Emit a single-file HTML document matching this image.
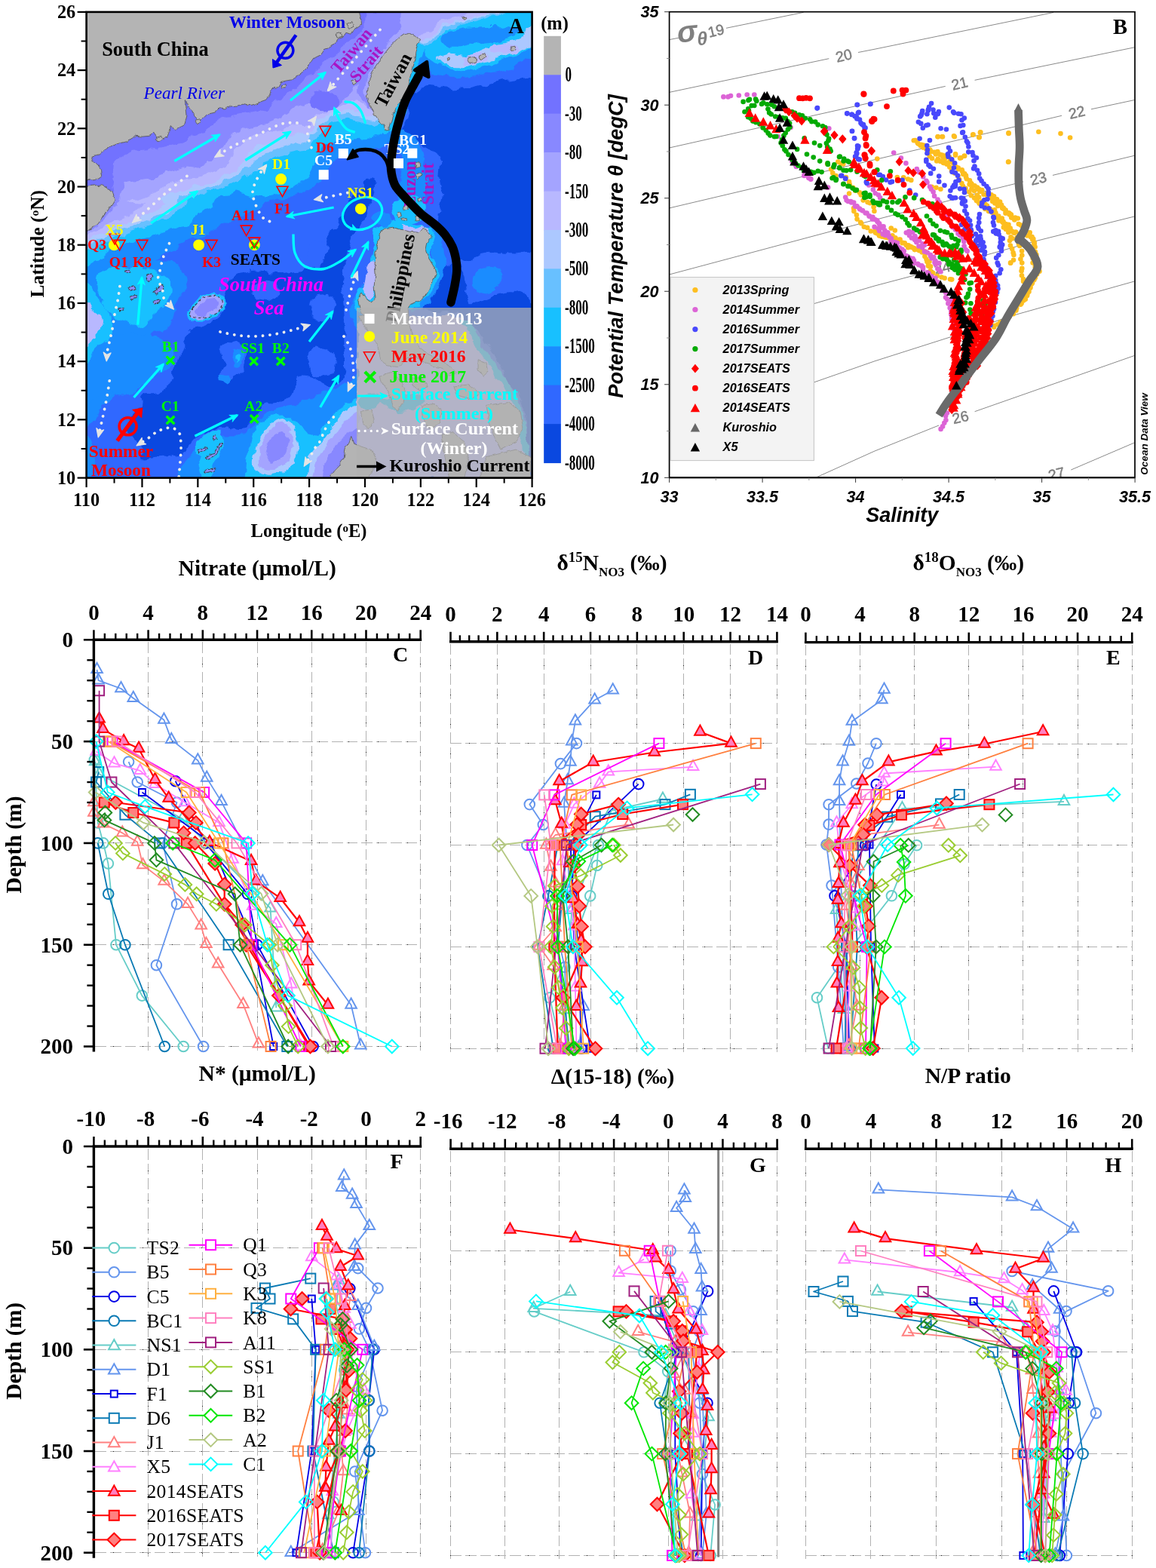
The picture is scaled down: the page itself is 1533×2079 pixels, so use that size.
<!DOCTYPE html>
<html lang="en"><head><meta charset="utf-8"><title>Figure</title>
<style>html,body{margin:0;padding:0;background:#fff}svg{display:block}text{white-space:pre}</style></head>
<body>
<svg width="1533" height="2079" viewBox="0 0 1533 2079">
<rect width="1533" height="2079" fill="#fff"/>
<g id="panelA">
<clipPath id="mapclip"><rect x="114.6" y="15.9" width="591.0" height="617.7"/></clipPath>
<filter id="rough" x="-5%" y="-5%" width="110%" height="110%" color-interpolation-filters="sRGB"><feTurbulence type="fractalNoise" baseFrequency="0.055" numOctaves="3" seed="4" result="n"/><feDisplacementMap in="SourceGraphic" in2="n" scale="13" xChannelSelector="R" yChannelSelector="G"/></filter>
<filter id="rough2" x="-5%" y="-5%" width="110%" height="110%" color-interpolation-filters="sRGB"><feTurbulence type="fractalNoise" baseFrequency="0.11" numOctaves="3" seed="9" result="n"/><feDisplacementMap in="SourceGraphic" in2="n" scale="5" xChannelSelector="R" yChannelSelector="G"/></filter>
<g clip-path="url(#mapclip)">
<g filter="url(#rough)">
<rect x="84.60" y="-14.10" width="651.00" height="677.70" fill="#3068ff" stroke="none" stroke-width="1" />
<path d="M707.5 102.0 L664.4 107.8 L625.3 116.7 L601.8 119.6 L572.4 113.7 L550.9 119.6 L543.1 135.2 L538.2 154.8 L535.2 172.4 L547.0 186.1 L572.4 195.9 L584.2 215.5 L582.2 235.0 L586.1 254.6 L582.2 280.1 L580.3 299.4 L586.1 315.0 L597.9 328.7 L609.6 342.4 L621.4 348.3 L635.0 338.5 L654.6 334.6 L684.0 336.5 L707.5 332.6 L720.0 335.0 L720.0 100.0Z" fill="#0a48e0" stroke="none" stroke-width="1" />
<path d="M576.3 363.9 C578.3 359.6 580.3 357.3 586.1 354.1 C592.0 351.0 600.2 345.5 605.7 348.3 C611.2 351.0 610.8 360.0 613.5 367.8 C616.3 375.7 618.6 378.8 619.4 387.4 C620.2 396.0 628.8 406.2 617.4 410.9 C606.1 415.6 572.0 414.8 562.6 410.9 C553.2 407.0 567.7 398.4 570.5 391.3 C573.2 384.3 575.2 381.2 576.3 375.7 C577.5 370.2 574.4 368.2 576.3 363.9Z" fill="#0a48e0" stroke="none" stroke-width="1" />
<path d="M615.5 408.3 C631.9 404.0 689.1 362.9 707.5 408.3 C725.9 453.7 708.6 589.9 707.5 635.3 C706.3 680.7 703.5 643.1 701.6 635.3 C699.6 627.4 699.2 615.7 697.7 596.1 C696.1 576.6 698.5 555.0 693.8 537.4 C689.1 519.8 680.8 519.8 674.2 508.1 C667.5 496.3 667.1 490.5 660.5 478.7 C653.8 467.0 648.0 459.1 640.9 449.4 C633.9 439.6 630.4 438.0 625.3 429.8 C620.2 421.6 599.0 412.6 615.5 408.3Z" fill="#0a48e0" stroke="none" stroke-width="1" />
<path d="M297.9 387.4 C299.8 380.4 298.3 377.2 305.7 371.8 C313.1 366.3 321.4 362.0 335.0 360.0 C348.7 358.1 359.2 362.8 374.2 362.0 C389.2 361.2 399.7 359.6 410.0 356.1 C420.3 352.6 420.6 349.8 425.7 344.4 C430.7 338.9 433.9 335.0 435.4 328.7 C437.0 322.4 431.5 318.9 433.5 313.1 C435.4 307.2 440.9 305.6 445.2 299.4 C449.5 293.1 451.1 287.6 455.0 281.7 C458.9 275.9 460.9 275.4 464.8 270.0 C468.7 264.6 469.9 260.8 474.6 254.6 C479.3 248.4 484.0 242.5 488.3 239.0 C492.6 235.4 494.3 233.5 496.1 237.0 C497.9 240.5 498.6 248.8 497.1 256.6 C495.5 264.3 491.2 268.9 488.3 275.9 C485.3 282.9 485.5 286.0 482.4 291.5 C479.3 297.0 476.1 297.8 472.6 303.3 C469.1 308.7 467.5 311.9 464.8 318.9 C462.1 326.0 460.9 330.7 458.9 338.5 C457.0 346.3 456.2 350.2 455.0 358.1 C453.8 365.9 452.9 369.8 453.1 377.6 C453.2 385.5 455.0 387.4 456.0 397.2 C457.0 407.0 457.8 416.8 457.9 426.6 C458.1 436.3 456.8 439.6 456.6 446.1 C456.3 452.6 456.5 452.6 456.6 459.1 C456.7 465.7 457.3 470.9 457.0 478.7 C456.7 486.5 458.5 491.6 455.0 498.3 C451.5 504.9 445.2 510.0 439.4 512.0 C433.5 513.9 431.5 510.8 425.7 508.1 C419.8 505.3 416.8 500.2 410.0 498.3 C403.2 496.3 395.8 495.5 391.8 498.3 C387.8 501.0 391.4 506.5 389.8 512.0 C388.3 517.5 388.3 521.4 384.0 525.7 C379.7 530.0 374.2 531.5 368.3 533.5 C362.4 535.5 359.3 533.1 354.6 535.5 C349.9 537.8 349.5 540.2 344.8 545.2 C340.1 550.3 335.8 555.8 331.1 560.9 C326.4 566.0 328.4 569.1 321.4 570.7 C314.3 572.3 305.7 567.9 295.9 568.7 C286.1 569.5 279.9 571.9 272.4 574.6 C265.0 577.3 263.8 578.1 258.7 582.4 C253.6 586.7 251.7 592.2 247.0 596.1 C242.3 600.0 243.1 600.0 235.2 602.0 C227.4 604.0 217.2 604.7 207.8 605.9 C198.5 607.1 192.2 609.8 188.3 607.9 C184.4 605.9 190.2 601.2 188.3 596.1 C186.3 591.0 182.4 587.1 178.5 582.4 C174.6 577.7 169.5 577.7 168.7 572.6 C167.9 567.6 171.8 563.2 174.6 557.0 C177.3 550.7 179.7 545.2 182.4 541.3 C185.1 537.4 186.7 540.9 188.3 537.4 C189.8 533.9 185.5 527.6 190.2 523.7 C194.9 519.8 203.9 521.4 211.8 517.8 C219.6 514.3 225.5 512.8 229.4 506.1 C233.3 499.5 229.8 490.5 231.3 484.6 C232.9 478.7 234.5 482.6 237.2 476.8 C239.9 470.9 241.9 463.1 245.0 455.2 C248.2 447.4 251.7 441.0 252.9 437.6 C254.0 434.2 244.2 440.9 250.9 438.3 C257.6 435.7 277.1 430.9 286.1 424.6 C295.1 418.3 293.6 414.4 295.9 407.0 C298.3 399.5 295.9 394.5 297.9 387.4Z" fill="#0a48e0" stroke="none" stroke-width="1" />
<path d="M292.0 459.1 C294.0 454.1 299.8 453.3 305.7 453.3 C311.6 453.3 317.4 454.1 321.4 459.1 C325.3 464.2 326.0 470.9 325.3 478.7 C324.5 486.5 322.1 493.2 317.4 498.3 C312.7 503.4 306.9 504.9 301.8 504.1 C296.7 503.4 293.2 499.5 292.0 494.4 C290.8 489.3 295.9 485.8 295.9 478.7 C295.9 471.7 290.0 464.2 292.0 459.1Z" fill="#3068ff" stroke="none" stroke-width="1" />
<path d="M335.0 379.6 C337.0 374.5 347.6 371.8 354.6 371.8 C361.7 371.8 368.3 374.9 370.3 379.6 C372.2 384.3 369.5 391.7 364.4 395.2 C359.3 398.8 350.7 400.3 344.8 397.2 C339.0 394.1 333.1 384.7 335.0 379.6Z" fill="#3068ff" stroke="none" stroke-width="1" />
<path d="M410.0 324.8 C411.6 318.1 417.4 318.1 421.7 318.9 C426.0 319.7 430.4 322.8 431.5 328.7 C432.7 334.6 431.1 343.6 427.6 348.3 C424.1 353.0 417.4 356.9 413.9 352.2 C410.4 347.5 408.4 331.4 410.0 324.8Z" fill="#3068ff" stroke="none" stroke-width="1" />
<path d="M413.9 397.2 C418.6 393.3 426.8 390.2 433.5 391.3 C440.1 392.5 446.0 397.6 447.2 403.1 C448.4 408.6 444.4 414.8 439.4 418.7 C434.3 422.6 427.6 424.2 421.7 422.6 C415.9 421.1 411.6 416.0 410.0 410.9 C408.4 405.8 409.2 401.1 413.9 397.2Z" fill="#3068ff" stroke="none" stroke-width="1" />
<path d="M410.0 465.7 C413.9 460.2 422.5 459.4 429.6 461.8 C436.6 464.1 443.3 470.8 445.2 477.4 C447.2 484.1 444.1 490.4 439.4 495.0 C434.7 499.7 427.6 502.1 421.7 500.9 C415.9 499.7 412.3 496.2 410.0 489.2 C407.7 482.1 406.1 471.2 410.0 465.7Z" fill="#3068ff" stroke="none" stroke-width="1" />
<path d="M110.0 391.3 L133.5 371.8 L158.9 360.0 L192.2 352.2 L219.6 334.6 L247.0 322.8 L276.3 309.1 L305.7 295.4 L335.0 281.7 L354.6 270.0 L374.2 262.4 L393.8 258.5 L410.0 250.7 L425.7 240.9 L439.4 221.4 L458.9 205.7 L484.4 197.9 L503.9 195.9 L519.6 186.1 L527.4 178.3 L519.6 162.6 L520.0 100.0 L300.0 60.0 L100.0 200.0 L100.0 390.0Z" fill="#1a8cff" stroke="none" stroke-width="1" />
<path d="M110.0 352.2 C115.9 322.4 127.6 356.1 139.4 356.1 C151.1 356.1 157.0 354.5 168.7 352.2 C180.5 349.8 186.3 345.1 198.1 344.4 C209.8 343.6 218.4 344.8 227.4 348.3 C236.4 351.8 239.2 355.7 243.1 362.0 C247.0 368.2 248.6 372.5 247.0 379.6 C245.4 386.6 238.4 389.4 235.2 397.2 C232.1 405.0 234.5 410.9 231.3 418.7 C228.2 426.6 225.9 430.9 219.6 436.3 C213.3 441.8 205.5 440.3 200.0 446.1 C194.5 452.0 197.3 458.6 192.2 465.7 C187.1 472.7 183.2 477.4 174.6 481.4 C166.0 485.3 158.1 482.5 149.1 485.3 C140.1 488.0 137.4 491.1 129.6 495.0 C121.7 499.0 113.9 533.4 110.0 504.8 C106.1 476.3 104.1 381.9 110.0 352.2Z" fill="#1a8cff" stroke="none" stroke-width="1" />
<path d="M110.0 468.9 C113.9 451.3 121.7 475.6 129.6 478.7 C137.4 481.8 140.5 483.8 149.1 484.6 C157.7 485.4 164.8 479.9 172.6 482.6 C180.5 485.4 187.1 491.2 188.3 498.3 C189.5 505.3 184.4 513.2 178.5 517.8 C172.6 522.5 166.8 517.8 158.9 521.8 C151.1 525.7 146.8 530.4 139.4 537.4 C131.9 544.5 127.6 551.1 121.7 557.0 C115.9 562.9 112.3 584.4 110.0 566.8 C107.7 549.2 106.1 486.5 110.0 468.9Z" fill="#1a8cff" stroke="none" stroke-width="1" />
<path d="M110.0 576.6 C112.3 566.0 118.6 576.6 121.7 582.4 C124.9 588.3 126.0 595.3 125.7 605.9 C125.3 616.5 122.9 629.4 119.8 635.3 C116.7 641.1 112.0 647.0 110.0 635.3 C108.0 623.5 107.7 587.1 110.0 576.6Z" fill="#1a8cff" stroke="none" stroke-width="1" />
<path d="M110.0 436.3 C115.9 419.5 127.6 445.3 139.4 446.1 C151.1 446.9 157.0 440.3 168.7 440.3 C180.5 440.3 187.1 442.6 198.1 446.1 C209.0 449.6 216.8 452.0 223.5 457.9 C230.2 463.7 232.1 468.8 231.3 475.5 C230.5 482.1 225.5 486.0 219.6 491.1 C213.7 496.2 209.0 495.8 202.0 500.9 C194.9 506.0 191.8 511.9 184.4 516.6 C176.9 521.3 173.8 523.2 164.8 524.4 C155.8 525.6 150.3 521.3 139.4 522.4 C128.4 523.6 115.9 547.5 110.0 530.3 C104.1 513.1 104.1 453.2 110.0 436.3Z" fill="#1a8cff" stroke="none" stroke-width="1" />
<path d="M309.6 468.9 C311.2 465.0 315.1 463.8 317.4 465.0 C319.8 466.2 321.4 470.5 321.4 474.8 C321.4 479.1 319.8 484.6 317.4 486.5 C315.1 488.5 311.2 488.1 309.6 484.6 C308.0 481.1 308.0 472.8 309.6 468.9Z" fill="#1a8cff" stroke="none" stroke-width="1" />
<path d="M312.5 472.8 C313.1 471.1 315.5 470.7 316.5 471.9 C317.4 473.0 318.0 476.9 317.4 478.7 C316.8 480.5 314.5 481.8 313.5 480.7 C312.5 479.5 312.0 474.6 312.5 472.8Z" fill="#18c0ff" stroke="none" stroke-width="1" />
<path d="M292.0 498.3 C293.2 496.7 299.4 498.7 301.8 500.2 C304.1 501.8 304.9 504.5 303.7 506.1 C302.6 507.7 298.3 509.6 295.9 508.1 C293.6 506.5 290.8 499.8 292.0 498.3Z" fill="#1a8cff" stroke="none" stroke-width="1" />
<path d="M235.2 635.3 L243.1 615.7 L258.7 596.1 L278.3 582.4 L301.8 576.6 L325.3 576.6 L335.0 564.8 L350.7 549.2 L368.3 541.3 L387.9 537.4 L410.0 529.6 L429.6 521.8 L449.1 513.9 L464.8 502.2 L474.6 494.4 L474.6 635.3Z" fill="#1a8cff" stroke="none" stroke-width="1" />
<path d="M494.1 289.6 C494.1 284.1 506.7 280.6 511.8 281.7 C516.8 282.9 521.2 290.0 519.6 295.4 C518.0 300.9 508.6 302.5 503.9 309.1 C499.2 315.8 498.5 320.9 496.1 328.7 C493.8 336.5 493.8 340.5 492.2 348.3 C490.6 356.1 491.0 361.6 488.3 367.8 C485.5 374.1 482.4 373.7 478.5 379.6 C474.6 385.5 471.1 389.4 468.7 397.2 C466.4 405.0 465.6 408.9 466.8 418.7 C467.9 428.5 473.0 432.8 474.6 446.1 C476.1 459.4 471.1 477.4 474.6 485.3 C478.1 493.1 486.3 500.9 492.2 485.3 C498.1 469.6 500.8 434.4 503.9 407.0 C507.1 379.6 506.3 367.8 507.8 348.3 C509.4 328.7 514.5 320.9 511.8 309.1 C509.0 297.4 494.1 295.0 494.1 289.6Z" fill="#1a8cff" stroke="none" stroke-width="1" />
<path d="M519.6 176.3 C520.4 170.5 529.0 171.3 535.2 172.4 C541.5 173.6 546.2 176.3 550.9 182.2 C555.6 188.1 556.4 193.2 558.7 201.8 C561.1 210.4 561.5 214.7 562.6 225.3 C563.8 235.8 565.4 243.7 564.6 254.6 C563.8 265.6 564.6 275.0 558.7 280.1 C552.9 285.1 541.5 285.1 535.2 280.1 C529.0 275.0 527.4 264.8 527.4 254.6 C527.4 244.4 534.5 239.7 535.2 229.2 C536.0 218.6 534.5 212.3 531.3 201.8 C528.2 191.2 518.8 182.2 519.6 176.3Z" fill="#1a8cff" stroke="none" stroke-width="1" />
<path d="M566.6 299.4 C568.9 295.4 578.3 303.3 582.2 309.1 C586.1 315.0 584.2 320.1 586.1 328.7 C588.1 337.3 592.0 343.6 592.0 352.2 C592.0 360.8 588.9 364.7 586.1 371.8 C583.4 378.8 582.2 381.2 578.3 387.4 C574.4 393.7 572.8 398.4 566.6 403.1 C560.3 407.8 548.6 414.0 547.0 410.9 C545.4 407.8 552.9 398.0 558.7 387.4 C564.6 376.8 574.0 369.8 576.3 358.1 C578.7 346.3 572.4 340.5 570.5 328.7 C568.5 317.0 564.2 303.3 566.6 299.4Z" fill="#1a8cff" stroke="none" stroke-width="1" />
<path d="M629.2 362.0 C633.5 356.9 641.7 354.1 648.7 354.1 C655.8 354.1 662.1 356.9 664.4 362.0 C666.8 367.1 665.2 374.5 660.5 379.6 C655.8 384.7 647.6 387.4 640.9 387.4 C634.3 387.4 629.6 384.7 627.2 379.6 C624.9 374.5 624.9 367.1 629.2 362.0Z" fill="#1a8cff" stroke="none" stroke-width="1" />
<path d="M554.8 74.6 C554.8 82.4 560.3 87.1 566.6 92.2 C572.8 97.3 576.3 98.1 586.1 100.0 C595.9 102.0 603.7 102.4 615.5 102.0 C627.2 101.6 633.1 100.0 644.8 98.1 C656.6 96.1 664.4 95.3 674.2 92.2 C684.0 89.1 687.1 85.9 693.8 82.4 C700.4 78.9 704.7 87.9 707.5 74.6 C710.2 61.3 718.0 27.6 707.5 15.9 C696.9 4.1 675.0 13.1 654.6 15.9 C634.3 18.6 623.3 22.1 605.7 29.6 C588.1 37.0 576.7 44.1 566.6 53.1 C556.4 62.1 554.8 66.8 554.8 74.6Z" fill="#1a8cff" stroke="none" stroke-width="1" />
<path d="M110.0 356.1 L129.6 344.4 L149.1 328.7 L178.5 318.9 L207.8 311.1 L227.4 305.2 L247.0 299.4 L266.6 281.7 L282.2 270.0 L295.9 258.5 L315.5 254.6 L335.0 260.5 L354.6 262.4 L374.2 254.6 L393.8 244.8 L410.0 235.0 L421.7 205.7 L429.6 190.0 L449.1 186.1 L472.6 184.2 L492.2 182.2 L507.8 176.3 L515.7 166.6 L511.8 154.8 L500.0 100.0 L300.0 60.0 L100.0 200.0 L100.0 350.0Z" fill="#18c0ff" stroke="none" stroke-width="1" />
<path d="M133.5 362.0 C139.4 357.3 148.0 357.3 158.9 356.1 C169.9 354.9 177.7 354.5 188.3 356.1 C198.8 357.7 203.9 359.2 211.8 363.9 C219.6 368.6 225.9 371.8 227.4 379.6 C229.0 387.4 224.7 395.2 219.6 403.1 C214.5 410.9 208.2 412.9 202.0 418.7 C195.7 424.6 194.9 430.1 188.3 432.4 C181.6 434.8 176.5 433.2 168.7 430.5 C160.9 427.7 155.4 425.4 149.1 418.7 C142.9 412.1 141.3 405.0 137.4 397.2 C133.5 389.4 130.4 386.6 129.6 379.6 C128.8 372.5 127.6 366.7 133.5 362.0Z" fill="#18c0ff" stroke="none" stroke-width="1" />
<path d="M110.0 379.6 C113.1 362.0 119.4 381.9 125.7 387.4 C131.9 392.9 137.4 399.2 141.3 407.0 C145.2 414.8 146.8 418.7 145.2 426.6 C143.7 434.4 138.2 438.3 133.5 446.1 C128.8 454.0 126.4 459.8 121.7 465.7 C117.0 471.6 112.3 492.7 110.0 475.5 C107.7 458.3 106.9 397.2 110.0 379.6Z" fill="#18c0ff" stroke="none" stroke-width="1" />
<path d="M110.0 420.0 C114.7 409.0 125.7 417.7 133.5 420.0 C141.3 422.3 146.8 425.9 149.1 431.7 C151.5 437.6 149.1 443.9 145.2 449.4 C141.3 454.8 135.0 454.8 129.6 459.1 C124.1 463.4 121.7 467.7 117.8 470.9 C113.9 474.0 111.6 485.0 110.0 474.8 C108.4 464.6 105.3 431.0 110.0 420.0Z" fill="#18c0ff" stroke="none" stroke-width="1" />
<path d="M558.7 58.9 C557.9 64.0 561.1 68.7 566.6 74.6 C572.0 80.5 577.5 84.4 586.1 88.3 C594.7 92.2 599.8 93.8 609.6 94.1 C619.4 94.5 624.9 92.6 635.0 90.2 C645.2 87.9 650.7 85.9 660.5 82.4 C670.3 78.9 674.6 76.9 684.0 72.6 C693.4 68.3 702.8 72.2 707.5 60.9 C712.2 49.5 717.2 24.9 707.5 15.9 C697.7 6.9 675.0 13.9 658.5 15.9 C642.1 17.8 639.0 21.0 625.3 25.7 C611.6 30.4 601.0 34.7 590.0 39.4 C579.1 44.1 576.7 45.2 570.5 49.1 C564.2 53.1 559.5 53.8 558.7 58.9Z" fill="#18c0ff" stroke="none" stroke-width="1" />
<path d="M325.3 635.3 L327.2 611.8 L333.1 588.3 L339.0 564.8 L356.6 553.1 L380.1 551.1 L395.7 560.9 L410.0 576.6 L421.7 576.6 L433.5 560.9 L445.2 545.2 L458.9 535.5 L474.6 527.6 L474.6 635.3Z" fill="#18c0ff" stroke="none" stroke-width="1" />
<path d="M258.7 592.2 C259.9 585.9 266.2 580.5 272.4 576.6 C278.7 572.6 285.0 571.1 290.0 572.6 C295.1 574.2 297.5 578.9 297.9 584.4 C298.3 589.9 295.1 593.8 292.0 600.0 C288.9 606.3 283.4 610.2 282.2 615.7 C281.0 621.2 287.7 623.9 286.1 627.4 C284.6 631.0 279.1 633.7 274.4 633.3 C269.7 632.9 264.2 630.6 262.6 625.5 C261.1 620.4 267.3 614.5 266.6 607.9 C265.8 601.2 257.6 598.5 258.7 592.2Z" fill="#18c0ff" stroke="none" stroke-width="1" />
<path d="M498.1 303.3 C501.2 299.0 505.9 299.4 511.8 297.4 C517.6 295.4 520.4 293.1 527.4 293.5 C534.5 293.9 539.5 298.2 547.0 299.4 C554.4 300.5 559.1 297.4 564.6 299.4 C570.1 301.3 572.0 304.8 574.4 309.1 C576.7 313.4 577.1 315.8 576.3 320.9 C575.6 326.0 570.5 329.1 570.5 334.6 C570.5 340.1 574.0 342.8 576.3 348.3 C578.7 353.8 581.8 356.5 582.2 362.0 C582.6 367.5 580.6 370.2 578.3 375.7 C575.9 381.2 574.4 384.3 570.5 389.4 C566.6 394.5 563.4 397.6 558.7 401.1 C554.0 404.6 560.3 405.8 547.0 407.0 C533.7 408.2 506.7 406.2 492.2 407.0 C477.7 407.8 478.9 412.9 474.6 410.9 C470.3 408.9 470.3 402.7 470.7 397.2 C471.1 391.7 473.0 387.0 476.5 383.5 C480.1 380.0 485.5 384.7 488.3 379.6 C491.0 374.5 489.5 367.1 490.2 358.1 C491.0 349.1 491.0 342.4 492.2 334.6 C493.4 326.8 494.9 325.2 496.1 318.9 C497.3 312.7 494.9 307.6 498.1 303.3Z" fill="#18c0ff" stroke="none" stroke-width="1" />
<path d="M531.3 270.3 C533.7 266.8 537.6 264.0 543.1 262.4 C548.6 260.9 554.8 258.9 558.7 262.4 C562.6 266.0 568.1 276.5 562.6 280.1 C557.2 283.6 537.6 282.0 531.3 280.1 C525.1 278.1 529.0 273.8 531.3 270.3Z" fill="#18c0ff" stroke="none" stroke-width="1" />
<path d="M519.6 270.0 C521.2 263.7 527.4 264.1 535.2 264.1 C543.1 264.1 553.2 265.7 558.7 270.0 C564.2 274.3 565.0 280.2 562.6 285.7 C560.3 291.1 554.0 295.4 547.0 297.4 C539.9 299.4 532.9 300.9 527.4 295.4 C521.9 290.0 518.0 276.3 519.6 270.0Z" fill="#18c0ff" stroke="none" stroke-width="1" />
<path d="M556.8 55.0 C559.5 55.0 561.1 62.1 560.7 68.7 C560.3 75.4 556.8 80.5 554.8 88.3 C552.9 96.1 552.9 100.0 550.9 107.8 C548.9 115.7 547.8 119.6 545.0 127.4 C542.3 135.2 540.3 139.9 537.2 147.0 C534.1 154.0 532.5 156.8 529.4 162.6 C526.2 168.5 525.1 173.6 521.5 176.3 C518.0 179.1 514.5 179.9 511.8 176.3 C509.0 172.8 500.8 180.3 507.8 158.7 C514.9 137.2 537.2 89.5 547.0 68.7 C556.8 48.0 554.0 55.0 556.8 55.0Z" fill="#18c0ff" stroke="none" stroke-width="1" />
<path d="M586.1 49.1 C589.6 45.2 595.9 42.1 605.7 39.4 C615.5 36.6 623.3 36.2 635.0 35.4 C646.8 34.7 653.8 34.7 664.4 35.4 C675.0 36.2 684.8 36.6 687.9 39.4 C691.0 42.1 686.7 46.0 680.1 49.1 C673.4 52.3 665.6 53.1 654.6 55.0 C643.7 57.0 635.8 57.4 625.3 58.9 C614.7 60.5 609.2 62.8 601.8 62.8 C594.3 62.8 591.2 61.7 588.1 58.9 C585.0 56.2 582.6 53.1 586.1 49.1Z" fill="#1a8cff" stroke="none" stroke-width="1" />
<path d="M110.0 334.6 L129.6 326.8 L149.1 315.0 L178.5 305.2 L207.8 295.4 L231.3 283.7 L247.0 270.0 L250.9 264.4 L270.5 256.6 L286.1 250.7 L305.7 244.8 L325.3 235.0 L340.9 225.3 L360.5 211.6 L384.0 203.7 L410.0 197.9 L425.7 174.4 L439.4 162.6 L458.9 158.7 L478.5 162.6 L494.1 166.6 L503.9 162.6 L502.0 154.8 L511.8 107.8 L547.0 58.9 L562.6 60.9 L576.3 53.1 L595.9 39.4 L625.3 29.6 L660.5 19.8 L670.3 15.9 L640.0 0.0 L100.0 0.0 L100.0 330.0Z" fill="#68c0ff" stroke="none" stroke-width="1" />
<path d="M110.0 326.8 L129.6 318.9 L149.1 309.1 L178.5 299.4 L203.9 289.6 L221.5 279.8 L235.2 270.0 L237.2 262.4 L262.6 252.7 L282.2 246.8 L301.8 239.0 L321.4 227.2 L335.0 215.5 L354.6 201.8 L374.2 194.0 L393.8 188.1 L410.0 186.1 L421.7 166.6 L439.4 154.8 L458.9 150.9 L476.5 154.8 L492.2 160.7 L501.0 156.8 L502.0 154.8 L511.8 107.8 L547.0 58.9 L560.7 57.9 L572.4 50.1 L592.0 36.4 L621.4 26.6 L656.6 17.8 L662.4 15.9 L640.0 0.0 L100.0 0.0 L100.0 330.0Z" fill="#acc8ff" stroke="none" stroke-width="1" />
<path d="M110.0 318.9 L129.6 311.1 L149.1 303.3 L174.6 293.5 L198.1 283.7 L211.8 275.9 L219.6 270.0 L211.8 264.4 L231.3 256.6 L256.8 246.8 L276.3 242.9 L295.9 235.0 L315.5 223.3 L325.3 207.7 L344.8 194.0 L364.4 186.1 L384.0 180.3 L410.0 176.3 L419.8 160.7 L439.4 148.9 L458.9 145.0 L474.6 147.0 L488.3 154.8 L498.1 152.9 L502.0 154.8 L511.8 107.8 L547.0 58.9 L558.7 56.0 L568.5 48.2 L588.1 34.5 L617.4 24.7 L652.7 16.8 L654.6 15.9 L640.0 0.0 L100.0 0.0 L100.0 330.0Z" fill="#b8b8ff" stroke="none" stroke-width="1" />
<path d="M110.0 312.1 L125.7 306.2 L145.2 297.4 L168.7 287.6 L184.4 277.8 L192.2 270.0 L168.7 268.3 L188.3 260.5 L203.9 256.6 L219.6 246.8 L243.1 239.0 L266.6 235.0 L286.1 227.2 L305.7 217.4 L307.7 207.7 L311.6 197.9 L325.3 184.2 L344.8 176.3 L364.4 172.4 L384.0 168.5 L410.0 164.6 L419.8 154.8 L439.4 145.0 L458.9 137.2 L472.6 135.2 L484.4 143.1 L494.1 147.0 L502.0 154.8 L511.8 107.8 L547.0 58.9 L554.8 52.1 L562.6 43.3 L580.3 31.5 L605.7 21.7 L625.3 15.9 L640.0 0.0 L100.0 0.0 L100.0 330.0Z" fill="#a4a4ff" stroke="none" stroke-width="1" />
<path d="M110.0 307.2 L121.7 302.3 L135.4 291.5 L149.1 277.8 L155.0 270.0 L155.0 266.4 L160.9 254.6 L164.8 242.9 L184.4 240.9 L202.0 239.0 L219.6 227.2 L247.0 219.4 L264.6 221.4 L282.2 211.6 L297.9 192.0 L307.7 180.3 L325.3 170.5 L354.6 164.6 L374.2 156.8 L393.8 141.1 L410.0 135.2 L421.7 131.3 L433.5 145.0 L453.1 135.2 L468.7 119.6 L480.5 103.9 L492.2 84.4 L503.9 68.7 L519.6 53.1 L531.3 39.4 L535.2 15.9 L640.0 0.0 L100.0 0.0 L100.0 330.0Z" fill="#8888ff" stroke="none" stroke-width="1" />
<path d="M110.0 303.3 L117.8 301.3 L152.1 264.4 L150.1 252.7 L148.2 237.0 L150.1 217.4 L159.9 207.7 L175.6 199.8 L199.0 197.9 L220.6 194.0 L238.2 188.1 L251.9 180.3 L267.5 174.4 L279.3 168.5 L294.9 156.8 L316.5 151.9 L336.0 148.9 L355.6 145.0 L367.3 133.3 L385.0 121.5 L400.6 109.8 L410.0 100.0 L421.7 90.2 L435.4 78.5 L449.1 68.7 L462.8 57.0 L476.5 47.2 L484.4 35.4 L484.4 15.9 L640.0 0.0 L100.0 0.0 L100.0 330.0Z" fill="#7272ff" stroke="none" stroke-width="1" />
<path d="M413.9 127.4 C416.3 123.1 422.9 121.5 429.6 121.5 C436.2 121.5 443.3 123.9 447.2 127.4 C451.1 130.9 451.9 135.2 449.1 139.2 C446.4 143.1 439.7 146.2 433.5 147.0 C427.2 147.8 421.7 147.0 417.8 143.1 C413.9 139.2 411.6 131.7 413.9 127.4Z" fill="#7272ff" stroke="none" stroke-width="1" />
<path d="M484.4 119.6 C484.8 110.6 487.5 105.1 490.2 98.1 C493.0 91.0 497.7 87.9 498.1 84.4 C498.5 80.8 495.3 78.9 492.2 80.5 C489.1 82.0 485.5 85.9 482.4 92.2 C479.3 98.5 477.3 103.9 476.5 111.8 C475.8 119.6 476.1 125.1 478.5 131.3 C480.8 137.6 487.1 145.4 488.3 143.1 C489.5 140.7 484.0 128.6 484.4 119.6Z" fill="#8888ff" stroke="none" stroke-width="1" />
<path d="M114.9 233.1 L135.4 231.1 L145.2 244.8 L151.1 258.5 L149.1 264.4 L114.9 264.4Z" fill="#7272ff" stroke="none" stroke-width="1" />
<path d="M245.0 416.8 C245.0 412.9 250.5 409.7 254.8 405.0 C259.1 400.3 261.1 396.4 266.6 393.3 C272.0 390.2 276.3 389.4 282.2 389.4 C288.1 389.4 292.8 390.2 295.9 393.3 C299.0 396.4 299.0 400.3 297.9 405.0 C296.7 409.7 294.7 412.9 290.0 416.8 C285.3 420.7 281.4 423.0 274.4 424.6 C267.3 426.2 260.7 426.2 254.8 424.6 C248.9 423.0 245.0 420.7 245.0 416.8Z" fill="#18c0ff" stroke="none" stroke-width="1" />
<path d="M249.9 415.8 C250.3 412.5 255.0 409.1 258.7 405.0 C262.4 400.9 263.8 397.8 268.5 395.2 C273.2 392.7 277.3 392.3 282.2 392.3 C287.1 392.3 290.4 392.7 293.0 395.2 C295.5 397.8 296.1 401.1 294.9 405.0 C293.8 408.9 291.6 411.5 287.1 414.8 C282.6 418.1 278.5 420.3 272.4 421.7 C266.4 423.0 261.3 422.8 256.8 421.7 C252.3 420.5 249.5 419.1 249.9 415.8Z" fill="#a4a4ff" stroke="none" stroke-width="1" />
<path d="M258.7 412.9 C257.9 409.7 263.0 406.2 266.6 403.1 C270.1 399.9 272.4 398.4 276.3 397.2 C280.3 396.0 283.4 395.6 286.1 397.2 C288.9 398.8 290.8 401.9 290.0 405.0 C289.3 408.2 286.1 410.1 282.2 412.9 C278.3 415.6 275.2 418.7 270.5 418.7 C265.8 418.7 259.5 416.0 258.7 412.9Z" fill="#8888ff" stroke="none" stroke-width="1" />
<path d="M337.0 615.7 C336.2 608.6 338.2 600.8 340.9 592.2 C343.7 583.6 346.0 579.3 350.7 572.6 C355.4 566.0 358.5 562.1 364.4 558.9 C370.3 555.8 375.0 555.0 380.1 557.0 C385.1 558.9 387.1 562.5 389.8 568.7 C392.6 575.0 393.4 580.5 393.8 588.3 C394.1 596.1 394.5 600.8 391.8 607.9 C389.1 614.9 386.3 619.2 380.1 623.5 C373.8 627.8 367.5 628.6 360.5 629.4 C353.4 630.2 349.5 630.2 344.8 627.4 C340.1 624.7 337.8 622.7 337.0 615.7Z" fill="#acc8ff" stroke="none" stroke-width="1" />
<path d="M342.9 611.8 C342.9 605.9 344.4 599.3 346.8 592.2 C349.1 585.2 350.7 582.4 354.6 576.6 C358.5 570.7 361.7 566.0 366.4 562.9 C371.1 559.7 374.2 558.9 378.1 560.9 C382.0 562.9 383.8 566.8 385.9 572.6 C388.1 578.5 389.3 583.6 388.9 590.3 C388.5 596.9 387.3 600.0 384.0 605.9 C380.6 611.8 377.7 616.1 372.2 619.6 C366.8 623.1 361.7 623.1 356.6 623.5 C351.5 623.9 349.5 623.9 346.8 621.6 C344.1 619.2 342.9 617.7 342.9 611.8Z" fill="#a4a4ff" stroke="none" stroke-width="1" />
<path d="M352.7 596.1 C354.2 590.6 357.0 585.6 360.5 580.5 C364.0 575.4 366.4 571.5 370.3 570.7 C374.2 569.9 377.7 572.3 380.1 576.6 C382.4 580.9 383.6 586.3 382.0 592.2 C380.5 598.1 376.5 601.6 372.2 605.9 C367.9 610.2 364.4 613.3 360.5 613.7 C356.6 614.1 354.2 611.4 352.7 607.9 C351.1 604.3 351.1 601.6 352.7 596.1Z" fill="#8888ff" stroke="none" stroke-width="1" />
<path d="M406.1 635.3 L410.0 607.9 L423.7 588.3 L439.4 564.8 L455.0 545.2 L474.6 533.5 L474.6 635.3Z" fill="#acc8ff" stroke="none" stroke-width="1" />
<path d="M413.9 635.3 L417.8 613.7 L429.6 594.2 L443.3 574.6 L458.9 557.0 L474.6 545.2 L474.6 635.3Z" fill="#a4a4ff" stroke="none" stroke-width="1" />
<path d="M425.7 635.3 L431.5 611.8 L443.3 592.2 L455.0 580.5 L474.6 568.7 L474.6 635.3Z" fill="#8888ff" stroke="none" stroke-width="1" />
<path d="M474.6 420.0 L615.5 420.0 L635.0 459.1 L664.4 498.3 L687.9 537.4 L697.7 596.1 L701.6 635.3 L474.6 635.3Z" fill="#b8b8ff" stroke="none" stroke-width="1" />
<path d="M621.4 423.9 L640.9 459.1 L668.3 498.3 L691.8 537.4 L699.6 596.1 L702.6 635.3 L697.7 635.3 L691.8 596.1 L684.0 541.3 L660.5 502.2 L633.1 463.1 L613.5 423.9Z" fill="#18c0ff" stroke="none" stroke-width="1" />
<path d="M507.8 529.6 C513.3 524.9 536.0 521.8 547.0 521.8 C557.9 521.8 561.9 525.7 562.6 529.6 C563.4 533.5 559.5 538.2 550.9 541.3 C542.3 544.5 528.2 547.6 519.6 545.2 C511.0 542.9 502.4 534.3 507.8 529.6Z" fill="#18c0ff" stroke="none" stroke-width="1" />
<path d="M480.5 525.7 C484.8 522.5 494.5 521.0 500.0 521.8 C505.5 522.5 508.6 525.7 507.8 529.6 C507.1 533.5 502.0 539.8 496.1 541.3 C490.2 542.9 481.6 540.5 478.5 537.4 C475.4 534.3 476.1 528.8 480.5 525.7Z" fill="#18c0ff" stroke="none" stroke-width="1" />
<path d="M496.1 344.4 C498.5 345.1 499.6 349.1 500.0 356.1 C500.4 363.2 498.8 371.8 498.1 379.6 C497.3 387.4 498.1 391.7 496.1 395.2 C494.1 398.8 491.0 398.8 488.3 397.2 C485.5 395.6 483.2 393.3 482.4 387.4 C481.6 381.5 483.2 374.9 484.4 367.8 C485.5 360.8 485.9 356.9 488.3 352.2 C490.6 347.5 493.8 343.6 496.1 344.4Z" fill="#b8b8ff" stroke="none" stroke-width="1" />
<path d="M531.3 299.4 C532.9 298.2 540.7 303.3 547.0 303.3 C553.2 303.3 558.7 298.2 562.6 299.4 C566.6 300.5 568.1 306.4 566.6 309.1 C565.0 311.9 560.3 313.1 554.8 313.1 C549.3 313.1 543.9 311.9 539.2 309.1 C534.5 306.4 529.8 300.5 531.3 299.4Z" fill="#b8b8ff" stroke="none" stroke-width="1" />
<path d="M110.0 407.0 C112.3 398.4 117.0 407.8 121.7 410.9 C126.4 414.0 131.9 416.4 133.5 422.6 C135.0 428.9 132.7 436.3 129.6 442.2 C126.4 448.1 121.7 449.6 117.8 452.0 C113.9 454.3 111.6 463.0 110.0 454.0 C108.4 445.0 107.7 415.6 110.0 407.0Z" fill="#b8b8ff" stroke="none" stroke-width="1" />
<path d="M110.0 425.9 C112.0 419.6 117.4 426.7 119.8 431.7 C122.1 436.8 123.7 445.0 121.7 451.3 C119.8 457.6 112.3 468.1 110.0 463.1 C107.7 458.0 108.0 432.1 110.0 425.9Z" fill="#b8b8ff" stroke="none" stroke-width="1" />
<path d="M582.2 74.6 C584.6 71.8 590.8 70.7 597.9 70.7 C604.9 70.7 610.0 75.4 617.4 74.6 C624.9 73.8 627.6 69.9 635.0 66.8 C642.5 63.6 646.8 61.3 654.6 58.9 C662.4 56.6 666.4 57.0 674.2 55.0 C682.0 53.1 687.1 53.4 693.8 49.1 C700.4 44.8 704.7 31.1 707.5 33.5 C710.2 35.8 712.2 53.8 707.5 60.9 C702.8 67.9 693.4 65.6 684.0 68.7 C674.6 71.8 670.3 73.4 660.5 76.5 C650.7 79.7 645.2 82.0 635.0 84.4 C624.9 86.7 619.4 88.3 609.6 88.3 C599.8 88.3 591.6 87.1 586.1 84.4 C580.6 81.6 579.9 77.3 582.2 74.6Z" fill="#acc8ff" stroke="none" stroke-width="1" />
<path d="M615.5 76.5 C617.8 73.8 623.3 72.2 629.2 70.7 C635.0 69.1 641.3 67.1 644.8 68.7 C648.4 70.3 649.5 75.4 646.8 78.5 C644.1 81.6 637.0 83.2 631.1 84.4 C625.3 85.5 620.6 85.9 617.4 84.4 C614.3 82.8 613.1 79.3 615.5 76.5Z" fill="#b8b8ff" stroke="none" stroke-width="1" />
<path d="M650.7 60.9 C653.1 58.5 657.7 57.4 664.4 57.0 C671.1 56.6 679.3 57.0 684.0 58.9 C688.7 60.9 691.0 64.4 687.9 66.8 C684.8 69.1 675.4 70.3 668.3 70.7 C661.3 71.1 656.2 70.7 652.7 68.7 C649.1 66.8 648.4 63.2 650.7 60.9Z" fill="#b8b8ff" stroke="none" stroke-width="1" />
</g>
<g filter="url(#rough2)">
<path d="M474.6 14.9 L478.5 23.7 L479.5 31.5 L474.6 35.4 L468.7 39.4 L464.8 45.2 L458.9 43.3 L455.0 49.1 L449.1 51.1 L445.2 57.0 L439.4 58.9 L435.4 64.8 L429.6 66.8 L425.7 72.6 L417.8 76.5 L413.9 82.4 L410.0 86.3 L403.5 92.2 L399.6 97.1 L393.8 100.0 L387.9 105.9 L380.1 106.9 L372.2 108.8 L368.3 115.7 L360.5 117.6 L357.6 125.5 L352.7 132.3 L344.8 135.2 L337.0 138.2 L329.2 140.1 L321.4 138.2 L313.5 140.1 L305.7 141.1 L297.9 145.0 L290.0 143.1 L284.2 148.0 L276.3 149.9 L270.5 155.8 L264.6 160.7 L258.7 154.8 L254.8 147.0 L249.9 143.1 L247.0 135.2 L245.0 132.3 L247.0 143.1 L248.0 152.9 L245.0 164.6 L237.2 168.5 L231.3 172.4 L227.4 166.6 L224.5 174.4 L221.5 182.2 L213.7 184.2 L207.8 182.2 L203.9 176.3 L198.1 180.3 L188.3 181.2 L180.5 180.3 L176.5 184.2 L166.8 188.1 L155.0 191.0 L145.2 194.9 L137.4 199.8 L131.5 204.7 L123.7 206.7 L121.7 212.5 L129.6 217.4 L134.5 225.3 L135.4 233.1 L129.6 237.0 L121.7 238.0 L110.0 237.0 L110.0 10.0Z" fill="#b4b4b4" stroke="#5a5a5a" stroke-width="0.9" stroke-linejoin="round"/>
<path d="M110.0 247.8 L125.7 245.8 L135.4 244.8 L143.3 249.7 L149.1 256.6 L152.1 264.4 L147.2 272.2 L142.3 280.1 L139.4 281.7 L134.5 289.6 L129.6 296.4 L121.7 301.3 L114.9 306.2 L110.0 307.2Z" fill="#b4b4b4" stroke="#5a5a5a" stroke-width="0.9" stroke-linejoin="round"/>
<path d="M541.1 43.3 L550.9 48.2 L557.2 54.0 L553.8 58.9 L550.9 68.7 L549.9 78.5 L547.0 88.3 L545.0 98.1 L541.1 111.8 L537.2 123.5 L531.3 135.2 L525.5 143.1 L521.5 150.9 L518.6 160.7 L516.7 172.4 L511.8 173.4 L508.8 166.6 L502.0 158.7 L496.1 150.9 L491.2 143.1 L486.3 129.4 L488.3 115.7 L490.2 103.9 L496.1 92.2 L503.9 80.5 L511.8 68.7 L519.6 58.9 L527.4 51.1 L535.2 45.2Z" fill="#b4b4b4" stroke="#5a5a5a" stroke-width="0.9" stroke-linejoin="round"/>
<path d="M503.9 306.2 L511.8 302.3 L521.5 301.3 L531.3 304.2 L543.1 307.2 L554.8 308.2 L562.6 303.3 L568.5 308.2 L572.4 315.0 L566.6 322.8 L564.6 332.6 L568.5 342.4 L574.4 352.2 L578.3 362.0 L574.4 371.8 L570.5 379.6 L566.6 387.4 L562.6 393.3 L554.8 399.2 L545.0 403.1 L541.1 408.3 L543.1 431.7 L547.0 445.4 L554.8 459.1 L566.6 468.9 L582.2 476.8 L595.9 484.6 L605.7 494.4 L595.9 498.3 L586.1 488.5 L572.4 484.6 L558.7 478.7 L547.0 470.9 L537.2 478.7 L527.4 486.5 L511.8 484.6 L503.9 474.8 L502.0 459.1 L492.2 445.4 L482.4 431.7 L476.5 420.0 L482.4 418.7 L476.5 407.0 L474.6 397.2 L478.5 387.4 L484.4 395.2 L492.2 401.1 L498.1 395.2 L496.1 379.6 L498.1 362.0 L497.1 348.3 L498.1 334.6 L502.0 318.9Z" fill="#b4b4b4" stroke="#5a5a5a" stroke-width="0.9" stroke-linejoin="round"/>
<path d="M503.9 498.3 L519.6 494.4 L531.3 504.1 L537.2 517.8 L535.2 533.5 L527.4 545.2 L521.5 537.4 L515.7 521.8 L507.8 510.0Z" fill="#b4b4b4" stroke="#5a5a5a" stroke-width="0.9" stroke-linejoin="round"/>
<path d="M633.1 476.8 L644.8 480.7 L647.8 492.4 L641.9 498.3 L633.1 490.5Z" fill="#b4b4b4" stroke="#5a5a5a" stroke-width="0.9" stroke-linejoin="round"/>
<path d="M558.7 537.4 L576.3 535.5 L586.1 547.2 L582.2 560.9 L570.5 568.7 L560.7 557.0Z" fill="#b4b4b4" stroke="#5a5a5a" stroke-width="0.9" stroke-linejoin="round"/>
<path d="M644.8 537.4 L674.2 533.5 L689.8 545.2 L693.8 566.8 L684.0 586.3 L664.4 596.1 L654.6 576.6 L648.7 557.0Z" fill="#b4b4b4" stroke="#5a5a5a" stroke-width="0.9" stroke-linejoin="round"/>
<path d="M586.1 576.6 L601.8 572.6 L615.5 586.3 L621.4 605.9 L615.5 635.3 L595.9 635.3 L590.0 605.9Z" fill="#b4b4b4" stroke="#5a5a5a" stroke-width="0.9" stroke-linejoin="round"/>
<path d="M644.8 605.9 L684.0 596.1 L703.5 605.9 L703.5 635.3 L635.0 635.3Z" fill="#b4b4b4" stroke="#5a5a5a" stroke-width="0.9" stroke-linejoin="round"/>
<path d="M478.5 545.2 L492.2 543.3 L496.1 557.0 L488.3 568.7 L480.5 560.9Z" fill="#b4b4b4" stroke="#5a5a5a" stroke-width="0.9" stroke-linejoin="round"/>
<path d="M601.8 512.0 L621.4 510.0 L637.0 521.8 L625.3 529.6 L605.7 523.7Z" fill="#b4b4b4" stroke="#5a5a5a" stroke-width="0.9" stroke-linejoin="round"/>
<path d="M547.0 502.2 L558.7 500.2 L566.6 512.0 L556.8 517.8 L547.0 512.0Z" fill="#b4b4b4" stroke="#5a5a5a" stroke-width="0.9" stroke-linejoin="round"/>
<path d="M437.4 635.3 L443.3 623.5 L449.1 617.7 L455.0 607.9 L457.0 596.1 L462.8 586.3 L465.8 579.5 L468.7 588.3 L474.6 590.3 L492.2 596.1 L500.0 611.8 L488.3 635.3Z" fill="#b4b4b4" stroke="#5a5a5a" stroke-width="0.9" stroke-linejoin="round"/>
<path d="M465.8 106.9 L470.7 104.9 L472.6 109.8 L468.7 112.7Z" fill="#b4b4b4" stroke="#5a5a5a" stroke-width="0.9" stroke-linejoin="round"/>
<path d="M620.4 78.5 L627.2 75.6 L633.1 77.5 L631.1 83.4 L623.3 84.4Z" fill="#b4b4b4" stroke="#5a5a5a" stroke-width="0.9" stroke-linejoin="round"/>
<path d="M635.0 74.6 L641.9 70.7 L643.9 75.6 L638.0 79.5Z" fill="#b4b4b4" stroke="#5a5a5a" stroke-width="0.9" stroke-linejoin="round"/>
<path d="M677.1 61.9 L683.0 61.3 L684.0 65.8 L679.1 67.7Z" fill="#b4b4b4" stroke="#5a5a5a" stroke-width="0.9" stroke-linejoin="round"/>
<path d="M592.0 75.6 L595.9 75.0 L596.3 77.5 L593.0 78.1Z" fill="#b4b4b4" stroke="#5a5a5a" stroke-width="0.9" stroke-linejoin="round"/>
<path d="M613.5 23.7 L617.4 23.3 L617.8 25.7 L613.9 26.0Z" fill="#b4b4b4" stroke="#5a5a5a" stroke-width="0.9" stroke-linejoin="round"/>
<path d="M550.9 216.5 L555.8 214.5 L556.8 220.4 L551.9 221.7Z" fill="#b4b4b4" stroke="#5a5a5a" stroke-width="0.9" stroke-linejoin="round"/>
<path d="M551.9 232.1 L558.7 229.2 L559.7 234.1 L552.9 237.0Z" fill="#b4b4b4" stroke="#5a5a5a" stroke-width="0.9" stroke-linejoin="round"/>
<path d="M553.8 263.4 L558.7 262.4 L559.7 267.3 L554.8 268.3Z" fill="#b4b4b4" stroke="#5a5a5a" stroke-width="0.9" stroke-linejoin="round"/>
<path d="M535.2 273.2 L541.1 272.2 L542.1 277.1 L536.2 278.1Z" fill="#b4b4b4" stroke="#5a5a5a" stroke-width="0.9" stroke-linejoin="round"/>
<path d="M527.4 281.7 L532.3 280.8 L533.3 286.6 L528.4 287.6Z" fill="#b4b4b4" stroke="#5a5a5a" stroke-width="0.9" stroke-linejoin="round"/>
<path d="M532.3 289.6 L539.2 288.6 L539.5 291.5 L532.9 292.5Z" fill="#b4b4b4" stroke="#5a5a5a" stroke-width="0.9" stroke-linejoin="round"/>
<path d="M550.9 287.6 L555.8 286.6 L556.4 292.5 L551.9 293.1Z" fill="#b4b4b4" stroke="#5a5a5a" stroke-width="0.9" stroke-linejoin="round"/>
<path d="M207.8 182.2 L213.7 180.3 L216.7 184.2 L212.7 187.1 L207.8 186.1Z" fill="#b4b4b4" stroke="#5a5a5a" stroke-width="0.9" stroke-linejoin="round"/>
<path d="M258.7 160.7 L264.6 157.7 L266.6 161.7 L261.7 164.6Z" fill="#b4b4b4" stroke="#5a5a5a" stroke-width="0.9" stroke-linejoin="round"/>
<path d="M372.2 113.7 L378.1 112.7 L378.5 116.7 L373.2 117.2Z" fill="#b4b4b4" stroke="#5a5a5a" stroke-width="0.9" stroke-linejoin="round"/>
<path d="M458.9 31.5 L466.8 28.6 L468.7 35.4 L462.8 38.4Z" fill="#b4b4b4" stroke="#5a5a5a" stroke-width="0.9" stroke-linejoin="round"/>
<path d="M445.2 45.2 L452.1 43.3 L454.0 48.2 L447.2 50.1Z" fill="#b4b4b4" stroke="#5a5a5a" stroke-width="0.9" stroke-linejoin="round"/>
<path d="M194.1 363.9 L201.0 363.0 L203.0 368.8 L198.1 372.7 L193.2 369.8Z" fill="#8a8af4" stroke="#3c3c44" stroke-width="1.1" stroke-linejoin="round" stroke-dasharray="3.5 1.2"/>
<path d="M169.7 381.5 L177.5 378.6 L180.5 383.5 L172.6 386.4Z" fill="#8a8af4" stroke="#3c3c44" stroke-width="1.1" stroke-linejoin="round" stroke-dasharray="3.5 1.2"/>
<path d="M202.0 387.4 L211.8 379.6 L216.7 376.7 L216.7 383.5 L207.8 390.4Z" fill="#8a8af4" stroke="#3c3c44" stroke-width="1.1" stroke-linejoin="round" stroke-dasharray="3.5 1.2"/>
<path d="M172.6 393.3 L181.4 391.3 L182.4 395.2 L174.6 397.2Z" fill="#8a8af4" stroke="#3c3c44" stroke-width="1.1" stroke-linejoin="round" stroke-dasharray="3.5 1.2"/>
<path d="M203.0 399.2 L211.8 396.8 L212.7 400.1 L203.9 403.1Z" fill="#8a8af4" stroke="#3c3c44" stroke-width="1.1" stroke-linejoin="round" stroke-dasharray="3.5 1.2"/>
<path d="M157.0 408.9 L163.8 408.0 L164.8 411.9 L157.9 412.9Z" fill="#8a8af4" stroke="#3c3c44" stroke-width="1.1" stroke-linejoin="round" stroke-dasharray="3.5 1.2"/>
<path d="M164.8 359.0 L172.6 358.1 L173.0 361.0 L165.2 362.0Z" fill="#8a8af4" stroke="#3c3c44" stroke-width="1.1" stroke-linejoin="round" stroke-dasharray="3.5 1.2"/>
<path d="M261.7 597.1 L274.4 592.2 L276.3 595.1 L263.6 600.0Z" fill="#8a8af4" stroke="#3c3c44" stroke-width="1.1" stroke-linejoin="round" stroke-dasharray="3.5 1.2"/>
<path d="M273.4 605.9 L284.2 600.0 L293.0 586.3 L294.9 589.3 L285.1 604.0 L274.4 608.8Z" fill="#8a8af4" stroke="#3c3c44" stroke-width="1.1" stroke-linejoin="round" stroke-dasharray="3.5 1.2"/>
<path d="M282.2 578.5 L287.1 575.6 L288.1 582.4 L283.2 584.4Z" fill="#8a8af4" stroke="#3c3c44" stroke-width="1.1" stroke-linejoin="round" stroke-dasharray="3.5 1.2"/>
<path d="M270.5 624.5 L284.2 620.6 L286.1 624.5 L272.4 627.8Z" fill="#8a8af4" stroke="#3c3c44" stroke-width="1.1" stroke-linejoin="round" stroke-dasharray="3.5 1.2"/>
<path d="M249.9 415.8 C250.2 413.0 255.6 408.5 258.7 405.0 C261.8 401.6 264.6 397.4 268.5 395.2 C272.4 393.1 278.1 392.3 282.2 392.3 C286.3 392.3 290.9 393.1 293.0 395.2 C295.1 397.4 295.9 401.8 294.9 405.0 C294.0 408.3 290.9 412.0 287.1 414.8 C283.4 417.6 277.5 420.5 272.4 421.7 C267.4 422.8 260.5 422.6 256.8 421.7 C253.0 420.7 249.6 418.6 249.9 415.8Z" fill="none" stroke="#3c3c44" stroke-width="1.1" stroke-dasharray="4 3"/>
</g>
<text x="135.20" y="73.80" font-family='"Liberation Serif","DejaVu Serif",serif' font-size="26.4" font-weight="bold" font-style="normal" fill="#000" text-anchor="start" >South China</text>
<text x="303.80" y="36.60" font-family='"Liberation Serif","DejaVu Serif",serif' font-size="23.2" font-weight="bold" font-style="normal" fill="#0000e8" text-anchor="start" >Winter Mosoon</text>
<text x="190.50" y="131.20" font-family='"Liberation Serif","DejaVu Serif",serif' font-size="23.2" font-weight="normal" font-style="italic" fill="#0000e8" text-anchor="start" >Pearl River</text>
<text x="0" y="0" transform="translate(521.00 106.00) rotate(-62)" font-family='"Liberation Serif","DejaVu Serif",serif' font-size="24.6" font-weight="bold" font-style="normal" fill="#000" text-anchor="middle" dominant-baseline="central">Taiwan</text>
<text x="0" y="0" transform="translate(530.50 369.00) rotate(-79)" font-family='"Liberation Serif","DejaVu Serif",serif' font-size="25" font-weight="bold" font-style="normal" fill="#000" text-anchor="middle" dominant-baseline="central">Philippines</text>
<text x="0" y="0" transform="translate(466.00 67.00) rotate(-50)" font-family='"Liberation Serif","DejaVu Serif",serif' font-size="22.5" font-weight="bold" font-style="normal" fill="#a814c4" text-anchor="middle" dominant-baseline="central">Taiwan</text>
<text x="0" y="0" transform="translate(485.50 84.50) rotate(-50)" font-family='"Liberation Serif","DejaVu Serif",serif' font-size="22.5" font-weight="bold" font-style="normal" fill="#a814c4" text-anchor="middle" dominant-baseline="central">Strait</text>
<text x="0" y="0" transform="translate(543.00 244.00) rotate(-90)" font-family='"Liberation Serif","DejaVu Serif",serif' font-size="22.5" font-weight="bold" font-style="normal" fill="#a814c4" text-anchor="middle" dominant-baseline="central">Luzon</text>
<text x="0" y="0" transform="translate(567.00 244.00) rotate(-90)" font-family='"Liberation Serif","DejaVu Serif",serif' font-size="22.5" font-weight="bold" font-style="normal" fill="#a814c4" text-anchor="middle" dominant-baseline="central">Strait</text>
<text x="359.50" y="386.00" font-family='"Liberation Serif","DejaVu Serif",serif' font-size="26.5" font-weight="bold" font-style="italic" fill="#ff00ff" text-anchor="middle" >South China</text>
<text x="356.50" y="416.50" font-family='"Liberation Serif","DejaVu Serif",serif' font-size="26.5" font-weight="bold" font-style="italic" fill="#ff00ff" text-anchor="middle" >Sea</text>
<text x="160.50" y="605.50" font-family='"Liberation Serif","DejaVu Serif",serif' font-size="23.3" font-weight="bold" font-style="normal" fill="#ff0000" text-anchor="middle" >Summer</text>
<text x="160.50" y="630.50" font-family='"Liberation Serif","DejaVu Serif",serif' font-size="23.3" font-weight="bold" font-style="normal" fill="#ff0000" text-anchor="middle" >Mosoon</text>
<text x="684.50" y="43.50" font-family='"Liberation Serif","DejaVu Serif",serif' font-size="28.5" font-weight="bold" font-style="normal" fill="#000" text-anchor="middle" >A</text>
<circle cx="378.4" cy="66.8" r="10.5" fill="none" stroke="#0000e8" stroke-width="3.4"/>
<line x1="392.50" y1="46.50" x2="366.00" y2="84.00" stroke="#0000e8" stroke-width="4.6" />
<path d="M361.5 78.5 L373.5 86.5 L362.0 90.0Z" fill="#0000e8" stroke="#0000e8" stroke-width="1" />
<circle cx="169.6" cy="565.3" r="11.5" fill="none" stroke="#ff0000" stroke-width="3.6"/>
<line x1="155.50" y1="584.50" x2="182.00" y2="548.00" stroke="#ff0000" stroke-width="5.2" />
<path d="M176.5 543.5 L188.5 541.5 L187.5 553.0Z" fill="#ff0000" stroke="#ff0000" stroke-width="1.5" />
<path d="M504.0 39.4 C498.3 46.0 481.4 65.6 470.0 79.0 C458.6 92.4 441.2 112.8 435.4 119.6" fill="none" stroke="#eeeeee" stroke-width="3.8" stroke-linecap="round" stroke-dasharray="0.1 9.4"/>
<path d="M445.7 115.2 L434.4 120.7 L438.1 108.7 L439.9 114.3Z" fill="#e4e4e4" stroke="#e4e4e4" stroke-width="1.2" stroke-linejoin="round"/>
<path d="M394.0 163.0 C390.5 163.2 382.2 161.6 373.0 164.4 C363.8 167.2 349.4 175.2 339.0 180.0 C328.6 184.8 319.3 188.4 310.5 193.0 C301.7 197.6 290.1 205.2 286.0 207.6" fill="none" stroke="#eeeeee" stroke-width="3.8" stroke-linecap="round" stroke-dasharray="0.1 9.4"/>
<path d="M297.1 206.8 L284.7 208.4 L292.0 198.2 L292.0 204.0Z" fill="#e4e4e4" stroke="#e4e4e4" stroke-width="1.2" stroke-linejoin="round"/>
<path d="M413.0 195.7 C412.1 192.6 408.0 182.7 407.8 177.4 C407.6 172.1 410.2 167.7 412.0 164.0 C413.8 160.3 417.4 156.9 418.5 155.5" fill="none" stroke="#eeeeee" stroke-width="3.8" stroke-linecap="round" stroke-dasharray="0.1 9.4"/>
<path d="M408.5 160.4 L419.4 154.3 L416.4 166.5 L414.2 161.1Z" fill="#e4e4e4" stroke="#e4e4e4" stroke-width="1.2" stroke-linejoin="round"/>
<path d="M247.9 233.5 C243.6 236.9 229.7 247.6 222.0 254.0 C214.3 260.4 207.7 266.9 202.0 272.0 C196.3 277.1 192.2 280.9 188.0 284.7 C183.8 288.4 178.4 292.9 176.5 294.5" fill="none" stroke="#eeeeee" stroke-width="3.8" stroke-linecap="round" stroke-dasharray="0.1 9.4"/>
<path d="M187.4 291.8 L175.4 295.5 L180.9 284.2 L181.8 290.0Z" fill="#e4e4e4" stroke="#e4e4e4" stroke-width="1.2" stroke-linejoin="round"/>
<path d="M357.5 293.5 C356.0 292.7 351.1 290.9 348.7 288.6 C346.3 286.3 344.8 283.6 342.9 279.8 C340.9 276.0 338.3 270.2 337.0 266.0 C335.7 261.8 334.7 258.8 335.0 254.6 C335.3 250.4 337.0 245.6 339.0 241.0 C341.0 236.4 344.5 230.6 346.8 227.0 C349.1 223.4 351.7 220.7 352.7 219.4" fill="none" stroke="#eeeeee" stroke-width="3.8" stroke-linecap="round" stroke-dasharray="0.1 9.4"/>
<path d="M342.6 224.2 L353.6 218.2 L350.5 230.4 L348.4 224.9Z" fill="#e4e4e4" stroke="#e4e4e4" stroke-width="1.2" stroke-linejoin="round"/>
<path d="M460.9 255.6 C458.2 256.2 450.2 257.9 445.0 259.0 C439.8 260.1 434.1 261.5 429.6 262.4 C425.1 263.3 419.8 264.1 417.8 264.4" fill="none" stroke="#eeeeee" stroke-width="3.8" stroke-linecap="round" stroke-dasharray="0.1 9.4"/>
<path d="M428.5 267.7 L416.3 264.7 L426.8 257.8 L424.7 263.2Z" fill="#e4e4e4" stroke="#e4e4e4" stroke-width="1.2" stroke-linejoin="round"/>
<path d="M224.5 322.8 C223.2 325.8 218.8 334.3 216.7 340.5 C214.6 346.7 213.0 355.1 211.8 360.0 C210.7 364.9 209.2 365.6 209.8 369.8 C210.5 374.1 214.4 381.1 215.7 385.5 C217.0 389.9 215.3 392.1 217.6 396.0 C219.9 399.9 227.4 406.8 229.4 409.0" fill="none" stroke="#eeeeee" stroke-width="3.8" stroke-linecap="round" stroke-dasharray="0.1 9.4"/>
<path d="M226.4 398.2 L230.4 410.1 L219.0 405.0 L224.7 403.8Z" fill="#e4e4e4" stroke="#e4e4e4" stroke-width="1.2" stroke-linejoin="round"/>
<path d="M158.9 379.6 C158.4 382.8 157.2 392.8 156.0 399.0 C154.8 405.2 153.2 410.6 152.0 416.8 C150.8 423.0 150.2 429.8 149.0 436.0 C147.8 442.2 146.1 449.1 145.0 454.0 C143.9 458.9 142.9 461.8 142.3 465.7 C141.7 469.6 141.5 475.4 141.3 477.4" fill="none" stroke="#eeeeee" stroke-width="3.8" stroke-linecap="round" stroke-dasharray="0.1 9.4"/>
<path d="M147.1 467.9 L141.2 478.9 L137.2 467.0 L141.9 470.4Z" fill="#e4e4e4" stroke="#e4e4e4" stroke-width="1.2" stroke-linejoin="round"/>
<path d="M145.2 505.0 C144.7 508.1 143.4 517.3 142.3 523.7 C141.2 530.1 139.7 537.1 138.4 543.3 C137.1 549.5 135.8 555.1 134.5 561.0 C133.2 566.9 131.2 575.6 130.5 578.5" fill="none" stroke="#eeeeee" stroke-width="3.8" stroke-linecap="round" stroke-dasharray="0.1 9.4"/>
<path d="M137.6 569.9 L130.2 580.0 L127.9 567.6 L132.1 571.7Z" fill="#e4e4e4" stroke="#e4e4e4" stroke-width="1.2" stroke-linejoin="round"/>
<path d="M237.2 632.0 C237.5 628.6 238.5 618.5 239.0 611.8 C239.5 605.1 240.2 598.2 240.0 592.0 C239.8 585.8 239.8 578.6 238.0 574.6 C236.2 570.6 232.5 568.8 229.4 567.7 C226.3 566.6 223.2 567.2 219.6 568.0 C216.0 568.8 211.7 570.4 207.8 572.6 C203.9 574.8 200.2 578.5 196.0 581.4 C191.8 584.3 184.7 588.6 182.4 590.0" fill="none" stroke="#eeeeee" stroke-width="3.8" stroke-linecap="round" stroke-dasharray="0.1 9.4"/>
<path d="M193.5 588.9 L181.1 590.8 L188.2 580.4 L188.3 586.3Z" fill="#e4e4e4" stroke="#e4e4e4" stroke-width="1.2" stroke-linejoin="round"/>
<path d="M292.0 440.0 C295.3 440.7 305.1 443.0 311.6 444.0 C318.1 445.0 324.5 445.8 331.0 446.0 C337.5 446.2 344.2 445.7 350.7 445.0 C357.2 444.3 363.4 443.3 370.0 442.0 C376.6 440.7 383.3 438.8 390.0 437.0 C396.7 435.2 406.7 432.0 410.0 431.0" fill="none" stroke="#eeeeee" stroke-width="3.8" stroke-linecap="round" stroke-dasharray="0.1 9.4"/>
<path d="M399.0 429.1 L411.4 430.6 L401.9 438.7 L403.3 433.0Z" fill="#e4e4e4" stroke="#e4e4e4" stroke-width="1.2" stroke-linejoin="round"/>
<path d="M459.0 411.0 C459.5 409.0 460.6 404.2 461.9 399.0 C463.2 393.8 464.9 385.9 466.8 379.6 C468.8 373.3 472.5 364.1 473.6 361.0" fill="none" stroke="#eeeeee" stroke-width="3.8" stroke-linecap="round" stroke-dasharray="0.1 9.4"/>
<path d="M465.5 368.7 L474.1 359.6 L474.9 372.1 L471.2 367.6Z" fill="#e4e4e4" stroke="#e4e4e4" stroke-width="1.2" stroke-linejoin="round"/>
<path d="M456.0 446.0 C457.0 447.7 460.3 452.7 461.9 456.0 C463.5 459.3 464.8 462.1 465.8 465.7 C466.8 469.3 467.2 473.2 467.7 477.4 C468.2 481.6 468.6 486.7 468.7 491.0 C468.8 495.3 469.4 498.6 468.3 503.0 C467.2 507.4 463.0 515.2 461.9 517.6" fill="none" stroke="#eeeeee" stroke-width="3.8" stroke-linecap="round" stroke-dasharray="0.1 9.4"/>
<path d="M470.5 510.4 L461.3 519.0 L461.3 506.4 L464.7 511.2Z" fill="#e4e4e4" stroke="#e4e4e4" stroke-width="1.2" stroke-linejoin="round"/>
<path d="M442.3 553.0 C441.1 554.3 437.5 557.7 435.4 561.0 C433.3 564.3 431.6 568.4 429.6 572.6 C427.7 576.8 425.7 582.7 423.7 586.3 C421.7 589.9 419.8 591.0 417.8 594.0 C415.9 597.0 414.3 600.2 412.0 604.0 C409.7 607.8 405.3 614.8 404.0 617.0" fill="none" stroke="#eeeeee" stroke-width="3.8" stroke-linecap="round" stroke-dasharray="0.1 9.4"/>
<path d="M413.5 611.1 L403.2 618.3 L405.0 605.9 L407.7 611.0Z" fill="#e4e4e4" stroke="#e4e4e4" stroke-width="1.2" stroke-linejoin="round"/>
<path d="M385.0 133.3 L431.5 96.1" fill="none" stroke="#00ffff" stroke-width="3.3" stroke-linecap="butt"/>
<path d="M420.8 98.2 L432.7 95.2 L427.1 106.1 L426.4 100.2Z" fill="#00ffff" stroke="#00ffff" stroke-width="0.8" stroke-linejoin="round"/>
<path d="M231.3 213.5 L291.0 178.7" fill="none" stroke="#00ffff" stroke-width="3.3" stroke-linecap="butt"/>
<path d="M280.1 179.2 L292.3 177.9 L285.2 187.9 L285.3 182.0Z" fill="#00ffff" stroke="#00ffff" stroke-width="0.8" stroke-linejoin="round"/>
<path d="M325.3 212.5 L385.0 174.8" fill="none" stroke="#00ffff" stroke-width="3.3" stroke-linecap="butt"/>
<path d="M374.1 175.7 L386.3 174.0 L379.5 184.2 L379.4 178.3Z" fill="#00ffff" stroke="#00ffff" stroke-width="0.8" stroke-linejoin="round"/>
<path d="M200.0 296.0 L261.7 253.6" fill="none" stroke="#00ffff" stroke-width="3.3" stroke-linecap="butt"/>
<path d="M250.9 254.9 L262.9 252.8 L256.6 263.2 L256.3 257.3Z" fill="#00ffff" stroke="#00ffff" stroke-width="0.8" stroke-linejoin="round"/>
<path d="M442.6 275.0 L380.5 287.0" fill="none" stroke="#00ffff" stroke-width="3.3" stroke-linecap="butt"/>
<path d="M391.0 290.1 L379.0 287.3 L389.1 280.2 L386.9 285.8Z" fill="#00ffff" stroke="#00ffff" stroke-width="0.8" stroke-linejoin="round"/>
<path d="M389.0 310.5 C389.3 314.6 388.5 327.9 391.0 335.0 C393.5 342.1 397.6 349.4 404.0 353.0 C410.4 356.6 421.6 357.7 429.6 356.5 C437.6 355.3 445.0 350.2 452.0 346.0 C459.0 341.8 468.2 333.5 471.5 331.0" fill="none" stroke="#00ffff" stroke-width="3.3" stroke-linecap="butt"/>
<path d="M460.7 332.9 L472.7 330.1 L466.9 340.9 L466.3 335.0Z" fill="#00ffff" stroke="#00ffff" stroke-width="0.8" stroke-linejoin="round"/>
<path d="M465.8 367.8 L488.3 320.9" fill="none" stroke="#00ffff" stroke-width="3.3" stroke-linecap="butt"/>
<path d="M479.6 327.5 L488.9 319.5 L488.6 331.8 L485.5 326.8Z" fill="#00ffff" stroke="#00ffff" stroke-width="0.8" stroke-linejoin="round"/>
<path d="M182.7 430.6 L188.2 368.0" fill="none" stroke="#00ffff" stroke-width="3.3" stroke-linecap="butt"/>
<path d="M182.3 377.2 L188.3 366.5 L192.4 378.1 L187.6 374.5Z" fill="#00ffff" stroke="#00ffff" stroke-width="0.8" stroke-linejoin="round"/>
<path d="M177.5 527.0 L216.6 482.8" fill="none" stroke="#00ffff" stroke-width="3.3" stroke-linecap="butt"/>
<path d="M206.4 486.7 L217.6 481.7 L213.9 493.4 L212.3 487.7Z" fill="#00ffff" stroke="#00ffff" stroke-width="0.8" stroke-linejoin="round"/>
<path d="M258.4 578.3 L314.7 550.6" fill="none" stroke="#00ffff" stroke-width="3.3" stroke-linecap="butt"/>
<path d="M303.8 550.4 L316.0 549.9 L308.2 559.4 L308.8 553.5Z" fill="#00ffff" stroke="#00ffff" stroke-width="0.8" stroke-linejoin="round"/>
<path d="M410.0 453.0 L441.3 412.9" fill="none" stroke="#00ffff" stroke-width="3.3" stroke-linecap="butt"/>
<path d="M431.4 417.4 L442.2 411.7 L439.3 423.6 L437.3 418.1Z" fill="#00ffff" stroke="#00ffff" stroke-width="0.8" stroke-linejoin="round"/>
<path d="M424.7 540.0 L449.0 498.4" fill="none" stroke="#00ffff" stroke-width="3.3" stroke-linecap="butt"/>
<path d="M439.8 504.2 L449.8 497.1 L448.5 509.3 L445.7 504.1Z" fill="#00ffff" stroke="#00ffff" stroke-width="0.8" stroke-linejoin="round"/>
<path d="M470.7 175.4 C468.8 174.6 462.6 173.6 459.0 170.5 C455.4 167.4 451.6 161.4 449.0 156.8 C446.4 152.2 444.2 145.3 443.3 143.0" fill="none" stroke="#00ffff" stroke-width="3.3" stroke-linecap="butt"/>
<path d="M442.3 153.9 L442.7 141.6 L451.7 150.0 L445.8 149.1Z" fill="#00ffff" stroke="#00ffff" stroke-width="0.8" stroke-linejoin="round"/>
<path d="M458.0 135.0 C459.8 135.3 465.3 135.0 468.7 137.0 C472.1 139.0 475.9 142.7 478.5 147.0 C481.1 151.3 483.4 160.0 484.4 162.6" fill="none" stroke="#00ffff" stroke-width="3.3" stroke-linecap="round"/>
<ellipse cx="0" cy="0" rx="27" ry="20.5" transform="translate(480.5 283) rotate(-22)" fill="none" stroke="#00ffff" stroke-width="3.2"/>
<path d="M467.4 297.5 L473.9 304.9 L464.0 304.9 L468.0 302.2Z" fill="#00ffff" stroke="#00ffff" stroke-width="0.8" stroke-linejoin="round"/>
<circle cx="151.3" cy="324.8" r="7.4" fill="#ffff00"/>
<circle cx="263.6" cy="324.8" r="7.4" fill="#ffff00"/>
<circle cx="337.4" cy="324.8" r="7.4" fill="#ffff00"/>
<circle cx="372.6" cy="237.4" r="7.4" fill="#ffff00"/>
<circle cx="478.3" cy="276.8" r="7.4" fill="#ffff00"/>
<line x1="333.00" y1="320.65" x2="342.20" y2="329.85" stroke="#00ee00" stroke-width="3.0" />
<line x1="333.00" y1="329.85" x2="342.20" y2="320.65" stroke="#00ee00" stroke-width="3.0" />
<path d="M144.6 310.4 L159.6 310.4 L152.1 323.9Z" fill="none" stroke="#ff0000" stroke-width="1.6" />
<path d="M151.1 318.4 L166.1 318.4 L158.6 331.9Z" fill="none" stroke="#ff0000" stroke-width="1.6" />
<path d="M180.9 318.4 L195.9 318.4 L188.4 331.9Z" fill="none" stroke="#ff0000" stroke-width="1.6" />
<path d="M273.1 318.4 L288.1 318.4 L280.6 331.9Z" fill="none" stroke="#ff0000" stroke-width="1.6" />
<path d="M319.2 299.1 L334.2 299.1 L326.7 312.6Z" fill="none" stroke="#ff0000" stroke-width="1.6" />
<path d="M329.8 315.1 L344.8 315.1 L337.3 328.6Z" fill="none" stroke="#ff0000" stroke-width="1.6" />
<path d="M367.0 247.2 L382.0 247.2 L374.5 260.7Z" fill="none" stroke="#ff0000" stroke-width="1.6" />
<path d="M423.8 167.4 L438.8 167.4 L431.3 180.9Z" fill="none" stroke="#ff0000" stroke-width="1.6" />
<rect x="448.80" y="197.00" width="13.00" height="13.00" fill="#fff" stroke="none" stroke-width="1" />
<rect x="422.70" y="225.20" width="13.00" height="13.00" fill="#fff" stroke="none" stroke-width="1" />
<rect x="521.90" y="210.10" width="13.00" height="13.00" fill="#fff" stroke="none" stroke-width="1" />
<rect x="540.30" y="196.70" width="13.00" height="13.00" fill="#fff" stroke="none" stroke-width="1" />
<line x1="220.70" y1="472.40" x2="231.30" y2="483.00" stroke="#00ff00" stroke-width="3.4" />
<line x1="220.70" y1="483.00" x2="231.30" y2="472.40" stroke="#00ff00" stroke-width="3.4" />
<line x1="331.30" y1="473.70" x2="341.90" y2="484.30" stroke="#00ff00" stroke-width="3.4" />
<line x1="331.30" y1="484.30" x2="341.90" y2="473.70" stroke="#00ff00" stroke-width="3.4" />
<line x1="366.90" y1="473.70" x2="377.50" y2="484.30" stroke="#00ff00" stroke-width="3.4" />
<line x1="366.90" y1="484.30" x2="377.50" y2="473.70" stroke="#00ff00" stroke-width="3.4" />
<line x1="220.70" y1="551.70" x2="231.30" y2="562.30" stroke="#00ff00" stroke-width="3.4" />
<line x1="220.70" y1="562.30" x2="231.30" y2="551.70" stroke="#00ff00" stroke-width="3.4" />
<line x1="331.90" y1="550.20" x2="342.50" y2="560.80" stroke="#00ff00" stroke-width="3.4" />
<line x1="331.90" y1="560.80" x2="342.50" y2="550.20" stroke="#00ff00" stroke-width="3.4" />
<text x="139.50" y="310.50" font-family='"Liberation Serif","DejaVu Serif",serif' font-size="19.6" font-weight="bold" font-style="normal" fill="#ffff00" text-anchor="start" >X5</text>
<text x="116.00" y="331.00" font-family='"Liberation Serif","DejaVu Serif",serif' font-size="19.6" font-weight="bold" font-style="normal" fill="#ff0000" text-anchor="start" >Q3</text>
<text x="144.80" y="353.50" font-family='"Liberation Serif","DejaVu Serif",serif' font-size="19.6" font-weight="bold" font-style="normal" fill="#ff0000" text-anchor="start" >Q1</text>
<text x="176.00" y="353.50" font-family='"Liberation Serif","DejaVu Serif",serif' font-size="19.6" font-weight="bold" font-style="normal" fill="#ff0000" text-anchor="start" >K8</text>
<text x="253.00" y="310.50" font-family='"Liberation Serif","DejaVu Serif",serif' font-size="19.6" font-weight="bold" font-style="normal" fill="#ffff00" text-anchor="start" >J1</text>
<text x="268.00" y="353.50" font-family='"Liberation Serif","DejaVu Serif",serif' font-size="19.6" font-weight="bold" font-style="normal" fill="#ff0000" text-anchor="start" >K3</text>
<text x="307.00" y="292.00" font-family='"Liberation Serif","DejaVu Serif",serif' font-size="19.6" font-weight="bold" font-style="normal" fill="#ff0000" text-anchor="start" >A11</text>
<text x="305.80" y="351.20" font-family='"Liberation Serif","DejaVu Serif",serif' font-size="21.4" font-weight="bold" font-style="normal" fill="#000" text-anchor="start" >SEATS</text>
<text x="361.00" y="224.40" font-family='"Liberation Serif","DejaVu Serif",serif' font-size="19.6" font-weight="bold" font-style="normal" fill="#ffff00" text-anchor="start" >D1</text>
<text x="364.00" y="282.60" font-family='"Liberation Serif","DejaVu Serif",serif' font-size="19.6" font-weight="bold" font-style="normal" fill="#ff0000" text-anchor="start" >F1</text>
<text x="418.80" y="202.20" font-family='"Liberation Serif","DejaVu Serif",serif' font-size="19.6" font-weight="bold" font-style="normal" fill="#ff0000" text-anchor="start" >D6</text>
<text x="443.80" y="191.00" font-family='"Liberation Serif","DejaVu Serif",serif' font-size="19.6" font-weight="bold" font-style="normal" fill="#ffffff" text-anchor="start" >B5</text>
<text x="417.00" y="218.80" font-family='"Liberation Serif","DejaVu Serif",serif' font-size="19.6" font-weight="bold" font-style="normal" fill="#ffffff" text-anchor="start" >C5</text>
<text x="509.60" y="203.50" font-family='"Liberation Serif","DejaVu Serif",serif' font-size="19.6" font-weight="bold" font-style="normal" fill="#ffffff" text-anchor="start" >TS2</text>
<text x="529.00" y="191.80" font-family='"Liberation Serif","DejaVu Serif",serif' font-size="19.6" font-weight="bold" font-style="normal" fill="#ffffff" text-anchor="start" >BC1</text>
<text x="460.50" y="262.40" font-family='"Liberation Serif","DejaVu Serif",serif' font-size="19.6" font-weight="bold" font-style="normal" fill="#ffff00" text-anchor="start" >NS1</text>
<text x="226.30" y="466.30" font-family='"Liberation Serif","DejaVu Serif",serif' font-size="19.6" font-weight="bold" font-style="normal" fill="#00ff00" text-anchor="middle" >B1</text>
<text x="335.00" y="468.00" font-family='"Liberation Serif","DejaVu Serif",serif' font-size="19.6" font-weight="bold" font-style="normal" fill="#00ff00" text-anchor="middle" >SS1</text>
<text x="372.30" y="468.00" font-family='"Liberation Serif","DejaVu Serif",serif' font-size="19.6" font-weight="bold" font-style="normal" fill="#00ff00" text-anchor="middle" >B2</text>
<text x="225.80" y="544.50" font-family='"Liberation Serif","DejaVu Serif",serif' font-size="19.6" font-weight="bold" font-style="normal" fill="#00ff00" text-anchor="middle" >C1</text>
<text x="336.30" y="544.50" font-family='"Liberation Serif","DejaVu Serif",serif' font-size="19.6" font-weight="bold" font-style="normal" fill="#00ff00" text-anchor="middle" >A2</text>
<path d="M597.9 401.0 C598.7 397.4 601.5 386.4 602.8 379.6 C604.1 372.8 605.4 365.9 605.7 360.0 C606.0 354.1 605.7 349.9 604.7 344.4 C603.7 338.9 602.2 332.4 599.8 326.8 C597.3 321.2 593.9 315.9 590.0 311.0 C586.1 306.1 581.5 301.9 576.3 297.4 C571.1 292.8 563.9 288.3 558.7 283.7 C553.5 279.1 549.3 274.4 545.0 270.0 C540.7 265.6 536.6 261.2 533.0 257.0 C529.4 252.8 525.9 250.1 523.5 244.8 C521.1 239.5 519.2 231.5 518.6 225.0 C518.0 218.5 518.8 212.9 519.6 205.7 C520.4 198.5 521.9 189.8 523.5 182.0 C525.1 174.2 527.1 166.5 529.4 158.7 C531.6 150.9 534.1 142.2 537.0 135.0 C539.9 127.8 544.0 121.4 547.0 115.7 C550.0 110.0 553.7 103.5 555.0 101.0" fill="none" stroke="#000" stroke-width="11.4" stroke-linecap="round" stroke-linejoin="round"/>
<path d="M550.0 93.0 L566.0 82.0 L568.3 102.0Z" fill="#000" stroke="#000" stroke-width="4.5" stroke-linejoin="round"/>
<path d="M517.5 231.0 C516.7 228.2 514.8 218.6 512.5 214.0 C510.2 209.4 507.4 206.2 504.0 203.7 C500.6 201.2 496.6 199.6 492.0 198.8 C487.4 198.0 480.4 198.2 476.5 198.8 C472.6 199.4 469.8 201.9 468.5 202.5" fill="none" stroke="#000" stroke-width="4.6" stroke-linecap="round"/>
<path d="M468.0 198.0 L460.6 211.6 L474.8 207.9Z" fill="#000" stroke="#000" stroke-width="2" stroke-linejoin="round"/>
<rect x="521.90" y="210.10" width="13.00" height="13.00" fill="#fff" stroke="none" stroke-width="1" />
<rect x="473.00" y="408.00" width="232.60" height="225.60" fill="#b2b2b2" stroke="none" stroke-width="1" fill-opacity="0.72"/>
<rect x="483.50" y="416.10" width="13.00" height="13.00" fill="#fff" stroke="none" stroke-width="1" />
<text x="518.70" y="429.80" font-family='"Liberation Serif","DejaVu Serif",serif' font-size="23.6" font-weight="bold" font-style="normal" fill="#ffffff" text-anchor="start" >March 2013</text>
<circle cx="490.0" cy="446.2" r="7.2" fill="#ffff00"/>
<text x="518.70" y="454.60" font-family='"Liberation Serif","DejaVu Serif",serif' font-size="23.6" font-weight="bold" font-style="normal" fill="#ffff00" text-anchor="start" >June 2014</text>
<path d="M482.5 466.8 L497.5 466.8 L490.0 480.3Z" fill="none" stroke="#ff0000" stroke-width="1.6" />
<text x="518.70" y="480.20" font-family='"Liberation Serif","DejaVu Serif",serif' font-size="23.6" font-weight="bold" font-style="normal" fill="#ff0000" text-anchor="start" >May 2016</text>
<line x1="483.90" y1="492.90" x2="497.70" y2="506.70" stroke="#00f000" stroke-width="4.3" />
<line x1="483.90" y1="506.70" x2="497.70" y2="492.90" stroke="#00f000" stroke-width="4.3" />
<text x="516.50" y="507.20" font-family='"Liberation Serif","DejaVu Serif",serif' font-size="23.6" font-weight="bold" font-style="normal" fill="#00f000" text-anchor="start" >June 2017</text>
<path d="M474.0 525.0 L512.5 525.0" fill="none" stroke="#00ffff" stroke-width="3.2" stroke-linecap="butt"/>
<path d="M503.9 520.5 L514.0 525.0 L503.9 529.5 L506.7 525.0Z" fill="#00ffff" stroke="#00ffff" stroke-width="0.8" stroke-linejoin="round"/>
<text x="518.70" y="529.80" font-family='"Liberation Serif","DejaVu Serif",serif' font-size="24" font-weight="bold" font-style="normal" fill="#00ffff" text-anchor="start" >Surface Current</text>
<text x="602.00" y="555.80" font-family='"Liberation Serif","DejaVu Serif",serif' font-size="24" font-weight="bold" font-style="normal" fill="#00ffff" text-anchor="middle" >(Summer)</text>
<path d="M476.0 571.4 L503.0 571.4" fill="none" stroke="#ffffff" stroke-width="3.2" stroke-linecap="round" stroke-dasharray="0.1 8"/>
<path d="M506.0 567.4 L515.0 571.4 L506.0 575.4 L508.5 571.4Z" fill="#ffffff" stroke="#ffffff" stroke-width="0.8" stroke-linejoin="round"/>
<text x="518.70" y="576.00" font-family='"Liberation Serif","DejaVu Serif",serif' font-size="24" font-weight="bold" font-style="normal" fill="#ffffff" text-anchor="start" >Surface Current</text>
<text x="602.00" y="601.50" font-family='"Liberation Serif","DejaVu Serif",serif' font-size="24" font-weight="bold" font-style="normal" fill="#ffffff" text-anchor="middle" >(Winter)</text>
<line x1="473.00" y1="618.50" x2="503.00" y2="618.50" stroke="#000" stroke-width="3.4" />
<path d="M499.0 611.5 L512.5 618.5 L499.0 625.5Z" fill="#000" stroke="none" stroke-width="1" />
<text x="516.60" y="624.50" font-family='"Liberation Serif","DejaVu Serif",serif' font-size="24.1" font-weight="bold" font-style="normal" fill="#000" text-anchor="start" >Kuroshio Current</text>
</g>
<rect x="114.60" y="15.90" width="591.00" height="617.70" fill="none" stroke="#000" stroke-width="2.6" />
<line x1="102.60" y1="633.60" x2="114.60" y2="633.60" stroke="#000" stroke-width="2.2" />
<text x="100.20" y="641.80" font-family='"Liberation Serif","DejaVu Serif",serif' font-size="24.3" font-weight="bold" font-style="normal" fill="#000" text-anchor="end" >10</text>
<line x1="107.60" y1="594.99" x2="114.60" y2="594.99" stroke="#000" stroke-width="2.0" />
<line x1="102.60" y1="556.39" x2="114.60" y2="556.39" stroke="#000" stroke-width="2.2" />
<text x="100.20" y="564.59" font-family='"Liberation Serif","DejaVu Serif",serif' font-size="24.3" font-weight="bold" font-style="normal" fill="#000" text-anchor="end" >12</text>
<line x1="107.60" y1="517.78" x2="114.60" y2="517.78" stroke="#000" stroke-width="2.0" />
<line x1="102.60" y1="479.18" x2="114.60" y2="479.18" stroke="#000" stroke-width="2.2" />
<text x="100.20" y="487.38" font-family='"Liberation Serif","DejaVu Serif",serif' font-size="24.3" font-weight="bold" font-style="normal" fill="#000" text-anchor="end" >14</text>
<line x1="107.60" y1="440.57" x2="114.60" y2="440.57" stroke="#000" stroke-width="2.0" />
<line x1="102.60" y1="401.96" x2="114.60" y2="401.96" stroke="#000" stroke-width="2.2" />
<text x="100.20" y="410.16" font-family='"Liberation Serif","DejaVu Serif",serif' font-size="24.3" font-weight="bold" font-style="normal" fill="#000" text-anchor="end" >16</text>
<line x1="107.60" y1="363.36" x2="114.60" y2="363.36" stroke="#000" stroke-width="2.0" />
<line x1="102.60" y1="324.75" x2="114.60" y2="324.75" stroke="#000" stroke-width="2.2" />
<text x="100.20" y="332.95" font-family='"Liberation Serif","DejaVu Serif",serif' font-size="24.3" font-weight="bold" font-style="normal" fill="#000" text-anchor="end" >18</text>
<line x1="107.60" y1="286.14" x2="114.60" y2="286.14" stroke="#000" stroke-width="2.0" />
<line x1="102.60" y1="247.54" x2="114.60" y2="247.54" stroke="#000" stroke-width="2.2" />
<text x="100.20" y="255.74" font-family='"Liberation Serif","DejaVu Serif",serif' font-size="24.3" font-weight="bold" font-style="normal" fill="#000" text-anchor="end" >20</text>
<line x1="107.60" y1="208.93" x2="114.60" y2="208.93" stroke="#000" stroke-width="2.0" />
<line x1="102.60" y1="170.32" x2="114.60" y2="170.32" stroke="#000" stroke-width="2.2" />
<text x="100.20" y="178.52" font-family='"Liberation Serif","DejaVu Serif",serif' font-size="24.3" font-weight="bold" font-style="normal" fill="#000" text-anchor="end" >22</text>
<line x1="107.60" y1="131.72" x2="114.60" y2="131.72" stroke="#000" stroke-width="2.0" />
<line x1="102.60" y1="93.11" x2="114.60" y2="93.11" stroke="#000" stroke-width="2.2" />
<text x="100.20" y="101.31" font-family='"Liberation Serif","DejaVu Serif",serif' font-size="24.3" font-weight="bold" font-style="normal" fill="#000" text-anchor="end" >24</text>
<line x1="107.60" y1="54.51" x2="114.60" y2="54.51" stroke="#000" stroke-width="2.0" />
<line x1="102.60" y1="15.90" x2="114.60" y2="15.90" stroke="#000" stroke-width="2.2" />
<text x="100.20" y="24.10" font-family='"Liberation Serif","DejaVu Serif",serif' font-size="24.3" font-weight="bold" font-style="normal" fill="#000" text-anchor="end" >26</text>
<line x1="114.60" y1="633.60" x2="114.60" y2="646.10" stroke="#000" stroke-width="2.2" />
<text x="114.60" y="670.60" font-family='"Liberation Serif","DejaVu Serif",serif' font-size="24.3" font-weight="bold" font-style="normal" fill="#000" text-anchor="middle" >110</text>
<line x1="151.54" y1="633.60" x2="151.54" y2="640.60" stroke="#000" stroke-width="2.0" />
<line x1="188.47" y1="633.60" x2="188.47" y2="646.10" stroke="#000" stroke-width="2.2" />
<text x="188.47" y="670.60" font-family='"Liberation Serif","DejaVu Serif",serif' font-size="24.3" font-weight="bold" font-style="normal" fill="#000" text-anchor="middle" >112</text>
<line x1="225.41" y1="633.60" x2="225.41" y2="640.60" stroke="#000" stroke-width="2.0" />
<line x1="262.35" y1="633.60" x2="262.35" y2="646.10" stroke="#000" stroke-width="2.2" />
<text x="262.35" y="670.60" font-family='"Liberation Serif","DejaVu Serif",serif' font-size="24.3" font-weight="bold" font-style="normal" fill="#000" text-anchor="middle" >114</text>
<line x1="299.29" y1="633.60" x2="299.29" y2="640.60" stroke="#000" stroke-width="2.0" />
<line x1="336.23" y1="633.60" x2="336.23" y2="646.10" stroke="#000" stroke-width="2.2" />
<text x="336.23" y="670.60" font-family='"Liberation Serif","DejaVu Serif",serif' font-size="24.3" font-weight="bold" font-style="normal" fill="#000" text-anchor="middle" >116</text>
<line x1="373.16" y1="633.60" x2="373.16" y2="640.60" stroke="#000" stroke-width="2.0" />
<line x1="410.10" y1="633.60" x2="410.10" y2="646.10" stroke="#000" stroke-width="2.2" />
<text x="410.10" y="670.60" font-family='"Liberation Serif","DejaVu Serif",serif' font-size="24.3" font-weight="bold" font-style="normal" fill="#000" text-anchor="middle" >118</text>
<line x1="447.04" y1="633.60" x2="447.04" y2="640.60" stroke="#000" stroke-width="2.0" />
<line x1="483.98" y1="633.60" x2="483.98" y2="646.10" stroke="#000" stroke-width="2.2" />
<text x="483.98" y="670.60" font-family='"Liberation Serif","DejaVu Serif",serif' font-size="24.3" font-weight="bold" font-style="normal" fill="#000" text-anchor="middle" >120</text>
<line x1="520.91" y1="633.60" x2="520.91" y2="640.60" stroke="#000" stroke-width="2.0" />
<line x1="557.85" y1="633.60" x2="557.85" y2="646.10" stroke="#000" stroke-width="2.2" />
<text x="557.85" y="670.60" font-family='"Liberation Serif","DejaVu Serif",serif' font-size="24.3" font-weight="bold" font-style="normal" fill="#000" text-anchor="middle" >122</text>
<line x1="594.79" y1="633.60" x2="594.79" y2="640.60" stroke="#000" stroke-width="2.0" />
<line x1="631.73" y1="633.60" x2="631.73" y2="646.10" stroke="#000" stroke-width="2.2" />
<text x="631.73" y="670.60" font-family='"Liberation Serif","DejaVu Serif",serif' font-size="24.3" font-weight="bold" font-style="normal" fill="#000" text-anchor="middle" >124</text>
<line x1="668.66" y1="633.60" x2="668.66" y2="640.60" stroke="#000" stroke-width="2.0" />
<line x1="705.60" y1="633.60" x2="705.60" y2="646.10" stroke="#000" stroke-width="2.2" />
<text x="705.60" y="670.60" font-family='"Liberation Serif","DejaVu Serif",serif' font-size="24.3" font-weight="bold" font-style="normal" fill="#000" text-anchor="middle" >126</text>
<text x="0.00" y="0.00" font-family='"Liberation Serif","DejaVu Serif",serif' font-size="25.4" font-weight="bold" font-style="normal" fill="#000" text-anchor="middle" transform="translate(58.3 323.2) rotate(-90)">Latitude (<tspan font-size="15.5" dy="-7">o</tspan><tspan dy="7">N)</tspan></text>
<text x="409.50" y="711.50" font-family='"Liberation Serif","DejaVu Serif",serif' font-size="24.5" font-weight="bold" font-style="normal" fill="#000" text-anchor="middle" >Longitude (<tspan font-size="15" dy="-7">o</tspan><tspan dy="7">E)</tspan></text>
<rect x="721.20" y="47.80" width="22.70" height="52.03" fill="#b4b4b4" stroke="none" stroke-width="1" />
<rect x="721.20" y="99.23" width="22.70" height="52.03" fill="#7272ff" stroke="none" stroke-width="1" />
<rect x="721.20" y="150.65" width="22.70" height="52.03" fill="#8888ff" stroke="none" stroke-width="1" />
<rect x="721.20" y="202.08" width="22.70" height="52.03" fill="#a4a4ff" stroke="none" stroke-width="1" />
<rect x="721.20" y="253.51" width="22.70" height="52.03" fill="#b8b8ff" stroke="none" stroke-width="1" />
<rect x="721.20" y="304.94" width="22.70" height="52.03" fill="#acc8ff" stroke="none" stroke-width="1" />
<rect x="721.20" y="356.36" width="22.70" height="52.03" fill="#68c0ff" stroke="none" stroke-width="1" />
<rect x="721.20" y="407.79" width="22.70" height="52.03" fill="#18c0ff" stroke="none" stroke-width="1" />
<rect x="721.20" y="459.22" width="22.70" height="52.03" fill="#1a8cff" stroke="none" stroke-width="1" />
<rect x="721.20" y="510.65" width="22.70" height="52.03" fill="#3068ff" stroke="none" stroke-width="1" />
<rect x="721.20" y="562.07" width="22.70" height="52.03" fill="#0a48e0" stroke="none" stroke-width="1" />
<text x="0" y="0" transform="translate(749.60 108.33) scale(0.6 1)" font-family='"Liberation Serif","DejaVu Serif",serif' font-size="28.5" font-weight="bold" font-style="normal" fill="#000" text-anchor="start" >0</text>
<text x="0" y="0" transform="translate(749.00 159.75) scale(0.6 1)" font-family='"Liberation Serif","DejaVu Serif",serif' font-size="28.5" font-weight="bold" font-style="normal" fill="#000" text-anchor="start" >-30</text>
<text x="0" y="0" transform="translate(749.00 211.18) scale(0.6 1)" font-family='"Liberation Serif","DejaVu Serif",serif' font-size="28.5" font-weight="bold" font-style="normal" fill="#000" text-anchor="start" >-80</text>
<text x="0" y="0" transform="translate(749.00 262.61) scale(0.6 1)" font-family='"Liberation Serif","DejaVu Serif",serif' font-size="28.5" font-weight="bold" font-style="normal" fill="#000" text-anchor="start" >-150</text>
<text x="0" y="0" transform="translate(749.00 314.04) scale(0.6 1)" font-family='"Liberation Serif","DejaVu Serif",serif' font-size="28.5" font-weight="bold" font-style="normal" fill="#000" text-anchor="start" >-300</text>
<text x="0" y="0" transform="translate(749.00 365.46) scale(0.6 1)" font-family='"Liberation Serif","DejaVu Serif",serif' font-size="28.5" font-weight="bold" font-style="normal" fill="#000" text-anchor="start" >-500</text>
<text x="0" y="0" transform="translate(749.00 416.89) scale(0.6 1)" font-family='"Liberation Serif","DejaVu Serif",serif' font-size="28.5" font-weight="bold" font-style="normal" fill="#000" text-anchor="start" >-800</text>
<text x="0" y="0" transform="translate(749.00 468.32) scale(0.6 1)" font-family='"Liberation Serif","DejaVu Serif",serif' font-size="28.5" font-weight="bold" font-style="normal" fill="#000" text-anchor="start" >-1500</text>
<text x="0" y="0" transform="translate(749.00 519.75) scale(0.6 1)" font-family='"Liberation Serif","DejaVu Serif",serif' font-size="28.5" font-weight="bold" font-style="normal" fill="#000" text-anchor="start" >-2500</text>
<text x="0" y="0" transform="translate(749.00 571.17) scale(0.6 1)" font-family='"Liberation Serif","DejaVu Serif",serif' font-size="28.5" font-weight="bold" font-style="normal" fill="#000" text-anchor="start" >-4000</text>
<text x="0" y="0" transform="translate(749.00 622.60) scale(0.6 1)" font-family='"Liberation Serif","DejaVu Serif",serif' font-size="28.5" font-weight="bold" font-style="normal" fill="#000" text-anchor="start" >-8000</text>
<text x="735.50" y="38.80" font-family='"Liberation Serif","DejaVu Serif",serif' font-size="24.5" font-weight="bold" font-style="normal" fill="#000" text-anchor="middle" >(m)</text>
</g>
<g id="panelB">
<clipPath id="bclip"><rect x="887.6" y="15.7" width="617.4" height="617.5999999999999"/></clipPath>
<g clip-path="url(#bclip)">
<path d="M887.6 52.6 L900.0 50.2" fill="none" stroke="#8a8a8a" stroke-width="1.0" />
<path d="M963.0 37.3 L1065.5 16.4" fill="none" stroke="#8a8a8a" stroke-width="1.0" />
<text x="0" y="0" transform="translate(949.50 40.50) rotate(-13)" font-family='"Liberation Sans","DejaVu Sans",sans-serif' font-size="19.5" font-weight="normal" font-style="normal" fill="#808080" text-anchor="middle" dominant-baseline="central" stroke="#808080" stroke-width="0.5">19</text>
<path d="M887.6 122.4 L1099.3 77.7" fill="none" stroke="#8a8a8a" stroke-width="1.0" />
<path d="M1138.0 69.5 L1160.0 65.2 L1397.0 16.5" fill="none" stroke="#8a8a8a" stroke-width="1.0" />
<text x="0" y="0" transform="translate(1119.00 73.50) rotate(-13)" font-family='"Liberation Sans","DejaVu Sans",sans-serif' font-size="19.5" font-weight="normal" font-style="normal" fill="#808080" text-anchor="middle" dominant-baseline="central" stroke="#808080" stroke-width="0.5">20</text>
<path d="M887.6 196.0 L1160.0 135.0 L1253.7 114.4" fill="none" stroke="#8a8a8a" stroke-width="1.0" />
<path d="M1292.6 106.3 L1504.3 62.8" fill="none" stroke="#8a8a8a" stroke-width="1.0" />
<text x="0" y="0" transform="translate(1272.40 110.50) rotate(-13)" font-family='"Liberation Sans","DejaVu Sans",sans-serif' font-size="19.5" font-weight="normal" font-style="normal" fill="#808080" text-anchor="middle" dominant-baseline="central" stroke="#808080" stroke-width="0.5">21</text>
<path d="M887.6 275.9 L1160.0 211.7 L1408.0 153.3" fill="none" stroke="#8a8a8a" stroke-width="1.0" />
<path d="M1447.0 144.8 L1504.3 132.6" fill="none" stroke="#8a8a8a" stroke-width="1.0" />
<text x="0" y="0" transform="translate(1428.00 148.80) rotate(-13)" font-family='"Liberation Sans","DejaVu Sans",sans-serif' font-size="19.5" font-weight="normal" font-style="normal" fill="#808080" text-anchor="middle" dominant-baseline="central" stroke="#808080" stroke-width="0.5">22</text>
<path d="M887.6 364.0 L1113.8 303.6 L1313.0 251.8 L1357.0 240.9" fill="none" stroke="#8a8a8a" stroke-width="1.0" />
<path d="M1396.0 232.4 L1504.3 206.3" fill="none" stroke="#8a8a8a" stroke-width="1.0" />
<text x="0" y="0" transform="translate(1377.00 236.50) rotate(-13)" font-family='"Liberation Sans","DejaVu Sans",sans-serif' font-size="19.5" font-weight="normal" font-style="normal" fill="#808080" text-anchor="middle" dominant-baseline="central" stroke="#808080" stroke-width="0.5">23</text>
<path d="M1079.5 402.6 L1160.0 379.0 L1238.0 358.4" fill="none" stroke="#8a8a8a" stroke-width="1.0" />
<path d="M1262.0 351.0 L1374.0 319.5 L1452.0 300.0 L1504.3 287.0" fill="none" stroke="#8a8a8a" stroke-width="1.0" />
<text x="0" y="0" transform="translate(1249.50 355.00) rotate(-13)" font-family='"Liberation Sans","DejaVu Sans",sans-serif' font-size="19.5" font-weight="normal" font-style="normal" fill="#808080" text-anchor="middle" dominant-baseline="central" stroke="#808080" stroke-width="0.5">24</text>
<path d="M1079.5 506.9 L1160.0 478.8 L1264.6 445.5 L1340.0 419.2 L1504.3 373.0" fill="none" stroke="#8a8a8a" stroke-width="1.0" />
<path d="M1082.4 633.0 L1160.0 598.0 L1245.0 564.0" fill="none" stroke="#8a8a8a" stroke-width="1.0" />
<path d="M1292.6 545.7 L1504.3 471.5" fill="none" stroke="#8a8a8a" stroke-width="1.0" />
<text x="0" y="0" transform="translate(1273.60 553.00) rotate(-13)" font-family='"Liberation Sans","DejaVu Sans",sans-serif' font-size="19.5" font-weight="normal" font-style="normal" fill="#808080" text-anchor="middle" dominant-baseline="central" stroke="#808080" stroke-width="0.5">26</text>
<path d="M1420.3 623.0 L1504.3 587.0" fill="none" stroke="#8a8a8a" stroke-width="1.0" />
<text x="0" y="0" transform="translate(1401.00 628.00) rotate(-13)" font-family='"Liberation Sans","DejaVu Sans",sans-serif' font-size="19.5" font-weight="normal" font-style="normal" fill="#808080" text-anchor="middle" dominant-baseline="central" stroke="#808080" stroke-width="0.5">27</text>
<text transform="translate(899 56.5) rotate(-5)" font-family='"Liberation Sans","DejaVu Sans",sans-serif' font-weight="bold" font-style="italic" fill="#808080" font-size="40">σ<tspan font-size="25" dy="6" dx="-1">θ</tspan></text>
<rect x="889.20" y="367.60" width="190.20" height="243.00" fill="#f3f3f3" stroke="#c4c4c4" stroke-width="1" />
<g fill="#fdbe20"><circle cx="1243.9" cy="181.3" r="3.3"/><circle cx="1250.0" cy="181.3" r="3.3"/><circle cx="1265.8" cy="181.3" r="3.3"/><circle cx="1290.2" cy="178.8" r="3.3"/><circle cx="1299.9" cy="175.7" r="3.3"/><circle cx="1298.7" cy="182.0" r="3.3"/><circle cx="1337.6" cy="176.9" r="3.3"/><circle cx="1377.3" cy="174.7" r="3.3"/><circle cx="1406.5" cy="177.1" r="3.3"/><circle cx="1419.1" cy="182.5" r="3.3"/><circle cx="1337.1" cy="214.8" r="3.3"/><circle cx="1274.4" cy="209.2" r="3.3"/><circle cx="1279.2" cy="206.8" r="3.3"/><circle cx="1267.1" cy="204.4" r="3.3"/><circle cx="1211.8" cy="186.3" r="3.3"/><circle cx="1216.7" cy="189.3" r="3.3"/><circle cx="1220.7" cy="192.9" r="3.3"/><circle cx="1223.9" cy="195.6" r="3.3"/><circle cx="1228.4" cy="197.7" r="3.3"/><circle cx="1233.2" cy="198.6" r="3.3"/><circle cx="1239.3" cy="201.8" r="3.3"/><circle cx="1243.4" cy="201.0" r="3.3"/><circle cx="1249.3" cy="205.5" r="3.3"/><circle cx="1253.6" cy="206.6" r="3.3"/><circle cx="1259.0" cy="208.3" r="3.3"/><circle cx="1262.3" cy="212.6" r="3.3"/><circle cx="1263.9" cy="215.7" r="3.3"/><circle cx="1268.0" cy="221.4" r="3.3"/><circle cx="1271.2" cy="224.3" r="3.3"/><circle cx="1276.2" cy="227.3" r="3.3"/><circle cx="1279.2" cy="230.3" r="3.3"/><circle cx="1281.0" cy="234.7" r="3.3"/><circle cx="1286.0" cy="239.4" r="3.3"/><circle cx="1288.4" cy="243.6" r="3.3"/><circle cx="1292.5" cy="246.4" r="3.3"/><circle cx="1297.1" cy="251.1" r="3.3"/><circle cx="1299.6" cy="253.9" r="3.3"/><circle cx="1304.5" cy="257.8" r="3.3"/><circle cx="1309.1" cy="259.3" r="3.3"/><circle cx="1313.8" cy="262.0" r="3.3"/><circle cx="1316.2" cy="267.0" r="3.3"/><circle cx="1319.4" cy="269.4" r="3.3"/><circle cx="1323.1" cy="273.1" r="3.3"/><circle cx="1329.2" cy="276.1" r="3.3"/><circle cx="1333.6" cy="278.5" r="3.3"/><circle cx="1337.1" cy="282.3" r="3.3"/><circle cx="1341.0" cy="284.9" r="3.3"/><circle cx="1346.3" cy="288.6" r="3.3"/><circle cx="1349.8" cy="289.5" r="3.3"/><circle cx="1232.9" cy="207.3" r="3.3"/><circle cx="1236.1" cy="210.0" r="3.3"/><circle cx="1242.2" cy="213.5" r="3.3"/><circle cx="1247.2" cy="213.7" r="3.3"/><circle cx="1251.0" cy="215.8" r="3.3"/><circle cx="1255.0" cy="216.2" r="3.3"/><circle cx="1257.3" cy="216.5" r="3.3"/><circle cx="1285.6" cy="244.6" r="3.3"/><circle cx="1288.4" cy="250.5" r="3.3"/><circle cx="1291.9" cy="253.0" r="3.3"/><circle cx="1295.8" cy="258.8" r="3.3"/><circle cx="1298.1" cy="261.6" r="3.3"/><circle cx="1302.7" cy="266.8" r="3.3"/><circle cx="1306.6" cy="270.8" r="3.3"/><circle cx="1309.0" cy="272.8" r="3.3"/><circle cx="1313.2" cy="277.3" r="3.3"/><circle cx="1319.0" cy="278.4" r="3.3"/><circle cx="1320.4" cy="282.2" r="3.3"/><circle cx="1324.2" cy="286.5" r="3.3"/><circle cx="1328.8" cy="289.5" r="3.3"/><circle cx="1330.5" cy="293.8" r="3.3"/><circle cx="1334.8" cy="298.2" r="3.3"/><circle cx="1339.7" cy="302.6" r="3.3"/><circle cx="1341.5" cy="306.4" r="3.3"/><circle cx="1345.1" cy="308.9" r="3.3"/><circle cx="1348.7" cy="315.1" r="3.3"/><circle cx="1350.5" cy="319.9" r="3.3"/><circle cx="1351.0" cy="323.5" r="3.3"/><circle cx="1352.2" cy="326.0" r="3.3"/><circle cx="1314.6" cy="258.3" r="3.3"/><circle cx="1318.1" cy="260.3" r="3.3"/><circle cx="1322.1" cy="264.2" r="3.3"/><circle cx="1326.1" cy="267.5" r="3.3"/><circle cx="1328.1" cy="271.9" r="3.3"/><circle cx="1331.1" cy="276.9" r="3.3"/><circle cx="1333.5" cy="282.7" r="3.3"/><circle cx="1338.7" cy="284.4" r="3.3"/><circle cx="1341.2" cy="288.6" r="3.3"/><circle cx="1345.3" cy="291.4" r="3.3"/><circle cx="1350.8" cy="297.0" r="3.3"/><circle cx="1353.7" cy="298.6" r="3.3"/><circle cx="1356.4" cy="301.0" r="3.3"/><circle cx="1360.7" cy="305.1" r="3.3"/><circle cx="1365.7" cy="308.4" r="3.3"/><circle cx="1367.0" cy="314.3" r="3.3"/><circle cx="1370.3" cy="316.7" r="3.3"/><circle cx="1371.6" cy="321.3" r="3.3"/><circle cx="1371.7" cy="323.6" r="3.3"/><circle cx="1296.3" cy="266.6" r="3.3"/><circle cx="1302.0" cy="268.9" r="3.3"/><circle cx="1304.9" cy="271.0" r="3.3"/><circle cx="1309.3" cy="275.3" r="3.3"/><circle cx="1314.4" cy="279.2" r="3.3"/><circle cx="1317.8" cy="281.5" r="3.3"/><circle cx="1323.1" cy="287.7" r="3.3"/><circle cx="1327.1" cy="291.2" r="3.3"/><circle cx="1330.5" cy="295.4" r="3.3"/><circle cx="1332.3" cy="299.1" r="3.3"/><circle cx="1335.8" cy="302.3" r="3.3"/><circle cx="1337.3" cy="308.1" r="3.3"/><circle cx="1340.5" cy="314.3" r="3.3"/><circle cx="1342.5" cy="316.3" r="3.3"/><circle cx="1213.5" cy="186.0" r="3.3"/><circle cx="1217.6" cy="190.6" r="3.3"/><circle cx="1221.8" cy="191.7" r="3.3"/><circle cx="1224.6" cy="192.5" r="3.3"/><circle cx="1227.9" cy="193.9" r="3.3"/><circle cx="1243.5" cy="181.2" r="3.3"/><circle cx="1249.4" cy="181.2" r="3.3"/><circle cx="1265.0" cy="180.2" r="3.3"/><circle cx="1290.5" cy="178.3" r="3.3"/><circle cx="1300.3" cy="175.3" r="3.3"/><circle cx="1298.3" cy="182.2" r="3.3"/><circle cx="1337.5" cy="176.3" r="3.3"/><circle cx="1337.5" cy="214.5" r="3.3"/><circle cx="1163.3" cy="210.6" r="3.3"/><circle cx="1126.1" cy="256.6" r="3.3"/><circle cx="1272.9" cy="209.6" r="3.3"/><circle cx="1278.7" cy="206.7" r="3.3"/><circle cx="1267.0" cy="205.7" r="3.3"/><circle cx="1234.8" cy="200.9" r="3.3"/><circle cx="1240.9" cy="204.5" r="3.3"/><circle cx="1246.4" cy="204.9" r="3.3"/><circle cx="1250.4" cy="208.2" r="3.3"/><circle cx="1253.0" cy="210.6" r="3.3"/><circle cx="1259.6" cy="213.8" r="3.3"/><circle cx="1263.4" cy="215.8" r="3.3"/><circle cx="1266.0" cy="219.5" r="3.3"/><circle cx="1270.7" cy="222.5" r="3.3"/><circle cx="1275.7" cy="225.3" r="3.3"/><circle cx="1277.3" cy="230.9" r="3.3"/><circle cx="1281.0" cy="232.9" r="3.3"/><circle cx="1281.9" cy="237.2" r="3.3"/><circle cx="1287.4" cy="243.0" r="3.3"/><circle cx="1289.3" cy="246.1" r="3.3"/><circle cx="1296.0" cy="248.5" r="3.3"/><circle cx="1298.5" cy="250.8" r="3.3"/><circle cx="1302.3" cy="252.0" r="3.3"/><circle cx="1308.9" cy="256.6" r="3.3"/><circle cx="1311.9" cy="260.3" r="3.3"/><circle cx="1315.8" cy="263.1" r="3.3"/><circle cx="1320.9" cy="264.4" r="3.3"/><circle cx="1323.2" cy="267.9" r="3.3"/><circle cx="1326.8" cy="272.4" r="3.3"/><circle cx="1330.5" cy="275.5" r="3.3"/><circle cx="1333.8" cy="280.5" r="3.3"/><circle cx="1338.2" cy="282.6" r="3.3"/><circle cx="1340.0" cy="284.0" r="3.3"/><circle cx="1243.8" cy="210.8" r="3.3"/><circle cx="1247.3" cy="214.0" r="3.3"/><circle cx="1251.5" cy="216.1" r="3.3"/><circle cx="1255.6" cy="217.8" r="3.3"/><circle cx="1259.3" cy="221.5" r="3.3"/><circle cx="1262.0" cy="226.5" r="3.3"/><circle cx="1265.7" cy="229.6" r="3.3"/><circle cx="1270.5" cy="233.8" r="3.3"/><circle cx="1272.2" cy="238.0" r="3.3"/><circle cx="1275.4" cy="243.1" r="3.3"/><circle cx="1277.0" cy="246.7" r="3.3"/><circle cx="1280.6" cy="249.9" r="3.3"/><circle cx="1285.3" cy="254.5" r="3.3"/><circle cx="1287.9" cy="259.3" r="3.3"/><circle cx="1292.1" cy="262.4" r="3.3"/><circle cx="1294.9" cy="266.1" r="3.3"/><circle cx="1298.6" cy="269.8" r="3.3"/><circle cx="1302.4" cy="272.6" r="3.3"/><circle cx="1306.4" cy="277.0" r="3.3"/><circle cx="1311.0" cy="280.1" r="3.3"/><circle cx="1315.6" cy="281.7" r="3.3"/><circle cx="1318.1" cy="287.3" r="3.3"/><circle cx="1322.6" cy="288.6" r="3.3"/><circle cx="1324.5" cy="292.4" r="3.3"/><circle cx="1329.1" cy="293.9" r="3.3"/><circle cx="1333.8" cy="297.1" r="3.3"/><circle cx="1337.5" cy="297.7" r="3.3"/><circle cx="1111.3" cy="214.6" r="3.3"/><circle cx="1115.2" cy="217.0" r="3.3"/><circle cx="1118.3" cy="217.4" r="3.3"/><circle cx="1097.2" cy="217.4" r="3.3"/><circle cx="1102.1" cy="224.5" r="3.3"/><circle cx="1104.3" cy="229.4" r="3.3"/><circle cx="1108.5" cy="233.1" r="3.3"/><circle cx="1121.9" cy="235.0" r="3.3"/><circle cx="1126.1" cy="241.0" r="3.3"/><circle cx="1126.7" cy="244.6" r="3.3"/><circle cx="1131.2" cy="248.7" r="3.3"/><circle cx="1134.0" cy="252.8" r="3.3"/><circle cx="1139.9" cy="255.3" r="3.3"/><circle cx="1141.8" cy="258.5" r="3.3"/><circle cx="1132.1" cy="276.0" r="3.3"/><circle cx="1132.4" cy="280.1" r="3.3"/><circle cx="1135.9" cy="285.1" r="3.3"/><circle cx="1136.6" cy="290.6" r="3.3"/><circle cx="1141.2" cy="294.7" r="3.3"/><circle cx="1142.2" cy="296.3" r="3.3"/><circle cx="1145.8" cy="300.8" r="3.3"/><circle cx="1150.2" cy="301.9" r="3.3"/><circle cx="1154.8" cy="306.5" r="3.3"/><circle cx="1160.3" cy="306.7" r="3.3"/><circle cx="1163.3" cy="309.4" r="3.3"/><circle cx="1144.7" cy="265.6" r="3.3"/><circle cx="1150.5" cy="268.1" r="3.3"/><circle cx="1153.8" cy="269.3" r="3.3"/><circle cx="1158.6" cy="274.6" r="3.3"/><circle cx="1159.4" cy="280.0" r="3.3"/><circle cx="1166.0" cy="312.6" r="3.3"/><circle cx="1172.8" cy="314.3" r="3.3"/><circle cx="1177.0" cy="315.3" r="3.3"/><circle cx="1181.7" cy="302.6" r="3.3"/><circle cx="1186.8" cy="305.5" r="3.3"/><circle cx="1187.5" cy="316.3" r="3.3"/><circle cx="1192.4" cy="317.7" r="3.3"/><circle cx="1196.6" cy="322.3" r="3.3"/><circle cx="1199.8" cy="322.4" r="3.3"/><circle cx="1204.7" cy="325.2" r="3.3"/><circle cx="1207.8" cy="327.1" r="3.3"/><circle cx="1212.1" cy="329.0" r="3.3"/><circle cx="1217.4" cy="330.9" r="3.3"/><circle cx="1223.2" cy="332.4" r="3.3"/><circle cx="1227.0" cy="333.6" r="3.3"/><circle cx="1227.9" cy="334.8" r="3.3"/><circle cx="1229.4" cy="347.1" r="3.3"/><circle cx="1230.9" cy="352.4" r="3.3"/><circle cx="1234.0" cy="359.3" r="3.3"/><circle cx="1233.7" cy="360.3" r="3.3"/><circle cx="1189.8" cy="235.0" r="3.3"/><circle cx="1198.2" cy="235.2" r="3.3"/><circle cx="1204.1" cy="237.5" r="3.3"/><circle cx="1208.3" cy="238.9" r="3.3"/><circle cx="1235.7" cy="247.7" r="3.3"/><circle cx="1241.5" cy="248.8" r="3.3"/><circle cx="1247.4" cy="250.7" r="3.3"/><circle cx="1330.9" cy="301.4" r="3.3"/><circle cx="1334.0" cy="304.0" r="3.3"/><circle cx="1339.1" cy="306.5" r="3.3"/><circle cx="1342.9" cy="307.4" r="3.3"/><circle cx="1347.0" cy="307.6" r="3.3"/><circle cx="1352.1" cy="310.2" r="3.3"/><circle cx="1357.6" cy="309.5" r="3.3"/><circle cx="1362.2" cy="312.5" r="3.3"/><circle cx="1368.6" cy="314.1" r="3.3"/><circle cx="1369.2" cy="317.4" r="3.3"/><circle cx="1371.4" cy="322.7" r="3.3"/><circle cx="1372.6" cy="327.5" r="3.3"/><circle cx="1373.0" cy="334.0" r="3.3"/><circle cx="1374.4" cy="337.9" r="3.3"/><circle cx="1371.7" cy="344.2" r="3.3"/><circle cx="1371.2" cy="347.5" r="3.3"/><circle cx="1373.1" cy="351.6" r="3.3"/><circle cx="1377.8" cy="355.8" r="3.3"/><circle cx="1378.5" cy="359.8" r="3.3"/><circle cx="1375.2" cy="363.5" r="3.3"/><circle cx="1372.8" cy="368.3" r="3.3"/><circle cx="1370.0" cy="371.5" r="3.3"/><circle cx="1368.1" cy="376.5" r="3.3"/><circle cx="1366.3" cy="381.8" r="3.3"/><circle cx="1364.5" cy="386.8" r="3.3"/><circle cx="1362.1" cy="392.0" r="3.3"/><circle cx="1358.8" cy="394.9" r="3.3"/><circle cx="1357.3" cy="398.4" r="3.3"/><circle cx="1353.4" cy="403.8" r="3.3"/><circle cx="1348.2" cy="408.4" r="3.3"/><circle cx="1347.4" cy="411.7" r="3.3"/><circle cx="1343.8" cy="416.3" r="3.3"/><circle cx="1338.8" cy="419.4" r="3.3"/><circle cx="1335.3" cy="422.6" r="3.3"/><circle cx="1331.6" cy="424.8" r="3.3"/><circle cx="1326.4" cy="427.3" r="3.3"/><circle cx="1322.9" cy="430.2" r="3.3"/><circle cx="1318.0" cy="431.9" r="3.3"/><circle cx="1318.2" cy="433.8" r="3.3"/><circle cx="1339.0" cy="319.1" r="3.3"/><circle cx="1339.9" cy="325.5" r="3.3"/><circle cx="1342.2" cy="329.9" r="3.3"/><circle cx="1343.6" cy="335.0" r="3.3"/><circle cx="1344.4" cy="338.0" r="3.3"/><circle cx="1344.0" cy="344.7" r="3.3"/><circle cx="1340.3" cy="348.4" r="3.3"/><circle cx="1340.0" cy="348.7" r="3.3"/><circle cx="1355.1" cy="332.8" r="3.3"/><circle cx="1355.3" cy="338.5" r="3.3"/><circle cx="1353.4" cy="343.6" r="3.3"/><circle cx="1355.3" cy="348.6" r="3.3"/><circle cx="1355.3" cy="355.9" r="3.3"/><circle cx="1354.6" cy="359.3" r="3.3"/><circle cx="1355.0" cy="365.3" r="3.3"/><circle cx="1357.0" cy="370.0" r="3.3"/><circle cx="1357.1" cy="373.0" r="3.3"/><circle cx="1369.7" cy="342.6" r="3.3"/><circle cx="1369.6" cy="348.5" r="3.3"/><circle cx="1372.7" cy="354.1" r="3.3"/><circle cx="1373.5" cy="358.7" r="3.3"/><circle cx="1371.9" cy="364.7" r="3.3"/><circle cx="1371.4" cy="371.1" r="3.3"/><circle cx="1369.1" cy="375.0" r="3.3"/><circle cx="1366.4" cy="380.6" r="3.3"/><circle cx="1363.9" cy="384.7" r="3.3"/><circle cx="1362.4" cy="389.8" r="3.3"/><circle cx="1359.8" cy="396.8" r="3.3"/><circle cx="1354.3" cy="400.3" r="3.3"/><circle cx="1354.6" cy="402.2" r="3.3"/><circle cx="1160.9" cy="308.6" r="3.3"/><circle cx="1164.9" cy="309.1" r="3.3"/><circle cx="1169.2" cy="313.6" r="3.3"/><circle cx="1174.6" cy="314.6" r="3.3"/><circle cx="1183.5" cy="312.4" r="3.3"/><circle cx="1187.3" cy="315.4" r="3.3"/><circle cx="1193.6" cy="317.5" r="3.3"/><circle cx="1197.2" cy="321.8" r="3.3"/><circle cx="1201.8" cy="325.0" r="3.3"/><circle cx="1204.3" cy="328.2" r="3.3"/><circle cx="1209.5" cy="328.1" r="3.3"/><circle cx="1213.0" cy="331.1" r="3.3"/><circle cx="1219.1" cy="332.2" r="3.3"/><circle cx="1222.8" cy="334.4" r="3.3"/><circle cx="1226.4" cy="339.9" r="3.3"/><circle cx="1228.5" cy="343.7" r="3.3"/><circle cx="1232.5" cy="346.7" r="3.3"/><circle cx="1234.0" cy="353.4" r="3.3"/><circle cx="1233.0" cy="353.5" r="3.3"/><circle cx="1248.7" cy="367.5" r="3.3"/><circle cx="1252.7" cy="368.7" r="3.3"/><circle cx="1260.1" cy="370.2" r="3.3"/><circle cx="1262.2" cy="370.6" r="3.3"/><circle cx="1232.6" cy="360.6" r="3.3"/><circle cx="1237.4" cy="362.0" r="3.3"/><circle cx="1242.7" cy="365.7" r="3.3"/></g>
<g fill="#dc64d6"><circle cx="959.4" cy="128.4" r="3.3"/><circle cx="965.5" cy="128.4" r="3.3"/><circle cx="969.0" cy="127.0" r="3.3"/><circle cx="979.8" cy="126.5" r="3.3"/><circle cx="990.7" cy="125.5" r="3.3"/><circle cx="1000.3" cy="125.5" r="3.3"/><circle cx="1099.3" cy="170.2" r="3.3"/><circle cx="1050.3" cy="214.1" r="3.3"/><circle cx="1055.1" cy="218.9" r="3.3"/><circle cx="1055.9" cy="220.9" r="3.3"/><circle cx="1066.4" cy="233.0" r="3.3"/><circle cx="1072.4" cy="235.9" r="3.3"/><circle cx="1075.2" cy="237.8" r="3.3"/><circle cx="1031.7" cy="181.0" r="3.3"/><circle cx="1098.1" cy="248.6" r="3.3"/><circle cx="1048.6" cy="169.0" r="3.3"/><circle cx="1122.6" cy="265.5" r="3.3"/><circle cx="1128.2" cy="267.1" r="3.3"/><circle cx="1132.2" cy="268.6" r="3.3"/><circle cx="1136.3" cy="273.3" r="3.3"/><circle cx="1140.5" cy="277.5" r="3.3"/><circle cx="1143.4" cy="279.1" r="3.3"/><circle cx="1149.6" cy="282.6" r="3.3"/><circle cx="1152.7" cy="286.3" r="3.3"/><circle cx="1156.7" cy="290.6" r="3.3"/><circle cx="1163.1" cy="292.3" r="3.3"/><circle cx="1166.0" cy="296.4" r="3.3"/><circle cx="1169.4" cy="300.6" r="3.3"/><circle cx="1170.0" cy="301.7" r="3.3"/><circle cx="1121.2" cy="261.5" r="3.3"/><circle cx="1124.7" cy="267.0" r="3.3"/><circle cx="1129.0" cy="268.4" r="3.3"/><circle cx="1133.9" cy="273.6" r="3.3"/><circle cx="1136.5" cy="273.9" r="3.3"/><circle cx="1139.7" cy="276.5" r="3.3"/><circle cx="1144.1" cy="279.2" r="3.3"/><circle cx="1147.7" cy="282.5" r="3.3"/><circle cx="1152.7" cy="286.8" r="3.3"/><circle cx="1157.4" cy="287.9" r="3.3"/><circle cx="1160.3" cy="291.0" r="3.3"/><circle cx="1163.6" cy="293.9" r="3.3"/><circle cx="1166.0" cy="297.1" r="3.3"/><circle cx="1171.6" cy="300.4" r="3.3"/><circle cx="1173.3" cy="305.6" r="3.3"/><circle cx="1177.3" cy="308.2" r="3.3"/><circle cx="1178.5" cy="312.2" r="3.3"/><circle cx="1181.9" cy="316.4" r="3.3"/><circle cx="1186.9" cy="321.0" r="3.3"/><circle cx="1190.0" cy="322.0" r="3.3"/><circle cx="1190.8" cy="327.6" r="3.3"/><circle cx="1196.4" cy="330.5" r="3.3"/><circle cx="1198.7" cy="332.8" r="3.3"/><circle cx="1201.3" cy="339.1" r="3.3"/><circle cx="1206.3" cy="341.8" r="3.3"/><circle cx="1210.6" cy="342.9" r="3.3"/><circle cx="1212.0" cy="345.4" r="3.3"/><circle cx="1217.1" cy="349.7" r="3.3"/><circle cx="1222.1" cy="352.7" r="3.3"/><circle cx="1224.0" cy="354.4" r="3.3"/><circle cx="1185.2" cy="202.5" r="3.3"/><circle cx="1194.9" cy="209.6" r="3.3"/><circle cx="1201.4" cy="216.4" r="3.3"/><circle cx="1215.8" cy="224.1" r="3.3"/><circle cx="1219.1" cy="228.4" r="3.3"/><circle cx="1223.0" cy="230.6" r="3.3"/><circle cx="1224.2" cy="234.4" r="3.3"/><circle cx="1228.4" cy="239.7" r="3.3"/><circle cx="1229.5" cy="241.9" r="3.3"/><circle cx="1233.1" cy="247.5" r="3.3"/><circle cx="1234.8" cy="250.8" r="3.3"/><circle cx="1237.6" cy="254.4" r="3.3"/><circle cx="1239.1" cy="259.9" r="3.3"/><circle cx="1243.5" cy="264.5" r="3.3"/><circle cx="1245.8" cy="268.2" r="3.3"/><circle cx="1246.4" cy="271.6" r="3.3"/><circle cx="1250.9" cy="277.1" r="3.3"/><circle cx="1251.5" cy="279.2" r="3.3"/><circle cx="1254.5" cy="285.2" r="3.3"/><circle cx="1256.7" cy="288.2" r="3.3"/><circle cx="1259.7" cy="294.3" r="3.3"/><circle cx="1260.8" cy="295.9" r="3.3"/><circle cx="1263.4" cy="301.2" r="3.3"/><circle cx="1267.1" cy="304.5" r="3.3"/><circle cx="1270.5" cy="309.8" r="3.3"/><circle cx="1272.8" cy="311.9" r="3.3"/><circle cx="1276.8" cy="316.1" r="3.3"/><circle cx="1278.3" cy="320.3" r="3.3"/><circle cx="1278.6" cy="326.2" r="3.3"/><circle cx="1280.7" cy="331.1" r="3.3"/><circle cx="1282.7" cy="332.9" r="3.3"/><circle cx="1233.7" cy="337.8" r="3.3"/><circle cx="1235.6" cy="342.5" r="3.3"/><circle cx="1239.5" cy="348.0" r="3.3"/><circle cx="1240.7" cy="350.4" r="3.3"/><circle cx="1243.4" cy="356.2" r="3.3"/><circle cx="1245.6" cy="357.7" r="3.3"/><circle cx="1247.4" cy="360.3" r="3.3"/><circle cx="1152.2" cy="245.5" r="3.3"/><circle cx="1157.9" cy="251.4" r="3.3"/><circle cx="1160.8" cy="256.3" r="3.3"/><circle cx="1165.0" cy="258.5" r="3.3"/><circle cx="1167.2" cy="262.4" r="3.3"/><circle cx="1205.4" cy="306.7" r="3.3"/><circle cx="1210.3" cy="308.1" r="3.3"/><circle cx="1213.4" cy="313.0" r="3.3"/><circle cx="1215.8" cy="316.8" r="3.3"/><circle cx="1219.2" cy="319.0" r="3.3"/><circle cx="1223.5" cy="323.2" r="3.3"/><circle cx="1225.9" cy="325.0" r="3.3"/><circle cx="1066.8" cy="232.0" r="3.3"/><circle cx="1072.0" cy="234.3" r="3.3"/><circle cx="1075.2" cy="237.0" r="3.3"/><circle cx="1096.8" cy="248.7" r="3.3"/><circle cx="1159.6" cy="300.9" r="3.3"/><circle cx="1164.6" cy="302.9" r="3.3"/><circle cx="1166.1" cy="306.1" r="3.3"/><circle cx="1170.7" cy="310.4" r="3.3"/><circle cx="1173.9" cy="311.9" r="3.3"/><circle cx="1179.3" cy="314.3" r="3.3"/><circle cx="1181.3" cy="320.0" r="3.3"/><circle cx="1185.7" cy="321.2" r="3.3"/><circle cx="1187.0" cy="324.6" r="3.3"/><circle cx="1192.9" cy="328.6" r="3.3"/><circle cx="1195.8" cy="333.8" r="3.3"/><circle cx="1198.0" cy="335.4" r="3.3"/><circle cx="1203.2" cy="339.8" r="3.3"/><circle cx="1204.8" cy="343.2" r="3.3"/><circle cx="1208.9" cy="344.7" r="3.3"/><circle cx="1211.9" cy="348.9" r="3.3"/><circle cx="1218.4" cy="351.3" r="3.3"/><circle cx="1222.4" cy="352.4" r="3.3"/><circle cx="1224.0" cy="356.9" r="3.3"/><circle cx="1229.7" cy="361.4" r="3.3"/><circle cx="1231.6" cy="362.5" r="3.3"/><circle cx="1235.4" cy="366.4" r="3.3"/><circle cx="1240.4" cy="368.7" r="3.3"/><circle cx="1243.1" cy="373.9" r="3.3"/><circle cx="1245.9" cy="377.9" r="3.3"/><circle cx="1248.1" cy="380.6" r="3.3"/><circle cx="1250.1" cy="384.6" r="3.3"/><circle cx="1253.9" cy="387.8" r="3.3"/><circle cx="1254.1" cy="394.2" r="3.3"/><circle cx="1256.1" cy="396.6" r="3.3"/><circle cx="1257.4" cy="402.4" r="3.3"/><circle cx="1259.7" cy="408.2" r="3.3"/><circle cx="1262.4" cy="412.9" r="3.3"/><circle cx="1261.7" cy="415.0" r="3.3"/><circle cx="1262.2" cy="420.9" r="3.3"/><circle cx="1265.0" cy="425.4" r="3.3"/><circle cx="1264.5" cy="430.0" r="3.3"/><circle cx="1266.4" cy="435.5" r="3.3"/><circle cx="1267.5" cy="440.8" r="3.3"/><circle cx="1267.1" cy="441.1" r="3.3"/><circle cx="1201.8" cy="308.6" r="3.3"/><circle cx="1206.0" cy="312.2" r="3.3"/><circle cx="1208.9" cy="315.5" r="3.3"/><circle cx="1213.1" cy="318.1" r="3.3"/><circle cx="1215.4" cy="321.3" r="3.3"/><circle cx="1218.5" cy="326.5" r="3.3"/><circle cx="1223.1" cy="328.3" r="3.3"/><circle cx="1226.0" cy="333.6" r="3.3"/><circle cx="1229.7" cy="334.8" r="3.3"/><circle cx="1234.0" cy="339.4" r="3.3"/><circle cx="1238.2" cy="340.9" r="3.3"/><circle cx="1240.5" cy="345.9" r="3.3"/><circle cx="1245.3" cy="349.2" r="3.3"/><circle cx="1245.2" cy="348.7" r="3.3"/><circle cx="1256.0" cy="547.6" r="3.3"/><circle cx="1254.1" cy="551.6" r="3.3"/><circle cx="1254.4" cy="557.0" r="3.3"/><circle cx="1252.3" cy="560.8" r="3.3"/><circle cx="1250.1" cy="565.4" r="3.3"/><circle cx="1247.6" cy="568.9" r="3.3"/><circle cx="1261.5" cy="398.1" r="3.3"/><circle cx="1263.5" cy="401.3" r="3.3"/><circle cx="1262.5" cy="407.9" r="3.3"/><circle cx="1261.4" cy="412.3" r="3.3"/><circle cx="1261.3" cy="416.9" r="3.3"/><circle cx="1262.2" cy="423.2" r="3.3"/><circle cx="1264.0" cy="427.1" r="3.3"/><circle cx="1262.8" cy="432.5" r="3.3"/><circle cx="1264.6" cy="436.3" r="3.3"/></g>
<g fill="#4848fc"><circle cx="1235.1" cy="137.1" r="3.3"/><circle cx="1232.1" cy="141.8" r="3.3"/><circle cx="1230.8" cy="146.6" r="3.3"/><circle cx="1223.2" cy="147.1" r="3.3"/><circle cx="1221.6" cy="152.8" r="3.3"/><circle cx="1220.2" cy="154.4" r="3.3"/><circle cx="1217.9" cy="161.7" r="3.3"/><circle cx="1221.3" cy="163.9" r="3.3"/><circle cx="1223.8" cy="169.7" r="3.3"/><circle cx="1228.3" cy="166.2" r="3.3"/><circle cx="1230.6" cy="165.5" r="3.3"/><circle cx="1222.5" cy="150.4" r="3.3"/><circle cx="1229.4" cy="151.3" r="3.3"/><circle cx="1231.1" cy="145.0" r="3.3"/><circle cx="1237.5" cy="145.6" r="3.3"/><circle cx="1238.3" cy="150.3" r="3.3"/><circle cx="1244.9" cy="148.1" r="3.3"/><circle cx="1243.9" cy="151.1" r="3.3"/><circle cx="1241.7" cy="151.4" r="3.3"/><circle cx="1240.3" cy="155.7" r="3.3"/><circle cx="1247.6" cy="170.3" r="3.3"/><circle cx="1254.9" cy="171.5" r="3.3"/><circle cx="1219.6" cy="183.7" r="3.3"/><circle cx="1233.0" cy="186.1" r="3.3"/><circle cx="1245.2" cy="233.6" r="3.3"/><circle cx="1245.2" cy="240.9" r="3.3"/><circle cx="1252.5" cy="245.7" r="3.3"/><circle cx="1234.2" cy="229.9" r="3.3"/><circle cx="1258.8" cy="142.6" r="3.3"/><circle cx="1264.1" cy="148.3" r="3.3"/><circle cx="1265.2" cy="149.7" r="3.3"/><circle cx="1271.0" cy="150.7" r="3.3"/><circle cx="1274.5" cy="151.3" r="3.3"/><circle cx="1278.8" cy="156.6" r="3.3"/><circle cx="1275.5" cy="159.2" r="3.3"/><circle cx="1277.3" cy="166.0" r="3.3"/><circle cx="1273.5" cy="166.9" r="3.3"/><circle cx="1277.0" cy="175.3" r="3.3"/><circle cx="1276.2" cy="175.9" r="3.3"/><circle cx="1279.8" cy="181.8" r="3.3"/><circle cx="1281.9" cy="187.2" r="3.3"/><circle cx="1283.4" cy="189.5" r="3.3"/><circle cx="1284.4" cy="194.5" r="3.3"/><circle cx="1284.3" cy="201.6" r="3.3"/><circle cx="1289.5" cy="202.1" r="3.3"/><circle cx="1290.5" cy="206.2" r="3.3"/><circle cx="1294.9" cy="209.3" r="3.3"/><circle cx="1291.5" cy="213.2" r="3.3"/><circle cx="1292.5" cy="220.5" r="3.3"/><circle cx="1291.1" cy="223.5" r="3.3"/><circle cx="1296.0" cy="225.7" r="3.3"/><circle cx="1298.2" cy="230.4" r="3.3"/><circle cx="1299.3" cy="236.6" r="3.3"/><circle cx="1301.6" cy="239.8" r="3.3"/><circle cx="1304.6" cy="243.8" r="3.3"/><circle cx="1308.4" cy="247.0" r="3.3"/><circle cx="1310.6" cy="250.3" r="3.3"/><circle cx="1310.9" cy="255.4" r="3.3"/><circle cx="1310.9" cy="257.8" r="3.3"/><circle cx="1309.5" cy="264.1" r="3.3"/><circle cx="1305.3" cy="265.3" r="3.3"/><circle cx="1302.4" cy="268.9" r="3.3"/><circle cx="1301.6" cy="273.3" r="3.3"/><circle cx="1305.8" cy="275.5" r="3.3"/><circle cx="1311.5" cy="276.3" r="3.3"/><circle cx="1314.5" cy="280.6" r="3.3"/><circle cx="1317.4" cy="287.8" r="3.3"/><circle cx="1317.9" cy="288.9" r="3.3"/><circle cx="1317.0" cy="295.0" r="3.3"/><circle cx="1318.0" cy="298.7" r="3.3"/><circle cx="1320.3" cy="305.4" r="3.3"/><circle cx="1324.0" cy="306.7" r="3.3"/><circle cx="1324.6" cy="310.7" r="3.3"/><circle cx="1327.1" cy="315.2" r="3.3"/><circle cx="1329.7" cy="316.4" r="3.3"/><circle cx="1329.2" cy="324.6" r="3.3"/><circle cx="1326.0" cy="326.9" r="3.3"/><circle cx="1327.9" cy="328.5" r="3.3"/><circle cx="1229.3" cy="193.1" r="3.3"/><circle cx="1229.9" cy="198.8" r="3.3"/><circle cx="1229.5" cy="203.3" r="3.3"/><circle cx="1228.3" cy="211.8" r="3.3"/><circle cx="1228.3" cy="213.9" r="3.3"/><circle cx="1231.4" cy="218.7" r="3.3"/><circle cx="1233.6" cy="221.0" r="3.3"/><circle cx="1237.9" cy="223.8" r="3.3"/><circle cx="1258.0" cy="195.7" r="3.3"/><circle cx="1260.0" cy="200.2" r="3.3"/><circle cx="1257.0" cy="204.4" r="3.3"/><circle cx="1257.5" cy="207.8" r="3.3"/><circle cx="1262.2" cy="211.2" r="3.3"/><circle cx="1266.1" cy="216.2" r="3.3"/><circle cx="1265.0" cy="222.5" r="3.3"/><circle cx="1262.6" cy="227.9" r="3.3"/><circle cx="1267.0" cy="229.2" r="3.3"/><circle cx="1270.0" cy="232.8" r="3.3"/><circle cx="1271.4" cy="238.9" r="3.3"/><circle cx="1267.0" cy="244.6" r="3.3"/><circle cx="1265.2" cy="245.6" r="3.3"/><circle cx="1263.4" cy="248.3" r="3.3"/><circle cx="1260.4" cy="252.8" r="3.3"/><circle cx="1259.7" cy="260.2" r="3.3"/><circle cx="1262.3" cy="262.4" r="3.3"/><circle cx="1263.9" cy="262.6" r="3.3"/><circle cx="1267.1" cy="262.2" r="3.3"/><circle cx="1274.8" cy="262.5" r="3.3"/><circle cx="1276.1" cy="269.1" r="3.3"/><circle cx="1276.0" cy="270.1" r="3.3"/><circle cx="1280.5" cy="273.5" r="3.3"/><circle cx="1279.3" cy="279.5" r="3.3"/><circle cx="1282.0" cy="283.8" r="3.3"/><circle cx="1283.4" cy="289.7" r="3.3"/><circle cx="1286.1" cy="292.5" r="3.3"/><circle cx="1287.1" cy="298.6" r="3.3"/><circle cx="1286.0" cy="305.5" r="3.3"/><circle cx="1288.1" cy="306.0" r="3.3"/><circle cx="1288.8" cy="313.1" r="3.3"/><circle cx="1294.5" cy="318.3" r="3.3"/><circle cx="1293.9" cy="320.1" r="3.3"/><circle cx="1293.6" cy="326.5" r="3.3"/><circle cx="1296.3" cy="326.0" r="3.3"/><circle cx="1299.0" cy="284.0" r="3.3"/><circle cx="1298.2" cy="289.1" r="3.3"/><circle cx="1298.3" cy="295.0" r="3.3"/><circle cx="1296.8" cy="300.2" r="3.3"/><circle cx="1297.7" cy="303.1" r="3.3"/><circle cx="1300.8" cy="306.3" r="3.3"/><circle cx="1300.1" cy="313.4" r="3.3"/><circle cx="1300.7" cy="317.1" r="3.3"/><circle cx="1303.6" cy="321.2" r="3.3"/><circle cx="1267.4" cy="241.1" r="3.3"/><circle cx="1266.8" cy="247.1" r="3.3"/><circle cx="1272.9" cy="250.3" r="3.3"/><circle cx="1278.6" cy="250.8" r="3.3"/><circle cx="1279.0" cy="255.2" r="3.3"/><circle cx="1277.4" cy="263.1" r="3.3"/><circle cx="1279.8" cy="266.6" r="3.3"/><circle cx="1276.8" cy="267.6" r="3.3"/><circle cx="1123.2" cy="150.6" r="3.3"/><circle cx="1129.5" cy="151.9" r="3.3"/><circle cx="1133.7" cy="154.3" r="3.3"/><circle cx="1136.2" cy="155.9" r="3.3"/><circle cx="1140.0" cy="158.6" r="3.3"/><circle cx="1142.9" cy="164.7" r="3.3"/><circle cx="1145.2" cy="166.5" r="3.3"/><circle cx="1083.6" cy="143.6" r="3.3"/><circle cx="1136.7" cy="138.8" r="3.3"/><circle cx="1137.9" cy="149.7" r="3.3"/><circle cx="1154.1" cy="138.1" r="3.3"/><circle cx="1130.0" cy="173.8" r="3.3"/><circle cx="1133.1" cy="183.4" r="3.3"/><circle cx="1116.2" cy="232.9" r="3.3"/><circle cx="1121.0" cy="236.5" r="3.3"/><circle cx="1148.8" cy="241.4" r="3.3"/><circle cx="1166.9" cy="231.7" r="3.3"/><circle cx="1138.5" cy="194.1" r="3.3"/><circle cx="1137.4" cy="197.1" r="3.3"/><circle cx="1135.7" cy="202.2" r="3.3"/><circle cx="1135.3" cy="207.1" r="3.3"/><circle cx="1134.3" cy="207.6" r="3.3"/><circle cx="1123.5" cy="150.3" r="3.3"/><circle cx="1129.8" cy="151.8" r="3.3"/><circle cx="1133.9" cy="154.0" r="3.3"/><circle cx="1136.4" cy="157.4" r="3.3"/><circle cx="1141.5" cy="163.0" r="3.3"/><circle cx="1144.9" cy="165.0" r="3.3"/><circle cx="1147.6" cy="169.6" r="3.3"/><circle cx="1146.7" cy="170.5" r="3.3"/><circle cx="1084.0" cy="143.1" r="3.3"/><circle cx="1136.9" cy="139.1" r="3.3"/><circle cx="1138.8" cy="148.9" r="3.3"/><circle cx="1154.5" cy="137.8" r="3.3"/><circle cx="1130.0" cy="174.0" r="3.3"/><circle cx="1133.0" cy="183.2" r="3.3"/><circle cx="1115.3" cy="233.1" r="3.3"/><circle cx="1121.2" cy="237.0" r="3.3"/><circle cx="1149.6" cy="242.9" r="3.3"/><circle cx="1196.6" cy="238.9" r="3.3"/><circle cx="1198.5" cy="244.8" r="3.3"/><circle cx="1206.3" cy="252.6" r="3.3"/><circle cx="1214.2" cy="258.5" r="3.3"/><circle cx="1137.1" cy="193.2" r="3.3"/><circle cx="1137.2" cy="197.6" r="3.3"/><circle cx="1136.3" cy="203.4" r="3.3"/><circle cx="1134.1" cy="207.8" r="3.3"/><circle cx="1138.1" cy="211.1" r="3.3"/><circle cx="1139.8" cy="211.5" r="3.3"/><circle cx="1165.1" cy="231.8" r="3.3"/><circle cx="1170.8" cy="234.1" r="3.3"/><circle cx="1175.1" cy="238.6" r="3.3"/><circle cx="1180.6" cy="241.7" r="3.3"/><circle cx="1182.9" cy="240.9" r="3.3"/><circle cx="1275.2" cy="297.9" r="3.3"/><circle cx="1279.4" cy="304.0" r="3.3"/><circle cx="1284.7" cy="302.7" r="3.3"/><circle cx="1287.6" cy="304.4" r="3.3"/><circle cx="1293.9" cy="310.2" r="3.3"/><circle cx="1296.7" cy="314.6" r="3.3"/><circle cx="1296.7" cy="317.9" r="3.3"/><circle cx="1300.8" cy="322.8" r="3.3"/><circle cx="1305.2" cy="327.2" r="3.3"/><circle cx="1303.1" cy="331.7" r="3.3"/><circle cx="1306.0" cy="334.1" r="3.3"/><circle cx="1317.5" cy="306.8" r="3.3"/><circle cx="1317.4" cy="307.0" r="3.3"/><circle cx="1320.8" cy="309.6" r="3.3"/><circle cx="1327.1" cy="316.6" r="3.3"/><circle cx="1326.8" cy="321.4" r="3.3"/><circle cx="1327.5" cy="323.8" r="3.3"/><circle cx="1325.8" cy="327.7" r="3.3"/><circle cx="1328.0" cy="332.8" r="3.3"/><circle cx="1324.3" cy="338.2" r="3.3"/><circle cx="1321.2" cy="341.9" r="3.3"/><circle cx="1322.7" cy="348.6" r="3.3"/><circle cx="1323.9" cy="351.6" r="3.3"/><circle cx="1327.3" cy="357.2" r="3.3"/><circle cx="1325.7" cy="362.2" r="3.3"/><circle cx="1320.3" cy="365.7" r="3.3"/><circle cx="1320.3" cy="371.8" r="3.3"/><circle cx="1321.1" cy="376.1" r="3.3"/><circle cx="1323.1" cy="378.7" r="3.3"/><circle cx="1323.5" cy="382.8" r="3.3"/><circle cx="1322.2" cy="387.8" r="3.3"/><circle cx="1317.6" cy="392.6" r="3.3"/><circle cx="1320.0" cy="400.7" r="3.3"/><circle cx="1316.0" cy="403.3" r="3.3"/><circle cx="1318.1" cy="409.5" r="3.3"/><circle cx="1316.8" cy="412.9" r="3.3"/><circle cx="1316.4" cy="419.0" r="3.3"/><circle cx="1314.5" cy="424.1" r="3.3"/><circle cx="1313.1" cy="425.4" r="3.3"/><circle cx="1313.4" cy="431.2" r="3.3"/><circle cx="1309.3" cy="436.4" r="3.3"/><circle cx="1307.1" cy="441.4" r="3.3"/><circle cx="1307.6" cy="445.7" r="3.3"/><circle cx="1306.0" cy="446.0" r="3.3"/><circle cx="1296.8" cy="314.0" r="3.3"/><circle cx="1297.3" cy="318.7" r="3.3"/><circle cx="1301.0" cy="321.9" r="3.3"/><circle cx="1302.5" cy="326.2" r="3.3"/><circle cx="1301.0" cy="331.8" r="3.3"/><circle cx="1305.5" cy="337.4" r="3.3"/><circle cx="1304.4" cy="343.7" r="3.3"/><circle cx="1304.9" cy="346.5" r="3.3"/><circle cx="1307.4" cy="352.5" r="3.3"/><circle cx="1309.5" cy="356.7" r="3.3"/><circle cx="1309.1" cy="359.9" r="3.3"/><circle cx="1309.6" cy="366.8" r="3.3"/><circle cx="1313.1" cy="370.9" r="3.3"/><circle cx="1313.3" cy="373.0" r="3.3"/></g>
<g fill="#04aa04"><circle cx="985.6" cy="134.9" r="3.3"/><circle cx="992.4" cy="133.0" r="3.3"/><circle cx="994.0" cy="131.8" r="3.3"/><circle cx="1002.1" cy="131.6" r="3.3"/><circle cx="1003.3" cy="134.0" r="3.3"/><circle cx="1010.1" cy="137.9" r="3.3"/><circle cx="1012.3" cy="136.2" r="3.3"/><circle cx="1017.3" cy="138.3" r="3.3"/><circle cx="1023.2" cy="138.8" r="3.3"/><circle cx="1026.9" cy="141.2" r="3.3"/><circle cx="987.5" cy="148.3" r="3.3"/><circle cx="993.0" cy="146.7" r="3.3"/><circle cx="992.2" cy="144.2" r="3.3"/><circle cx="996.7" cy="140.1" r="3.3"/><circle cx="1000.3" cy="140.0" r="3.3"/><circle cx="992.1" cy="155.3" r="3.3"/><circle cx="995.6" cy="157.1" r="3.3"/><circle cx="998.3" cy="160.6" r="3.3"/><circle cx="1002.3" cy="162.2" r="3.3"/><circle cx="1007.4" cy="164.5" r="3.3"/><circle cx="1011.7" cy="169.5" r="3.3"/><circle cx="1015.7" cy="172.7" r="3.3"/><circle cx="1018.6" cy="176.6" r="3.3"/><circle cx="1021.3" cy="179.6" r="3.3"/><circle cx="1027.0" cy="181.2" r="3.3"/><circle cx="1029.3" cy="181.0" r="3.3"/><circle cx="1018.4" cy="144.6" r="3.3"/><circle cx="1020.1" cy="149.5" r="3.3"/><circle cx="1022.7" cy="151.5" r="3.3"/><circle cx="1028.2" cy="154.5" r="3.3"/><circle cx="1033.0" cy="155.2" r="3.3"/><circle cx="1037.9" cy="156.3" r="3.3"/><circle cx="1041.9" cy="156.9" r="3.3"/><circle cx="1044.4" cy="160.8" r="3.3"/><circle cx="1047.1" cy="163.6" r="3.3"/><circle cx="1047.5" cy="168.6" r="3.3"/><circle cx="1044.9" cy="171.6" r="3.3"/><circle cx="1041.7" cy="176.2" r="3.3"/><circle cx="1039.4" cy="179.9" r="3.3"/><circle cx="1037.0" cy="185.4" r="3.3"/><circle cx="1035.6" cy="189.4" r="3.3"/><circle cx="1037.8" cy="193.2" r="3.3"/><circle cx="1040.4" cy="198.3" r="3.3"/><circle cx="1042.5" cy="200.5" r="3.3"/><circle cx="1045.5" cy="205.1" r="3.3"/><circle cx="1050.4" cy="208.3" r="3.3"/><circle cx="1050.9" cy="212.3" r="3.3"/><circle cx="1055.0" cy="216.6" r="3.3"/><circle cx="1058.5" cy="219.6" r="3.3"/><circle cx="1063.2" cy="222.1" r="3.3"/><circle cx="1066.0" cy="225.9" r="3.3"/><circle cx="1070.1" cy="226.4" r="3.3"/><circle cx="1075.3" cy="227.7" r="3.3"/><circle cx="1079.2" cy="228.9" r="3.3"/><circle cx="1084.7" cy="226.8" r="3.3"/><circle cx="1089.6" cy="228.1" r="3.3"/><circle cx="1050.4" cy="148.2" r="3.3"/><circle cx="1054.1" cy="149.9" r="3.3"/><circle cx="1059.8" cy="152.4" r="3.3"/><circle cx="1063.9" cy="153.2" r="3.3"/><circle cx="1067.8" cy="156.7" r="3.3"/><circle cx="1074.2" cy="158.3" r="3.3"/><circle cx="1076.4" cy="161.2" r="3.3"/><circle cx="1081.2" cy="161.6" r="3.3"/><circle cx="1084.7" cy="165.4" r="3.3"/><circle cx="1091.0" cy="167.2" r="3.3"/><circle cx="1094.3" cy="169.1" r="3.3"/><circle cx="1094.8" cy="174.9" r="3.3"/><circle cx="1096.4" cy="178.6" r="3.3"/><circle cx="1099.2" cy="183.7" r="3.3"/><circle cx="1098.4" cy="186.5" r="3.3"/><circle cx="1095.9" cy="190.0" r="3.3"/><circle cx="1097.1" cy="194.4" r="3.3"/><circle cx="1100.6" cy="197.5" r="3.3"/><circle cx="1101.7" cy="200.3" r="3.3"/><circle cx="1066.7" cy="183.4" r="3.3"/><circle cx="1080.0" cy="189.5" r="3.3"/><circle cx="1087.2" cy="193.1" r="3.3"/><circle cx="1057.1" cy="197.9" r="3.3"/><circle cx="1113.8" cy="207.6" r="3.3"/><circle cx="1118.6" cy="213.6" r="3.3"/><circle cx="1125.9" cy="214.8" r="3.3"/><circle cx="1105.3" cy="235.3" r="3.3"/><circle cx="1109.0" cy="237.8" r="3.3"/><circle cx="1147.6" cy="255.9" r="3.3"/><circle cx="1146.4" cy="261.9" r="3.3"/><circle cx="1153.6" cy="260.7" r="3.3"/><circle cx="1070.0" cy="204.5" r="3.3"/><circle cx="1078.7" cy="208.6" r="3.3"/><circle cx="1087.2" cy="213.6" r="3.3"/><circle cx="1097.9" cy="217.9" r="3.3"/><circle cx="1106.4" cy="218.4" r="3.3"/><circle cx="1113.5" cy="222.8" r="3.3"/><circle cx="1118.6" cy="225.7" r="3.3"/><circle cx="1118.4" cy="244.2" r="3.3"/><circle cx="1126.2" cy="247.0" r="3.3"/><circle cx="1134.2" cy="252.0" r="3.3"/><circle cx="1135.5" cy="252.2" r="3.3"/><circle cx="1136.6" cy="227.8" r="3.3"/><circle cx="1145.5" cy="232.5" r="3.3"/><circle cx="1147.6" cy="234.1" r="3.3"/><circle cx="1158.6" cy="268.9" r="3.3"/><circle cx="1165.8" cy="269.4" r="3.3"/><circle cx="1166.9" cy="271.5" r="3.3"/><circle cx="1113.0" cy="208.0" r="3.3"/><circle cx="1119.3" cy="210.5" r="3.3"/><circle cx="1124.1" cy="213.5" r="3.3"/><circle cx="1097.6" cy="216.4" r="3.3"/><circle cx="1105.4" cy="221.2" r="3.3"/><circle cx="1113.1" cy="222.4" r="3.3"/><circle cx="1122.4" cy="226.1" r="3.3"/><circle cx="1128.1" cy="225.2" r="3.3"/><circle cx="1103.6" cy="236.2" r="3.3"/><circle cx="1108.5" cy="238.9" r="3.3"/><circle cx="1118.6" cy="243.7" r="3.3"/><circle cx="1124.5" cy="246.9" r="3.3"/><circle cx="1130.6" cy="249.6" r="3.3"/><circle cx="1134.6" cy="252.0" r="3.3"/><circle cx="1135.9" cy="251.7" r="3.3"/><circle cx="1145.8" cy="256.3" r="3.3"/><circle cx="1148.5" cy="261.2" r="3.3"/><circle cx="1153.5" cy="258.5" r="3.3"/><circle cx="1157.6" cy="266.6" r="3.3"/><circle cx="1162.4" cy="269.1" r="3.3"/><circle cx="1165.2" cy="271.2" r="3.3"/><circle cx="1177.0" cy="274.9" r="3.3"/><circle cx="1182.0" cy="278.9" r="3.3"/><circle cx="1187.5" cy="283.3" r="3.3"/><circle cx="1190.7" cy="284.9" r="3.3"/><circle cx="1171.2" cy="266.4" r="3.3"/><circle cx="1175.9" cy="267.9" r="3.3"/><circle cx="1183.5" cy="268.1" r="3.3"/><circle cx="1190.3" cy="268.3" r="3.3"/><circle cx="1192.6" cy="266.3" r="3.3"/><circle cx="1163.3" cy="225.2" r="3.3"/><circle cx="1169.2" cy="238.9" r="3.3"/><circle cx="1180.9" cy="227.2" r="3.3"/><circle cx="1200.5" cy="261.4" r="3.3"/><circle cx="1212.2" cy="262.4" r="3.3"/><circle cx="1196.2" cy="287.6" r="3.3"/><circle cx="1200.7" cy="290.9" r="3.3"/><circle cx="1203.4" cy="296.0" r="3.3"/><circle cx="1205.8" cy="299.0" r="3.3"/><circle cx="1212.1" cy="302.5" r="3.3"/><circle cx="1215.6" cy="304.9" r="3.3"/><circle cx="1219.8" cy="307.1" r="3.3"/><circle cx="1220.0" cy="307.4" r="3.3"/><circle cx="1229.0" cy="286.5" r="3.3"/><circle cx="1233.6" cy="292.1" r="3.3"/><circle cx="1237.4" cy="296.9" r="3.3"/><circle cx="1241.6" cy="299.6" r="3.3"/><circle cx="1237.3" cy="311.3" r="3.3"/><circle cx="1241.8" cy="315.2" r="3.3"/><circle cx="1245.0" cy="317.3" r="3.3"/><circle cx="1249.6" cy="320.9" r="3.3"/><circle cx="1254.8" cy="323.3" r="3.3"/><circle cx="1258.8" cy="326.8" r="3.3"/><circle cx="1261.8" cy="329.6" r="3.3"/><circle cx="1265.8" cy="334.9" r="3.3"/><circle cx="1270.3" cy="337.5" r="3.3"/><circle cx="1273.3" cy="339.4" r="3.3"/><circle cx="1274.8" cy="340.7" r="3.3"/><circle cx="1246.9" cy="305.7" r="3.3"/><circle cx="1252.8" cy="307.3" r="3.3"/><circle cx="1256.1" cy="308.3" r="3.3"/><circle cx="1261.6" cy="311.9" r="3.3"/><circle cx="1262.4" cy="315.0" r="3.3"/><circle cx="1266.9" cy="317.0" r="3.3"/><circle cx="1270.9" cy="319.2" r="3.3"/><circle cx="1246.7" cy="341.0" r="3.3"/><circle cx="1250.4" cy="343.3" r="3.3"/><circle cx="1255.6" cy="344.6" r="3.3"/><circle cx="1258.6" cy="347.4" r="3.3"/><circle cx="1262.6" cy="350.3" r="3.3"/><circle cx="1266.0" cy="352.4" r="3.3"/><circle cx="1268.5" cy="357.2" r="3.3"/><circle cx="1271.2" cy="360.3" r="3.3"/><circle cx="1270.9" cy="362.2" r="3.3"/><circle cx="1223.0" cy="265.0" r="3.3"/><circle cx="1230.7" cy="269.9" r="3.3"/><circle cx="1236.4" cy="270.4" r="3.3"/><circle cx="1241.6" cy="272.2" r="3.3"/><circle cx="1237.1" cy="311.2" r="3.3"/><circle cx="1239.1" cy="311.9" r="3.3"/><circle cx="1241.2" cy="316.1" r="3.3"/><circle cx="1244.8" cy="319.4" r="3.3"/><circle cx="1250.6" cy="324.5" r="3.3"/><circle cx="1251.6" cy="325.1" r="3.3"/><circle cx="1255.8" cy="324.6" r="3.3"/><circle cx="1264.4" cy="325.8" r="3.3"/><circle cx="1269.5" cy="324.3" r="3.3"/><circle cx="1268.2" cy="327.4" r="3.3"/><circle cx="1274.6" cy="333.7" r="3.3"/><circle cx="1274.4" cy="331.6" r="3.3"/><circle cx="1248.2" cy="338.8" r="3.3"/><circle cx="1248.7" cy="338.9" r="3.3"/><circle cx="1254.3" cy="342.1" r="3.3"/><circle cx="1255.3" cy="343.3" r="3.3"/><circle cx="1258.2" cy="350.4" r="3.3"/><circle cx="1262.8" cy="355.1" r="3.3"/><circle cx="1266.2" cy="357.6" r="3.3"/><circle cx="1269.8" cy="355.6" r="3.3"/><circle cx="1277.0" cy="360.4" r="3.3"/><circle cx="1280.4" cy="363.5" r="3.3"/><circle cx="1279.3" cy="370.7" r="3.3"/><circle cx="1285.6" cy="375.6" r="3.3"/><circle cx="1287.8" cy="375.0" r="3.3"/><circle cx="1286.2" cy="383.6" r="3.3"/><circle cx="1284.0" cy="389.6" r="3.3"/><circle cx="1281.5" cy="394.5" r="3.3"/><circle cx="1283.3" cy="393.1" r="3.3"/><circle cx="1280.2" cy="401.5" r="3.3"/><circle cx="1287.4" cy="402.2" r="3.3"/><circle cx="1286.4" cy="410.6" r="3.3"/><circle cx="1287.6" cy="415.7" r="3.3"/><circle cx="1291.4" cy="416.8" r="3.3"/><circle cx="1262.1" cy="338.6" r="3.3"/><circle cx="1265.2" cy="344.7" r="3.3"/><circle cx="1269.5" cy="348.2" r="3.3"/><circle cx="1270.7" cy="352.5" r="3.3"/><circle cx="1274.2" cy="355.9" r="3.3"/><circle cx="1276.8" cy="358.4" r="3.3"/><circle cx="1304.1" cy="392.1" r="3.3"/><circle cx="1303.5" cy="398.5" r="3.3"/><circle cx="1306.5" cy="403.3" r="3.3"/><circle cx="1304.4" cy="405.8" r="3.3"/><circle cx="1300.8" cy="413.4" r="3.3"/><circle cx="1302.3" cy="417.3" r="3.3"/><circle cx="1301.1" cy="416.8" r="3.3"/></g>
<g fill="#ff0000"><path d="M1041.4 138.9l5.0 5.9l-5.0 5.9l-5.0 -5.9z"/><path d="M1046.2 142.5l5.0 5.9l-5.0 5.9l-5.0 -5.9z"/><path d="M1053.4 147.4l5.0 5.9l-5.0 5.9l-5.0 -5.9z"/><path d="M1057.1 151.0l5.0 5.9l-5.0 5.9l-5.0 -5.9z"/><path d="M1063.1 154.6l5.0 5.9l-5.0 5.9l-5.0 -5.9z"/><path d="M1093.3 167.9l5.0 5.9l-5.0 5.9l-5.0 -5.9z"/><path d="M1106.5 173.2l5.0 5.9l-5.0 5.9l-5.0 -5.9z"/><path d="M1117.4 178.7l5.0 5.9l-5.0 5.9l-5.0 -5.9z"/><path d="M1156.0 194.4l5.0 5.9l-5.0 5.9l-5.0 -5.9z"/><path d="M1092.8 168.5l5.0 5.9l-5.0 5.9l-5.0 -5.9z"/><path d="M1106.5 173.4l5.0 5.9l-5.0 5.9l-5.0 -5.9z"/><path d="M1117.3 178.2l5.0 5.9l-5.0 5.9l-5.0 -5.9z"/><path d="M1155.5 193.9l5.0 5.9l-5.0 5.9l-5.0 -5.9z"/><path d="M1192.6 208.6l5.0 5.9l-5.0 5.9l-5.0 -5.9z"/><path d="M1204.4 220.3l5.0 5.9l-5.0 5.9l-5.0 -5.9z"/><path d="M1211.2 223.3l5.0 5.9l-5.0 5.9l-5.0 -5.9z"/><path d="M1223.0 224.2l5.0 5.9l-5.0 5.9l-5.0 -5.9z"/><path d="M1224.0 238.9l5.0 5.9l-5.0 5.9l-5.0 -5.9z"/><path d="M1243.0 270.5l5.0 5.9l-5.0 5.9l-5.0 -5.9z"/><path d="M1252.1 274.8l5.0 5.9l-5.0 5.9l-5.0 -5.9z"/><path d="M1258.3 276.2l5.0 5.9l-5.0 5.9l-5.0 -5.9z"/><path d="M1265.6 279.9l5.0 5.9l-5.0 5.9l-5.0 -5.9z"/><path d="M1272.5 282.5l5.0 5.9l-5.0 5.9l-5.0 -5.9z"/><path d="M1276.8 285.9l5.0 5.9l-5.0 5.9l-5.0 -5.9z"/><path d="M1243.0 265.3l5.0 5.9l-5.0 5.9l-5.0 -5.9z"/><path d="M1248.7 268.6l5.0 5.9l-5.0 5.9l-5.0 -5.9z"/><path d="M1252.4 272.3l5.0 5.9l-5.0 5.9l-5.0 -5.9z"/><path d="M1260.3 275.9l5.0 5.9l-5.0 5.9l-5.0 -5.9z"/><path d="M1267.7 280.2l5.0 5.9l-5.0 5.9l-5.0 -5.9z"/><path d="M1271.7 283.8l5.0 5.9l-5.0 5.9l-5.0 -5.9z"/><path d="M1278.6 289.2l5.0 5.9l-5.0 5.9l-5.0 -5.9z"/><path d="M1282.1 293.3l5.0 5.9l-5.0 5.9l-5.0 -5.9z"/><path d="M1285.6 301.5l5.0 5.9l-5.0 5.9l-5.0 -5.9z"/><path d="M1286.5 305.5l5.0 5.9l-5.0 5.9l-5.0 -5.9z"/><path d="M1282.2 307.5l5.0 5.9l-5.0 5.9l-5.0 -5.9z"/><path d="M1284.1 309.9l5.0 5.9l-5.0 5.9l-5.0 -5.9z"/><path d="M1287.6 316.7l5.0 5.9l-5.0 5.9l-5.0 -5.9z"/><path d="M1289.3 321.5l5.0 5.9l-5.0 5.9l-5.0 -5.9z"/><path d="M1293.9 325.0l5.0 5.9l-5.0 5.9l-5.0 -5.9z"/><path d="M1295.4 331.3l5.0 5.9l-5.0 5.9l-5.0 -5.9z"/><path d="M1298.1 334.6l5.0 5.9l-5.0 5.9l-5.0 -5.9z"/><path d="M1301.0 340.5l5.0 5.9l-5.0 5.9l-5.0 -5.9z"/><path d="M1306.0 344.1l5.0 5.9l-5.0 5.9l-5.0 -5.9z"/><path d="M1307.0 349.8l5.0 5.9l-5.0 5.9l-5.0 -5.9z"/><path d="M1311.9 352.9l5.0 5.9l-5.0 5.9l-5.0 -5.9z"/><path d="M1314.0 359.7l5.0 5.9l-5.0 5.9l-5.0 -5.9z"/><path d="M1317.0 363.9l5.0 5.9l-5.0 5.9l-5.0 -5.9z"/><path d="M1317.9 369.2l5.0 5.9l-5.0 5.9l-5.0 -5.9z"/><path d="M1318.1 373.6l5.0 5.9l-5.0 5.9l-5.0 -5.9z"/><path d="M1319.0 380.6l5.0 5.9l-5.0 5.9l-5.0 -5.9z"/><path d="M1319.7 385.6l5.0 5.9l-5.0 5.9l-5.0 -5.9z"/><path d="M1317.7 390.7l5.0 5.9l-5.0 5.9l-5.0 -5.9z"/><path d="M1314.9 394.5l5.0 5.9l-5.0 5.9l-5.0 -5.9z"/><path d="M1314.5 400.3l5.0 5.9l-5.0 5.9l-5.0 -5.9z"/><path d="M1309.1 405.9l5.0 5.9l-5.0 5.9l-5.0 -5.9z"/><path d="M1308.9 409.6l5.0 5.9l-5.0 5.9l-5.0 -5.9z"/><path d="M1307.4 415.6l5.0 5.9l-5.0 5.9l-5.0 -5.9z"/><path d="M1306.3 420.2l5.0 5.9l-5.0 5.9l-5.0 -5.9z"/><path d="M1306.2 428.3l5.0 5.9l-5.0 5.9l-5.0 -5.9z"/><path d="M1310.7 432.1l5.0 5.9l-5.0 5.9l-5.0 -5.9z"/><path d="M1310.3 436.6l5.0 5.9l-5.0 5.9l-5.0 -5.9z"/><path d="M1309.2 442.4l5.0 5.9l-5.0 5.9l-5.0 -5.9z"/><path d="M1307.9 448.7l5.0 5.9l-5.0 5.9l-5.0 -5.9z"/><path d="M1305.8 454.6l5.0 5.9l-5.0 5.9l-5.0 -5.9z"/><path d="M1302.4 457.3l5.0 5.9l-5.0 5.9l-5.0 -5.9z"/><path d="M1300.4 463.0l5.0 5.9l-5.0 5.9l-5.0 -5.9z"/><path d="M1297.1 467.3l5.0 5.9l-5.0 5.9l-5.0 -5.9z"/><path d="M1295.4 474.3l5.0 5.9l-5.0 5.9l-5.0 -5.9z"/><path d="M1292.0 479.2l5.0 5.9l-5.0 5.9l-5.0 -5.9z"/><path d="M1290.2 481.3l5.0 5.9l-5.0 5.9l-5.0 -5.9z"/><path d="M1286.2 487.0l5.0 5.9l-5.0 5.9l-5.0 -5.9z"/><path d="M1281.7 493.2l5.0 5.9l-5.0 5.9l-5.0 -5.9z"/><path d="M1279.4 497.0l5.0 5.9l-5.0 5.9l-5.0 -5.9z"/><path d="M1278.0 503.1l5.0 5.9l-5.0 5.9l-5.0 -5.9z"/><path d="M1275.5 506.5l5.0 5.9l-5.0 5.9l-5.0 -5.9z"/><path d="M1272.4 510.8l5.0 5.9l-5.0 5.9l-5.0 -5.9z"/><path d="M1271.4 518.3l5.0 5.9l-5.0 5.9l-5.0 -5.9z"/><path d="M1266.7 520.5l5.0 5.9l-5.0 5.9l-5.0 -5.9z"/><path d="M1264.3 526.4l5.0 5.9l-5.0 5.9l-5.0 -5.9z"/><path d="M1264.6 533.4l5.0 5.9l-5.0 5.9l-5.0 -5.9z"/><path d="M1262.2 537.4l5.0 5.9l-5.0 5.9l-5.0 -5.9z"/><path d="M1317.2 394.3l5.0 5.9l-5.0 5.9l-5.0 -5.9z"/><path d="M1316.1 402.7l5.0 5.9l-5.0 5.9l-5.0 -5.9z"/><path d="M1314.5 409.5l5.0 5.9l-5.0 5.9l-5.0 -5.9z"/><path d="M1311.0 411.3l5.0 5.9l-5.0 5.9l-5.0 -5.9z"/><path d="M1313.2 420.3l5.0 5.9l-5.0 5.9l-5.0 -5.9z"/><path d="M1311.9 423.0l5.0 5.9l-5.0 5.9l-5.0 -5.9z"/><path d="M1310.3 430.5l5.0 5.9l-5.0 5.9l-5.0 -5.9z"/><path d="M1306.8 434.0l5.0 5.9l-5.0 5.9l-5.0 -5.9z"/><path d="M1306.1 438.6l5.0 5.9l-5.0 5.9l-5.0 -5.9z"/><path d="M1305.7 444.2l5.0 5.9l-5.0 5.9l-5.0 -5.9z"/><path d="M1303.3 449.5l5.0 5.9l-5.0 5.9l-5.0 -5.9z"/><path d="M1303.6 454.3l5.0 5.9l-5.0 5.9l-5.0 -5.9z"/><path d="M1301.7 460.3l5.0 5.9l-5.0 5.9l-5.0 -5.9z"/><path d="M1296.6 468.7l5.0 5.9l-5.0 5.9l-5.0 -5.9z"/><path d="M1295.4 474.0l5.0 5.9l-5.0 5.9l-5.0 -5.9z"/><path d="M1296.1 479.0l5.0 5.9l-5.0 5.9l-5.0 -5.9z"/><path d="M1293.8 479.0l5.0 5.9l-5.0 5.9l-5.0 -5.9z"/><path d="M1275.2 396.1l5.0 5.9l-5.0 5.9l-5.0 -5.9z"/><path d="M1274.6 403.8l5.0 5.9l-5.0 5.9l-5.0 -5.9z"/><path d="M1277.4 408.0l5.0 5.9l-5.0 5.9l-5.0 -5.9z"/><path d="M1275.2 412.3l5.0 5.9l-5.0 5.9l-5.0 -5.9z"/><path d="M1276.3 418.5l5.0 5.9l-5.0 5.9l-5.0 -5.9z"/><path d="M1275.0 422.6l5.0 5.9l-5.0 5.9l-5.0 -5.9z"/><path d="M1272.4 427.8l5.0 5.9l-5.0 5.9l-5.0 -5.9z"/><path d="M1273.7 435.5l5.0 5.9l-5.0 5.9l-5.0 -5.9z"/><path d="M1270.2 442.4l5.0 5.9l-5.0 5.9l-5.0 -5.9z"/><path d="M1269.9 445.9l5.0 5.9l-5.0 5.9l-5.0 -5.9z"/><path d="M1268.5 450.8l5.0 5.9l-5.0 5.9l-5.0 -5.9z"/><path d="M1270.9 456.7l5.0 5.9l-5.0 5.9l-5.0 -5.9z"/><path d="M1267.7 462.9l5.0 5.9l-5.0 5.9l-5.0 -5.9z"/><path d="M1268.1 470.3l5.0 5.9l-5.0 5.9l-5.0 -5.9z"/><path d="M1267.0 476.3l5.0 5.9l-5.0 5.9l-5.0 -5.9z"/><path d="M1266.5 481.5l5.0 5.9l-5.0 5.9l-5.0 -5.9z"/><path d="M1268.3 483.9l5.0 5.9l-5.0 5.9l-5.0 -5.9z"/></g>
<g fill="#ff0000"><circle cx="1060.0" cy="130.2" r="3.9"/><circle cx="1064.5" cy="130.3" r="3.9"/><circle cx="1069.0" cy="129.8" r="3.9"/><circle cx="1074.0" cy="130.3" r="3.9"/><circle cx="1145.6" cy="124.8" r="3.9"/><circle cx="1159.6" cy="158.1" r="3.9"/><circle cx="1156.0" cy="160.5" r="3.9"/><circle cx="1148.8" cy="193.1" r="3.9"/><circle cx="1146.4" cy="205.2" r="3.9"/><circle cx="1147.6" cy="210.0" r="3.9"/><circle cx="1153.6" cy="219.6" r="3.9"/><circle cx="1159.6" cy="228.1" r="3.9"/><circle cx="1146.0" cy="175.2" r="3.9"/><circle cx="1148.4" cy="180.1" r="3.9"/><circle cx="1147.6" cy="183.4" r="3.9"/><circle cx="1145.3" cy="124.5" r="3.9"/><circle cx="1184.8" cy="120.5" r="3.9"/><circle cx="1196.6" cy="119.6" r="3.9"/><circle cx="1201.4" cy="119.6" r="3.9"/><circle cx="1197.5" cy="124.5" r="3.9"/><circle cx="1176.0" cy="141.1" r="3.9"/><circle cx="1158.4" cy="157.7" r="3.9"/><circle cx="1156.4" cy="161.1" r="3.9"/><circle cx="1148.6" cy="192.0" r="3.9"/><circle cx="1146.7" cy="205.7" r="3.9"/><circle cx="1147.6" cy="209.6" r="3.9"/><circle cx="1153.5" cy="217.4" r="3.9"/><circle cx="1159.4" cy="228.2" r="3.9"/><circle cx="1179.9" cy="233.1" r="3.9"/><circle cx="1190.7" cy="238.9" r="3.9"/><circle cx="1198.5" cy="244.8" r="3.9"/><circle cx="1206.3" cy="255.6" r="3.9"/><circle cx="1224.8" cy="267.7" r="3.9"/><circle cx="1230.8" cy="270.0" r="3.9"/><circle cx="1234.1" cy="273.7" r="3.9"/><circle cx="1238.5" cy="275.9" r="3.9"/><circle cx="1241.8" cy="279.8" r="3.9"/><circle cx="1243.6" cy="281.9" r="3.9"/><circle cx="1249.4" cy="286.4" r="3.9"/><circle cx="1251.2" cy="289.1" r="3.9"/><circle cx="1257.1" cy="291.5" r="3.9"/><circle cx="1259.8" cy="294.2" r="3.9"/><circle cx="1262.5" cy="299.1" r="3.9"/><circle cx="1267.7" cy="300.4" r="3.9"/><circle cx="1269.7" cy="303.1" r="3.9"/><circle cx="1274.9" cy="307.3" r="3.9"/><circle cx="1277.4" cy="309.8" r="3.9"/><circle cx="1281.8" cy="314.6" r="3.9"/><circle cx="1285.3" cy="318.1" r="3.9"/><circle cx="1286.2" cy="320.6" r="3.9"/><circle cx="1290.4" cy="325.5" r="3.9"/><circle cx="1292.6" cy="328.7" r="3.9"/><circle cx="1295.0" cy="333.8" r="3.9"/><circle cx="1297.3" cy="339.7" r="3.9"/><circle cx="1298.2" cy="341.6" r="3.9"/><circle cx="1301.3" cy="347.4" r="3.9"/><circle cx="1303.0" cy="351.2" r="3.9"/><circle cx="1303.6" cy="356.8" r="3.9"/><circle cx="1306.8" cy="358.9" r="3.9"/><circle cx="1309.5" cy="364.1" r="3.9"/><circle cx="1310.1" cy="364.2" r="3.9"/><circle cx="1290.0" cy="326.8" r="3.9"/><circle cx="1293.4" cy="331.1" r="3.9"/><circle cx="1294.6" cy="336.0" r="3.9"/><circle cx="1298.7" cy="340.7" r="3.9"/><circle cx="1299.7" cy="344.4" r="3.9"/><circle cx="1302.3" cy="348.7" r="3.9"/><circle cx="1303.8" cy="353.1" r="3.9"/><circle cx="1308.9" cy="356.2" r="3.9"/><circle cx="1310.1" cy="360.4" r="3.9"/><circle cx="1312.6" cy="363.0" r="3.9"/><circle cx="1315.7" cy="368.0" r="3.9"/><circle cx="1314.9" cy="372.2" r="3.9"/><circle cx="1316.6" cy="378.8" r="3.9"/><circle cx="1317.3" cy="381.4" r="3.9"/><circle cx="1320.1" cy="386.4" r="3.9"/><circle cx="1319.1" cy="392.3" r="3.9"/><circle cx="1319.4" cy="396.6" r="3.9"/><circle cx="1318.3" cy="400.0" r="3.9"/><circle cx="1317.2" cy="406.3" r="3.9"/><circle cx="1313.4" cy="409.1" r="3.9"/><circle cx="1313.1" cy="414.8" r="3.9"/><circle cx="1311.0" cy="418.2" r="3.9"/><circle cx="1310.2" cy="422.9" r="3.9"/><circle cx="1309.9" cy="429.7" r="3.9"/><circle cx="1307.9" cy="433.6" r="3.9"/><circle cx="1308.5" cy="437.1" r="3.9"/><circle cx="1307.2" cy="443.9" r="3.9"/><circle cx="1304.5" cy="447.0" r="3.9"/><circle cx="1304.1" cy="451.8" r="3.9"/><circle cx="1300.7" cy="457.3" r="3.9"/><circle cx="1299.6" cy="459.8" r="3.9"/><circle cx="1295.9" cy="464.1" r="3.9"/><circle cx="1294.4" cy="470.3" r="3.9"/><circle cx="1293.3" cy="474.4" r="3.9"/><circle cx="1291.2" cy="478.5" r="3.9"/><circle cx="1286.8" cy="481.8" r="3.9"/><circle cx="1287.3" cy="487.3" r="3.9"/><circle cx="1283.1" cy="490.1" r="3.9"/><circle cx="1282.0" cy="494.2" r="3.9"/><circle cx="1279.6" cy="497.7" r="3.9"/><circle cx="1277.2" cy="503.2" r="3.9"/><circle cx="1274.2" cy="506.6" r="3.9"/><circle cx="1275.2" cy="512.9" r="3.9"/><circle cx="1273.4" cy="517.0" r="3.9"/><circle cx="1271.4" cy="522.2" r="3.9"/><circle cx="1269.7" cy="524.2" r="3.9"/><circle cx="1266.9" cy="529.2" r="3.9"/><circle cx="1264.9" cy="533.5" r="3.9"/><circle cx="1262.3" cy="539.7" r="3.9"/><circle cx="1262.2" cy="538.4" r="3.9"/><circle cx="1296.8" cy="379.2" r="3.9"/><circle cx="1297.0" cy="384.8" r="3.9"/><circle cx="1299.6" cy="388.9" r="3.9"/><circle cx="1297.4" cy="395.2" r="3.9"/><circle cx="1296.7" cy="399.7" r="3.9"/><circle cx="1299.7" cy="404.1" r="3.9"/><circle cx="1296.0" cy="408.7" r="3.9"/><circle cx="1296.5" cy="412.0" r="3.9"/><circle cx="1293.7" cy="416.6" r="3.9"/><circle cx="1293.4" cy="422.5" r="3.9"/><circle cx="1292.4" cy="426.5" r="3.9"/><circle cx="1290.5" cy="432.5" r="3.9"/><circle cx="1292.7" cy="437.5" r="3.9"/><circle cx="1290.3" cy="442.3" r="3.9"/><circle cx="1287.6" cy="447.2" r="3.9"/><circle cx="1287.5" cy="451.2" r="3.9"/><circle cx="1287.0" cy="455.5" r="3.9"/><circle cx="1284.0" cy="459.0" r="3.9"/><circle cx="1282.0" cy="464.7" r="3.9"/><circle cx="1281.0" cy="469.5" r="3.9"/><circle cx="1277.7" cy="472.9" r="3.9"/><circle cx="1279.7" cy="476.9" r="3.9"/><circle cx="1276.7" cy="482.5" r="3.9"/><circle cx="1273.8" cy="489.2" r="3.9"/><circle cx="1272.2" cy="492.8" r="3.9"/><circle cx="1270.0" cy="494.2" r="3.9"/><circle cx="1271.8" cy="500.5" r="3.9"/><circle cx="1266.9" cy="504.8" r="3.9"/><circle cx="1267.3" cy="511.0" r="3.9"/><circle cx="1267.1" cy="511.7" r="3.9"/><circle cx="1272.3" cy="408.1" r="3.9"/><circle cx="1275.9" cy="415.4" r="3.9"/><circle cx="1270.9" cy="418.1" r="3.9"/><circle cx="1271.0" cy="424.6" r="3.9"/><circle cx="1271.5" cy="430.2" r="3.9"/><circle cx="1271.7" cy="433.2" r="3.9"/><circle cx="1270.6" cy="439.1" r="3.9"/><circle cx="1270.3" cy="442.5" r="3.9"/><circle cx="1270.0" cy="448.5" r="3.9"/><circle cx="1270.3" cy="450.3" r="3.9"/><circle cx="1269.7" cy="454.4" r="3.9"/><circle cx="1268.7" cy="462.2" r="3.9"/><circle cx="1267.0" cy="468.9" r="3.9"/><circle cx="1266.9" cy="470.9" r="3.9"/><circle cx="1267.6" cy="478.0" r="3.9"/><circle cx="1266.3" cy="480.3" r="3.9"/><circle cx="1265.1" cy="485.5" r="3.9"/><circle cx="1266.1" cy="489.4" r="3.9"/><circle cx="1264.0" cy="495.5" r="3.9"/><circle cx="1263.8" cy="499.1" r="3.9"/><circle cx="1265.6" cy="506.6" r="3.9"/><circle cx="1263.9" cy="509.3" r="3.9"/><circle cx="1262.0" cy="513.4" r="3.9"/><circle cx="1263.4" cy="519.0" r="3.9"/><circle cx="1284.7" cy="422.0" r="3.9"/><circle cx="1286.2" cy="424.3" r="3.9"/><circle cx="1287.1" cy="430.2" r="3.9"/><circle cx="1285.9" cy="437.6" r="3.9"/><circle cx="1285.7" cy="439.1" r="3.9"/><circle cx="1282.2" cy="447.4" r="3.9"/><circle cx="1279.3" cy="447.7" r="3.9"/><circle cx="1281.3" cy="454.8" r="3.9"/><circle cx="1282.4" cy="460.9" r="3.9"/><circle cx="1279.6" cy="466.8" r="3.9"/><circle cx="1278.7" cy="469.1" r="3.9"/><circle cx="1278.8" cy="473.2" r="3.9"/><circle cx="1276.3" cy="479.0" r="3.9"/><circle cx="1275.5" cy="485.5" r="3.9"/><circle cx="1276.4" cy="488.1" r="3.9"/><circle cx="1272.6" cy="492.0" r="3.9"/><circle cx="1273.4" cy="497.7" r="3.9"/><circle cx="1273.5" cy="504.1" r="3.9"/><circle cx="1274.7" cy="506.8" r="3.9"/><circle cx="1271.9" cy="509.2" r="3.9"/><circle cx="1305.7" cy="427.2" r="3.9"/><circle cx="1307.4" cy="430.4" r="3.9"/><circle cx="1303.8" cy="437.5" r="3.9"/><circle cx="1300.8" cy="439.6" r="3.9"/><circle cx="1303.8" cy="446.8" r="3.9"/><circle cx="1300.2" cy="447.8" r="3.9"/><circle cx="1301.0" cy="455.4" r="3.9"/><circle cx="1299.3" cy="461.6" r="3.9"/><circle cx="1298.3" cy="463.3" r="3.9"/><circle cx="1293.1" cy="467.2" r="3.9"/><circle cx="1293.6" cy="472.9" r="3.9"/><circle cx="1290.6" cy="475.8" r="3.9"/><circle cx="1291.3" cy="482.6" r="3.9"/><circle cx="1288.3" cy="489.1" r="3.9"/><circle cx="1288.1" cy="488.7" r="3.9"/><circle cx="1285.3" cy="497.0" r="3.9"/><circle cx="1283.1" cy="501.1" r="3.9"/><circle cx="1279.9" cy="503.6" r="3.9"/><circle cx="1281.7" cy="506.8" r="3.9"/><circle cx="1312.6" cy="373.4" r="3.9"/><circle cx="1312.9" cy="376.1" r="3.9"/><circle cx="1313.2" cy="382.6" r="3.9"/><circle cx="1313.1" cy="387.7" r="3.9"/><circle cx="1315.7" cy="394.2" r="3.9"/><circle cx="1315.1" cy="395.8" r="3.9"/><circle cx="1311.6" cy="399.2" r="3.9"/><circle cx="1313.8" cy="403.6" r="3.9"/><circle cx="1309.2" cy="408.5" r="3.9"/><circle cx="1310.1" cy="416.5" r="3.9"/><circle cx="1309.2" cy="421.0" r="3.9"/><circle cx="1305.0" cy="421.5" r="3.9"/><circle cx="1307.2" cy="427.7" r="3.9"/><circle cx="1305.6" cy="432.5" r="3.9"/><circle cx="1303.6" cy="436.3" r="3.9"/></g>
<g fill="#ff0000"><path d="M1265.6 394.6l6.2 11.4h-12.4z"/><path d="M1264.6 404.5l6.2 11.4h-12.4z"/><path d="M1266.0 409.3l6.2 11.4h-12.4z"/><path d="M1264.7 416.6l6.2 11.4h-12.4z"/><path d="M1263.0 426.0l6.2 11.4h-12.4z"/><path d="M1265.9 433.5l6.2 11.4h-12.4z"/><path d="M1265.9 439.1l6.2 11.4h-12.4z"/><path d="M1265.7 443.8l6.2 11.4h-12.4z"/><path d="M1268.8 454.5l6.2 11.4h-12.4z"/><path d="M1265.8 461.9l6.2 11.4h-12.4z"/><path d="M1267.7 466.5l6.2 11.4h-12.4z"/><path d="M1266.4 476.6l6.2 11.4h-12.4z"/><path d="M1265.7 483.7l6.2 11.4h-12.4z"/><path d="M1264.3 488.4l6.2 11.4h-12.4z"/><path d="M1266.1 494.9l6.2 11.4h-12.4z"/><path d="M1264.0 505.0l6.2 11.4h-12.4z"/><path d="M1264.6 507.5l6.2 11.4h-12.4z"/><path d="M1296.2 396.9l6.2 11.4h-12.4z"/><path d="M1293.9 401.3l6.2 11.4h-12.4z"/><path d="M1293.3 408.4l6.2 11.4h-12.4z"/><path d="M1294.8 416.0l6.2 11.4h-12.4z"/><path d="M1291.8 422.3l6.2 11.4h-12.4z"/><path d="M1290.5 430.6l6.2 11.4h-12.4z"/><path d="M1288.7 436.3l6.2 11.4h-12.4z"/><path d="M1286.3 446.7l6.2 11.4h-12.4z"/><path d="M1286.1 451.3l6.2 11.4h-12.4z"/><path d="M1283.8 458.5l6.2 11.4h-12.4z"/><path d="M1282.3 464.4l6.2 11.4h-12.4z"/><path d="M1282.4 472.7l6.2 11.4h-12.4z"/><path d="M1278.4 481.3l6.2 11.4h-12.4z"/><path d="M1276.4 486.3l6.2 11.4h-12.4z"/><path d="M1277.9 492.7l6.2 11.4h-12.4z"/><path d="M1274.4 502.8l6.2 11.4h-12.4z"/><path d="M1274.3 506.8l6.2 11.4h-12.4z"/><path d="M1270.3 516.2l6.2 11.4h-12.4z"/><path d="M1268.2 524.1l6.2 11.4h-12.4z"/><path d="M1265.1 530.9l6.2 11.4h-12.4z"/><path d="M1264.6 534.3l6.2 11.4h-12.4z"/><path d="M1306.0 377.4l6.2 11.4h-12.4z"/><path d="M1305.1 384.1l6.2 11.4h-12.4z"/><path d="M1305.6 391.8l6.2 11.4h-12.4z"/><path d="M1305.8 400.5l6.2 11.4h-12.4z"/><path d="M1302.5 406.1l6.2 11.4h-12.4z"/><path d="M1301.8 412.9l6.2 11.4h-12.4z"/><path d="M1301.2 419.5l6.2 11.4h-12.4z"/><path d="M1297.9 428.3l6.2 11.4h-12.4z"/><path d="M1295.1 436.3l6.2 11.4h-12.4z"/><path d="M1293.8 442.8l6.2 11.4h-12.4z"/><path d="M1292.9 448.3l6.2 11.4h-12.4z"/><path d="M1290.4 454.3l6.2 11.4h-12.4z"/><path d="M1287.7 464.6l6.2 11.4h-12.4z"/><path d="M1289.0 463.7l6.2 11.4h-12.4z"/><path d="M993.8 143.5l6.2 11.4h-12.4z"/><path d="M1001.7 150.3l6.2 11.4h-12.4z"/><path d="M1012.3 155.3l6.2 11.4h-12.4z"/><path d="M1021.6 160.0l6.2 11.4h-12.4z"/><path d="M1029.3 164.8l6.2 11.4h-12.4z"/><path d="M1067.4 179.3l6.2 11.4h-12.4z"/><path d="M1096.9 192.5l6.2 11.4h-12.4z"/><path d="M1132.5 208.6l6.2 11.4h-12.4z"/><path d="M1140.4 217.5l6.2 11.4h-12.4z"/><path d="M1149.2 224.0l6.2 11.4h-12.4z"/><path d="M1159.4 232.5l6.2 11.4h-12.4z"/><path d="M1164.5 237.2l6.2 11.4h-12.4z"/><path d="M1133.1 211.9l6.2 11.4h-12.4z"/><path d="M1138.9 215.5l6.2 11.4h-12.4z"/><path d="M1146.0 222.8l6.2 11.4h-12.4z"/><path d="M1154.6 228.6l6.2 11.4h-12.4z"/><path d="M1160.6 236.3l6.2 11.4h-12.4z"/><path d="M1168.7 241.4l6.2 11.4h-12.4z"/><path d="M1176.8 247.5l6.2 11.4h-12.4z"/><path d="M1182.9 252.9l6.2 11.4h-12.4z"/><path d="M1198.9 262.7l6.2 11.4h-12.4z"/><path d="M1203.6 271.1l6.2 11.4h-12.4z"/><path d="M1211.6 276.7l6.2 11.4h-12.4z"/><path d="M1215.3 281.5l6.2 11.4h-12.4z"/><path d="M1221.0 288.9l6.2 11.4h-12.4z"/><path d="M1224.9 296.9l6.2 11.4h-12.4z"/><path d="M1223.3 305.1l6.2 11.4h-12.4z"/><path d="M1230.6 311.6l6.2 11.4h-12.4z"/><path d="M1236.5 319.7l6.2 11.4h-12.4z"/><path d="M1242.9 324.0l6.2 11.4h-12.4z"/><path d="M1245.5 326.3l6.2 11.4h-12.4z"/><path d="M1259.0 328.8l6.2 11.4h-12.4z"/><path d="M1266.6 328.1l6.2 11.4h-12.4z"/><path d="M1270.9 330.2l6.2 11.4h-12.4z"/><path d="M1226.7 301.5l6.2 11.4h-12.4z"/><path d="M1229.2 306.2l6.2 11.4h-12.4z"/><path d="M1235.3 314.5l6.2 11.4h-12.4z"/><path d="M1238.6 319.1l6.2 11.4h-12.4z"/><path d="M1245.2 325.2l6.2 11.4h-12.4z"/><path d="M1252.7 329.2l6.2 11.4h-12.4z"/><path d="M1261.6 329.9l6.2 11.4h-12.4z"/><path d="M1269.0 333.3l6.2 11.4h-12.4z"/><path d="M1276.9 336.4l6.2 11.4h-12.4z"/><path d="M1283.5 335.6l6.2 11.4h-12.4z"/><path d="M1292.8 339.5l6.2 11.4h-12.4z"/><path d="M1296.3 342.1l6.2 11.4h-12.4z"/><path d="M1278.0 352.3l6.2 11.4h-12.4z"/><path d="M1276.3 359.8l6.2 11.4h-12.4z"/><path d="M1274.8 365.9l6.2 11.4h-12.4z"/><path d="M1270.9 373.4l6.2 11.4h-12.4z"/><path d="M1269.7 379.7l6.2 11.4h-12.4z"/><path d="M1269.3 385.6l6.2 11.4h-12.4z"/><path d="M1267.1 392.3l6.2 11.4h-12.4z"/><path d="M1265.2 401.5l6.2 11.4h-12.4z"/><path d="M1265.1 407.8l6.2 11.4h-12.4z"/><path d="M1268.4 415.2l6.2 11.4h-12.4z"/><path d="M1269.4 420.9l6.2 11.4h-12.4z"/><path d="M1270.3 428.1l6.2 11.4h-12.4z"/><path d="M1270.7 434.7l6.2 11.4h-12.4z"/><path d="M1269.2 441.6l6.2 11.4h-12.4z"/><path d="M1269.4 450.3l6.2 11.4h-12.4z"/><path d="M1267.2 456.2l6.2 11.4h-12.4z"/><path d="M1267.1 463.9l6.2 11.4h-12.4z"/><path d="M1267.4 470.8l6.2 11.4h-12.4z"/><path d="M1264.6 479.5l6.2 11.4h-12.4z"/><path d="M1263.6 485.7l6.2 11.4h-12.4z"/><path d="M1264.1 493.6l6.2 11.4h-12.4z"/><path d="M1264.8 500.7l6.2 11.4h-12.4z"/><path d="M1264.6 500.2l6.2 11.4h-12.4z"/><path d="M1285.6 349.8l6.2 11.4h-12.4z"/><path d="M1291.8 355.5l6.2 11.4h-12.4z"/><path d="M1297.3 362.8l6.2 11.4h-12.4z"/><path d="M1301.1 366.9l6.2 11.4h-12.4z"/><path d="M1307.5 372.3l6.2 11.4h-12.4z"/><path d="M1311.7 378.7l6.2 11.4h-12.4z"/><path d="M1317.1 386.2l6.2 11.4h-12.4z"/><path d="M1318.2 385.9l6.2 11.4h-12.4z"/><path d="M1296.1 340.9l6.2 11.4h-12.4z"/><path d="M1301.4 347.6l6.2 11.4h-12.4z"/><path d="M1307.0 352.6l6.2 11.4h-12.4z"/><path d="M1311.1 358.4l6.2 11.4h-12.4z"/><path d="M1315.7 364.0l6.2 11.4h-12.4z"/></g>
<path d="M1350.5 146.0 C1350.6 150.0 1351.0 162.2 1351.2 170.3 C1351.5 178.4 1352.3 186.5 1352.2 194.6 C1352.2 202.8 1351.2 210.9 1351.0 219.0 C1350.8 227.1 1350.6 236.0 1351.0 243.3 C1351.4 250.6 1352.2 256.7 1353.4 262.8 C1354.6 268.9 1356.9 274.9 1358.3 279.8 C1359.7 284.7 1362.1 287.5 1361.9 292.0 C1361.8 296.4 1359.4 302.3 1357.6 306.6 C1355.7 310.8 1351.7 315.6 1351.0 317.5 C1350.3 319.5 1350.8 315.9 1353.4 318.2 C1356.1 320.6 1363.0 325.8 1366.8 331.6 C1370.6 337.5 1376.5 346.6 1376.1 353.5 C1375.7 360.4 1368.8 365.7 1364.4 373.0 C1360.0 380.3 1354.6 389.2 1349.8 397.3 C1344.9 405.4 1340.0 413.1 1335.2 421.7 C1330.3 430.2 1327.1 438.7 1320.6 448.4 C1314.1 458.2 1304.0 469.9 1296.3 480.0 C1288.5 490.2 1281.0 500.3 1274.4 509.2 C1267.7 518.2 1261.0 526.7 1256.1 533.6 C1251.2 540.5 1247.0 547.8 1245.2 550.6" fill="none" stroke="#6a6a6a" stroke-width="10.8" stroke-linejoin="round" stroke-linecap="butt"/>
<path d="M1345.3 147.0 L1350.5 137.0 L1355.7 147.0Z" fill="#686868" stroke="none" stroke-width="1" />
<g fill="#000000"><path d="M1013.6 121.3l6.2 11.4h-12.4z"/><path d="M1017.2 120.8l6.2 11.4h-12.4z"/><path d="M1025.7 124.9l6.2 11.4h-12.4z"/><path d="M1031.7 126.2l6.2 11.4h-12.4z"/><path d="M1039.0 132.2l6.2 11.4h-12.4z"/><path d="M1032.9 135.8l6.2 11.4h-12.4z"/><path d="M1034.1 150.3l6.2 11.4h-12.4z"/><path d="M1043.8 156.3l6.2 11.4h-12.4z"/><path d="M1034.1 163.6l6.2 11.4h-12.4z"/><path d="M1039.0 179.3l6.2 11.4h-12.4z"/><path d="M1051.0 186.5l6.2 11.4h-12.4z"/><path d="M1051.0 201.0l6.2 11.4h-12.4z"/><path d="M1053.4 208.2l6.2 11.4h-12.4z"/><path d="M1065.5 214.3l6.2 11.4h-12.4z"/><path d="M1069.1 217.9l6.2 11.4h-12.4z"/><path d="M1072.7 221.5l6.2 11.4h-12.4z"/><path d="M1086.0 233.6l6.2 11.4h-12.4z"/><path d="M1084.8 240.8l6.2 11.4h-12.4z"/><path d="M1093.3 239.6l6.2 11.4h-12.4z"/><path d="M1093.3 256.5l6.2 11.4h-12.4z"/><path d="M1100.5 255.3l6.2 11.4h-12.4z"/><path d="M1099.3 260.1l6.2 11.4h-12.4z"/><path d="M1110.2 260.1l6.2 11.4h-12.4z"/><path d="M1090.9 280.6l6.2 11.4h-12.4z"/><path d="M1102.9 286.7l6.2 11.4h-12.4z"/><path d="M1112.6 287.9l6.2 11.4h-12.4z"/><path d="M1109.0 293.9l6.2 11.4h-12.4z"/><path d="M1113.8 297.5l6.2 11.4h-12.4z"/><path d="M1123.4 299.9l6.2 11.4h-12.4z"/><path d="M1145.2 310.8l6.2 11.4h-12.4z"/><path d="M1151.2 312.0l6.2 11.4h-12.4z"/><path d="M1154.8 314.4l6.2 11.4h-12.4z"/><path d="M1145.7 310.6l6.2 11.4h-12.4z"/><path d="M1151.5 311.6l6.2 11.4h-12.4z"/><path d="M1155.5 314.5l6.2 11.4h-12.4z"/><path d="M1170.1 318.4l6.2 11.4h-12.4z"/><path d="M1175.0 319.4l6.2 11.4h-12.4z"/><path d="M1180.9 320.4l6.2 11.4h-12.4z"/><path d="M1188.7 322.4l6.2 11.4h-12.4z"/><path d="M1194.6 331.2l6.2 11.4h-12.4z"/><path d="M1205.4 338.0l6.2 11.4h-12.4z"/><path d="M1200.5 343.9l6.2 11.4h-12.4z"/><path d="M1212.2 351.7l6.2 11.4h-12.4z"/><path d="M1222.0 357.6l6.2 11.4h-12.4z"/><path d="M1231.8 361.5l6.2 11.4h-12.4z"/><path d="M1171.1 318.5l6.2 11.4h-12.4z"/><path d="M1176.4 319.7l6.2 11.4h-12.4z"/><path d="M1186.4 321.3l6.2 11.4h-12.4z"/><path d="M1188.7 327.5l6.2 11.4h-12.4z"/><path d="M1191.6 329.9l6.2 11.4h-12.4z"/><path d="M1201.2 338.7l6.2 11.4h-12.4z"/><path d="M1206.5 344.5l6.2 11.4h-12.4z"/><path d="M1212.7 352.4l6.2 11.4h-12.4z"/><path d="M1218.7 357.4l6.2 11.4h-12.4z"/><path d="M1225.7 359.4l6.2 11.4h-12.4z"/><path d="M1231.7 362.6l6.2 11.4h-12.4z"/><path d="M1238.1 368.2l6.2 11.4h-12.4z"/><path d="M1247.1 371.3l6.2 11.4h-12.4z"/><path d="M1251.9 376.7l6.2 11.4h-12.4z"/><path d="M1261.2 380.5l6.2 11.4h-12.4z"/><path d="M1265.1 384.7l6.2 11.4h-12.4z"/><path d="M1270.4 391.8l6.2 11.4h-12.4z"/><path d="M1269.0 398.2l6.2 11.4h-12.4z"/><path d="M1273.4 405.4l6.2 11.4h-12.4z"/><path d="M1277.5 411.9l6.2 11.4h-12.4z"/><path d="M1282.3 419.1l6.2 11.4h-12.4z"/><path d="M1287.4 422.7l6.2 11.4h-12.4z"/><path d="M1291.4 427.2l6.2 11.4h-12.4z"/><path d="M1281.8 432.5l6.2 11.4h-12.4z"/><path d="M1286.1 438.0l6.2 11.4h-12.4z"/><path d="M1285.3 443.9l6.2 11.4h-12.4z"/><path d="M1280.2 447.7l6.2 11.4h-12.4z"/><path d="M1279.4 453.1l6.2 11.4h-12.4z"/><path d="M1281.6 458.6l6.2 11.4h-12.4z"/><path d="M1280.4 465.1l6.2 11.4h-12.4z"/><path d="M1277.4 473.3l6.2 11.4h-12.4z"/><path d="M1273.5 476.4l6.2 11.4h-12.4z"/><path d="M1272.4 482.8l6.2 11.4h-12.4z"/><path d="M1271.9 485.6l6.2 11.4h-12.4z"/><path d="M1268.3 505.1l6.2 11.4h-12.4z"/><path d="M1271.7 391.0l6.2 11.4h-12.4z"/><path d="M1273.6 401.0l6.2 11.4h-12.4z"/><path d="M1274.7 405.3l6.2 11.4h-12.4z"/><path d="M1273.9 412.6l6.2 11.4h-12.4z"/><path d="M1276.6 417.7l6.2 11.4h-12.4z"/><path d="M1277.9 423.9l6.2 11.4h-12.4z"/><path d="M1281.4 431.6l6.2 11.4h-12.4z"/><path d="M1284.4 434.8l6.2 11.4h-12.4z"/><path d="M1281.7 442.4l6.2 11.4h-12.4z"/><path d="M1282.5 448.4l6.2 11.4h-12.4z"/><path d="M1280.6 453.6l6.2 11.4h-12.4z"/><path d="M1280.7 461.6l6.2 11.4h-12.4z"/><path d="M1281.9 469.8l6.2 11.4h-12.4z"/><path d="M1279.7 476.2l6.2 11.4h-12.4z"/><path d="M1278.4 480.8l6.2 11.4h-12.4z"/><path d="M1275.6 483.2l6.2 11.4h-12.4z"/></g>
</g>
<g fill="#fdbe20"><circle cx="921.9" cy="384.5" r="3.6"/></g>
<text x="958.60" y="390.10" font-family='"Liberation Sans","DejaVu Sans",sans-serif' font-size="16.3" font-weight="bold" font-style="italic" fill="#000" text-anchor="start" >2013Spring</text>
<g fill="#dc64d6"><circle cx="921.9" cy="410.5" r="3.6"/></g>
<text x="958.60" y="416.14" font-family='"Liberation Sans","DejaVu Sans",sans-serif' font-size="16.3" font-weight="bold" font-style="italic" fill="#000" text-anchor="start" >2014Summer</text>
<g fill="#4848fc"><circle cx="921.9" cy="436.6" r="3.6"/></g>
<text x="958.60" y="442.18" font-family='"Liberation Sans","DejaVu Sans",sans-serif' font-size="16.3" font-weight="bold" font-style="italic" fill="#000" text-anchor="start" >2016Summer</text>
<g fill="#04aa04"><circle cx="921.9" cy="462.6" r="3.6"/></g>
<text x="958.60" y="468.22" font-family='"Liberation Sans","DejaVu Sans",sans-serif' font-size="16.3" font-weight="bold" font-style="italic" fill="#000" text-anchor="start" >2017Summer</text>
<g fill="#ff0000"><path d="M921.9 482.8l5.0 5.9l-5.0 5.9l-5.0 -5.9z"/></g>
<text x="958.60" y="494.26" font-family='"Liberation Sans","DejaVu Sans",sans-serif' font-size="16.3" font-weight="bold" font-style="italic" fill="#000" text-anchor="start" >2017SEATS</text>
<g fill="#ff0000"><circle cx="921.9" cy="514.7" r="3.9"/></g>
<text x="958.60" y="520.30" font-family='"Liberation Sans","DejaVu Sans",sans-serif' font-size="16.3" font-weight="bold" font-style="italic" fill="#000" text-anchor="start" >2016SEATS</text>
<g fill="#ff0000"><path d="M921.9 534.9l6.2 11.4h-12.4z"/></g>
<text x="958.60" y="546.34" font-family='"Liberation Sans","DejaVu Sans",sans-serif' font-size="16.3" font-weight="bold" font-style="italic" fill="#000" text-anchor="start" >2014SEATS</text>
<g fill="#686868"><path d="M921.9 561.0l6.2 11.4h-12.4z"/></g>
<text x="958.60" y="572.38" font-family='"Liberation Sans","DejaVu Sans",sans-serif' font-size="16.3" font-weight="bold" font-style="italic" fill="#000" text-anchor="start" >Kuroshio</text>
<g fill="#000"><path d="M921.9 587.0l6.2 11.4h-12.4z"/></g>
<text x="958.60" y="598.42" font-family='"Liberation Sans","DejaVu Sans",sans-serif' font-size="16.3" font-weight="bold" font-style="italic" fill="#000" text-anchor="start" >X5</text>
<rect x="887.60" y="15.70" width="617.40" height="617.60" fill="none" stroke="#000" stroke-width="1.7" />
<line x1="887.60" y1="633.30" x2="1505.00" y2="633.30" stroke="#000" stroke-width="2.0" />
<line x1="881.10" y1="633.30" x2="887.60" y2="633.30" stroke="#333" stroke-width="1" />
<text x="873.50" y="640.60" font-family='"Liberation Sans","DejaVu Sans",sans-serif' font-size="21.6" font-weight="bold" font-style="italic" fill="#000" text-anchor="end" >10</text>
<line x1="884.10" y1="571.54" x2="887.60" y2="571.54" stroke="#888" stroke-width="1" />
<line x1="881.10" y1="509.78" x2="887.60" y2="509.78" stroke="#333" stroke-width="1" />
<text x="873.50" y="517.08" font-family='"Liberation Sans","DejaVu Sans",sans-serif' font-size="21.6" font-weight="bold" font-style="italic" fill="#000" text-anchor="end" >15</text>
<line x1="884.10" y1="448.02" x2="887.60" y2="448.02" stroke="#888" stroke-width="1" />
<line x1="881.10" y1="386.26" x2="887.60" y2="386.26" stroke="#333" stroke-width="1" />
<text x="873.50" y="393.56" font-family='"Liberation Sans","DejaVu Sans",sans-serif' font-size="21.6" font-weight="bold" font-style="italic" fill="#000" text-anchor="end" >20</text>
<line x1="884.10" y1="324.50" x2="887.60" y2="324.50" stroke="#888" stroke-width="1" />
<line x1="881.10" y1="262.74" x2="887.60" y2="262.74" stroke="#333" stroke-width="1" />
<text x="873.50" y="270.04" font-family='"Liberation Sans","DejaVu Sans",sans-serif' font-size="21.6" font-weight="bold" font-style="italic" fill="#000" text-anchor="end" >25</text>
<line x1="884.10" y1="200.98" x2="887.60" y2="200.98" stroke="#888" stroke-width="1" />
<line x1="881.10" y1="139.22" x2="887.60" y2="139.22" stroke="#333" stroke-width="1" />
<text x="873.50" y="146.52" font-family='"Liberation Sans","DejaVu Sans",sans-serif' font-size="21.6" font-weight="bold" font-style="italic" fill="#000" text-anchor="end" >30</text>
<line x1="884.10" y1="77.46" x2="887.60" y2="77.46" stroke="#888" stroke-width="1" />
<line x1="881.10" y1="15.70" x2="887.60" y2="15.70" stroke="#333" stroke-width="1" />
<text x="873.50" y="23.00" font-family='"Liberation Sans","DejaVu Sans",sans-serif' font-size="21.6" font-weight="bold" font-style="italic" fill="#000" text-anchor="end" >35</text>
<line x1="887.60" y1="633.30" x2="887.60" y2="639.80" stroke="#333" stroke-width="1" />
<text x="887.60" y="665.50" font-family='"Liberation Sans","DejaVu Sans",sans-serif' font-size="21.6" font-weight="bold" font-style="italic" fill="#000" text-anchor="middle" >33</text>
<line x1="949.35" y1="633.30" x2="949.35" y2="636.80" stroke="#888" stroke-width="1" />
<line x1="1011.10" y1="633.30" x2="1011.10" y2="639.80" stroke="#333" stroke-width="1" />
<text x="1011.10" y="665.50" font-family='"Liberation Sans","DejaVu Sans",sans-serif' font-size="21.6" font-weight="bold" font-style="italic" fill="#000" text-anchor="middle" >33.5</text>
<line x1="1072.85" y1="633.30" x2="1072.85" y2="636.80" stroke="#888" stroke-width="1" />
<line x1="1134.60" y1="633.30" x2="1134.60" y2="639.80" stroke="#333" stroke-width="1" />
<text x="1134.60" y="665.50" font-family='"Liberation Sans","DejaVu Sans",sans-serif' font-size="21.6" font-weight="bold" font-style="italic" fill="#000" text-anchor="middle" >34</text>
<line x1="1196.35" y1="633.30" x2="1196.35" y2="636.80" stroke="#888" stroke-width="1" />
<line x1="1258.10" y1="633.30" x2="1258.10" y2="639.80" stroke="#333" stroke-width="1" />
<text x="1258.10" y="665.50" font-family='"Liberation Sans","DejaVu Sans",sans-serif' font-size="21.6" font-weight="bold" font-style="italic" fill="#000" text-anchor="middle" >34.5</text>
<line x1="1319.85" y1="633.30" x2="1319.85" y2="636.80" stroke="#888" stroke-width="1" />
<line x1="1381.60" y1="633.30" x2="1381.60" y2="639.80" stroke="#333" stroke-width="1" />
<text x="1381.60" y="665.50" font-family='"Liberation Sans","DejaVu Sans",sans-serif' font-size="21.6" font-weight="bold" font-style="italic" fill="#000" text-anchor="middle" >35</text>
<line x1="1443.35" y1="633.30" x2="1443.35" y2="636.80" stroke="#888" stroke-width="1" />
<line x1="1505.10" y1="633.30" x2="1505.10" y2="639.80" stroke="#333" stroke-width="1" />
<text x="1505.10" y="665.50" font-family='"Liberation Sans","DejaVu Sans",sans-serif' font-size="21.6" font-weight="bold" font-style="italic" fill="#000" text-anchor="middle" >35.5</text>
<text x="1196.30" y="691.50" font-family='"Liberation Sans","DejaVu Sans",sans-serif' font-size="27" font-weight="bold" font-style="italic" fill="#000" text-anchor="middle" >Salinity</text>
<text x="0.00" y="0.00" font-family='"Liberation Sans","DejaVu Sans",sans-serif' font-size="27.2" font-weight="bold" font-style="italic" fill="#000" text-anchor="middle" transform="translate(825.5 326.5) rotate(-90)">Potential Temperature θ [degC]</text>
<text x="0.00" y="0.00" font-family='"Liberation Sans","DejaVu Sans",sans-serif' font-size="13.5" font-weight="bold" font-style="italic" fill="#000" text-anchor="middle" transform="translate(1522.3 575.5) rotate(-90)">Ocean Data View</text>
<text x="1485.50" y="45.00" font-family='"Liberation Serif","DejaVu Serif",serif' font-size="28.5" font-weight="bold" font-style="normal" fill="#000" text-anchor="middle" >B</text>
</g>
<g id="panelC">
<line x1="196.62" y1="851.30" x2="196.62" y2="1392.50" stroke="#b2b2b2" stroke-width="1" stroke-dasharray="14.5 5.1" shape-rendering="crispEdges"/>
<line x1="196.62" y1="879.80" x2="196.62" y2="1392.50" stroke="#222" stroke-width="1" stroke-dasharray="1 38" shape-rendering="crispEdges"/>
<line x1="268.83" y1="851.30" x2="268.83" y2="1392.50" stroke="#b2b2b2" stroke-width="1" stroke-dasharray="14.5 5.1" shape-rendering="crispEdges"/>
<line x1="268.83" y1="879.80" x2="268.83" y2="1392.50" stroke="#222" stroke-width="1" stroke-dasharray="1 38" shape-rendering="crispEdges"/>
<line x1="341.05" y1="851.30" x2="341.05" y2="1392.50" stroke="#b2b2b2" stroke-width="1" stroke-dasharray="14.5 5.1" shape-rendering="crispEdges"/>
<line x1="341.05" y1="879.80" x2="341.05" y2="1392.50" stroke="#222" stroke-width="1" stroke-dasharray="1 38" shape-rendering="crispEdges"/>
<line x1="413.27" y1="851.30" x2="413.27" y2="1392.50" stroke="#b2b2b2" stroke-width="1" stroke-dasharray="14.5 5.1" shape-rendering="crispEdges"/>
<line x1="413.27" y1="879.80" x2="413.27" y2="1392.50" stroke="#222" stroke-width="1" stroke-dasharray="1 38" shape-rendering="crispEdges"/>
<line x1="485.48" y1="851.30" x2="485.48" y2="1392.50" stroke="#b2b2b2" stroke-width="1" stroke-dasharray="14.5 5.1" shape-rendering="crispEdges"/>
<line x1="485.48" y1="879.80" x2="485.48" y2="1392.50" stroke="#222" stroke-width="1" stroke-dasharray="1 38" shape-rendering="crispEdges"/>
<line x1="557.70" y1="851.30" x2="557.70" y2="1392.50" stroke="#b2b2b2" stroke-width="1" stroke-dasharray="14.5 5.1" shape-rendering="crispEdges"/>
<line x1="557.70" y1="879.80" x2="557.70" y2="1392.50" stroke="#222" stroke-width="1" stroke-dasharray="1 38" shape-rendering="crispEdges"/>
<line x1="126.40" y1="983.10" x2="557.70" y2="983.10" stroke="#b2b2b2" stroke-width="1" stroke-dasharray="14.5 5.1" shape-rendering="crispEdges"/>
<line x1="150.40" y1="983.10" x2="557.70" y2="983.10" stroke="#222" stroke-width="1" stroke-dasharray="1 38" shape-rendering="crispEdges"/>
<line x1="126.40" y1="1117.90" x2="557.70" y2="1117.90" stroke="#b2b2b2" stroke-width="1" stroke-dasharray="14.5 5.1" shape-rendering="crispEdges"/>
<line x1="150.40" y1="1117.90" x2="557.70" y2="1117.90" stroke="#222" stroke-width="1" stroke-dasharray="1 38" shape-rendering="crispEdges"/>
<line x1="126.40" y1="1252.70" x2="557.70" y2="1252.70" stroke="#b2b2b2" stroke-width="1" stroke-dasharray="14.5 5.1" shape-rendering="crispEdges"/>
<line x1="150.40" y1="1252.70" x2="557.70" y2="1252.70" stroke="#222" stroke-width="1" stroke-dasharray="1 38" shape-rendering="crispEdges"/>
<line x1="126.40" y1="1387.50" x2="557.70" y2="1387.50" stroke="#b2b2b2" stroke-width="1" stroke-dasharray="14.5 5.1" shape-rendering="crispEdges"/>
<line x1="150.40" y1="1387.50" x2="557.70" y2="1387.50" stroke="#222" stroke-width="1" stroke-dasharray="1 38" shape-rendering="crispEdges"/>
<g fill="none" stroke="#66cdc8" stroke-width="2"><path d="M125.3 1007.4 L129.8 1090.9 L137.0 1117.9 L143.4 1144.9 L154.0 1252.7 L188.3 1320.1 L243.2 1387.5" fill="none" stroke-width="1.8" stroke-linejoin="round"/><circle cx="125.3" cy="1007.4" r="6.8"/><circle cx="129.8" cy="1090.9" r="6.8"/><circle cx="137.0" cy="1117.9" r="6.8"/><circle cx="143.4" cy="1144.9" r="6.8"/><circle cx="154.0" cy="1252.7" r="6.8"/><circle cx="188.3" cy="1320.1" r="6.8"/><circle cx="243.2" cy="1387.5" r="6.8"/></g>
<g fill="none" stroke="#6495ed" stroke-width="2"><path d="M170.6 1010.1 L182.2 1037.0 L234.5 1064.0 L215.8 1117.9 L234.5 1198.8 L207.4 1279.7 L269.6 1387.5" fill="none" stroke-width="1.8" stroke-linejoin="round"/><circle cx="170.6" cy="1010.1" r="6.8"/><circle cx="182.2" cy="1037.0" r="6.8"/><circle cx="234.5" cy="1064.0" r="6.8"/><circle cx="215.8" cy="1117.9" r="6.8"/><circle cx="234.5" cy="1198.8" r="6.8"/><circle cx="207.4" cy="1279.7" r="6.8"/><circle cx="269.6" cy="1387.5" r="6.8"/></g>
<g fill="none" stroke="#0000e6" stroke-width="2"><path d="M232.7 1035.7 L272.4 1117.9 L328.4 1185.3 L341.1 1252.7 L415.1 1387.5" fill="none" stroke-width="1.8" stroke-linejoin="round"/><circle cx="232.7" cy="1035.7" r="6.8"/><circle cx="272.4" cy="1117.9" r="6.8"/><circle cx="328.4" cy="1185.3" r="6.8"/><circle cx="341.1" cy="1252.7" r="6.8"/><circle cx="415.1" cy="1387.5" r="6.8"/></g>
<g fill="none" stroke="#0a7ab4" stroke-width="2"><path d="M129.6 1117.9 L143.7 1185.3 L165.9 1252.7 L218.3 1387.5" fill="none" stroke-width="1.8" stroke-linejoin="round"/><circle cx="129.6" cy="1117.9" r="6.8"/><circle cx="143.7" cy="1185.3" r="6.8"/><circle cx="165.9" cy="1252.7" r="6.8"/><circle cx="218.3" cy="1387.5" r="6.8"/></g>
<g fill="none" stroke="#66cdc8" stroke-width="2"><path d="M126.2 1010.1 L131.6 1026.2 L241.8 1085.5 L358.6 1204.2 L366.3 1336.3" fill="none" stroke-width="1.8" stroke-linejoin="round"/><path d="M126.2 1001.1l7.3 13.2h-14.6z"/><path d="M131.6 1017.2l7.3 13.2h-14.6z"/><path d="M241.8 1076.5l7.3 13.2h-14.6z"/><path d="M358.6 1195.2l7.3 13.2h-14.6z"/><path d="M366.3 1327.3l7.3 13.2h-14.6z"/></g>
<g fill="none" stroke="#6495ed" stroke-width="2"><path d="M128.6 887.9 L130.5 902.2 L160.5 913.0 L176.8 925.7 L217.4 954.5 L227.3 980.9 L262.3 1008.2 L274.2 1031.6 L293.6 1062.9 L348.3 1169.1 L465.6 1332.5 L478.3 1386.4" fill="none" stroke-width="1.8" stroke-linejoin="round"/><path d="M128.6 878.9l7.3 13.2h-14.6z"/><path d="M130.5 893.2l7.3 13.2h-14.6z"/><path d="M160.5 904.0l7.3 13.2h-14.6z"/><path d="M176.8 916.7l7.3 13.2h-14.6z"/><path d="M217.4 945.5l7.3 13.2h-14.6z"/><path d="M227.3 971.9l7.3 13.2h-14.6z"/><path d="M262.3 999.2l7.3 13.2h-14.6z"/><path d="M274.2 1022.6l7.3 13.2h-14.6z"/><path d="M293.6 1053.9l7.3 13.2h-14.6z"/><path d="M348.3 1160.1l7.3 13.2h-14.6z"/><path d="M465.6 1323.5l7.3 13.2h-14.6z"/><path d="M478.3 1377.4l7.3 13.2h-14.6z"/></g>
<g fill="none" stroke="#0000e6" stroke-width="2"><path d="M188.5 1050.5 L279.7 1117.9 L337.4 1252.7 L362.7 1387.5" fill="none" stroke-width="1.8" stroke-linejoin="round"/><rect x="184.0" y="1046.0" width="9" height="9"/><rect x="275.2" y="1113.4" width="9" height="9"/><rect x="332.9" y="1248.2" width="9" height="9"/><rect x="358.2" y="1383.0" width="9" height="9"/></g>
<g fill="none" stroke="#0a7ab4" stroke-width="2"><path d="M130.7 1023.5 L127.6 1037.0 L165.9 1080.2 L211.8 1117.9 L303.1 1252.7 L380.8 1387.5" fill="none" stroke-width="1.8" stroke-linejoin="round"/><rect x="124.2" y="1017.0" width="13" height="13"/><rect x="121.1" y="1030.5" width="13" height="13"/><rect x="159.4" y="1073.7" width="13" height="13"/><rect x="205.3" y="1111.4" width="13" height="13"/><rect x="296.6" y="1246.2" width="13" height="13"/><rect x="374.3" y="1381.0" width="13" height="13"/></g>
<g fill="none" stroke="#ff8080" stroke-width="2"><path d="M124.4 1064.0 L124.4 1077.5 L137.0 1092.3 L162.3 1104.4 L182.2 1116.6 L189.4 1147.0 L217.7 1168.6 L249.0 1198.8 L266.7 1227.4 L273.5 1251.9 L289.2 1278.3 L322.5 1331.7 L342.9 1384.3" fill="none" stroke-width="1.8" stroke-linejoin="round"/><path d="M124.4 1055.0l7.3 13.2h-14.6z"/><path d="M124.4 1068.5l7.3 13.2h-14.6z"/><path d="M137.0 1083.3l7.3 13.2h-14.6z"/><path d="M162.3 1095.4l7.3 13.2h-14.6z"/><path d="M182.2 1107.6l7.3 13.2h-14.6z"/><path d="M189.4 1138.0l7.3 13.2h-14.6z"/><path d="M217.7 1159.6l7.3 13.2h-14.6z"/><path d="M249.0 1189.8l7.3 13.2h-14.6z"/><path d="M266.7 1218.4l7.3 13.2h-14.6z"/><path d="M273.5 1242.9l7.3 13.2h-14.6z"/><path d="M289.2 1269.3l7.3 13.2h-14.6z"/><path d="M322.5 1322.7l7.3 13.2h-14.6z"/><path d="M342.9 1375.3l7.3 13.2h-14.6z"/></g>
<g fill="none" stroke="#ff80ff" stroke-width="2"><path d="M127.6 996.6 L151.5 1012.2 L185.8 1021.9 L205.6 1039.7 L245.4 1064.0 L290.5 1090.9 L308.6 1139.5 L335.1 1201.5 L366.3 1224.9 L386.2 1305.3 L398.8 1387.5" fill="none" stroke-width="1.8" stroke-linejoin="round"/><path d="M127.6 987.6l7.3 13.2h-14.6z"/><path d="M151.5 1003.2l7.3 13.2h-14.6z"/><path d="M185.8 1012.9l7.3 13.2h-14.6z"/><path d="M205.6 1030.7l7.3 13.2h-14.6z"/><path d="M245.4 1055.0l7.3 13.2h-14.6z"/><path d="M290.5 1081.9l7.3 13.2h-14.6z"/><path d="M308.6 1130.5l7.3 13.2h-14.6z"/><path d="M335.1 1192.5l7.3 13.2h-14.6z"/><path d="M366.3 1215.9l7.3 13.2h-14.6z"/><path d="M386.2 1296.3l7.3 13.2h-14.6z"/><path d="M398.8 1378.5l7.3 13.2h-14.6z"/></g>
<g fill="#ff80c0" stroke="#ff0000" stroke-width="2"><path d="M131.6 953.4 L136.5 966.9 L164.1 983.1 L184.0 992.5 L205.6 1033.8 L223.7 1058.6 L277.9 1116.8 L333.1 1141.9 L339.2 1168.3 L371.7 1190.7 L397.0 1223.0 L407.9 1244.6 L407.9 1274.8 L409.7 1301.2 L434.9 1332.5" fill="none" stroke-width="2.2" stroke-linejoin="round"/><path d="M131.6 944.4l7.3 13.2h-14.6z"/><path d="M136.5 957.9l7.3 13.2h-14.6z"/><path d="M164.1 974.1l7.3 13.2h-14.6z"/><path d="M184.0 983.5l7.3 13.2h-14.6z"/><path d="M205.6 1024.8l7.3 13.2h-14.6z"/><path d="M223.7 1049.6l7.3 13.2h-14.6z"/><path d="M277.9 1107.8l7.3 13.2h-14.6z"/><path d="M333.1 1132.9l7.3 13.2h-14.6z"/><path d="M339.2 1159.3l7.3 13.2h-14.6z"/><path d="M371.7 1181.7l7.3 13.2h-14.6z"/><path d="M397.0 1214.0l7.3 13.2h-14.6z"/><path d="M407.9 1235.6l7.3 13.2h-14.6z"/><path d="M407.9 1265.8l7.3 13.2h-14.6z"/><path d="M409.7 1292.2l7.3 13.2h-14.6z"/><path d="M434.9 1323.5l7.3 13.2h-14.6z"/></g>
<g fill="#ff8080" stroke="#ff0000" stroke-width="2"><path d="M138.3 1064.0 L176.8 1077.5 L230.9 1090.9 L247.2 1117.9 L330.2 1252.7 L409.7 1387.5" fill="none" stroke-width="2.2" stroke-linejoin="round"/><rect x="131.8" y="1057.5" width="13" height="13"/><rect x="170.3" y="1071.0" width="13" height="13"/><rect x="224.4" y="1084.4" width="13" height="13"/><rect x="240.7" y="1111.4" width="13" height="13"/><rect x="323.7" y="1246.2" width="13" height="13"/><rect x="403.2" y="1381.0" width="13" height="13"/></g>
<g fill="#ff8080" stroke="#ff0000" stroke-width="2"><path d="M153.3 1064.0 L250.8 1077.5 L259.8 1090.9 L243.6 1104.4 L258.7 1117.9 L285.1 1144.9 L297.7 1172.6 L297.7 1198.8 L321.2 1226.3 L326.6 1252.7 L369.9 1320.1 L411.5 1387.5" fill="none" stroke-width="2.2" stroke-linejoin="round"/><path d="M153.3 1055.2l8.8 8.8l-8.8 8.8l-8.8 -8.8z"/><path d="M250.8 1068.7l8.8 8.8l-8.8 8.8l-8.8 -8.8z"/><path d="M259.8 1082.1l8.8 8.8l-8.8 8.8l-8.8 -8.8z"/><path d="M243.6 1095.6l8.8 8.8l-8.8 8.8l-8.8 -8.8z"/><path d="M258.7 1109.1l8.8 8.8l-8.8 8.8l-8.8 -8.8z"/><path d="M285.1 1136.1l8.8 8.8l-8.8 8.8l-8.8 -8.8z"/><path d="M297.7 1163.8l8.8 8.8l-8.8 8.8l-8.8 -8.8z"/><path d="M297.7 1190.0l8.8 8.8l-8.8 8.8l-8.8 -8.8z"/><path d="M321.2 1217.5l8.8 8.8l-8.8 8.8l-8.8 -8.8z"/><path d="M326.6 1243.9l8.8 8.8l-8.8 8.8l-8.8 -8.8z"/><path d="M369.9 1311.3l8.8 8.8l-8.8 8.8l-8.8 -8.8z"/><path d="M411.5 1378.7l8.8 8.8l-8.8 8.8l-8.8 -8.8z"/></g>
<g fill="none" stroke="#ff00ff" stroke-width="2"><path d="M149.1 983.1 L270.6 1050.5 L326.6 1117.9 L333.8 1252.7 L398.8 1387.5" fill="none" stroke-width="1.8" stroke-linejoin="round"/><rect x="142.6" y="976.6" width="13" height="13"/><rect x="264.1" y="1044.0" width="13" height="13"/><rect x="320.1" y="1111.4" width="13" height="13"/><rect x="327.3" y="1246.2" width="13" height="13"/><rect x="392.3" y="1381.0" width="13" height="13"/></g>
<g fill="none" stroke="#ff8040" stroke-width="2"><path d="M146.1 983.1 L264.7 1050.5 L295.9 1117.9 L326.6 1252.7 L359.1 1387.5" fill="none" stroke-width="1.8" stroke-linejoin="round"/><rect x="139.6" y="976.6" width="13" height="13"/><rect x="258.2" y="1044.0" width="13" height="13"/><rect x="289.4" y="1111.4" width="13" height="13"/><rect x="320.1" y="1246.2" width="13" height="13"/><rect x="352.6" y="1381.0" width="13" height="13"/></g>
<g fill="none" stroke="#ffb040" stroke-width="2"><path d="M143.4 983.1 L247.2 1050.5 L290.5 1117.9 L375.4 1252.7 L454.8 1387.5" fill="none" stroke-width="1.8" stroke-linejoin="round"/><rect x="136.9" y="976.6" width="13" height="13"/><rect x="240.7" y="1044.0" width="13" height="13"/><rect x="284.0" y="1111.4" width="13" height="13"/><rect x="368.9" y="1246.2" width="13" height="13"/><rect x="448.3" y="1381.0" width="13" height="13"/></g>
<g fill="none" stroke="#ff80c0" stroke-width="2"><path d="M155.1 983.1 L258.9 1050.5 L314.0 1117.9 L392.7 1252.7 L442.2 1387.5" fill="none" stroke-width="1.8" stroke-linejoin="round"/><rect x="148.6" y="976.6" width="13" height="13"/><rect x="252.4" y="1044.0" width="13" height="13"/><rect x="307.5" y="1111.4" width="13" height="13"/><rect x="386.2" y="1246.2" width="13" height="13"/><rect x="435.7" y="1381.0" width="13" height="13"/></g>
<g fill="none" stroke="#a02080" stroke-width="2"><path d="M131.6 915.7 L131.6 983.1 L147.9 1037.0 L230.9 1117.9 L438.5 1387.5" fill="none" stroke-width="1.8" stroke-linejoin="round"/><rect x="125.1" y="909.2" width="13" height="13"/><rect x="125.1" y="976.6" width="13" height="13"/><rect x="141.4" y="1030.5" width="13" height="13"/><rect x="224.4" y="1111.4" width="13" height="13"/><rect x="432.0" y="1381.0" width="13" height="13"/></g>
<g fill="none" stroke="#9acd32" stroke-width="2"><path d="M153.1 1117.9 L162.9 1131.4 L218.3 1158.9 L245.4 1172.9 L260.7 1185.3 L286.9 1198.8 L324.8 1226.3 L357.3 1252.7 L360.9 1279.7 L368.1 1307.2 L378.1 1333.6 L382.6 1361.1 L395.2 1387.5" fill="none" stroke-width="1.8" stroke-linejoin="round"/><path d="M153.1 1109.1l8.8 8.8l-8.8 8.8l-8.8 -8.8z"/><path d="M162.9 1122.6l8.8 8.8l-8.8 8.8l-8.8 -8.8z"/><path d="M218.3 1150.1l8.8 8.8l-8.8 8.8l-8.8 -8.8z"/><path d="M245.4 1164.1l8.8 8.8l-8.8 8.8l-8.8 -8.8z"/><path d="M260.7 1176.5l8.8 8.8l-8.8 8.8l-8.8 -8.8z"/><path d="M286.9 1190.0l8.8 8.8l-8.8 8.8l-8.8 -8.8z"/><path d="M324.8 1217.5l8.8 8.8l-8.8 8.8l-8.8 -8.8z"/><path d="M357.3 1243.9l8.8 8.8l-8.8 8.8l-8.8 -8.8z"/><path d="M360.9 1270.9l8.8 8.8l-8.8 8.8l-8.8 -8.8z"/><path d="M368.1 1298.4l8.8 8.8l-8.8 8.8l-8.8 -8.8z"/><path d="M378.1 1324.8l8.8 8.8l-8.8 8.8l-8.8 -8.8z"/><path d="M382.6 1352.3l8.8 8.8l-8.8 8.8l-8.8 -8.8z"/><path d="M395.2 1378.7l8.8 8.8l-8.8 8.8l-8.8 -8.8z"/></g>
<g fill="none" stroke="#228b22" stroke-width="2"><path d="M139.4 1077.5 L138.5 1087.4 L204.9 1117.9 L207.4 1140.3 L311.6 1185.3 L318.5 1252.7 L382.2 1387.5" fill="none" stroke-width="1.8" stroke-linejoin="round"/><path d="M139.4 1068.7l8.8 8.8l-8.8 8.8l-8.8 -8.8z"/><path d="M138.5 1078.6l8.8 8.8l-8.8 8.8l-8.8 -8.8z"/><path d="M204.9 1109.1l8.8 8.8l-8.8 8.8l-8.8 -8.8z"/><path d="M207.4 1131.5l8.8 8.8l-8.8 8.8l-8.8 -8.8z"/><path d="M311.6 1176.5l8.8 8.8l-8.8 8.8l-8.8 -8.8z"/><path d="M318.5 1243.9l8.8 8.8l-8.8 8.8l-8.8 -8.8z"/><path d="M382.2 1378.7l8.8 8.8l-8.8 8.8l-8.8 -8.8z"/></g>
<g fill="none" stroke="#00e600" stroke-width="2"><path d="M229.1 1117.9 L285.1 1140.3 L384.4 1252.7 L454.8 1387.5" fill="none" stroke-width="1.8" stroke-linejoin="round"/><path d="M229.1 1109.1l8.8 8.8l-8.8 8.8l-8.8 -8.8z"/><path d="M285.1 1131.5l8.8 8.8l-8.8 8.8l-8.8 -8.8z"/><path d="M384.4 1243.9l8.8 8.8l-8.8 8.8l-8.8 -8.8z"/><path d="M454.8 1378.7l8.8 8.8l-8.8 8.8l-8.8 -8.8z"/></g>
<g fill="none" stroke="#b4c882" stroke-width="2"><path d="M126.6 1050.5 L190.3 1090.9 L270.6 1116.8 L346.5 1184.8 L368.1 1252.7 L434.9 1387.5" fill="none" stroke-width="1.8" stroke-linejoin="round"/><path d="M126.6 1041.7l8.8 8.8l-8.8 8.8l-8.8 -8.8z"/><path d="M190.3 1082.1l8.8 8.8l-8.8 8.8l-8.8 -8.8z"/><path d="M270.6 1108.0l8.8 8.8l-8.8 8.8l-8.8 -8.8z"/><path d="M346.5 1176.0l8.8 8.8l-8.8 8.8l-8.8 -8.8z"/><path d="M368.1 1243.9l8.8 8.8l-8.8 8.8l-8.8 -8.8z"/><path d="M434.9 1378.7l8.8 8.8l-8.8 8.8l-8.8 -8.8z"/></g>
<g fill="none" stroke="#00ffff" stroke-width="2"><path d="M127.6 983.1 L142.8 1050.5 L192.3 1069.4 L329.1 1117.9 L334.9 1184.8 L354.6 1252.7 L382.0 1320.1 L519.8 1387.5" fill="none" stroke-width="1.8" stroke-linejoin="round"/><path d="M127.6 974.3l8.8 8.8l-8.8 8.8l-8.8 -8.8z"/><path d="M142.8 1041.7l8.8 8.8l-8.8 8.8l-8.8 -8.8z"/><path d="M192.3 1060.6l8.8 8.8l-8.8 8.8l-8.8 -8.8z"/><path d="M329.1 1109.1l8.8 8.8l-8.8 8.8l-8.8 -8.8z"/><path d="M334.9 1176.0l8.8 8.8l-8.8 8.8l-8.8 -8.8z"/><path d="M354.6 1243.9l8.8 8.8l-8.8 8.8l-8.8 -8.8z"/><path d="M382.0 1311.3l8.8 8.8l-8.8 8.8l-8.8 -8.8z"/><path d="M519.8 1378.7l8.8 8.8l-8.8 8.8l-8.8 -8.8z"/></g>
<line x1="122.90" y1="848.30" x2="559.20" y2="848.30" stroke="#000" stroke-width="3.4" />
<line x1="124.40" y1="835.30" x2="124.40" y2="848.30" stroke="#000" stroke-width="2.6" />
<line x1="138.84" y1="839.80" x2="138.84" y2="848.30" stroke="#000" stroke-width="2.4" />
<line x1="153.29" y1="839.80" x2="153.29" y2="848.30" stroke="#000" stroke-width="2.4" />
<line x1="167.73" y1="839.80" x2="167.73" y2="848.30" stroke="#000" stroke-width="2.4" />
<line x1="182.17" y1="839.80" x2="182.17" y2="848.30" stroke="#000" stroke-width="2.4" />
<line x1="196.62" y1="835.30" x2="196.62" y2="848.30" stroke="#000" stroke-width="2.6" />
<line x1="211.06" y1="839.80" x2="211.06" y2="848.30" stroke="#000" stroke-width="2.4" />
<line x1="225.50" y1="839.80" x2="225.50" y2="848.30" stroke="#000" stroke-width="2.4" />
<line x1="239.95" y1="839.80" x2="239.95" y2="848.30" stroke="#000" stroke-width="2.4" />
<line x1="254.39" y1="839.80" x2="254.39" y2="848.30" stroke="#000" stroke-width="2.4" />
<line x1="268.83" y1="835.30" x2="268.83" y2="848.30" stroke="#000" stroke-width="2.6" />
<line x1="283.28" y1="839.80" x2="283.28" y2="848.30" stroke="#000" stroke-width="2.4" />
<line x1="297.72" y1="839.80" x2="297.72" y2="848.30" stroke="#000" stroke-width="2.4" />
<line x1="312.16" y1="839.80" x2="312.16" y2="848.30" stroke="#000" stroke-width="2.4" />
<line x1="326.61" y1="839.80" x2="326.61" y2="848.30" stroke="#000" stroke-width="2.4" />
<line x1="341.05" y1="835.30" x2="341.05" y2="848.30" stroke="#000" stroke-width="2.6" />
<line x1="355.49" y1="839.80" x2="355.49" y2="848.30" stroke="#000" stroke-width="2.4" />
<line x1="369.94" y1="839.80" x2="369.94" y2="848.30" stroke="#000" stroke-width="2.4" />
<line x1="384.38" y1="839.80" x2="384.38" y2="848.30" stroke="#000" stroke-width="2.4" />
<line x1="398.82" y1="839.80" x2="398.82" y2="848.30" stroke="#000" stroke-width="2.4" />
<line x1="413.27" y1="835.30" x2="413.27" y2="848.30" stroke="#000" stroke-width="2.6" />
<line x1="427.71" y1="839.80" x2="427.71" y2="848.30" stroke="#000" stroke-width="2.4" />
<line x1="442.15" y1="839.80" x2="442.15" y2="848.30" stroke="#000" stroke-width="2.4" />
<line x1="456.60" y1="839.80" x2="456.60" y2="848.30" stroke="#000" stroke-width="2.4" />
<line x1="471.04" y1="839.80" x2="471.04" y2="848.30" stroke="#000" stroke-width="2.4" />
<line x1="485.48" y1="835.30" x2="485.48" y2="848.30" stroke="#000" stroke-width="2.6" />
<line x1="499.93" y1="839.80" x2="499.93" y2="848.30" stroke="#000" stroke-width="2.4" />
<line x1="514.37" y1="839.80" x2="514.37" y2="848.30" stroke="#000" stroke-width="2.4" />
<line x1="528.81" y1="839.80" x2="528.81" y2="848.30" stroke="#000" stroke-width="2.4" />
<line x1="543.26" y1="839.80" x2="543.26" y2="848.30" stroke="#000" stroke-width="2.4" />
<line x1="557.70" y1="835.30" x2="557.70" y2="848.30" stroke="#000" stroke-width="2.6" />
<text x="124.40" y="821.70" font-family='"Liberation Serif","DejaVu Serif",serif' font-size="29" font-weight="bold" font-style="normal" fill="#000" text-anchor="middle" >0</text>
<text x="196.62" y="821.70" font-family='"Liberation Serif","DejaVu Serif",serif' font-size="29" font-weight="bold" font-style="normal" fill="#000" text-anchor="middle" >4</text>
<text x="268.83" y="821.70" font-family='"Liberation Serif","DejaVu Serif",serif' font-size="29" font-weight="bold" font-style="normal" fill="#000" text-anchor="middle" >8</text>
<text x="341.05" y="821.70" font-family='"Liberation Serif","DejaVu Serif",serif' font-size="29" font-weight="bold" font-style="normal" fill="#000" text-anchor="middle" >12</text>
<text x="413.27" y="821.70" font-family='"Liberation Serif","DejaVu Serif",serif' font-size="29" font-weight="bold" font-style="normal" fill="#000" text-anchor="middle" >16</text>
<text x="485.48" y="821.70" font-family='"Liberation Serif","DejaVu Serif",serif' font-size="29" font-weight="bold" font-style="normal" fill="#000" text-anchor="middle" >20</text>
<text x="557.70" y="821.70" font-family='"Liberation Serif","DejaVu Serif",serif' font-size="29" font-weight="bold" font-style="normal" fill="#000" text-anchor="middle" >24</text>
<line x1="124.40" y1="846.80" x2="124.40" y2="1394.50" stroke="#000" stroke-width="3.4" />
<line x1="110.90" y1="848.30" x2="124.40" y2="848.30" stroke="#000" stroke-width="2.6" />
<text x="96.90" y="858.10" font-family='"Liberation Serif","DejaVu Serif",serif' font-size="29" font-weight="bold" font-style="normal" fill="#000" text-anchor="end" >0</text>
<line x1="115.40" y1="875.26" x2="124.40" y2="875.26" stroke="#000" stroke-width="2.4" />
<line x1="115.40" y1="902.22" x2="124.40" y2="902.22" stroke="#000" stroke-width="2.4" />
<line x1="115.40" y1="929.18" x2="124.40" y2="929.18" stroke="#000" stroke-width="2.4" />
<line x1="115.40" y1="956.14" x2="124.40" y2="956.14" stroke="#000" stroke-width="2.4" />
<line x1="110.90" y1="983.10" x2="124.40" y2="983.10" stroke="#000" stroke-width="2.6" />
<text x="96.90" y="992.90" font-family='"Liberation Serif","DejaVu Serif",serif' font-size="29" font-weight="bold" font-style="normal" fill="#000" text-anchor="end" >50</text>
<line x1="115.40" y1="1010.06" x2="124.40" y2="1010.06" stroke="#000" stroke-width="2.4" />
<line x1="115.40" y1="1037.02" x2="124.40" y2="1037.02" stroke="#000" stroke-width="2.4" />
<line x1="115.40" y1="1063.98" x2="124.40" y2="1063.98" stroke="#000" stroke-width="2.4" />
<line x1="115.40" y1="1090.94" x2="124.40" y2="1090.94" stroke="#000" stroke-width="2.4" />
<line x1="110.90" y1="1117.90" x2="124.40" y2="1117.90" stroke="#000" stroke-width="2.6" />
<text x="96.90" y="1127.70" font-family='"Liberation Serif","DejaVu Serif",serif' font-size="29" font-weight="bold" font-style="normal" fill="#000" text-anchor="end" >100</text>
<line x1="115.40" y1="1144.86" x2="124.40" y2="1144.86" stroke="#000" stroke-width="2.4" />
<line x1="115.40" y1="1171.82" x2="124.40" y2="1171.82" stroke="#000" stroke-width="2.4" />
<line x1="115.40" y1="1198.78" x2="124.40" y2="1198.78" stroke="#000" stroke-width="2.4" />
<line x1="115.40" y1="1225.74" x2="124.40" y2="1225.74" stroke="#000" stroke-width="2.4" />
<line x1="110.90" y1="1252.70" x2="124.40" y2="1252.70" stroke="#000" stroke-width="2.6" />
<text x="96.90" y="1262.50" font-family='"Liberation Serif","DejaVu Serif",serif' font-size="29" font-weight="bold" font-style="normal" fill="#000" text-anchor="end" >150</text>
<line x1="115.40" y1="1279.66" x2="124.40" y2="1279.66" stroke="#000" stroke-width="2.4" />
<line x1="115.40" y1="1306.62" x2="124.40" y2="1306.62" stroke="#000" stroke-width="2.4" />
<line x1="115.40" y1="1333.58" x2="124.40" y2="1333.58" stroke="#000" stroke-width="2.4" />
<line x1="115.40" y1="1360.54" x2="124.40" y2="1360.54" stroke="#000" stroke-width="2.4" />
<line x1="110.90" y1="1387.50" x2="124.40" y2="1387.50" stroke="#000" stroke-width="2.6" />
<text x="96.90" y="1397.30" font-family='"Liberation Serif","DejaVu Serif",serif' font-size="29" font-weight="bold" font-style="normal" fill="#000" text-anchor="end" >200</text>
<text x="0" y="0" transform="translate(27.50 1119.90) rotate(-90)" font-family='"Liberation Serif","DejaVu Serif",serif' font-size="29.6" font-weight="bold" font-style="normal" fill="#000" text-anchor="middle" >Depth (m)</text>
<text x="531.00" y="876.50" font-family='"Liberation Serif","DejaVu Serif",serif' font-size="28" font-weight="bold" font-style="normal" fill="#000" text-anchor="middle" >C</text>
<text x="341.20" y="763.40" font-family='"Liberation Serif","DejaVu Serif",serif' font-size="29.5" font-weight="bold" font-style="normal" fill="#000" text-anchor="middle" >Nitrate (μmol/L)</text>
</g>
<g id="panelD">
<line x1="597.50" y1="853.80" x2="597.50" y2="1395.20" stroke="#b2b2b2" stroke-width="1" stroke-dasharray="14.5 5.1" shape-rendering="crispEdges"/>
<line x1="597.50" y1="882.30" x2="597.50" y2="1395.20" stroke="#222" stroke-width="1" stroke-dasharray="1 38" shape-rendering="crispEdges"/>
<line x1="659.34" y1="853.80" x2="659.34" y2="1395.20" stroke="#b2b2b2" stroke-width="1" stroke-dasharray="14.5 5.1" shape-rendering="crispEdges"/>
<line x1="659.34" y1="882.30" x2="659.34" y2="1395.20" stroke="#222" stroke-width="1" stroke-dasharray="1 38" shape-rendering="crispEdges"/>
<line x1="721.19" y1="853.80" x2="721.19" y2="1395.20" stroke="#b2b2b2" stroke-width="1" stroke-dasharray="14.5 5.1" shape-rendering="crispEdges"/>
<line x1="721.19" y1="882.30" x2="721.19" y2="1395.20" stroke="#222" stroke-width="1" stroke-dasharray="1 38" shape-rendering="crispEdges"/>
<line x1="783.03" y1="853.80" x2="783.03" y2="1395.20" stroke="#b2b2b2" stroke-width="1" stroke-dasharray="14.5 5.1" shape-rendering="crispEdges"/>
<line x1="783.03" y1="882.30" x2="783.03" y2="1395.20" stroke="#222" stroke-width="1" stroke-dasharray="1 38" shape-rendering="crispEdges"/>
<line x1="844.87" y1="853.80" x2="844.87" y2="1395.20" stroke="#b2b2b2" stroke-width="1" stroke-dasharray="14.5 5.1" shape-rendering="crispEdges"/>
<line x1="844.87" y1="882.30" x2="844.87" y2="1395.20" stroke="#222" stroke-width="1" stroke-dasharray="1 38" shape-rendering="crispEdges"/>
<line x1="906.71" y1="853.80" x2="906.71" y2="1395.20" stroke="#b2b2b2" stroke-width="1" stroke-dasharray="14.5 5.1" shape-rendering="crispEdges"/>
<line x1="906.71" y1="882.30" x2="906.71" y2="1395.20" stroke="#222" stroke-width="1" stroke-dasharray="1 38" shape-rendering="crispEdges"/>
<line x1="968.56" y1="853.80" x2="968.56" y2="1395.20" stroke="#b2b2b2" stroke-width="1" stroke-dasharray="14.5 5.1" shape-rendering="crispEdges"/>
<line x1="968.56" y1="882.30" x2="968.56" y2="1395.20" stroke="#222" stroke-width="1" stroke-dasharray="1 38" shape-rendering="crispEdges"/>
<line x1="1030.40" y1="853.80" x2="1030.40" y2="1395.20" stroke="#b2b2b2" stroke-width="1" stroke-dasharray="14.5 5.1" shape-rendering="crispEdges"/>
<line x1="1030.40" y1="882.30" x2="1030.40" y2="1395.20" stroke="#222" stroke-width="1" stroke-dasharray="1 38" shape-rendering="crispEdges"/>
<line x1="597.50" y1="985.65" x2="1030.40" y2="985.65" stroke="#b2b2b2" stroke-width="1" stroke-dasharray="14.5 5.1" shape-rendering="crispEdges"/>
<line x1="621.50" y1="985.65" x2="1030.40" y2="985.65" stroke="#222" stroke-width="1" stroke-dasharray="1 38" shape-rendering="crispEdges"/>
<line x1="597.50" y1="1120.50" x2="1030.40" y2="1120.50" stroke="#b2b2b2" stroke-width="1" stroke-dasharray="14.5 5.1" shape-rendering="crispEdges"/>
<line x1="621.50" y1="1120.50" x2="1030.40" y2="1120.50" stroke="#222" stroke-width="1" stroke-dasharray="1 38" shape-rendering="crispEdges"/>
<line x1="597.50" y1="1255.35" x2="1030.40" y2="1255.35" stroke="#b2b2b2" stroke-width="1" stroke-dasharray="14.5 5.1" shape-rendering="crispEdges"/>
<line x1="621.50" y1="1255.35" x2="1030.40" y2="1255.35" stroke="#222" stroke-width="1" stroke-dasharray="1 38" shape-rendering="crispEdges"/>
<line x1="597.50" y1="1390.20" x2="1030.40" y2="1390.20" stroke="#b2b2b2" stroke-width="1" stroke-dasharray="14.5 5.1" shape-rendering="crispEdges"/>
<line x1="621.50" y1="1390.20" x2="1030.40" y2="1390.20" stroke="#222" stroke-width="1" stroke-dasharray="1 38" shape-rendering="crispEdges"/>
<g fill="none" stroke="#66cdc8" stroke-width="2"><path d="M793.5 1120.5 L791.7 1147.5 L782.7 1187.9 L758.3 1255.3 L728.9 1322.8 L744.7 1390.2" fill="none" stroke-width="1.8" stroke-linejoin="round"/><circle cx="793.5" cy="1120.5" r="6.8"/><circle cx="791.7" cy="1147.5" r="6.8"/><circle cx="782.7" cy="1187.9" r="6.8"/><circle cx="758.3" cy="1255.3" r="6.8"/><circle cx="728.9" cy="1322.8" r="6.8"/><circle cx="744.7" cy="1390.2" r="6.8"/></g>
<g fill="none" stroke="#6495ed" stroke-width="2"><path d="M764.5 985.6 L743.4 1012.6 L702.3 1066.6 L720.3 1093.5 L698.9 1120.5 L727.1 1187.9 L749.0 1282.3 L752.1 1390.2" fill="none" stroke-width="1.8" stroke-linejoin="round"/><circle cx="764.5" cy="985.6" r="6.8"/><circle cx="743.4" cy="1012.6" r="6.8"/><circle cx="702.3" cy="1066.6" r="6.8"/><circle cx="720.3" cy="1093.5" r="6.8"/><circle cx="698.9" cy="1120.5" r="6.8"/><circle cx="727.1" cy="1187.9" r="6.8"/><circle cx="749.0" cy="1282.3" r="6.8"/><circle cx="752.1" cy="1390.2" r="6.8"/></g>
<g fill="none" stroke="#0000e6" stroke-width="2"><path d="M846.7 1039.6 L761.4 1120.5 L758.3 1187.9 L767.6 1255.3 L770.7 1390.2" fill="none" stroke-width="1.8" stroke-linejoin="round"/><circle cx="846.7" cy="1039.6" r="6.8"/><circle cx="761.4" cy="1120.5" r="6.8"/><circle cx="758.3" cy="1187.9" r="6.8"/><circle cx="767.6" cy="1255.3" r="6.8"/><circle cx="770.7" cy="1390.2" r="6.8"/></g>
<g fill="none" stroke="#0a7ab4" stroke-width="2"><path d="M739.7 1120.5 L727.1 1187.9 L713.1 1255.3 L733.6 1390.2" fill="none" stroke-width="1.8" stroke-linejoin="round"/><circle cx="739.7" cy="1120.5" r="6.8"/><circle cx="727.1" cy="1187.9" r="6.8"/><circle cx="713.1" cy="1255.3" r="6.8"/><circle cx="733.6" cy="1390.2" r="6.8"/></g>
<g fill="none" stroke="#66cdc8" stroke-width="2"><path d="M878.9 1059.5 L810.9 1074.7 L758.3 1206.8 L749.0 1339.0" fill="none" stroke-width="1.8" stroke-linejoin="round"/><path d="M878.9 1050.5l7.3 13.2h-14.6z"/><path d="M810.9 1065.7l7.3 13.2h-14.6z"/><path d="M758.3 1197.8l7.3 13.2h-14.6z"/><path d="M749.0 1330.0l7.3 13.2h-14.6z"/></g>
<g fill="none" stroke="#6495ed" stroke-width="2"><path d="M812.7 915.3 L788.6 928.2 L762.9 956.3 L758.3 983.2 L756.4 1010.5 L752.7 1035.0 L748.1 1065.5 L755.2 1171.7 L773.8 1334.9 L767.6 1389.1" fill="none" stroke-width="1.8" stroke-linejoin="round"/><path d="M812.7 906.3l7.3 13.2h-14.6z"/><path d="M788.6 919.2l7.3 13.2h-14.6z"/><path d="M762.9 947.3l7.3 13.2h-14.6z"/><path d="M758.3 974.2l7.3 13.2h-14.6z"/><path d="M756.4 1001.5l7.3 13.2h-14.6z"/><path d="M752.7 1026.0l7.3 13.2h-14.6z"/><path d="M748.1 1056.5l7.3 13.2h-14.6z"/><path d="M755.2 1162.7l7.3 13.2h-14.6z"/><path d="M773.8 1325.9l7.3 13.2h-14.6z"/><path d="M767.6 1380.1l7.3 13.2h-14.6z"/></g>
<g fill="none" stroke="#0000e6" stroke-width="2"><path d="M790.8 1053.9 L756.7 1120.5 L761.4 1255.3 L782.7 1390.2" fill="none" stroke-width="1.8" stroke-linejoin="round"/><rect x="786.3" y="1049.4" width="9" height="9"/><rect x="752.2" y="1116.0" width="9" height="9"/><rect x="756.9" y="1250.8" width="9" height="9"/><rect x="778.2" y="1385.7" width="9" height="9"/></g>
<g fill="none" stroke="#0a7ab4" stroke-width="2"><path d="M915.4 1053.3 L882.0 1066.6 L789.2 1082.7 L752.1 1120.5 L739.7 1255.3 L755.2 1390.2" fill="none" stroke-width="1.8" stroke-linejoin="round"/><rect x="908.9" y="1046.8" width="13" height="13"/><rect x="875.5" y="1060.1" width="13" height="13"/><rect x="782.7" y="1076.2" width="13" height="13"/><rect x="745.6" y="1114.0" width="13" height="13"/><rect x="733.2" y="1248.8" width="13" height="13"/><rect x="748.7" y="1383.7" width="13" height="13"/></g>
<g fill="none" stroke="#ff8080" stroke-width="2"><path d="M833.7 1093.5 L736.6 1107.0 L724.3 1120.5 L730.5 1149.6 L736.6 1171.2 L739.7 1201.4 L736.6 1230.0 L715.0 1254.5 L733.6 1281.0 L749.0 1334.4 L742.8 1387.0" fill="none" stroke-width="1.8" stroke-linejoin="round"/><path d="M833.7 1084.5l7.3 13.2h-14.6z"/><path d="M736.6 1098.0l7.3 13.2h-14.6z"/><path d="M724.3 1111.5l7.3 13.2h-14.6z"/><path d="M730.5 1140.6l7.3 13.2h-14.6z"/><path d="M736.6 1162.2l7.3 13.2h-14.6z"/><path d="M739.7 1192.4l7.3 13.2h-14.6z"/><path d="M736.6 1221.0l7.3 13.2h-14.6z"/><path d="M715.0 1245.5l7.3 13.2h-14.6z"/><path d="M733.6 1272.0l7.3 13.2h-14.6z"/><path d="M749.0 1325.4l7.3 13.2h-14.6z"/><path d="M742.8 1378.0l7.3 13.2h-14.6z"/></g>
<g fill="none" stroke="#ff80ff" stroke-width="2"><path d="M919.1 1016.9 L806.8 1023.4 L795.1 1039.6 L761.4 1066.6 L749.0 1093.5 L745.9 1142.1 L758.3 1204.1 L761.4 1228.4 L762.9 1309.3 L764.5 1390.2" fill="none" stroke-width="1.8" stroke-linejoin="round"/><path d="M919.1 1007.9l7.3 13.2h-14.6z"/><path d="M806.8 1014.4l7.3 13.2h-14.6z"/><path d="M795.1 1030.6l7.3 13.2h-14.6z"/><path d="M761.4 1057.6l7.3 13.2h-14.6z"/><path d="M749.0 1084.5l7.3 13.2h-14.6z"/><path d="M745.9 1133.1l7.3 13.2h-14.6z"/><path d="M758.3 1195.1l7.3 13.2h-14.6z"/><path d="M761.4 1219.4l7.3 13.2h-14.6z"/><path d="M762.9 1300.3l7.3 13.2h-14.6z"/><path d="M764.5 1381.2l7.3 13.2h-14.6z"/></g>
<g fill="#ff80c0" stroke="#ff0000" stroke-width="2"><path d="M928.4 970.5 L969.5 985.6 L867.8 997.5 L786.7 1010.5 L741.6 1036.1 L736.3 1062.0 L744.7 1092.5 L749.0 1119.4 L755.2 1144.8 L760.1 1192.0 L766.0 1225.7 L770.7 1247.3 L771.9 1276.1 L770.0 1304.4 L764.2 1334.9" fill="none" stroke-width="2.2" stroke-linejoin="round"/><path d="M928.4 961.5l7.3 13.2h-14.6z"/><path d="M969.5 976.6l7.3 13.2h-14.6z"/><path d="M867.8 988.5l7.3 13.2h-14.6z"/><path d="M786.7 1001.5l7.3 13.2h-14.6z"/><path d="M741.6 1027.1l7.3 13.2h-14.6z"/><path d="M736.3 1053.0l7.3 13.2h-14.6z"/><path d="M744.7 1083.5l7.3 13.2h-14.6z"/><path d="M749.0 1110.4l7.3 13.2h-14.6z"/><path d="M755.2 1135.8l7.3 13.2h-14.6z"/><path d="M760.1 1183.0l7.3 13.2h-14.6z"/><path d="M766.0 1216.7l7.3 13.2h-14.6z"/><path d="M770.7 1238.3l7.3 13.2h-14.6z"/><path d="M771.9 1267.1l7.3 13.2h-14.6z"/><path d="M770.0 1295.4l7.3 13.2h-14.6z"/><path d="M764.2 1325.9l7.3 13.2h-14.6z"/></g>
<g fill="#ff8080" stroke="#ff0000" stroke-width="2"><path d="M905.5 1066.6 L825.7 1079.5 L770.7 1093.5 L735.7 1120.5 L734.8 1255.3 L739.7 1390.2" fill="none" stroke-width="2.2" stroke-linejoin="round"/><rect x="899.0" y="1060.1" width="13" height="13"/><rect x="819.2" y="1073.0" width="13" height="13"/><rect x="764.2" y="1087.0" width="13" height="13"/><rect x="729.2" y="1114.0" width="13" height="13"/><rect x="728.3" y="1248.8" width="13" height="13"/><rect x="733.2" y="1383.7" width="13" height="13"/></g>
<g fill="#ff8080" stroke="#ff0000" stroke-width="2"><path d="M820.1 1066.6 L770.7 1079.5 L765.1 1093.3 L766.9 1106.7 L764.2 1120.5 L761.4 1147.5 L766.0 1175.2 L768.2 1201.4 L771.0 1228.4 L775.9 1255.3 L746.5 1322.8 L789.5 1390.2" fill="none" stroke-width="2.2" stroke-linejoin="round"/><path d="M820.1 1057.8l8.8 8.8l-8.8 8.8l-8.8 -8.8z"/><path d="M770.7 1070.7l8.8 8.8l-8.8 8.8l-8.8 -8.8z"/><path d="M765.1 1084.5l8.8 8.8l-8.8 8.8l-8.8 -8.8z"/><path d="M766.9 1097.9l8.8 8.8l-8.8 8.8l-8.8 -8.8z"/><path d="M764.2 1111.7l8.8 8.8l-8.8 8.8l-8.8 -8.8z"/><path d="M761.4 1138.7l8.8 8.8l-8.8 8.8l-8.8 -8.8z"/><path d="M766.0 1166.4l8.8 8.8l-8.8 8.8l-8.8 -8.8z"/><path d="M768.2 1192.6l8.8 8.8l-8.8 8.8l-8.8 -8.8z"/><path d="M771.0 1219.6l8.8 8.8l-8.8 8.8l-8.8 -8.8z"/><path d="M775.9 1246.5l8.8 8.8l-8.8 8.8l-8.8 -8.8z"/><path d="M746.5 1314.0l8.8 8.8l-8.8 8.8l-8.8 -8.8z"/><path d="M789.5 1381.4l8.8 8.8l-8.8 8.8l-8.8 -8.8z"/></g>
<g fill="none" stroke="#ff00ff" stroke-width="2"><path d="M873.9 985.6 L735.1 1053.9 L705.7 1120.5 L739.7 1255.3 L750.6 1390.2" fill="none" stroke-width="1.8" stroke-linejoin="round"/><rect x="867.4" y="979.1" width="13" height="13"/><rect x="728.6" y="1047.4" width="13" height="13"/><rect x="699.2" y="1114.0" width="13" height="13"/><rect x="733.2" y="1248.8" width="13" height="13"/><rect x="744.1" y="1383.7" width="13" height="13"/></g>
<g fill="none" stroke="#ff8040" stroke-width="2"><path d="M1002.3 985.6 L758.3 1053.9 L742.8 1120.5 L749.0 1255.3 L758.3 1390.2" fill="none" stroke-width="1.8" stroke-linejoin="round"/><rect x="995.8" y="979.1" width="13" height="13"/><rect x="751.8" y="1047.4" width="13" height="13"/><rect x="736.3" y="1114.0" width="13" height="13"/><rect x="742.5" y="1248.8" width="13" height="13"/><rect x="751.8" y="1383.7" width="13" height="13"/></g>
<g fill="none" stroke="#ffb040" stroke-width="2"><path d="M770.7 1053.9 L752.1 1120.5 L766.0 1255.3 L773.8 1390.2" fill="none" stroke-width="1.8" stroke-linejoin="round"/><rect x="764.2" y="1047.4" width="13" height="13"/><rect x="745.6" y="1114.0" width="13" height="13"/><rect x="759.5" y="1248.8" width="13" height="13"/><rect x="767.3" y="1383.7" width="13" height="13"/></g>
<g fill="none" stroke="#ff80c0" stroke-width="2"><path d="M721.8 1053.9 L730.5 1120.5 L715.0 1255.3 L738.8 1390.2" fill="none" stroke-width="1.8" stroke-linejoin="round"/><rect x="715.3" y="1047.4" width="13" height="13"/><rect x="724.0" y="1114.0" width="13" height="13"/><rect x="708.5" y="1248.8" width="13" height="13"/><rect x="732.3" y="1383.7" width="13" height="13"/></g>
<g fill="none" stroke="#a02080" stroke-width="2"><path d="M1008.4 1039.6 L751.5 1120.5 L723.0 1390.2" fill="none" stroke-width="1.8" stroke-linejoin="round"/><rect x="1001.9" y="1033.1" width="13" height="13"/><rect x="745.0" y="1114.0" width="13" height="13"/><rect x="716.5" y="1383.7" width="13" height="13"/></g>
<g fill="none" stroke="#9acd32" stroke-width="2"><path d="M814.0 1120.5 L822.9 1134.0 L770.0 1161.0 L735.7 1174.4 L739.7 1187.9 L732.0 1201.4 L733.6 1228.4 L730.5 1255.3 L735.7 1282.3 L740.7 1309.3 L745.9 1336.3 L750.6 1363.2 L754.3 1390.2" fill="none" stroke-width="1.8" stroke-linejoin="round"/><path d="M814.0 1111.7l8.8 8.8l-8.8 8.8l-8.8 -8.8z"/><path d="M822.9 1125.2l8.8 8.8l-8.8 8.8l-8.8 -8.8z"/><path d="M770.0 1152.2l8.8 8.8l-8.8 8.8l-8.8 -8.8z"/><path d="M735.7 1165.6l8.8 8.8l-8.8 8.8l-8.8 -8.8z"/><path d="M739.7 1179.1l8.8 8.8l-8.8 8.8l-8.8 -8.8z"/><path d="M732.0 1192.6l8.8 8.8l-8.8 8.8l-8.8 -8.8z"/><path d="M733.6 1219.6l8.8 8.8l-8.8 8.8l-8.8 -8.8z"/><path d="M730.5 1246.5l8.8 8.8l-8.8 8.8l-8.8 -8.8z"/><path d="M735.7 1273.5l8.8 8.8l-8.8 8.8l-8.8 -8.8z"/><path d="M740.7 1300.5l8.8 8.8l-8.8 8.8l-8.8 -8.8z"/><path d="M745.9 1327.5l8.8 8.8l-8.8 8.8l-8.8 -8.8z"/><path d="M750.6 1354.4l8.8 8.8l-8.8 8.8l-8.8 -8.8z"/><path d="M754.3 1381.4l8.8 8.8l-8.8 8.8l-8.8 -8.8z"/></g>
<g fill="none" stroke="#228b22" stroke-width="2"><path d="M797.6 1120.5 L760.1 1142.1 L746.5 1187.9 L753.3 1255.3 L760.1 1390.2" fill="none" stroke-width="1.8" stroke-linejoin="round"/><path d="M918.5 1071.2l8.8 8.8l-8.8 8.8l-8.8 -8.8z"/><path d="M797.6 1111.7l8.8 8.8l-8.8 8.8l-8.8 -8.8z"/><path d="M760.1 1133.3l8.8 8.8l-8.8 8.8l-8.8 -8.8z"/><path d="M746.5 1179.1l8.8 8.8l-8.8 8.8l-8.8 -8.8z"/><path d="M753.3 1246.5l8.8 8.8l-8.8 8.8l-8.8 -8.8z"/><path d="M760.1 1381.4l8.8 8.8l-8.8 8.8l-8.8 -8.8z"/></g>
<g fill="none" stroke="#00e600" stroke-width="2"><path d="M812.1 1120.5 L767.3 1142.1 L738.8 1187.9 L739.7 1255.3 L762.3 1390.2" fill="none" stroke-width="1.8" stroke-linejoin="round"/><path d="M812.1 1111.7l8.8 8.8l-8.8 8.8l-8.8 -8.8z"/><path d="M767.3 1133.3l8.8 8.8l-8.8 8.8l-8.8 -8.8z"/><path d="M738.8 1179.1l8.8 8.8l-8.8 8.8l-8.8 -8.8z"/><path d="M739.7 1246.5l8.8 8.8l-8.8 8.8l-8.8 -8.8z"/><path d="M762.3 1381.4l8.8 8.8l-8.8 8.8l-8.8 -8.8z"/></g>
<g fill="none" stroke="#b4c882" stroke-width="2"><path d="M893.1 1093.5 L661.5 1120.5 L704.2 1187.9 L712.8 1255.3 L727.1 1390.2" fill="none" stroke-width="1.8" stroke-linejoin="round"/><path d="M893.1 1084.7l8.8 8.8l-8.8 8.8l-8.8 -8.8z"/><path d="M661.5 1111.7l8.8 8.8l-8.8 8.8l-8.8 -8.8z"/><path d="M704.2 1179.1l8.8 8.8l-8.8 8.8l-8.8 -8.8z"/><path d="M712.8 1246.5l8.8 8.8l-8.8 8.8l-8.8 -8.8z"/><path d="M727.1 1381.4l8.8 8.8l-8.8 8.8l-8.8 -8.8z"/></g>
<g fill="none" stroke="#00ffff" stroke-width="2"><path d="M997.6 1053.3 L831.6 1071.4 L770.0 1120.5 L749.6 1187.9 L759.8 1255.3 L818.0 1322.8 L859.1 1390.2" fill="none" stroke-width="1.8" stroke-linejoin="round"/><path d="M997.6 1044.5l8.8 8.8l-8.8 8.8l-8.8 -8.8z"/><path d="M831.6 1062.6l8.8 8.8l-8.8 8.8l-8.8 -8.8z"/><path d="M770.0 1111.7l8.8 8.8l-8.8 8.8l-8.8 -8.8z"/><path d="M749.6 1179.1l8.8 8.8l-8.8 8.8l-8.8 -8.8z"/><path d="M759.8 1246.5l8.8 8.8l-8.8 8.8l-8.8 -8.8z"/><path d="M818.0 1314.0l8.8 8.8l-8.8 8.8l-8.8 -8.8z"/><path d="M859.1 1381.4l8.8 8.8l-8.8 8.8l-8.8 -8.8z"/></g>
<line x1="596.00" y1="850.80" x2="1031.90" y2="850.80" stroke="#000" stroke-width="3.4" />
<line x1="597.50" y1="837.80" x2="597.50" y2="850.80" stroke="#000" stroke-width="2.6" />
<line x1="609.87" y1="842.30" x2="609.87" y2="850.80" stroke="#000" stroke-width="2.4" />
<line x1="622.24" y1="842.30" x2="622.24" y2="850.80" stroke="#000" stroke-width="2.4" />
<line x1="634.61" y1="842.30" x2="634.61" y2="850.80" stroke="#000" stroke-width="2.4" />
<line x1="646.97" y1="842.30" x2="646.97" y2="850.80" stroke="#000" stroke-width="2.4" />
<line x1="659.34" y1="837.80" x2="659.34" y2="850.80" stroke="#000" stroke-width="2.6" />
<line x1="671.71" y1="842.30" x2="671.71" y2="850.80" stroke="#000" stroke-width="2.4" />
<line x1="684.08" y1="842.30" x2="684.08" y2="850.80" stroke="#000" stroke-width="2.4" />
<line x1="696.45" y1="842.30" x2="696.45" y2="850.80" stroke="#000" stroke-width="2.4" />
<line x1="708.82" y1="842.30" x2="708.82" y2="850.80" stroke="#000" stroke-width="2.4" />
<line x1="721.19" y1="837.80" x2="721.19" y2="850.80" stroke="#000" stroke-width="2.6" />
<line x1="733.55" y1="842.30" x2="733.55" y2="850.80" stroke="#000" stroke-width="2.4" />
<line x1="745.92" y1="842.30" x2="745.92" y2="850.80" stroke="#000" stroke-width="2.4" />
<line x1="758.29" y1="842.30" x2="758.29" y2="850.80" stroke="#000" stroke-width="2.4" />
<line x1="770.66" y1="842.30" x2="770.66" y2="850.80" stroke="#000" stroke-width="2.4" />
<line x1="783.03" y1="837.80" x2="783.03" y2="850.80" stroke="#000" stroke-width="2.6" />
<line x1="795.40" y1="842.30" x2="795.40" y2="850.80" stroke="#000" stroke-width="2.4" />
<line x1="807.77" y1="842.30" x2="807.77" y2="850.80" stroke="#000" stroke-width="2.4" />
<line x1="820.13" y1="842.30" x2="820.13" y2="850.80" stroke="#000" stroke-width="2.4" />
<line x1="832.50" y1="842.30" x2="832.50" y2="850.80" stroke="#000" stroke-width="2.4" />
<line x1="844.87" y1="837.80" x2="844.87" y2="850.80" stroke="#000" stroke-width="2.6" />
<line x1="857.24" y1="842.30" x2="857.24" y2="850.80" stroke="#000" stroke-width="2.4" />
<line x1="869.61" y1="842.30" x2="869.61" y2="850.80" stroke="#000" stroke-width="2.4" />
<line x1="881.98" y1="842.30" x2="881.98" y2="850.80" stroke="#000" stroke-width="2.4" />
<line x1="894.35" y1="842.30" x2="894.35" y2="850.80" stroke="#000" stroke-width="2.4" />
<line x1="906.71" y1="837.80" x2="906.71" y2="850.80" stroke="#000" stroke-width="2.6" />
<line x1="919.08" y1="842.30" x2="919.08" y2="850.80" stroke="#000" stroke-width="2.4" />
<line x1="931.45" y1="842.30" x2="931.45" y2="850.80" stroke="#000" stroke-width="2.4" />
<line x1="943.82" y1="842.30" x2="943.82" y2="850.80" stroke="#000" stroke-width="2.4" />
<line x1="956.19" y1="842.30" x2="956.19" y2="850.80" stroke="#000" stroke-width="2.4" />
<line x1="968.56" y1="837.80" x2="968.56" y2="850.80" stroke="#000" stroke-width="2.6" />
<line x1="980.93" y1="842.30" x2="980.93" y2="850.80" stroke="#000" stroke-width="2.4" />
<line x1="993.29" y1="842.30" x2="993.29" y2="850.80" stroke="#000" stroke-width="2.4" />
<line x1="1005.66" y1="842.30" x2="1005.66" y2="850.80" stroke="#000" stroke-width="2.4" />
<line x1="1018.03" y1="842.30" x2="1018.03" y2="850.80" stroke="#000" stroke-width="2.4" />
<line x1="1030.40" y1="837.80" x2="1030.40" y2="850.80" stroke="#000" stroke-width="2.6" />
<text x="597.50" y="823.50" font-family='"Liberation Serif","DejaVu Serif",serif' font-size="29" font-weight="bold" font-style="normal" fill="#000" text-anchor="middle" >0</text>
<text x="659.34" y="823.50" font-family='"Liberation Serif","DejaVu Serif",serif' font-size="29" font-weight="bold" font-style="normal" fill="#000" text-anchor="middle" >2</text>
<text x="721.19" y="823.50" font-family='"Liberation Serif","DejaVu Serif",serif' font-size="29" font-weight="bold" font-style="normal" fill="#000" text-anchor="middle" >4</text>
<text x="783.03" y="823.50" font-family='"Liberation Serif","DejaVu Serif",serif' font-size="29" font-weight="bold" font-style="normal" fill="#000" text-anchor="middle" >6</text>
<text x="844.87" y="823.50" font-family='"Liberation Serif","DejaVu Serif",serif' font-size="29" font-weight="bold" font-style="normal" fill="#000" text-anchor="middle" >8</text>
<text x="906.71" y="823.50" font-family='"Liberation Serif","DejaVu Serif",serif' font-size="29" font-weight="bold" font-style="normal" fill="#000" text-anchor="middle" >10</text>
<text x="968.56" y="823.50" font-family='"Liberation Serif","DejaVu Serif",serif' font-size="29" font-weight="bold" font-style="normal" fill="#000" text-anchor="middle" >12</text>
<text x="1030.40" y="823.50" font-family='"Liberation Serif","DejaVu Serif",serif' font-size="29" font-weight="bold" font-style="normal" fill="#000" text-anchor="middle" >14</text>
<text x="1002.00" y="880.70" font-family='"Liberation Serif","DejaVu Serif",serif' font-size="28" font-weight="bold" font-style="normal" fill="#000" text-anchor="middle" >D</text>
<text x="811.50" y="755.50" font-family='"Liberation Serif","DejaVu Serif",serif' font-size="29.5" font-weight="bold" font-style="normal" fill="#000" text-anchor="middle" >δ<tspan font-size="19" dy="-11">15</tspan><tspan dy="11">N</tspan><tspan font-size="17" dy="8">NO3</tspan><tspan dy="-8"> (‰)</tspan></text>
</g>
<g id="panelE">
<line x1="1068.40" y1="854.60" x2="1068.40" y2="1395.00" stroke="#b2b2b2" stroke-width="1" stroke-dasharray="14.5 5.1" shape-rendering="crispEdges"/>
<line x1="1068.40" y1="883.10" x2="1068.40" y2="1395.00" stroke="#222" stroke-width="1" stroke-dasharray="1 38" shape-rendering="crispEdges"/>
<line x1="1140.53" y1="854.60" x2="1140.53" y2="1395.00" stroke="#b2b2b2" stroke-width="1" stroke-dasharray="14.5 5.1" shape-rendering="crispEdges"/>
<line x1="1140.53" y1="883.10" x2="1140.53" y2="1395.00" stroke="#222" stroke-width="1" stroke-dasharray="1 38" shape-rendering="crispEdges"/>
<line x1="1212.67" y1="854.60" x2="1212.67" y2="1395.00" stroke="#b2b2b2" stroke-width="1" stroke-dasharray="14.5 5.1" shape-rendering="crispEdges"/>
<line x1="1212.67" y1="883.10" x2="1212.67" y2="1395.00" stroke="#222" stroke-width="1" stroke-dasharray="1 38" shape-rendering="crispEdges"/>
<line x1="1284.80" y1="854.60" x2="1284.80" y2="1395.00" stroke="#b2b2b2" stroke-width="1" stroke-dasharray="14.5 5.1" shape-rendering="crispEdges"/>
<line x1="1284.80" y1="883.10" x2="1284.80" y2="1395.00" stroke="#222" stroke-width="1" stroke-dasharray="1 38" shape-rendering="crispEdges"/>
<line x1="1356.93" y1="854.60" x2="1356.93" y2="1395.00" stroke="#b2b2b2" stroke-width="1" stroke-dasharray="14.5 5.1" shape-rendering="crispEdges"/>
<line x1="1356.93" y1="883.10" x2="1356.93" y2="1395.00" stroke="#222" stroke-width="1" stroke-dasharray="1 38" shape-rendering="crispEdges"/>
<line x1="1429.07" y1="854.60" x2="1429.07" y2="1395.00" stroke="#b2b2b2" stroke-width="1" stroke-dasharray="14.5 5.1" shape-rendering="crispEdges"/>
<line x1="1429.07" y1="883.10" x2="1429.07" y2="1395.00" stroke="#222" stroke-width="1" stroke-dasharray="1 38" shape-rendering="crispEdges"/>
<line x1="1501.20" y1="854.60" x2="1501.20" y2="1395.00" stroke="#b2b2b2" stroke-width="1" stroke-dasharray="14.5 5.1" shape-rendering="crispEdges"/>
<line x1="1501.20" y1="883.10" x2="1501.20" y2="1395.00" stroke="#222" stroke-width="1" stroke-dasharray="1 38" shape-rendering="crispEdges"/>
<line x1="1068.40" y1="986.20" x2="1501.20" y2="986.20" stroke="#b2b2b2" stroke-width="1" stroke-dasharray="14.5 5.1" shape-rendering="crispEdges"/>
<line x1="1092.40" y1="986.20" x2="1501.20" y2="986.20" stroke="#222" stroke-width="1" stroke-dasharray="1 38" shape-rendering="crispEdges"/>
<line x1="1068.40" y1="1120.80" x2="1501.20" y2="1120.80" stroke="#b2b2b2" stroke-width="1" stroke-dasharray="14.5 5.1" shape-rendering="crispEdges"/>
<line x1="1092.40" y1="1120.80" x2="1501.20" y2="1120.80" stroke="#222" stroke-width="1" stroke-dasharray="1 38" shape-rendering="crispEdges"/>
<line x1="1068.40" y1="1255.40" x2="1501.20" y2="1255.40" stroke="#b2b2b2" stroke-width="1" stroke-dasharray="14.5 5.1" shape-rendering="crispEdges"/>
<line x1="1092.40" y1="1255.40" x2="1501.20" y2="1255.40" stroke="#222" stroke-width="1" stroke-dasharray="1 38" shape-rendering="crispEdges"/>
<line x1="1068.40" y1="1390.00" x2="1501.20" y2="1390.00" stroke="#b2b2b2" stroke-width="1" stroke-dasharray="14.5 5.1" shape-rendering="crispEdges"/>
<line x1="1092.40" y1="1390.00" x2="1501.20" y2="1390.00" stroke="#222" stroke-width="1" stroke-dasharray="1 38" shape-rendering="crispEdges"/>
<g fill="none" stroke="#66cdc8" stroke-width="2"><path d="M1215.6 1120.8 L1199.0 1145.8 L1182.4 1187.8 L1129.7 1255.4 L1083.5 1322.7 L1098.2 1390.0" fill="none" stroke-width="1.8" stroke-linejoin="round"/><circle cx="1215.6" cy="1120.8" r="6.8"/><circle cx="1199.0" cy="1145.8" r="6.8"/><circle cx="1182.4" cy="1187.8" r="6.8"/><circle cx="1129.7" cy="1255.4" r="6.8"/><circle cx="1083.5" cy="1322.7" r="6.8"/><circle cx="1098.2" cy="1390.0" r="6.8"/></g>
<g fill="none" stroke="#6495ed" stroke-width="2"><path d="M1162.0 985.7 L1151.0 1012.0 L1135.8 1039.0 L1099.1 1066.7 L1099.1 1093.1 L1096.0 1120.0 L1103.0 1174.1 L1111.7 1282.3 L1118.9 1390.0" fill="none" stroke-width="1.8" stroke-linejoin="round"/><circle cx="1162.0" cy="985.7" r="6.8"/><circle cx="1151.0" cy="1012.0" r="6.8"/><circle cx="1135.8" cy="1039.0" r="6.8"/><circle cx="1099.1" cy="1066.7" r="6.8"/><circle cx="1099.1" cy="1093.1" r="6.8"/><circle cx="1096.0" cy="1120.0" r="6.8"/><circle cx="1103.0" cy="1174.1" r="6.8"/><circle cx="1111.7" cy="1282.3" r="6.8"/><circle cx="1118.9" cy="1390.0" r="6.8"/></g>
<g fill="none" stroke="#0000e6" stroke-width="2"><path d="M1162.2 1040.0 L1147.7 1120.8 L1107.0 1187.8 L1122.5 1255.4 L1126.1 1390.0" fill="none" stroke-width="1.8" stroke-linejoin="round"/><circle cx="1162.2" cy="1040.0" r="6.8"/><circle cx="1147.7" cy="1120.8" r="6.8"/><circle cx="1107.0" cy="1187.8" r="6.8"/><circle cx="1122.5" cy="1255.4" r="6.8"/><circle cx="1126.1" cy="1390.0" r="6.8"/></g>
<g fill="none" stroke="#0a7ab4" stroke-width="2"><path d="M1138.7 1120.8 L1133.3 1188.1 L1136.9 1255.4 L1127.9 1390.0" fill="none" stroke-width="1.8" stroke-linejoin="round"/><circle cx="1138.7" cy="1120.8" r="6.8"/><circle cx="1133.3" cy="1188.1" r="6.8"/><circle cx="1136.9" cy="1255.4" r="6.8"/><circle cx="1127.9" cy="1390.0" r="6.8"/></g>
<g fill="none" stroke="#66cdc8" stroke-width="2"><path d="M1411.0 1062.9 L1196.4 1072.1 L1109.0 1206.9 L1118.9 1338.9" fill="none" stroke-width="1.8" stroke-linejoin="round"/><path d="M1411.0 1053.9l7.3 13.2h-14.6z"/><path d="M1196.4 1063.1l7.3 13.2h-14.6z"/><path d="M1109.0 1197.9l7.3 13.2h-14.6z"/><path d="M1118.9 1329.9l7.3 13.2h-14.6z"/></g>
<g fill="none" stroke="#6495ed" stroke-width="2"><path d="M1172.5 914.6 L1169.4 928.1 L1129.9 956.6 L1125.9 983.5 L1117.6 1010.4 L1113.1 1036.0 L1113.1 1062.9 L1115.3 1171.9 L1120.7 1334.8 L1122.5 1388.9" fill="none" stroke-width="1.8" stroke-linejoin="round"/><path d="M1172.5 905.6l7.3 13.2h-14.6z"/><path d="M1169.4 919.1l7.3 13.2h-14.6z"/><path d="M1129.9 947.6l7.3 13.2h-14.6z"/><path d="M1125.9 974.5l7.3 13.2h-14.6z"/><path d="M1117.6 1001.4l7.3 13.2h-14.6z"/><path d="M1113.1 1027.0l7.3 13.2h-14.6z"/><path d="M1113.1 1053.9l7.3 13.2h-14.6z"/><path d="M1115.3 1162.9l7.3 13.2h-14.6z"/><path d="M1120.7 1325.8l7.3 13.2h-14.6z"/><path d="M1122.5 1379.9l7.3 13.2h-14.6z"/></g>
<g fill="none" stroke="#0000e6" stroke-width="2"><path d="M1194.5 1053.5 L1153.0 1120.0 L1155.0 1255.4 L1159.8 1390.0" fill="none" stroke-width="1.8" stroke-linejoin="round"/><rect x="1190.0" y="1049.0" width="9" height="9"/><rect x="1148.5" y="1115.5" width="9" height="9"/><rect x="1150.5" y="1250.9" width="9" height="9"/><rect x="1155.3" y="1385.5" width="9" height="9"/></g>
<g fill="none" stroke="#0a7ab4" stroke-width="2"><path d="M1272.2 1053.5 L1247.5 1065.9 L1176.6 1083.1 L1131.5 1120.8 L1122.5 1255.4 L1120.7 1390.0" fill="none" stroke-width="1.8" stroke-linejoin="round"/><rect x="1265.7" y="1047.0" width="13" height="13"/><rect x="1241.0" y="1059.4" width="13" height="13"/><rect x="1170.1" y="1076.6" width="13" height="13"/><rect x="1125.0" y="1114.3" width="13" height="13"/><rect x="1116.0" y="1248.9" width="13" height="13"/><rect x="1114.2" y="1383.5" width="13" height="13"/></g>
<g fill="none" stroke="#ff8080" stroke-width="2"><path d="M1245.5 1093.6 L1140.5 1107.3 L1120.7 1120.8 L1138.4 1148.8 L1127.9 1171.4 L1122.5 1201.6 L1126.1 1230.1 L1124.3 1254.6 L1129.7 1281.0 L1136.4 1334.5 L1126.1 1386.8" fill="none" stroke-width="1.8" stroke-linejoin="round"/><path d="M1245.5 1084.6l7.3 13.2h-14.6z"/><path d="M1140.5 1098.3l7.3 13.2h-14.6z"/><path d="M1120.7 1111.8l7.3 13.2h-14.6z"/><path d="M1138.4 1139.8l7.3 13.2h-14.6z"/><path d="M1127.9 1162.4l7.3 13.2h-14.6z"/><path d="M1122.5 1192.6l7.3 13.2h-14.6z"/><path d="M1126.1 1221.1l7.3 13.2h-14.6z"/><path d="M1124.3 1245.6l7.3 13.2h-14.6z"/><path d="M1129.7 1272.0l7.3 13.2h-14.6z"/><path d="M1136.4 1325.5l7.3 13.2h-14.6z"/><path d="M1126.1 1377.8l7.3 13.2h-14.6z"/></g>
<g fill="none" stroke="#ff80ff" stroke-width="2"><path d="M1320.5 1016.6 L1172.5 1025.5 L1171.0 1037.3 L1129.7 1067.0 L1109.5 1091.2 L1115.3 1142.3 L1134.4 1205.3 L1131.5 1228.5 L1126.5 1309.2 L1122.5 1390.0" fill="none" stroke-width="1.8" stroke-linejoin="round"/><path d="M1320.5 1007.6l7.3 13.2h-14.6z"/><path d="M1172.5 1016.5l7.3 13.2h-14.6z"/><path d="M1171.0 1028.3l7.3 13.2h-14.6z"/><path d="M1129.7 1058.0l7.3 13.2h-14.6z"/><path d="M1109.5 1082.2l7.3 13.2h-14.6z"/><path d="M1115.3 1133.3l7.3 13.2h-14.6z"/><path d="M1134.4 1196.3l7.3 13.2h-14.6z"/><path d="M1131.5 1219.5l7.3 13.2h-14.6z"/><path d="M1126.5 1300.2l7.3 13.2h-14.6z"/><path d="M1122.5 1381.0l7.3 13.2h-14.6z"/></g>
<g fill="#ff80c0" stroke="#ff0000" stroke-width="2"><path d="M1383.1 970.0 L1305.4 986.5 L1241.5 996.4 L1178.4 1010.4 L1143.4 1036.0 L1134.4 1061.6 L1118.5 1091.5 L1111.7 1119.7 L1113.5 1145.0 L1111.9 1171.9 L1111.0 1193.5 L1115.8 1225.0 L1111.3 1244.6 L1111.0 1275.9 L1109.9 1304.4 L1111.9 1336.7" fill="none" stroke-width="2.2" stroke-linejoin="round"/><path d="M1383.1 961.0l7.3 13.2h-14.6z"/><path d="M1305.4 977.5l7.3 13.2h-14.6z"/><path d="M1241.5 987.4l7.3 13.2h-14.6z"/><path d="M1178.4 1001.4l7.3 13.2h-14.6z"/><path d="M1143.4 1027.0l7.3 13.2h-14.6z"/><path d="M1134.4 1052.6l7.3 13.2h-14.6z"/><path d="M1118.5 1082.5l7.3 13.2h-14.6z"/><path d="M1111.7 1110.7l7.3 13.2h-14.6z"/><path d="M1113.5 1136.0l7.3 13.2h-14.6z"/><path d="M1111.9 1162.9l7.3 13.2h-14.6z"/><path d="M1111.0 1184.5l7.3 13.2h-14.6z"/><path d="M1115.8 1216.0l7.3 13.2h-14.6z"/><path d="M1111.3 1235.6l7.3 13.2h-14.6z"/><path d="M1111.0 1266.9l7.3 13.2h-14.6z"/><path d="M1109.9 1295.4l7.3 13.2h-14.6z"/><path d="M1111.9 1327.7l7.3 13.2h-14.6z"/></g>
<g fill="#ff8080" stroke="#ff0000" stroke-width="2"><path d="M1311.9 1066.7 L1195.5 1080.4 L1153.0 1094.4 L1125.9 1120.0 L1130.4 1255.4 L1109.0 1390.0" fill="none" stroke-width="2.2" stroke-linejoin="round"/><rect x="1305.4" y="1060.2" width="13" height="13"/><rect x="1189.0" y="1073.9" width="13" height="13"/><rect x="1146.5" y="1087.9" width="13" height="13"/><rect x="1119.4" y="1113.5" width="13" height="13"/><rect x="1123.9" y="1248.9" width="13" height="13"/><rect x="1102.5" y="1383.5" width="13" height="13"/></g>
<g fill="#ff8080" stroke="#ff0000" stroke-width="2"><path d="M1255.0 1065.3 L1162.9 1080.4 L1147.0 1093.6 L1144.7 1106.5 L1099.1 1120.0 L1126.5 1147.7 L1153.9 1174.1 L1148.1 1201.6 L1151.9 1227.9 L1149.0 1255.4 L1169.2 1322.7 L1157.8 1390.0" fill="none" stroke-width="2.2" stroke-linejoin="round"/><path d="M1255.0 1056.5l8.8 8.8l-8.8 8.8l-8.8 -8.8z"/><path d="M1162.9 1071.6l8.8 8.8l-8.8 8.8l-8.8 -8.8z"/><path d="M1147.0 1084.8l8.8 8.8l-8.8 8.8l-8.8 -8.8z"/><path d="M1144.7 1097.7l8.8 8.8l-8.8 8.8l-8.8 -8.8z"/><path d="M1099.1 1111.2l8.8 8.8l-8.8 8.8l-8.8 -8.8z"/><path d="M1126.5 1138.9l8.8 8.8l-8.8 8.8l-8.8 -8.8z"/><path d="M1153.9 1165.3l8.8 8.8l-8.8 8.8l-8.8 -8.8z"/><path d="M1148.1 1192.8l8.8 8.8l-8.8 8.8l-8.8 -8.8z"/><path d="M1151.9 1219.1l8.8 8.8l-8.8 8.8l-8.8 -8.8z"/><path d="M1149.0 1246.6l8.8 8.8l-8.8 8.8l-8.8 -8.8z"/><path d="M1169.2 1313.9l8.8 8.8l-8.8 8.8l-8.8 -8.8z"/><path d="M1157.8 1381.2l8.8 8.8l-8.8 8.8l-8.8 -8.8z"/></g>
<g fill="none" stroke="#ff00ff" stroke-width="2"><path d="M1254.1 985.7 L1162.0 1053.5 L1114.0 1120.0 L1149.6 1255.4 L1148.1 1390.0" fill="none" stroke-width="1.8" stroke-linejoin="round"/><rect x="1247.6" y="979.2" width="13" height="13"/><rect x="1155.5" y="1047.0" width="13" height="13"/><rect x="1107.5" y="1113.5" width="13" height="13"/><rect x="1143.1" y="1248.9" width="13" height="13"/><rect x="1141.6" y="1383.5" width="13" height="13"/></g>
<g fill="none" stroke="#ff8040" stroke-width="2"><path d="M1363.1 985.7 L1173.4 1053.5 L1129.0 1120.0 L1155.0 1255.4 L1138.7 1390.0" fill="none" stroke-width="1.8" stroke-linejoin="round"/><rect x="1356.6" y="979.2" width="13" height="13"/><rect x="1166.9" y="1047.0" width="13" height="13"/><rect x="1122.5" y="1113.5" width="13" height="13"/><rect x="1148.5" y="1248.9" width="13" height="13"/><rect x="1132.2" y="1383.5" width="13" height="13"/></g>
<g fill="none" stroke="#ffb040" stroke-width="2"><path d="M1165.8 1053.5 L1126.5 1120.8 L1127.9 1255.4 L1129.7 1390.0" fill="none" stroke-width="1.8" stroke-linejoin="round"/><rect x="1159.3" y="1047.0" width="13" height="13"/><rect x="1120.0" y="1114.3" width="13" height="13"/><rect x="1121.4" y="1248.9" width="13" height="13"/><rect x="1123.2" y="1383.5" width="13" height="13"/></g>
<g fill="none" stroke="#ff80c0" stroke-width="2"><path d="M1148.5 1053.5 L1122.5 1120.8 L1118.9 1255.4 L1124.3 1390.0" fill="none" stroke-width="1.8" stroke-linejoin="round"/><rect x="1142.0" y="1047.0" width="13" height="13"/><rect x="1116.0" y="1114.3" width="13" height="13"/><rect x="1112.4" y="1248.9" width="13" height="13"/><rect x="1117.8" y="1383.5" width="13" height="13"/></g>
<g fill="none" stroke="#a02080" stroke-width="2"><path d="M1352.6 1039.5 L1144.0 1120.0 L1099.1 1390.0" fill="none" stroke-width="1.8" stroke-linejoin="round"/><rect x="1346.1" y="1033.0" width="13" height="13"/><rect x="1137.5" y="1113.5" width="13" height="13"/><rect x="1092.6" y="1383.5" width="13" height="13"/></g>
<g fill="none" stroke="#9acd32" stroke-width="2"><path d="M1257.8 1120.8 L1273.3 1134.3 L1191.0 1160.4 L1169.4 1174.1 L1142.2 1186.8 L1145.9 1201.6 L1126.1 1228.5 L1105.4 1255.4 L1131.5 1282.9 L1139.3 1309.2 L1140.5 1336.2 L1141.3 1363.1 L1147.7 1390.0" fill="none" stroke-width="1.8" stroke-linejoin="round"/><path d="M1257.8 1112.0l8.8 8.8l-8.8 8.8l-8.8 -8.8z"/><path d="M1273.3 1125.5l8.8 8.8l-8.8 8.8l-8.8 -8.8z"/><path d="M1191.0 1151.6l8.8 8.8l-8.8 8.8l-8.8 -8.8z"/><path d="M1169.4 1165.3l8.8 8.8l-8.8 8.8l-8.8 -8.8z"/><path d="M1142.2 1178.0l8.8 8.8l-8.8 8.8l-8.8 -8.8z"/><path d="M1145.9 1192.8l8.8 8.8l-8.8 8.8l-8.8 -8.8z"/><path d="M1126.1 1219.7l8.8 8.8l-8.8 8.8l-8.8 -8.8z"/><path d="M1105.4 1246.6l8.8 8.8l-8.8 8.8l-8.8 -8.8z"/><path d="M1131.5 1274.1l8.8 8.8l-8.8 8.8l-8.8 -8.8z"/><path d="M1139.3 1300.4l8.8 8.8l-8.8 8.8l-8.8 -8.8z"/><path d="M1140.5 1327.4l8.8 8.8l-8.8 8.8l-8.8 -8.8z"/><path d="M1141.3 1354.3l8.8 8.8l-8.8 8.8l-8.8 -8.8z"/><path d="M1147.7 1381.2l8.8 8.8l-8.8 8.8l-8.8 -8.8z"/></g>
<g fill="none" stroke="#228b22" stroke-width="2"><path d="M1204.7 1120.8 L1158.6 1142.3 L1157.8 1187.8 L1161.8 1255.4 L1153.9 1390.0" fill="none" stroke-width="1.8" stroke-linejoin="round"/><path d="M1333.5 1071.6l8.8 8.8l-8.8 8.8l-8.8 -8.8z"/><path d="M1204.7 1112.0l8.8 8.8l-8.8 8.8l-8.8 -8.8z"/><path d="M1158.6 1133.5l8.8 8.8l-8.8 8.8l-8.8 -8.8z"/><path d="M1157.8 1179.0l8.8 8.8l-8.8 8.8l-8.8 -8.8z"/><path d="M1161.8 1246.6l8.8 8.8l-8.8 8.8l-8.8 -8.8z"/><path d="M1153.9 1381.2l8.8 8.8l-8.8 8.8l-8.8 -8.8z"/></g>
<g fill="none" stroke="#00e600" stroke-width="2"><path d="M1194.1 1120.8 L1198.6 1142.9 L1200.9 1187.8 L1173.0 1255.4 L1153.0 1390.0" fill="none" stroke-width="1.8" stroke-linejoin="round"/><path d="M1194.1 1112.0l8.8 8.8l-8.8 8.8l-8.8 -8.8z"/><path d="M1198.6 1134.1l8.8 8.8l-8.8 8.8l-8.8 -8.8z"/><path d="M1200.9 1179.0l8.8 8.8l-8.8 8.8l-8.8 -8.8z"/><path d="M1173.0 1246.6l8.8 8.8l-8.8 8.8l-8.8 -8.8z"/><path d="M1153.0 1381.2l8.8 8.8l-8.8 8.8l-8.8 -8.8z"/></g>
<g fill="none" stroke="#b4c882" stroke-width="2"><path d="M1302.5 1093.6 L1099.1 1120.0 L1124.7 1186.8 L1129.5 1255.4 L1129.5 1390.0" fill="none" stroke-width="1.8" stroke-linejoin="round"/><path d="M1302.5 1084.8l8.8 8.8l-8.8 8.8l-8.8 -8.8z"/><path d="M1099.1 1111.2l8.8 8.8l-8.8 8.8l-8.8 -8.8z"/><path d="M1124.7 1178.0l8.8 8.8l-8.8 8.8l-8.8 -8.8z"/><path d="M1129.5 1246.6l8.8 8.8l-8.8 8.8l-8.8 -8.8z"/><path d="M1129.5 1381.2l8.8 8.8l-8.8 8.8l-8.8 -8.8z"/></g>
<g fill="none" stroke="#00ffff" stroke-width="2"><path d="M1476.5 1053.5 L1242.4 1071.5 L1177.0 1120.0 L1140.2 1187.8 L1150.1 1255.4 L1192.1 1322.7 L1210.7 1390.0" fill="none" stroke-width="1.8" stroke-linejoin="round"/><path d="M1476.5 1044.7l8.8 8.8l-8.8 8.8l-8.8 -8.8z"/><path d="M1242.4 1062.7l8.8 8.8l-8.8 8.8l-8.8 -8.8z"/><path d="M1177.0 1111.2l8.8 8.8l-8.8 8.8l-8.8 -8.8z"/><path d="M1140.2 1179.0l8.8 8.8l-8.8 8.8l-8.8 -8.8z"/><path d="M1150.1 1246.6l8.8 8.8l-8.8 8.8l-8.8 -8.8z"/><path d="M1192.1 1313.9l8.8 8.8l-8.8 8.8l-8.8 -8.8z"/><path d="M1210.7 1381.2l8.8 8.8l-8.8 8.8l-8.8 -8.8z"/></g>
<line x1="1066.90" y1="851.60" x2="1502.70" y2="851.60" stroke="#000" stroke-width="3.4" />
<line x1="1068.40" y1="838.60" x2="1068.40" y2="851.60" stroke="#000" stroke-width="2.6" />
<line x1="1082.83" y1="843.10" x2="1082.83" y2="851.60" stroke="#000" stroke-width="2.4" />
<line x1="1097.25" y1="843.10" x2="1097.25" y2="851.60" stroke="#000" stroke-width="2.4" />
<line x1="1111.68" y1="843.10" x2="1111.68" y2="851.60" stroke="#000" stroke-width="2.4" />
<line x1="1126.11" y1="843.10" x2="1126.11" y2="851.60" stroke="#000" stroke-width="2.4" />
<line x1="1140.53" y1="838.60" x2="1140.53" y2="851.60" stroke="#000" stroke-width="2.6" />
<line x1="1154.96" y1="843.10" x2="1154.96" y2="851.60" stroke="#000" stroke-width="2.4" />
<line x1="1169.39" y1="843.10" x2="1169.39" y2="851.60" stroke="#000" stroke-width="2.4" />
<line x1="1183.81" y1="843.10" x2="1183.81" y2="851.60" stroke="#000" stroke-width="2.4" />
<line x1="1198.24" y1="843.10" x2="1198.24" y2="851.60" stroke="#000" stroke-width="2.4" />
<line x1="1212.67" y1="838.60" x2="1212.67" y2="851.60" stroke="#000" stroke-width="2.6" />
<line x1="1227.09" y1="843.10" x2="1227.09" y2="851.60" stroke="#000" stroke-width="2.4" />
<line x1="1241.52" y1="843.10" x2="1241.52" y2="851.60" stroke="#000" stroke-width="2.4" />
<line x1="1255.95" y1="843.10" x2="1255.95" y2="851.60" stroke="#000" stroke-width="2.4" />
<line x1="1270.37" y1="843.10" x2="1270.37" y2="851.60" stroke="#000" stroke-width="2.4" />
<line x1="1284.80" y1="838.60" x2="1284.80" y2="851.60" stroke="#000" stroke-width="2.6" />
<line x1="1299.23" y1="843.10" x2="1299.23" y2="851.60" stroke="#000" stroke-width="2.4" />
<line x1="1313.65" y1="843.10" x2="1313.65" y2="851.60" stroke="#000" stroke-width="2.4" />
<line x1="1328.08" y1="843.10" x2="1328.08" y2="851.60" stroke="#000" stroke-width="2.4" />
<line x1="1342.51" y1="843.10" x2="1342.51" y2="851.60" stroke="#000" stroke-width="2.4" />
<line x1="1356.93" y1="838.60" x2="1356.93" y2="851.60" stroke="#000" stroke-width="2.6" />
<line x1="1371.36" y1="843.10" x2="1371.36" y2="851.60" stroke="#000" stroke-width="2.4" />
<line x1="1385.79" y1="843.10" x2="1385.79" y2="851.60" stroke="#000" stroke-width="2.4" />
<line x1="1400.21" y1="843.10" x2="1400.21" y2="851.60" stroke="#000" stroke-width="2.4" />
<line x1="1414.64" y1="843.10" x2="1414.64" y2="851.60" stroke="#000" stroke-width="2.4" />
<line x1="1429.07" y1="838.60" x2="1429.07" y2="851.60" stroke="#000" stroke-width="2.6" />
<line x1="1443.49" y1="843.10" x2="1443.49" y2="851.60" stroke="#000" stroke-width="2.4" />
<line x1="1457.92" y1="843.10" x2="1457.92" y2="851.60" stroke="#000" stroke-width="2.4" />
<line x1="1472.35" y1="843.10" x2="1472.35" y2="851.60" stroke="#000" stroke-width="2.4" />
<line x1="1486.77" y1="843.10" x2="1486.77" y2="851.60" stroke="#000" stroke-width="2.4" />
<line x1="1501.20" y1="838.60" x2="1501.20" y2="851.60" stroke="#000" stroke-width="2.6" />
<text x="1068.40" y="823.50" font-family='"Liberation Serif","DejaVu Serif",serif' font-size="29" font-weight="bold" font-style="normal" fill="#000" text-anchor="middle" >0</text>
<text x="1140.53" y="823.50" font-family='"Liberation Serif","DejaVu Serif",serif' font-size="29" font-weight="bold" font-style="normal" fill="#000" text-anchor="middle" >4</text>
<text x="1212.67" y="823.50" font-family='"Liberation Serif","DejaVu Serif",serif' font-size="29" font-weight="bold" font-style="normal" fill="#000" text-anchor="middle" >8</text>
<text x="1284.80" y="823.50" font-family='"Liberation Serif","DejaVu Serif",serif' font-size="29" font-weight="bold" font-style="normal" fill="#000" text-anchor="middle" >12</text>
<text x="1356.93" y="823.50" font-family='"Liberation Serif","DejaVu Serif",serif' font-size="29" font-weight="bold" font-style="normal" fill="#000" text-anchor="middle" >16</text>
<text x="1429.07" y="823.50" font-family='"Liberation Serif","DejaVu Serif",serif' font-size="29" font-weight="bold" font-style="normal" fill="#000" text-anchor="middle" >20</text>
<text x="1501.20" y="823.50" font-family='"Liberation Serif","DejaVu Serif",serif' font-size="29" font-weight="bold" font-style="normal" fill="#000" text-anchor="middle" >24</text>
<text x="1476.30" y="880.70" font-family='"Liberation Serif","DejaVu Serif",serif' font-size="28" font-weight="bold" font-style="normal" fill="#000" text-anchor="middle" >E</text>
<text x="1284.30" y="755.50" font-family='"Liberation Serif","DejaVu Serif",serif' font-size="29.5" font-weight="bold" font-style="normal" fill="#000" text-anchor="middle" >δ<tspan font-size="19" dy="-11">18</tspan><tspan dy="11">O</tspan><tspan font-size="17" dy="8">NO3</tspan><tspan dy="-8"> (‰)</tspan></text>
</g>
<g id="panelF">
<line x1="196.62" y1="1523.00" x2="196.62" y2="2063.70" stroke="#b2b2b2" stroke-width="1" stroke-dasharray="14.5 5.1" shape-rendering="crispEdges"/>
<line x1="196.62" y1="1551.50" x2="196.62" y2="2063.70" stroke="#222" stroke-width="1" stroke-dasharray="1 38" shape-rendering="crispEdges"/>
<line x1="268.83" y1="1523.00" x2="268.83" y2="2063.70" stroke="#b2b2b2" stroke-width="1" stroke-dasharray="14.5 5.1" shape-rendering="crispEdges"/>
<line x1="268.83" y1="1551.50" x2="268.83" y2="2063.70" stroke="#222" stroke-width="1" stroke-dasharray="1 38" shape-rendering="crispEdges"/>
<line x1="341.05" y1="1523.00" x2="341.05" y2="2063.70" stroke="#b2b2b2" stroke-width="1" stroke-dasharray="14.5 5.1" shape-rendering="crispEdges"/>
<line x1="341.05" y1="1551.50" x2="341.05" y2="2063.70" stroke="#222" stroke-width="1" stroke-dasharray="1 38" shape-rendering="crispEdges"/>
<line x1="413.27" y1="1523.00" x2="413.27" y2="2063.70" stroke="#b2b2b2" stroke-width="1" stroke-dasharray="14.5 5.1" shape-rendering="crispEdges"/>
<line x1="413.27" y1="1551.50" x2="413.27" y2="2063.70" stroke="#222" stroke-width="1" stroke-dasharray="1 38" shape-rendering="crispEdges"/>
<line x1="485.48" y1="1523.00" x2="485.48" y2="2063.70" stroke="#b2b2b2" stroke-width="1" stroke-dasharray="14.5 5.1" shape-rendering="crispEdges"/>
<line x1="485.48" y1="1551.50" x2="485.48" y2="2063.70" stroke="#222" stroke-width="1" stroke-dasharray="1 38" shape-rendering="crispEdges"/>
<line x1="557.70" y1="1523.00" x2="557.70" y2="2063.70" stroke="#b2b2b2" stroke-width="1" stroke-dasharray="14.5 5.1" shape-rendering="crispEdges"/>
<line x1="557.70" y1="1551.50" x2="557.70" y2="2063.70" stroke="#222" stroke-width="1" stroke-dasharray="1 38" shape-rendering="crispEdges"/>
<line x1="126.40" y1="1654.67" x2="557.70" y2="1654.67" stroke="#b2b2b2" stroke-width="1" stroke-dasharray="14.5 5.1" shape-rendering="crispEdges"/>
<line x1="150.40" y1="1654.67" x2="557.70" y2="1654.67" stroke="#222" stroke-width="1" stroke-dasharray="1 38" shape-rendering="crispEdges"/>
<line x1="126.40" y1="1789.35" x2="557.70" y2="1789.35" stroke="#b2b2b2" stroke-width="1" stroke-dasharray="14.5 5.1" shape-rendering="crispEdges"/>
<line x1="150.40" y1="1789.35" x2="557.70" y2="1789.35" stroke="#222" stroke-width="1" stroke-dasharray="1 38" shape-rendering="crispEdges"/>
<line x1="126.40" y1="1924.02" x2="557.70" y2="1924.02" stroke="#b2b2b2" stroke-width="1" stroke-dasharray="14.5 5.1" shape-rendering="crispEdges"/>
<line x1="150.40" y1="1924.02" x2="557.70" y2="1924.02" stroke="#222" stroke-width="1" stroke-dasharray="1 38" shape-rendering="crispEdges"/>
<line x1="126.40" y1="2058.70" x2="557.70" y2="2058.70" stroke="#b2b2b2" stroke-width="1" stroke-dasharray="14.5 5.1" shape-rendering="crispEdges"/>
<line x1="150.40" y1="2058.70" x2="557.70" y2="2058.70" stroke="#222" stroke-width="1" stroke-dasharray="1 38" shape-rendering="crispEdges"/>
<g fill="none" stroke="#66cdc8" stroke-width="2"><path d="M453.0 1789.3 L456.6 1816.3 L449.4 1924.0 L442.2 1991.4 L438.5 2058.7" fill="none" stroke-width="1.8" stroke-linejoin="round"/><circle cx="453.0" cy="1789.3" r="6.8"/><circle cx="456.6" cy="1816.3" r="6.8"/><circle cx="449.4" cy="1924.0" r="6.8"/><circle cx="442.2" cy="1991.4" r="6.8"/><circle cx="438.5" cy="2058.7" r="6.8"/></g>
<g fill="none" stroke="#6495ed" stroke-width="2"><path d="M474.7 1681.6 L501.0 1708.0 L485.5 1734.4 L476.5 1761.9 L489.8 1789.3 L507.1 1870.2 L470.7 1951.0 L484.4 2058.7" fill="none" stroke-width="1.8" stroke-linejoin="round"/><circle cx="474.7" cy="1681.6" r="6.8"/><circle cx="501.0" cy="1708.0" r="6.8"/><circle cx="485.5" cy="1734.4" r="6.8"/><circle cx="476.5" cy="1761.9" r="6.8"/><circle cx="489.8" cy="1789.3" r="6.8"/><circle cx="507.1" cy="1870.2" r="6.8"/><circle cx="470.7" cy="1951.0" r="6.8"/><circle cx="484.4" cy="2058.7" r="6.8"/></g>
<g fill="none" stroke="#0000e6" stroke-width="2"><path d="M463.8 1708.5 L496.3 1789.3 L489.1 1856.7 L489.8 1924.0 L468.2 2058.7" fill="none" stroke-width="1.8" stroke-linejoin="round"/><circle cx="463.8" cy="1708.5" r="6.8"/><circle cx="496.3" cy="1789.3" r="6.8"/><circle cx="489.1" cy="1856.7" r="6.8"/><circle cx="489.8" cy="1924.0" r="6.8"/><circle cx="468.2" cy="2058.7" r="6.8"/></g>
<g fill="none" stroke="#0a7ab4" stroke-width="2"><path d="M494.5 1789.3 L489.1 1856.7 L489.8 1924.0 L476.1 2058.7" fill="none" stroke-width="1.8" stroke-linejoin="round"/><circle cx="494.5" cy="1789.3" r="6.8"/><circle cx="489.1" cy="1856.7" r="6.8"/><circle cx="489.8" cy="1924.0" r="6.8"/><circle cx="476.1" cy="2058.7" r="6.8"/></g>
<g fill="none" stroke="#66cdc8" stroke-width="2"><path d="M449.4 1697.8 L446.1 1732.8 L453.0 1757.0 L449.4 1875.5 L435.3 2009.1" fill="none" stroke-width="1.8" stroke-linejoin="round"/><path d="M449.4 1688.8l7.3 13.2h-14.6z"/><path d="M446.1 1723.8l7.3 13.2h-14.6z"/><path d="M453.0 1748.0l7.3 13.2h-14.6z"/><path d="M449.4 1866.5l7.3 13.2h-14.6z"/><path d="M435.3 2000.1l7.3 13.2h-14.6z"/></g>
<g fill="none" stroke="#6495ed" stroke-width="2"><path d="M456.2 1559.3 L453.3 1574.7 L467.1 1584.6 L472.5 1596.8 L489.8 1625.9 L470.7 1651.4 L470.0 1679.7 L446.1 1705.3 L474.7 1731.7 L496.3 1785.8 L472.8 1840.5 L475.4 2003.8 L385.8 2058.7" fill="none" stroke-width="1.8" stroke-linejoin="round"/><path d="M456.2 1550.3l7.3 13.2h-14.6z"/><path d="M453.3 1565.7l7.3 13.2h-14.6z"/><path d="M467.1 1575.6l7.3 13.2h-14.6z"/><path d="M472.5 1587.8l7.3 13.2h-14.6z"/><path d="M489.8 1616.9l7.3 13.2h-14.6z"/><path d="M470.7 1642.4l7.3 13.2h-14.6z"/><path d="M470.0 1670.7l7.3 13.2h-14.6z"/><path d="M446.1 1696.3l7.3 13.2h-14.6z"/><path d="M474.7 1722.7l7.3 13.2h-14.6z"/><path d="M496.3 1776.8l7.3 13.2h-14.6z"/><path d="M472.8 1831.5l7.3 13.2h-14.6z"/><path d="M475.4 1994.8l7.3 13.2h-14.6z"/><path d="M385.8 2049.7l7.3 13.2h-14.6z"/></g>
<g fill="none" stroke="#0000e6" stroke-width="2"><path d="M413.3 1722.0 L418.7 1789.3 L413.3 1924.0 L393.0 2058.7" fill="none" stroke-width="1.8" stroke-linejoin="round"/><rect x="408.8" y="1717.5" width="9" height="9"/><rect x="414.2" y="1784.8" width="9" height="9"/><rect x="408.8" y="1919.5" width="9" height="9"/><rect x="388.5" y="2054.2" width="9" height="9"/></g>
<g fill="none" stroke="#0a7ab4" stroke-width="2"><path d="M411.8 1695.1 L351.5 1708.0 L358.0 1722.0 L340.0 1734.4 L388.7 1748.9 L418.7 1789.3 L415.1 1924.0 L442.2 2058.7" fill="none" stroke-width="1.8" stroke-linejoin="round"/><rect x="405.3" y="1688.6" width="13" height="13"/><rect x="345.0" y="1701.5" width="13" height="13"/><rect x="351.5" y="1715.5" width="13" height="13"/><rect x="333.5" y="1727.9" width="13" height="13"/><rect x="382.2" y="1742.4" width="13" height="13"/><rect x="412.2" y="1782.8" width="13" height="13"/><rect x="408.6" y="1917.5" width="13" height="13"/><rect x="435.7" y="2052.2" width="13" height="13"/></g>
<g fill="none" stroke="#ff8080" stroke-width="2"><path d="M464.5 1719.9 L460.2 1748.9 L456.6 1775.9 L458.4 1818.4 L460.2 1840.0 L460.6 1870.2 L456.6 1898.7 L453.0 1923.2 L455.2 1951.0 L449.4 2002.9 L427.7 2055.5" fill="none" stroke-width="1.8" stroke-linejoin="round"/><path d="M464.5 1710.9l7.3 13.2h-14.6z"/><path d="M460.2 1739.9l7.3 13.2h-14.6z"/><path d="M456.6 1766.9l7.3 13.2h-14.6z"/><path d="M458.4 1809.4l7.3 13.2h-14.6z"/><path d="M460.2 1831.0l7.3 13.2h-14.6z"/><path d="M460.6 1861.2l7.3 13.2h-14.6z"/><path d="M456.6 1889.7l7.3 13.2h-14.6z"/><path d="M453.0 1914.2l7.3 13.2h-14.6z"/><path d="M455.2 1942.0l7.3 13.2h-14.6z"/><path d="M449.4 1993.9l7.3 13.2h-14.6z"/><path d="M427.7 2046.5l7.3 13.2h-14.6z"/></g>
<g fill="none" stroke="#ff80ff" stroke-width="2"><path d="M413.3 1667.1 L446.1 1692.4 L449.7 1703.2 L456.6 1735.5 L464.5 1756.5 L467.4 1810.9 L482.6 1843.2 L471.0 1872.8 L460.2 1897.1 L440.7 1977.9 L438.5 2058.7" fill="none" stroke-width="1.8" stroke-linejoin="round"/><path d="M413.3 1658.1l7.3 13.2h-14.6z"/><path d="M446.1 1683.4l7.3 13.2h-14.6z"/><path d="M449.7 1694.2l7.3 13.2h-14.6z"/><path d="M456.6 1726.5l7.3 13.2h-14.6z"/><path d="M464.5 1747.5l7.3 13.2h-14.6z"/><path d="M467.4 1801.9l7.3 13.2h-14.6z"/><path d="M482.6 1834.2l7.3 13.2h-14.6z"/><path d="M471.0 1863.8l7.3 13.2h-14.6z"/><path d="M460.2 1888.1l7.3 13.2h-14.6z"/><path d="M440.7 1968.9l7.3 13.2h-14.6z"/><path d="M438.5 2049.7l7.3 13.2h-14.6z"/></g>
<g fill="#ff80c0" stroke="#ff0000" stroke-width="2"><path d="M427.0 1625.9 L433.5 1639.6 L446.1 1656.0 L474.7 1665.2 L451.5 1679.7 L461.7 1705.3 L457.3 1731.7 L453.0 1759.7 L456.6 1788.3 L460.2 1813.6 L458.4 1839.7 L453.0 1862.1 L444.3 1892.2 L436.0 1910.6 L432.4 1945.6 L431.3 1972.5 L452.6 2003.8" fill="none" stroke-width="2.2" stroke-linejoin="round"/><path d="M427.0 1616.9l7.3 13.2h-14.6z"/><path d="M433.5 1630.6l7.3 13.2h-14.6z"/><path d="M446.1 1647.0l7.3 13.2h-14.6z"/><path d="M474.7 1656.2l7.3 13.2h-14.6z"/><path d="M451.5 1670.7l7.3 13.2h-14.6z"/><path d="M461.7 1696.3l7.3 13.2h-14.6z"/><path d="M457.3 1722.7l7.3 13.2h-14.6z"/><path d="M453.0 1750.7l7.3 13.2h-14.6z"/><path d="M456.6 1779.3l7.3 13.2h-14.6z"/><path d="M460.2 1804.6l7.3 13.2h-14.6z"/><path d="M458.4 1830.7l7.3 13.2h-14.6z"/><path d="M453.0 1853.1l7.3 13.2h-14.6z"/><path d="M444.3 1883.2l7.3 13.2h-14.6z"/><path d="M436.0 1901.6l7.3 13.2h-14.6z"/><path d="M432.4 1936.6l7.3 13.2h-14.6z"/><path d="M431.3 1963.5l7.3 13.2h-14.6z"/><path d="M452.6 1994.8l7.3 13.2h-14.6z"/></g>
<g fill="#ff8080" stroke="#ff0000" stroke-width="2"><path d="M438.5 1735.5 L425.9 1748.9 L445.8 1762.4 L458.4 1789.3 L449.7 1924.0 L418.7 2058.7" fill="none" stroke-width="2.2" stroke-linejoin="round"/><rect x="432.0" y="1729.0" width="13" height="13"/><rect x="419.4" y="1742.4" width="13" height="13"/><rect x="439.3" y="1755.9" width="13" height="13"/><rect x="451.9" y="1782.8" width="13" height="13"/><rect x="443.2" y="1917.5" width="13" height="13"/><rect x="412.2" y="2052.2" width="13" height="13"/></g>
<g fill="#ff8080" stroke="#ff0000" stroke-width="2"><path d="M400.6 1722.0 L385.5 1735.5 L454.4 1748.9 L458.0 1763.0 L464.5 1774.8 L460.9 1789.3 L462.7 1817.4 L458.8 1843.2 L436.0 1870.2 L458.0 1897.1 L449.7 1924.0 L420.5 1991.4 L424.1 2058.7" fill="none" stroke-width="2.2" stroke-linejoin="round"/><path d="M400.6 1713.2l8.8 8.8l-8.8 8.8l-8.8 -8.8z"/><path d="M385.5 1726.7l8.8 8.8l-8.8 8.8l-8.8 -8.8z"/><path d="M454.4 1740.1l8.8 8.8l-8.8 8.8l-8.8 -8.8z"/><path d="M458.0 1754.2l8.8 8.8l-8.8 8.8l-8.8 -8.8z"/><path d="M464.5 1766.0l8.8 8.8l-8.8 8.8l-8.8 -8.8z"/><path d="M460.9 1780.5l8.8 8.8l-8.8 8.8l-8.8 -8.8z"/><path d="M462.7 1808.6l8.8 8.8l-8.8 8.8l-8.8 -8.8z"/><path d="M458.8 1834.4l8.8 8.8l-8.8 8.8l-8.8 -8.8z"/><path d="M436.0 1861.4l8.8 8.8l-8.8 8.8l-8.8 -8.8z"/><path d="M458.0 1888.3l8.8 8.8l-8.8 8.8l-8.8 -8.8z"/><path d="M449.7 1915.2l8.8 8.8l-8.8 8.8l-8.8 -8.8z"/><path d="M420.5 1982.6l8.8 8.8l-8.8 8.8l-8.8 -8.8z"/><path d="M424.1 2049.9l8.8 8.8l-8.8 8.8l-8.8 -8.8z"/></g>
<g fill="none" stroke="#ff00ff" stroke-width="2"><path d="M423.4 1654.7 L385.8 1722.0 L480.8 1789.3 L451.5 1924.0 L433.5 2058.7" fill="none" stroke-width="1.8" stroke-linejoin="round"/><rect x="416.9" y="1648.2" width="13" height="13"/><rect x="379.3" y="1715.5" width="13" height="13"/><rect x="474.3" y="1782.8" width="13" height="13"/><rect x="445.0" y="1917.5" width="13" height="13"/><rect x="427.0" y="2052.2" width="13" height="13"/></g>
<g fill="none" stroke="#ff8040" stroke-width="2"><path d="M427.7 1654.7 L438.5 1722.0 L431.3 1789.3 L395.2 1924.0 L416.9 2058.7" fill="none" stroke-width="1.8" stroke-linejoin="round"/><rect x="421.2" y="1648.2" width="13" height="13"/><rect x="432.0" y="1715.5" width="13" height="13"/><rect x="424.8" y="1782.8" width="13" height="13"/><rect x="388.7" y="1917.5" width="13" height="13"/><rect x="410.4" y="2052.2" width="13" height="13"/></g>
<g fill="none" stroke="#ffb040" stroke-width="2"><path d="M429.5 1654.7 L444.3 1722.0 L449.4 1789.3 L431.3 1924.0 L403.2 2058.7" fill="none" stroke-width="1.8" stroke-linejoin="round"/><rect x="423.0" y="1648.2" width="13" height="13"/><rect x="437.8" y="1715.5" width="13" height="13"/><rect x="442.9" y="1782.8" width="13" height="13"/><rect x="424.8" y="1917.5" width="13" height="13"/><rect x="396.7" y="2052.2" width="13" height="13"/></g>
<g fill="none" stroke="#ff80c0" stroke-width="2"><path d="M436.0 1654.7 L452.6 1722.0 L463.8 1789.3 L416.9 1924.0 L416.9 2058.7" fill="none" stroke-width="1.8" stroke-linejoin="round"/><rect x="429.5" y="1648.2" width="13" height="13"/><rect x="446.1" y="1715.5" width="13" height="13"/><rect x="457.3" y="1782.8" width="13" height="13"/><rect x="410.4" y="1917.5" width="13" height="13"/><rect x="410.4" y="2052.2" width="13" height="13"/></g>
<g fill="none" stroke="#a02080" stroke-width="2"><path d="M429.2 1708.0 L436.0 1789.3 L399.5 2058.7" fill="none" stroke-width="1.8" stroke-linejoin="round"/><rect x="422.7" y="1701.5" width="13" height="13"/><rect x="429.5" y="1782.8" width="13" height="13"/><rect x="393.0" y="2052.2" width="13" height="13"/></g>
<g fill="none" stroke="#9acd32" stroke-width="2"><path d="M449.4 1789.3 L460.6 1804.7 L480.8 1829.2 L473.6 1843.2 L484.4 1856.7 L478.3 1870.2 L483.7 1897.1 L465.3 1924.0 L480.8 1951.0 L468.2 1977.9 L462.7 2004.8 L459.8 2031.8 L455.2 2058.7" fill="none" stroke-width="1.8" stroke-linejoin="round"/><path d="M449.4 1780.5l8.8 8.8l-8.8 8.8l-8.8 -8.8z"/><path d="M460.6 1795.9l8.8 8.8l-8.8 8.8l-8.8 -8.8z"/><path d="M480.8 1820.4l8.8 8.8l-8.8 8.8l-8.8 -8.8z"/><path d="M473.6 1834.4l8.8 8.8l-8.8 8.8l-8.8 -8.8z"/><path d="M484.4 1847.9l8.8 8.8l-8.8 8.8l-8.8 -8.8z"/><path d="M478.3 1861.4l8.8 8.8l-8.8 8.8l-8.8 -8.8z"/><path d="M483.7 1888.3l8.8 8.8l-8.8 8.8l-8.8 -8.8z"/><path d="M465.3 1915.2l8.8 8.8l-8.8 8.8l-8.8 -8.8z"/><path d="M480.8 1942.2l8.8 8.8l-8.8 8.8l-8.8 -8.8z"/><path d="M468.2 1969.1l8.8 8.8l-8.8 8.8l-8.8 -8.8z"/><path d="M462.7 1996.0l8.8 8.8l-8.8 8.8l-8.8 -8.8z"/><path d="M459.8 2023.0l8.8 8.8l-8.8 8.8l-8.8 -8.8z"/><path d="M455.2 2049.9l8.8 8.8l-8.8 8.8l-8.8 -8.8z"/></g>
<g fill="none" stroke="#228b22" stroke-width="2"><path d="M454.4 1748.9 L451.5 1756.5 L465.3 1789.3 L460.2 1810.9 L446.1 1856.7 L447.2 1924.0 L428.8 2058.7" fill="none" stroke-width="1.8" stroke-linejoin="round"/><path d="M454.4 1740.1l8.8 8.8l-8.8 8.8l-8.8 -8.8z"/><path d="M451.5 1747.7l8.8 8.8l-8.8 8.8l-8.8 -8.8z"/><path d="M465.3 1780.5l8.8 8.8l-8.8 8.8l-8.8 -8.8z"/><path d="M460.2 1802.1l8.8 8.8l-8.8 8.8l-8.8 -8.8z"/><path d="M446.1 1847.9l8.8 8.8l-8.8 8.8l-8.8 -8.8z"/><path d="M447.2 1915.2l8.8 8.8l-8.8 8.8l-8.8 -8.8z"/><path d="M428.8 2049.9l8.8 8.8l-8.8 8.8l-8.8 -8.8z"/></g>
<g fill="none" stroke="#00e600" stroke-width="2"><path d="M456.6 1789.3 L473.6 1810.1 L476.5 1856.7 L465.3 1924.0 L444.3 2058.7" fill="none" stroke-width="1.8" stroke-linejoin="round"/><path d="M456.6 1780.5l8.8 8.8l-8.8 8.8l-8.8 -8.8z"/><path d="M473.6 1801.3l8.8 8.8l-8.8 8.8l-8.8 -8.8z"/><path d="M476.5 1847.9l8.8 8.8l-8.8 8.8l-8.8 -8.8z"/><path d="M465.3 1915.2l8.8 8.8l-8.8 8.8l-8.8 -8.8z"/><path d="M444.3 2049.9l8.8 8.8l-8.8 8.8l-8.8 -8.8z"/></g>
<g fill="none" stroke="#b4c882" stroke-width="2"><path d="M433.5 1722.0 L439.6 1761.9 L451.5 1789.3 L452.6 1856.7 L450.8 1924.0 L429.9 2058.7" fill="none" stroke-width="1.8" stroke-linejoin="round"/><path d="M433.5 1713.2l8.8 8.8l-8.8 8.8l-8.8 -8.8z"/><path d="M439.6 1753.1l8.8 8.8l-8.8 8.8l-8.8 -8.8z"/><path d="M451.5 1780.5l8.8 8.8l-8.8 8.8l-8.8 -8.8z"/><path d="M452.6 1847.9l8.8 8.8l-8.8 8.8l-8.8 -8.8z"/><path d="M450.8 1915.2l8.8 8.8l-8.8 8.8l-8.8 -8.8z"/><path d="M429.9 2049.9l8.8 8.8l-8.8 8.8l-8.8 -8.8z"/></g>
<g fill="none" stroke="#00ffff" stroke-width="2"><path d="M432.4 1722.0 L433.8 1740.1 L444.3 1789.3 L428.8 1856.7 L427.0 1924.0 L405.7 1991.4 L351.9 2058.7" fill="none" stroke-width="1.8" stroke-linejoin="round"/><path d="M432.4 1713.2l8.8 8.8l-8.8 8.8l-8.8 -8.8z"/><path d="M433.8 1731.3l8.8 8.8l-8.8 8.8l-8.8 -8.8z"/><path d="M444.3 1780.5l8.8 8.8l-8.8 8.8l-8.8 -8.8z"/><path d="M428.8 1847.9l8.8 8.8l-8.8 8.8l-8.8 -8.8z"/><path d="M427.0 1915.2l8.8 8.8l-8.8 8.8l-8.8 -8.8z"/><path d="M405.7 1982.6l8.8 8.8l-8.8 8.8l-8.8 -8.8z"/><path d="M351.9 2049.9l8.8 8.8l-8.8 8.8l-8.8 -8.8z"/></g>
<line x1="122.90" y1="1520.00" x2="559.20" y2="1520.00" stroke="#000" stroke-width="3.4" />
<line x1="124.40" y1="1507.00" x2="124.40" y2="1520.00" stroke="#000" stroke-width="2.6" />
<line x1="138.84" y1="1511.50" x2="138.84" y2="1520.00" stroke="#000" stroke-width="2.4" />
<line x1="153.29" y1="1511.50" x2="153.29" y2="1520.00" stroke="#000" stroke-width="2.4" />
<line x1="167.73" y1="1511.50" x2="167.73" y2="1520.00" stroke="#000" stroke-width="2.4" />
<line x1="182.17" y1="1511.50" x2="182.17" y2="1520.00" stroke="#000" stroke-width="2.4" />
<line x1="196.62" y1="1507.00" x2="196.62" y2="1520.00" stroke="#000" stroke-width="2.6" />
<line x1="211.06" y1="1511.50" x2="211.06" y2="1520.00" stroke="#000" stroke-width="2.4" />
<line x1="225.50" y1="1511.50" x2="225.50" y2="1520.00" stroke="#000" stroke-width="2.4" />
<line x1="239.95" y1="1511.50" x2="239.95" y2="1520.00" stroke="#000" stroke-width="2.4" />
<line x1="254.39" y1="1511.50" x2="254.39" y2="1520.00" stroke="#000" stroke-width="2.4" />
<line x1="268.83" y1="1507.00" x2="268.83" y2="1520.00" stroke="#000" stroke-width="2.6" />
<line x1="283.28" y1="1511.50" x2="283.28" y2="1520.00" stroke="#000" stroke-width="2.4" />
<line x1="297.72" y1="1511.50" x2="297.72" y2="1520.00" stroke="#000" stroke-width="2.4" />
<line x1="312.16" y1="1511.50" x2="312.16" y2="1520.00" stroke="#000" stroke-width="2.4" />
<line x1="326.61" y1="1511.50" x2="326.61" y2="1520.00" stroke="#000" stroke-width="2.4" />
<line x1="341.05" y1="1507.00" x2="341.05" y2="1520.00" stroke="#000" stroke-width="2.6" />
<line x1="355.49" y1="1511.50" x2="355.49" y2="1520.00" stroke="#000" stroke-width="2.4" />
<line x1="369.94" y1="1511.50" x2="369.94" y2="1520.00" stroke="#000" stroke-width="2.4" />
<line x1="384.38" y1="1511.50" x2="384.38" y2="1520.00" stroke="#000" stroke-width="2.4" />
<line x1="398.82" y1="1511.50" x2="398.82" y2="1520.00" stroke="#000" stroke-width="2.4" />
<line x1="413.27" y1="1507.00" x2="413.27" y2="1520.00" stroke="#000" stroke-width="2.6" />
<line x1="427.71" y1="1511.50" x2="427.71" y2="1520.00" stroke="#000" stroke-width="2.4" />
<line x1="442.15" y1="1511.50" x2="442.15" y2="1520.00" stroke="#000" stroke-width="2.4" />
<line x1="456.60" y1="1511.50" x2="456.60" y2="1520.00" stroke="#000" stroke-width="2.4" />
<line x1="471.04" y1="1511.50" x2="471.04" y2="1520.00" stroke="#000" stroke-width="2.4" />
<line x1="485.48" y1="1507.00" x2="485.48" y2="1520.00" stroke="#000" stroke-width="2.6" />
<line x1="499.93" y1="1511.50" x2="499.93" y2="1520.00" stroke="#000" stroke-width="2.4" />
<line x1="514.37" y1="1511.50" x2="514.37" y2="1520.00" stroke="#000" stroke-width="2.4" />
<line x1="528.81" y1="1511.50" x2="528.81" y2="1520.00" stroke="#000" stroke-width="2.4" />
<line x1="543.26" y1="1511.50" x2="543.26" y2="1520.00" stroke="#000" stroke-width="2.4" />
<line x1="557.70" y1="1507.00" x2="557.70" y2="1520.00" stroke="#000" stroke-width="2.6" />
<text x="120.90" y="1493.00" font-family='"Liberation Serif","DejaVu Serif",serif' font-size="29" font-weight="bold" font-style="normal" fill="#000" text-anchor="middle" >-10</text>
<text x="193.12" y="1493.00" font-family='"Liberation Serif","DejaVu Serif",serif' font-size="29" font-weight="bold" font-style="normal" fill="#000" text-anchor="middle" >-8</text>
<text x="265.33" y="1493.00" font-family='"Liberation Serif","DejaVu Serif",serif' font-size="29" font-weight="bold" font-style="normal" fill="#000" text-anchor="middle" >-6</text>
<text x="337.55" y="1493.00" font-family='"Liberation Serif","DejaVu Serif",serif' font-size="29" font-weight="bold" font-style="normal" fill="#000" text-anchor="middle" >-4</text>
<text x="409.77" y="1493.00" font-family='"Liberation Serif","DejaVu Serif",serif' font-size="29" font-weight="bold" font-style="normal" fill="#000" text-anchor="middle" >-2</text>
<text x="485.48" y="1493.00" font-family='"Liberation Serif","DejaVu Serif",serif' font-size="29" font-weight="bold" font-style="normal" fill="#000" text-anchor="middle" >0</text>
<text x="557.70" y="1493.00" font-family='"Liberation Serif","DejaVu Serif",serif' font-size="29" font-weight="bold" font-style="normal" fill="#000" text-anchor="middle" >2</text>
<line x1="124.40" y1="1518.50" x2="124.40" y2="2065.70" stroke="#000" stroke-width="3.4" />
<line x1="110.90" y1="1520.00" x2="124.40" y2="1520.00" stroke="#000" stroke-width="2.6" />
<text x="96.90" y="1529.80" font-family='"Liberation Serif","DejaVu Serif",serif' font-size="29" font-weight="bold" font-style="normal" fill="#000" text-anchor="end" >0</text>
<line x1="115.40" y1="1546.93" x2="124.40" y2="1546.93" stroke="#000" stroke-width="2.4" />
<line x1="115.40" y1="1573.87" x2="124.40" y2="1573.87" stroke="#000" stroke-width="2.4" />
<line x1="115.40" y1="1600.81" x2="124.40" y2="1600.81" stroke="#000" stroke-width="2.4" />
<line x1="115.40" y1="1627.74" x2="124.40" y2="1627.74" stroke="#000" stroke-width="2.4" />
<line x1="110.90" y1="1654.67" x2="124.40" y2="1654.67" stroke="#000" stroke-width="2.6" />
<text x="96.90" y="1664.47" font-family='"Liberation Serif","DejaVu Serif",serif' font-size="29" font-weight="bold" font-style="normal" fill="#000" text-anchor="end" >50</text>
<line x1="115.40" y1="1681.61" x2="124.40" y2="1681.61" stroke="#000" stroke-width="2.4" />
<line x1="115.40" y1="1708.54" x2="124.40" y2="1708.54" stroke="#000" stroke-width="2.4" />
<line x1="115.40" y1="1735.48" x2="124.40" y2="1735.48" stroke="#000" stroke-width="2.4" />
<line x1="115.40" y1="1762.41" x2="124.40" y2="1762.41" stroke="#000" stroke-width="2.4" />
<line x1="110.90" y1="1789.35" x2="124.40" y2="1789.35" stroke="#000" stroke-width="2.6" />
<text x="96.90" y="1799.15" font-family='"Liberation Serif","DejaVu Serif",serif' font-size="29" font-weight="bold" font-style="normal" fill="#000" text-anchor="end" >100</text>
<line x1="115.40" y1="1816.28" x2="124.40" y2="1816.28" stroke="#000" stroke-width="2.4" />
<line x1="115.40" y1="1843.22" x2="124.40" y2="1843.22" stroke="#000" stroke-width="2.4" />
<line x1="115.40" y1="1870.15" x2="124.40" y2="1870.15" stroke="#000" stroke-width="2.4" />
<line x1="115.40" y1="1897.09" x2="124.40" y2="1897.09" stroke="#000" stroke-width="2.4" />
<line x1="110.90" y1="1924.02" x2="124.40" y2="1924.02" stroke="#000" stroke-width="2.6" />
<text x="96.90" y="1933.82" font-family='"Liberation Serif","DejaVu Serif",serif' font-size="29" font-weight="bold" font-style="normal" fill="#000" text-anchor="end" >150</text>
<line x1="115.40" y1="1950.96" x2="124.40" y2="1950.96" stroke="#000" stroke-width="2.4" />
<line x1="115.40" y1="1977.89" x2="124.40" y2="1977.89" stroke="#000" stroke-width="2.4" />
<line x1="115.40" y1="2004.83" x2="124.40" y2="2004.83" stroke="#000" stroke-width="2.4" />
<line x1="115.40" y1="2031.76" x2="124.40" y2="2031.76" stroke="#000" stroke-width="2.4" />
<line x1="110.90" y1="2058.70" x2="124.40" y2="2058.70" stroke="#000" stroke-width="2.6" />
<text x="96.90" y="2068.50" font-family='"Liberation Serif","DejaVu Serif",serif' font-size="29" font-weight="bold" font-style="normal" fill="#000" text-anchor="end" >200</text>
<text x="0" y="0" transform="translate(27.50 1791.35) rotate(-90)" font-family='"Liberation Serif","DejaVu Serif",serif' font-size="29.6" font-weight="bold" font-style="normal" fill="#000" text-anchor="middle" >Depth (m)</text>
<text x="526.00" y="1549.00" font-family='"Liberation Serif","DejaVu Serif",serif' font-size="28" font-weight="bold" font-style="normal" fill="#000" text-anchor="middle" >F</text>
<text x="341.20" y="1433.40" font-family='"Liberation Serif","DejaVu Serif",serif' font-size="29.5" font-weight="bold" font-style="normal" fill="#000" text-anchor="middle" >N* (μmol/L)</text>
<line x1="122.30" y1="1654.60" x2="180.40" y2="1654.60" stroke="#66cdc8" stroke-width="2" />
<circle cx="151.3" cy="1654.6" r="6.8" fill="#fff" stroke="#66cdc8" stroke-width="2"/><text x="194.50" y="1663.20" font-family='"Liberation Serif","DejaVu Serif",serif' font-size="25.6" font-weight="normal" font-style="normal" fill="#000" text-anchor="start" letter-spacing="0.3">TS2</text>
<line x1="122.30" y1="1686.85" x2="180.40" y2="1686.85" stroke="#6495ed" stroke-width="2" />
<circle cx="151.3" cy="1686.8" r="6.8" fill="#fff" stroke="#6495ed" stroke-width="2"/><text x="194.50" y="1695.45" font-family='"Liberation Serif","DejaVu Serif",serif' font-size="25.6" font-weight="normal" font-style="normal" fill="#000" text-anchor="start" letter-spacing="0.3">B5</text>
<line x1="122.30" y1="1719.10" x2="180.40" y2="1719.10" stroke="#0000e6" stroke-width="2" />
<circle cx="151.3" cy="1719.1" r="6.8" fill="#fff" stroke="#0000e6" stroke-width="2"/><text x="194.50" y="1727.70" font-family='"Liberation Serif","DejaVu Serif",serif' font-size="25.6" font-weight="normal" font-style="normal" fill="#000" text-anchor="start" letter-spacing="0.3">C5</text>
<line x1="122.30" y1="1751.35" x2="180.40" y2="1751.35" stroke="#0a7ab4" stroke-width="2" />
<circle cx="151.3" cy="1751.3" r="6.8" fill="#fff" stroke="#0a7ab4" stroke-width="2"/><text x="194.50" y="1759.95" font-family='"Liberation Serif","DejaVu Serif",serif' font-size="25.6" font-weight="normal" font-style="normal" fill="#000" text-anchor="start" letter-spacing="0.3">BC1</text>
<line x1="122.30" y1="1783.60" x2="180.40" y2="1783.60" stroke="#66cdc8" stroke-width="2" />
<path d="M151.3 1776.1L158.6 1789.3L144.0 1789.3Z" fill="#fff" stroke="#66cdc8" stroke-width="2" stroke-linejoin="miter"/><text x="194.50" y="1792.20" font-family='"Liberation Serif","DejaVu Serif",serif' font-size="25.6" font-weight="normal" font-style="normal" fill="#000" text-anchor="start" letter-spacing="0.3">NS1</text>
<line x1="122.30" y1="1815.85" x2="180.40" y2="1815.85" stroke="#6495ed" stroke-width="2" />
<path d="M151.3 1808.3L158.6 1821.5L144.0 1821.5Z" fill="#fff" stroke="#6495ed" stroke-width="2" stroke-linejoin="miter"/><text x="194.50" y="1824.45" font-family='"Liberation Serif","DejaVu Serif",serif' font-size="25.6" font-weight="normal" font-style="normal" fill="#000" text-anchor="start" letter-spacing="0.3">D1</text>
<line x1="122.30" y1="1848.10" x2="180.40" y2="1848.10" stroke="#0000e6" stroke-width="2" />
<rect x="146.8" y="1843.6" width="9" height="9" fill="#fff" stroke="#0000e6" stroke-width="2"/><text x="194.50" y="1856.70" font-family='"Liberation Serif","DejaVu Serif",serif' font-size="25.6" font-weight="normal" font-style="normal" fill="#000" text-anchor="start" letter-spacing="0.3">F1</text>
<line x1="122.30" y1="1880.35" x2="180.40" y2="1880.35" stroke="#0a7ab4" stroke-width="2" />
<rect x="144.8" y="1873.8" width="13" height="13" fill="#fff" stroke="#0a7ab4" stroke-width="2"/><text x="194.50" y="1888.95" font-family='"Liberation Serif","DejaVu Serif",serif' font-size="25.6" font-weight="normal" font-style="normal" fill="#000" text-anchor="start" letter-spacing="0.3">D6</text>
<line x1="122.30" y1="1912.60" x2="180.40" y2="1912.60" stroke="#ff8080" stroke-width="2" />
<path d="M151.3 1905.1L158.6 1918.3L144.0 1918.3Z" fill="#fff" stroke="#ff8080" stroke-width="2" stroke-linejoin="miter"/><text x="194.50" y="1921.20" font-family='"Liberation Serif","DejaVu Serif",serif' font-size="25.6" font-weight="normal" font-style="normal" fill="#000" text-anchor="start" letter-spacing="0.3">J1</text>
<line x1="122.30" y1="1944.85" x2="180.40" y2="1944.85" stroke="#ff80ff" stroke-width="2" />
<path d="M151.3 1937.3L158.6 1950.5L144.0 1950.5Z" fill="#fff" stroke="#ff80ff" stroke-width="2" stroke-linejoin="miter"/><text x="194.50" y="1953.45" font-family='"Liberation Serif","DejaVu Serif",serif' font-size="25.6" font-weight="normal" font-style="normal" fill="#000" text-anchor="start" letter-spacing="0.3">X5</text>
<line x1="122.30" y1="1977.10" x2="180.40" y2="1977.10" stroke="#ff0000" stroke-width="2" />
<path d="M151.3 1969.6L158.6 1982.8L144.0 1982.8Z" fill="#ff80c0" stroke="#ff0000" stroke-width="2" stroke-linejoin="miter"/><text x="194.50" y="1985.70" font-family='"Liberation Serif","DejaVu Serif",serif' font-size="25.6" font-weight="normal" font-style="normal" fill="#000" text-anchor="start" letter-spacing="0.3">2014SEATS</text>
<line x1="122.30" y1="2009.35" x2="180.40" y2="2009.35" stroke="#ff0000" stroke-width="2" />
<rect x="144.8" y="2002.8" width="13" height="13" fill="#ff8080" stroke="#ff0000" stroke-width="2"/><text x="194.50" y="2017.95" font-family='"Liberation Serif","DejaVu Serif",serif' font-size="25.6" font-weight="normal" font-style="normal" fill="#000" text-anchor="start" letter-spacing="0.3">2016SEATS</text>
<line x1="122.30" y1="2041.60" x2="180.40" y2="2041.60" stroke="#ff0000" stroke-width="2" />
<path d="M151.3 2032.8L160.1 2041.6L151.3 2050.4L142.5 2041.6Z" fill="#ff8080" stroke="#ff0000" stroke-width="2"/><text x="194.50" y="2050.20" font-family='"Liberation Serif","DejaVu Serif",serif' font-size="25.6" font-weight="normal" font-style="normal" fill="#000" text-anchor="start" letter-spacing="0.3">2017SEATS</text>
<line x1="250.50" y1="1650.70" x2="308.20" y2="1650.70" stroke="#ff00ff" stroke-width="2" />
<rect x="273.0" y="1644.2" width="13" height="13" fill="#fff" stroke="#ff00ff" stroke-width="2"/><text x="322.20" y="1659.30" font-family='"Liberation Serif","DejaVu Serif",serif' font-size="25.6" font-weight="normal" font-style="normal" fill="#000" text-anchor="start" letter-spacing="0.3">Q1</text>
<line x1="250.50" y1="1683.00" x2="308.20" y2="1683.00" stroke="#ff8040" stroke-width="2" />
<rect x="273.0" y="1676.5" width="13" height="13" fill="#fff" stroke="#ff8040" stroke-width="2"/><text x="322.20" y="1691.60" font-family='"Liberation Serif","DejaVu Serif",serif' font-size="25.6" font-weight="normal" font-style="normal" fill="#000" text-anchor="start" letter-spacing="0.3">Q3</text>
<line x1="250.50" y1="1715.30" x2="308.20" y2="1715.30" stroke="#ffb040" stroke-width="2" />
<rect x="273.0" y="1708.8" width="13" height="13" fill="#fff" stroke="#ffb040" stroke-width="2"/><text x="322.20" y="1723.90" font-family='"Liberation Serif","DejaVu Serif",serif' font-size="25.6" font-weight="normal" font-style="normal" fill="#000" text-anchor="start" letter-spacing="0.3">K3</text>
<line x1="250.50" y1="1747.60" x2="308.20" y2="1747.60" stroke="#ff80c0" stroke-width="2" />
<rect x="273.0" y="1741.1" width="13" height="13" fill="#fff" stroke="#ff80c0" stroke-width="2"/><text x="322.20" y="1756.20" font-family='"Liberation Serif","DejaVu Serif",serif' font-size="25.6" font-weight="normal" font-style="normal" fill="#000" text-anchor="start" letter-spacing="0.3">K8</text>
<line x1="250.50" y1="1779.90" x2="308.20" y2="1779.90" stroke="#a02080" stroke-width="2" />
<rect x="273.0" y="1773.4" width="13" height="13" fill="#fff" stroke="#a02080" stroke-width="2"/><text x="322.20" y="1788.50" font-family='"Liberation Serif","DejaVu Serif",serif' font-size="25.6" font-weight="normal" font-style="normal" fill="#000" text-anchor="start" letter-spacing="0.3">A11</text>
<line x1="250.50" y1="1812.20" x2="308.20" y2="1812.20" stroke="#9acd32" stroke-width="2" />
<path d="M279.5 1803.4L288.3 1812.2L279.5 1821.0L270.7 1812.2Z" fill="#fff" stroke="#9acd32" stroke-width="2"/><text x="322.20" y="1820.80" font-family='"Liberation Serif","DejaVu Serif",serif' font-size="25.6" font-weight="normal" font-style="normal" fill="#000" text-anchor="start" letter-spacing="0.3">SS1</text>
<line x1="250.50" y1="1844.50" x2="308.20" y2="1844.50" stroke="#228b22" stroke-width="2" />
<path d="M279.5 1835.7L288.3 1844.5L279.5 1853.3L270.7 1844.5Z" fill="#fff" stroke="#228b22" stroke-width="2"/><text x="322.20" y="1853.10" font-family='"Liberation Serif","DejaVu Serif",serif' font-size="25.6" font-weight="normal" font-style="normal" fill="#000" text-anchor="start" letter-spacing="0.3">B1</text>
<line x1="250.50" y1="1876.80" x2="308.20" y2="1876.80" stroke="#00e600" stroke-width="2" />
<path d="M279.5 1868.0L288.3 1876.8L279.5 1885.6L270.7 1876.8Z" fill="#fff" stroke="#00e600" stroke-width="2"/><text x="322.20" y="1885.40" font-family='"Liberation Serif","DejaVu Serif",serif' font-size="25.6" font-weight="normal" font-style="normal" fill="#000" text-anchor="start" letter-spacing="0.3">B2</text>
<line x1="250.50" y1="1909.10" x2="308.20" y2="1909.10" stroke="#b4c882" stroke-width="2" />
<path d="M279.5 1900.3L288.3 1909.1L279.5 1917.9L270.7 1909.1Z" fill="#fff" stroke="#b4c882" stroke-width="2"/><text x="322.20" y="1917.70" font-family='"Liberation Serif","DejaVu Serif",serif' font-size="25.6" font-weight="normal" font-style="normal" fill="#000" text-anchor="start" letter-spacing="0.3">A2</text>
<line x1="250.50" y1="1941.40" x2="308.20" y2="1941.40" stroke="#00ffff" stroke-width="2" />
<path d="M279.5 1932.6L288.3 1941.4L279.5 1950.2L270.7 1941.4Z" fill="#fff" stroke="#00ffff" stroke-width="2"/><text x="322.20" y="1950.00" font-family='"Liberation Serif","DejaVu Serif",serif' font-size="25.6" font-weight="normal" font-style="normal" fill="#000" text-anchor="start" letter-spacing="0.3">C1</text>
</g>
<g id="panelG">
<line x1="597.60" y1="1526.20" x2="597.60" y2="2067.40" stroke="#b2b2b2" stroke-width="1" stroke-dasharray="14.5 5.1" shape-rendering="crispEdges"/>
<line x1="597.60" y1="1554.70" x2="597.60" y2="2067.40" stroke="#222" stroke-width="1" stroke-dasharray="1 38" shape-rendering="crispEdges"/>
<line x1="669.77" y1="1526.20" x2="669.77" y2="2067.40" stroke="#b2b2b2" stroke-width="1" stroke-dasharray="14.5 5.1" shape-rendering="crispEdges"/>
<line x1="669.77" y1="1554.70" x2="669.77" y2="2067.40" stroke="#222" stroke-width="1" stroke-dasharray="1 38" shape-rendering="crispEdges"/>
<line x1="741.93" y1="1526.20" x2="741.93" y2="2067.40" stroke="#b2b2b2" stroke-width="1" stroke-dasharray="14.5 5.1" shape-rendering="crispEdges"/>
<line x1="741.93" y1="1554.70" x2="741.93" y2="2067.40" stroke="#222" stroke-width="1" stroke-dasharray="1 38" shape-rendering="crispEdges"/>
<line x1="814.10" y1="1526.20" x2="814.10" y2="2067.40" stroke="#b2b2b2" stroke-width="1" stroke-dasharray="14.5 5.1" shape-rendering="crispEdges"/>
<line x1="814.10" y1="1554.70" x2="814.10" y2="2067.40" stroke="#222" stroke-width="1" stroke-dasharray="1 38" shape-rendering="crispEdges"/>
<line x1="886.27" y1="1526.20" x2="886.27" y2="2067.40" stroke="#b2b2b2" stroke-width="1" stroke-dasharray="14.5 5.1" shape-rendering="crispEdges"/>
<line x1="886.27" y1="1554.70" x2="886.27" y2="2067.40" stroke="#222" stroke-width="1" stroke-dasharray="1 38" shape-rendering="crispEdges"/>
<line x1="958.43" y1="1526.20" x2="958.43" y2="2067.40" stroke="#b2b2b2" stroke-width="1" stroke-dasharray="14.5 5.1" shape-rendering="crispEdges"/>
<line x1="958.43" y1="1554.70" x2="958.43" y2="2067.40" stroke="#222" stroke-width="1" stroke-dasharray="1 38" shape-rendering="crispEdges"/>
<line x1="1030.60" y1="1526.20" x2="1030.60" y2="2067.40" stroke="#b2b2b2" stroke-width="1" stroke-dasharray="14.5 5.1" shape-rendering="crispEdges"/>
<line x1="1030.60" y1="1554.70" x2="1030.60" y2="2067.40" stroke="#222" stroke-width="1" stroke-dasharray="1 38" shape-rendering="crispEdges"/>
<line x1="597.60" y1="1658.00" x2="1030.60" y2="1658.00" stroke="#b2b2b2" stroke-width="1" stroke-dasharray="14.5 5.1" shape-rendering="crispEdges"/>
<line x1="621.60" y1="1658.00" x2="1030.60" y2="1658.00" stroke="#222" stroke-width="1" stroke-dasharray="1 38" shape-rendering="crispEdges"/>
<line x1="597.60" y1="1792.80" x2="1030.60" y2="1792.80" stroke="#b2b2b2" stroke-width="1" stroke-dasharray="14.5 5.1" shape-rendering="crispEdges"/>
<line x1="621.60" y1="1792.80" x2="1030.60" y2="1792.80" stroke="#222" stroke-width="1" stroke-dasharray="1 38" shape-rendering="crispEdges"/>
<line x1="597.60" y1="1927.60" x2="1030.60" y2="1927.60" stroke="#b2b2b2" stroke-width="1" stroke-dasharray="14.5 5.1" shape-rendering="crispEdges"/>
<line x1="621.60" y1="1927.60" x2="1030.60" y2="1927.60" stroke="#222" stroke-width="1" stroke-dasharray="1 38" shape-rendering="crispEdges"/>
<line x1="597.60" y1="2062.40" x2="1030.60" y2="2062.40" stroke="#b2b2b2" stroke-width="1" stroke-dasharray="14.5 5.1" shape-rendering="crispEdges"/>
<line x1="621.60" y1="2062.40" x2="1030.60" y2="2062.40" stroke="#222" stroke-width="1" stroke-dasharray="1 38" shape-rendering="crispEdges"/>
<line x1="952.66" y1="1523.20" x2="952.66" y2="2064.40" stroke="#808080" stroke-width="3" />
<g fill="none" stroke="#66cdc8" stroke-width="2"><path d="M708.4 1738.9 L854.0 1792.8 L885.7 1818.4 L880.9 1860.2 L918.7 1927.6 L948.1 1995.0 L942.2 2062.4" fill="none" stroke-width="1.8" stroke-linejoin="round"/><circle cx="708.4" cy="1738.9" r="6.8"/><circle cx="854.0" cy="1792.8" r="6.8"/><circle cx="885.7" cy="1818.4" r="6.8"/><circle cx="880.9" cy="1860.2" r="6.8"/><circle cx="918.7" cy="1927.6" r="6.8"/><circle cx="948.1" cy="1995.0" r="6.8"/><circle cx="942.2" cy="2062.4" r="6.8"/></g>
<g fill="none" stroke="#6495ed" stroke-width="2"><path d="M889.2 1658.3 L889.2 1685.0 L902.3 1710.0 L919.3 1738.9 L927.8 1765.8 L917.8 1792.8 L927.8 1860.2 L931.4 1954.6 L926.0 2062.4" fill="none" stroke-width="1.8" stroke-linejoin="round"/><circle cx="889.2" cy="1658.3" r="6.8"/><circle cx="889.2" cy="1685.0" r="6.8"/><circle cx="902.3" cy="1710.0" r="6.8"/><circle cx="919.3" cy="1738.9" r="6.8"/><circle cx="927.8" cy="1765.8" r="6.8"/><circle cx="917.8" cy="1792.8" r="6.8"/><circle cx="927.8" cy="1860.2" r="6.8"/><circle cx="931.4" cy="1954.6" r="6.8"/><circle cx="926.0" cy="2062.4" r="6.8"/></g>
<g fill="none" stroke="#0000e6" stroke-width="2"><path d="M938.6 1711.9 L902.5 1792.8 L938.0 1860.2 L931.4 1927.6 L929.6 2062.4" fill="none" stroke-width="1.8" stroke-linejoin="round"/><circle cx="938.6" cy="1711.9" r="6.8"/><circle cx="902.5" cy="1792.8" r="6.8"/><circle cx="938.0" cy="1860.2" r="6.8"/><circle cx="931.4" cy="1927.6" r="6.8"/><circle cx="929.6" cy="2062.4" r="6.8"/></g>
<g fill="none" stroke="#0a7ab4" stroke-width="2"><path d="M898.9 1792.8 L875.1 1860.2 L884.5 1927.6 L906.1 2062.4" fill="none" stroke-width="1.8" stroke-linejoin="round"/><circle cx="898.9" cy="1792.8" r="6.8"/><circle cx="875.1" cy="1860.2" r="6.8"/><circle cx="884.5" cy="1927.6" r="6.8"/><circle cx="906.1" cy="2062.4" r="6.8"/></g>
<g fill="none" stroke="#66cdc8" stroke-width="2"><path d="M756.2 1712.7 L707.7 1734.8 L882.7 1744.3 L939.5 1879.1 L924.2 2011.2" fill="none" stroke-width="1.8" stroke-linejoin="round"/><path d="M756.2 1703.7l7.3 13.2h-14.6z"/><path d="M707.7 1725.8l7.3 13.2h-14.6z"/><path d="M882.7 1735.3l7.3 13.2h-14.6z"/><path d="M939.5 1870.1l7.3 13.2h-14.6z"/><path d="M924.2 2002.2l7.3 13.2h-14.6z"/></g>
<g fill="none" stroke="#6495ed" stroke-width="2"><path d="M907.4 1578.2 L908.8 1588.7 L897.1 1601.7 L920.5 1630.5 L922.3 1656.7 L929.6 1683.9 L931.0 1707.3 L929.6 1738.9 L931.4 1844.0 L936.8 2007.4 L931.4 2061.3" fill="none" stroke-width="1.8" stroke-linejoin="round"/><path d="M907.4 1569.2l7.3 13.2h-14.6z"/><path d="M908.8 1579.7l7.3 13.2h-14.6z"/><path d="M897.1 1592.7l7.3 13.2h-14.6z"/><path d="M920.5 1621.5l7.3 13.2h-14.6z"/><path d="M922.3 1647.7l7.3 13.2h-14.6z"/><path d="M929.6 1674.9l7.3 13.2h-14.6z"/><path d="M931.0 1698.3l7.3 13.2h-14.6z"/><path d="M929.6 1729.9l7.3 13.2h-14.6z"/><path d="M931.4 1835.0l7.3 13.2h-14.6z"/><path d="M936.8 1998.4l7.3 13.2h-14.6z"/><path d="M931.4 2052.3l7.3 13.2h-14.6z"/></g>
<g fill="none" stroke="#0000e6" stroke-width="2"><path d="M872.7 1725.4 L895.3 1792.8 L895.3 1927.6 L902.9 2062.4" fill="none" stroke-width="1.8" stroke-linejoin="round"/><rect x="868.2" y="1720.9" width="9" height="9"/><rect x="890.8" y="1788.3" width="9" height="9"/><rect x="890.8" y="1923.1" width="9" height="9"/><rect x="898.4" y="2057.9" width="9" height="9"/></g>
<g fill="none" stroke="#0a7ab4" stroke-width="2"><path d="M869.1 1725.4 L869.7 1738.9 L889.9 1755.1 L913.3 1792.8 L915.1 1927.6 L926.0 2062.4" fill="none" stroke-width="1.8" stroke-linejoin="round"/><rect x="862.6" y="1718.9" width="13" height="13"/><rect x="863.2" y="1732.4" width="13" height="13"/><rect x="883.4" y="1748.6" width="13" height="13"/><rect x="906.8" y="1786.3" width="13" height="13"/><rect x="908.6" y="1921.1" width="13" height="13"/><rect x="919.5" y="2055.9" width="13" height="13"/></g>
<g fill="none" stroke="#ff8080" stroke-width="2"><path d="M846.2 1765.8 L895.3 1779.3 L907.9 1792.8 L893.5 1821.9 L907.9 1843.5 L915.1 1873.7 L909.7 1902.3 L898.9 1926.8 L904.3 1953.2 L915.1 2007.4 L913.3 2059.2" fill="none" stroke-width="1.8" stroke-linejoin="round"/><path d="M846.2 1756.8l7.3 13.2h-14.6z"/><path d="M895.3 1770.3l7.3 13.2h-14.6z"/><path d="M907.9 1783.8l7.3 13.2h-14.6z"/><path d="M893.5 1812.9l7.3 13.2h-14.6z"/><path d="M907.9 1834.5l7.3 13.2h-14.6z"/><path d="M915.1 1864.7l7.3 13.2h-14.6z"/><path d="M909.7 1893.3l7.3 13.2h-14.6z"/><path d="M898.9 1917.8l7.3 13.2h-14.6z"/><path d="M904.3 1944.2l7.3 13.2h-14.6z"/><path d="M915.1 1998.4l7.3 13.2h-14.6z"/><path d="M913.3 2050.2l7.3 13.2h-14.6z"/></g>
<g fill="none" stroke="#ff80ff" stroke-width="2"><path d="M854.0 1669.6 L820.6 1687.7 L904.8 1695.7 L914.1 1738.9 L931.0 1764.8 L926.0 1814.4 L918.7 1875.8 L918.7 1900.6 L916.9 1981.5 L929.6 2062.4" fill="none" stroke-width="1.8" stroke-linejoin="round"/><path d="M854.0 1660.6l7.3 13.2h-14.6z"/><path d="M820.6 1678.7l7.3 13.2h-14.6z"/><path d="M904.8 1686.7l7.3 13.2h-14.6z"/><path d="M914.1 1729.9l7.3 13.2h-14.6z"/><path d="M931.0 1755.8l7.3 13.2h-14.6z"/><path d="M926.0 1805.4l7.3 13.2h-14.6z"/><path d="M918.7 1866.8l7.3 13.2h-14.6z"/><path d="M918.7 1891.6l7.3 13.2h-14.6z"/><path d="M916.9 1972.5l7.3 13.2h-14.6z"/><path d="M929.6 2053.4l7.3 13.2h-14.6z"/></g>
<g fill="#ff80c0" stroke="#ff0000" stroke-width="2"><path d="M676.4 1630.5 L763.2 1642.1 L865.7 1658.0 L869.7 1668.2 L886.6 1683.9 L893.1 1710.0 L899.6 1736.2 L923.1 1763.4 L931.4 1791.7 L933.2 1817.1 L931.7 1842.9 L938.0 1864.8 L936.2 1897.9 L943.6 1916.8 L943.6 1948.1 L942.6 1976.1 L939.9 2007.4" fill="none" stroke-width="2.2" stroke-linejoin="round"/><path d="M676.4 1621.5l7.3 13.2h-14.6z"/><path d="M763.2 1633.1l7.3 13.2h-14.6z"/><path d="M865.7 1649.0l7.3 13.2h-14.6z"/><path d="M869.7 1659.2l7.3 13.2h-14.6z"/><path d="M886.6 1674.9l7.3 13.2h-14.6z"/><path d="M893.1 1701.0l7.3 13.2h-14.6z"/><path d="M899.6 1727.2l7.3 13.2h-14.6z"/><path d="M923.1 1754.4l7.3 13.2h-14.6z"/><path d="M931.4 1782.7l7.3 13.2h-14.6z"/><path d="M933.2 1808.1l7.3 13.2h-14.6z"/><path d="M931.7 1833.9l7.3 13.2h-14.6z"/><path d="M938.0 1855.8l7.3 13.2h-14.6z"/><path d="M936.2 1888.9l7.3 13.2h-14.6z"/><path d="M943.6 1907.8l7.3 13.2h-14.6z"/><path d="M943.6 1939.1l7.3 13.2h-14.6z"/><path d="M942.6 1967.1l7.3 13.2h-14.6z"/><path d="M939.9 1998.4l7.3 13.2h-14.6z"/></g>
<g fill="#ff8080" stroke="#ff0000" stroke-width="2"><path d="M820.1 1738.9 L890.4 1751.8 L903.6 1764.8 L924.2 1792.8 L911.5 1927.6 L939.9 2062.4" fill="none" stroke-width="2.2" stroke-linejoin="round"/><rect x="813.6" y="1732.4" width="13" height="13"/><rect x="883.9" y="1745.3" width="13" height="13"/><rect x="897.1" y="1758.3" width="13" height="13"/><rect x="917.7" y="1786.3" width="13" height="13"/><rect x="905.0" y="1921.1" width="13" height="13"/><rect x="933.4" y="2055.9" width="13" height="13"/></g>
<g fill="#ff8080" stroke="#ff0000" stroke-width="2"><path d="M830.5 1738.9 L893.1 1751.8 L904.8 1764.8 L906.1 1778.0 L951.8 1792.8 L924.3 1819.2 L900.7 1844.8 L904.3 1873.7 L902.1 1900.6 L904.3 1927.6 L871.5 1994.5 L907.9 2062.4" fill="none" stroke-width="2.2" stroke-linejoin="round"/><path d="M830.5 1730.1l8.8 8.8l-8.8 8.8l-8.8 -8.8z"/><path d="M893.1 1743.0l8.8 8.8l-8.8 8.8l-8.8 -8.8z"/><path d="M904.8 1756.0l8.8 8.8l-8.8 8.8l-8.8 -8.8z"/><path d="M906.1 1769.2l8.8 8.8l-8.8 8.8l-8.8 -8.8z"/><path d="M951.8 1784.0l8.8 8.8l-8.8 8.8l-8.8 -8.8z"/><path d="M924.3 1810.4l8.8 8.8l-8.8 8.8l-8.8 -8.8z"/><path d="M900.7 1836.0l8.8 8.8l-8.8 8.8l-8.8 -8.8z"/><path d="M904.3 1864.9l8.8 8.8l-8.8 8.8l-8.8 -8.8z"/><path d="M902.1 1891.8l8.8 8.8l-8.8 8.8l-8.8 -8.8z"/><path d="M904.3 1918.8l8.8 8.8l-8.8 8.8l-8.8 -8.8z"/><path d="M871.5 1985.7l8.8 8.8l-8.8 8.8l-8.8 -8.8z"/><path d="M907.9 2053.6l8.8 8.8l-8.8 8.8l-8.8 -8.8z"/></g>
<g fill="none" stroke="#ff00ff" stroke-width="2"><path d="M861.2 1658.3 L874.9 1725.4 L897.1 1792.8 L888.1 1927.6 L891.5 2062.4" fill="none" stroke-width="1.8" stroke-linejoin="round"/><rect x="854.7" y="1651.8" width="13" height="13"/><rect x="868.4" y="1718.9" width="13" height="13"/><rect x="890.6" y="1786.3" width="13" height="13"/><rect x="881.6" y="1921.1" width="13" height="13"/><rect x="885.0" y="2055.9" width="13" height="13"/></g>
<g fill="none" stroke="#ff8040" stroke-width="2"><path d="M828.4 1658.3 L875.4 1725.4 L909.7 1792.8 L878.7 1927.6 L909.7 2062.4" fill="none" stroke-width="1.8" stroke-linejoin="round"/><rect x="821.9" y="1651.8" width="13" height="13"/><rect x="868.9" y="1718.9" width="13" height="13"/><rect x="903.2" y="1786.3" width="13" height="13"/><rect x="872.2" y="1921.1" width="13" height="13"/><rect x="903.2" y="2055.9" width="13" height="13"/></g>
<g fill="none" stroke="#ffb040" stroke-width="2"><path d="M905.6 1725.4 L916.6 1792.8 L920.5 1927.6 L926.0 2062.4" fill="none" stroke-width="1.8" stroke-linejoin="round"/><rect x="899.1" y="1718.9" width="13" height="13"/><rect x="910.1" y="1786.3" width="13" height="13"/><rect x="914.0" y="1921.1" width="13" height="13"/><rect x="919.5" y="2055.9" width="13" height="13"/></g>
<g fill="none" stroke="#ff80c0" stroke-width="2"><path d="M885.4 1658.3 L873.6 1725.4 L909.7 1792.8 L931.4 1927.6 L911.5 2062.4" fill="none" stroke-width="1.8" stroke-linejoin="round"/><rect x="878.9" y="1651.8" width="13" height="13"/><rect x="867.1" y="1718.9" width="13" height="13"/><rect x="903.2" y="1786.3" width="13" height="13"/><rect x="924.9" y="1921.1" width="13" height="13"/><rect x="905.0" y="2055.9" width="13" height="13"/></g>
<g fill="none" stroke="#a02080" stroke-width="2"><path d="M841.0 1711.9 L903.6 1792.8 L925.2 2062.4" fill="none" stroke-width="1.8" stroke-linejoin="round"/><rect x="834.5" y="1705.4" width="13" height="13"/><rect x="897.1" y="1786.3" width="13" height="13"/><rect x="918.7" y="2055.9" width="13" height="13"/></g>
<g fill="none" stroke="#9acd32" stroke-width="2"><path d="M821.3 1792.8 L812.3 1806.3 L862.3 1833.8 L865.9 1846.7 L895.3 1860.2 L887.9 1873.7 L907.9 1900.6 L927.9 1927.6 L906.1 1954.6 L898.7 1981.5 L900.7 2008.5 L903.4 2034.6 L900.7 2062.4" fill="none" stroke-width="1.8" stroke-linejoin="round"/><path d="M821.3 1784.0l8.8 8.8l-8.8 8.8l-8.8 -8.8z"/><path d="M812.3 1797.5l8.8 8.8l-8.8 8.8l-8.8 -8.8z"/><path d="M862.3 1825.0l8.8 8.8l-8.8 8.8l-8.8 -8.8z"/><path d="M865.9 1837.9l8.8 8.8l-8.8 8.8l-8.8 -8.8z"/><path d="M895.3 1851.4l8.8 8.8l-8.8 8.8l-8.8 -8.8z"/><path d="M887.9 1864.9l8.8 8.8l-8.8 8.8l-8.8 -8.8z"/><path d="M907.9 1891.8l8.8 8.8l-8.8 8.8l-8.8 -8.8z"/><path d="M927.9 1918.8l8.8 8.8l-8.8 8.8l-8.8 -8.8z"/><path d="M906.1 1945.8l8.8 8.8l-8.8 8.8l-8.8 -8.8z"/><path d="M898.7 1972.7l8.8 8.8l-8.8 8.8l-8.8 -8.8z"/><path d="M900.7 1999.7l8.8 8.8l-8.8 8.8l-8.8 -8.8z"/><path d="M903.4 2025.8l8.8 8.8l-8.8 8.8l-8.8 -8.8z"/><path d="M900.7 2053.6l8.8 8.8l-8.8 8.8l-8.8 -8.8z"/></g>
<g fill="none" stroke="#228b22" stroke-width="2"><path d="M886.6 1725.4 L808.3 1751.8 L864.4 1792.8 L889.7 1814.4 L883.2 1860.2 L882.3 1927.6 L895.3 2062.4" fill="none" stroke-width="1.8" stroke-linejoin="round"/><path d="M886.6 1716.6l8.8 8.8l-8.8 8.8l-8.8 -8.8z"/><path d="M808.3 1743.0l8.8 8.8l-8.8 8.8l-8.8 -8.8z"/><path d="M864.4 1784.0l8.8 8.8l-8.8 8.8l-8.8 -8.8z"/><path d="M889.7 1805.6l8.8 8.8l-8.8 8.8l-8.8 -8.8z"/><path d="M883.2 1851.4l8.8 8.8l-8.8 8.8l-8.8 -8.8z"/><path d="M882.3 1918.8l8.8 8.8l-8.8 8.8l-8.8 -8.8z"/><path d="M895.3 2053.6l8.8 8.8l-8.8 8.8l-8.8 -8.8z"/></g>
<g fill="none" stroke="#00e600" stroke-width="2"><path d="M882.7 1792.8 L853.1 1814.4 L837.6 1860.2 L864.4 1927.6 L896.9 2062.4" fill="none" stroke-width="1.8" stroke-linejoin="round"/><path d="M882.7 1784.0l8.8 8.8l-8.8 8.8l-8.8 -8.8z"/><path d="M853.1 1805.6l8.8 8.8l-8.8 8.8l-8.8 -8.8z"/><path d="M837.6 1851.4l8.8 8.8l-8.8 8.8l-8.8 -8.8z"/><path d="M864.4 1918.8l8.8 8.8l-8.8 8.8l-8.8 -8.8z"/><path d="M896.9 2053.6l8.8 8.8l-8.8 8.8l-8.8 -8.8z"/></g>
<g fill="none" stroke="#b4c882" stroke-width="2"><path d="M822.8 1765.8 L890.4 1792.8 L887.9 1860.2 L889.7 1927.6 L898.7 2062.4" fill="none" stroke-width="1.8" stroke-linejoin="round"/><path d="M822.8 1757.0l8.8 8.8l-8.8 8.8l-8.8 -8.8z"/><path d="M890.4 1784.0l8.8 8.8l-8.8 8.8l-8.8 -8.8z"/><path d="M887.9 1851.4l8.8 8.8l-8.8 8.8l-8.8 -8.8z"/><path d="M889.7 1918.8l8.8 8.8l-8.8 8.8l-8.8 -8.8z"/><path d="M898.7 2053.6l8.8 8.8l-8.8 8.8l-8.8 -8.8z"/></g>
<g fill="none" stroke="#00ffff" stroke-width="2"><path d="M710.9 1725.4 L848.0 1744.5 L876.9 1792.8 L902.5 1860.2 L900.7 1927.6 L891.9 1994.5 L895.5 2062.4" fill="none" stroke-width="1.8" stroke-linejoin="round"/><path d="M710.9 1716.6l8.8 8.8l-8.8 8.8l-8.8 -8.8z"/><path d="M848.0 1735.7l8.8 8.8l-8.8 8.8l-8.8 -8.8z"/><path d="M876.9 1784.0l8.8 8.8l-8.8 8.8l-8.8 -8.8z"/><path d="M902.5 1851.4l8.8 8.8l-8.8 8.8l-8.8 -8.8z"/><path d="M900.7 1918.8l8.8 8.8l-8.8 8.8l-8.8 -8.8z"/><path d="M891.9 1985.7l8.8 8.8l-8.8 8.8l-8.8 -8.8z"/><path d="M895.5 2053.6l8.8 8.8l-8.8 8.8l-8.8 -8.8z"/></g>
<line x1="596.10" y1="1523.20" x2="1032.10" y2="1523.20" stroke="#000" stroke-width="3.4" />
<line x1="597.60" y1="1510.20" x2="597.60" y2="1523.20" stroke="#000" stroke-width="2.6" />
<line x1="612.03" y1="1514.70" x2="612.03" y2="1523.20" stroke="#000" stroke-width="2.4" />
<line x1="626.47" y1="1514.70" x2="626.47" y2="1523.20" stroke="#000" stroke-width="2.4" />
<line x1="640.90" y1="1514.70" x2="640.90" y2="1523.20" stroke="#000" stroke-width="2.4" />
<line x1="655.33" y1="1514.70" x2="655.33" y2="1523.20" stroke="#000" stroke-width="2.4" />
<line x1="669.77" y1="1510.20" x2="669.77" y2="1523.20" stroke="#000" stroke-width="2.6" />
<line x1="684.20" y1="1514.70" x2="684.20" y2="1523.20" stroke="#000" stroke-width="2.4" />
<line x1="698.63" y1="1514.70" x2="698.63" y2="1523.20" stroke="#000" stroke-width="2.4" />
<line x1="713.07" y1="1514.70" x2="713.07" y2="1523.20" stroke="#000" stroke-width="2.4" />
<line x1="727.50" y1="1514.70" x2="727.50" y2="1523.20" stroke="#000" stroke-width="2.4" />
<line x1="741.93" y1="1510.20" x2="741.93" y2="1523.20" stroke="#000" stroke-width="2.6" />
<line x1="756.37" y1="1514.70" x2="756.37" y2="1523.20" stroke="#000" stroke-width="2.4" />
<line x1="770.80" y1="1514.70" x2="770.80" y2="1523.20" stroke="#000" stroke-width="2.4" />
<line x1="785.23" y1="1514.70" x2="785.23" y2="1523.20" stroke="#000" stroke-width="2.4" />
<line x1="799.67" y1="1514.70" x2="799.67" y2="1523.20" stroke="#000" stroke-width="2.4" />
<line x1="814.10" y1="1510.20" x2="814.10" y2="1523.20" stroke="#000" stroke-width="2.6" />
<line x1="828.53" y1="1514.70" x2="828.53" y2="1523.20" stroke="#000" stroke-width="2.4" />
<line x1="842.97" y1="1514.70" x2="842.97" y2="1523.20" stroke="#000" stroke-width="2.4" />
<line x1="857.40" y1="1514.70" x2="857.40" y2="1523.20" stroke="#000" stroke-width="2.4" />
<line x1="871.83" y1="1514.70" x2="871.83" y2="1523.20" stroke="#000" stroke-width="2.4" />
<line x1="886.27" y1="1510.20" x2="886.27" y2="1523.20" stroke="#000" stroke-width="2.6" />
<line x1="900.70" y1="1514.70" x2="900.70" y2="1523.20" stroke="#000" stroke-width="2.4" />
<line x1="915.13" y1="1514.70" x2="915.13" y2="1523.20" stroke="#000" stroke-width="2.4" />
<line x1="929.57" y1="1514.70" x2="929.57" y2="1523.20" stroke="#000" stroke-width="2.4" />
<line x1="944.00" y1="1514.70" x2="944.00" y2="1523.20" stroke="#000" stroke-width="2.4" />
<line x1="958.43" y1="1510.20" x2="958.43" y2="1523.20" stroke="#000" stroke-width="2.6" />
<line x1="972.87" y1="1514.70" x2="972.87" y2="1523.20" stroke="#000" stroke-width="2.4" />
<line x1="987.30" y1="1514.70" x2="987.30" y2="1523.20" stroke="#000" stroke-width="2.4" />
<line x1="1001.73" y1="1514.70" x2="1001.73" y2="1523.20" stroke="#000" stroke-width="2.4" />
<line x1="1016.17" y1="1514.70" x2="1016.17" y2="1523.20" stroke="#000" stroke-width="2.4" />
<line x1="1030.60" y1="1510.20" x2="1030.60" y2="1523.20" stroke="#000" stroke-width="2.6" />
<text x="594.10" y="1495.50" font-family='"Liberation Serif","DejaVu Serif",serif' font-size="29" font-weight="bold" font-style="normal" fill="#000" text-anchor="middle" >-16</text>
<text x="666.27" y="1495.50" font-family='"Liberation Serif","DejaVu Serif",serif' font-size="29" font-weight="bold" font-style="normal" fill="#000" text-anchor="middle" >-12</text>
<text x="738.43" y="1495.50" font-family='"Liberation Serif","DejaVu Serif",serif' font-size="29" font-weight="bold" font-style="normal" fill="#000" text-anchor="middle" >-8</text>
<text x="810.60" y="1495.50" font-family='"Liberation Serif","DejaVu Serif",serif' font-size="29" font-weight="bold" font-style="normal" fill="#000" text-anchor="middle" >-4</text>
<text x="886.27" y="1495.50" font-family='"Liberation Serif","DejaVu Serif",serif' font-size="29" font-weight="bold" font-style="normal" fill="#000" text-anchor="middle" >0</text>
<text x="958.43" y="1495.50" font-family='"Liberation Serif","DejaVu Serif",serif' font-size="29" font-weight="bold" font-style="normal" fill="#000" text-anchor="middle" >4</text>
<text x="1030.60" y="1495.50" font-family='"Liberation Serif","DejaVu Serif",serif' font-size="29" font-weight="bold" font-style="normal" fill="#000" text-anchor="middle" >8</text>
<text x="1005.00" y="1554.00" font-family='"Liberation Serif","DejaVu Serif",serif' font-size="28" font-weight="bold" font-style="normal" fill="#000" text-anchor="middle" >G</text>
<text x="812.50" y="1436.50" font-family='"Liberation Serif","DejaVu Serif",serif' font-size="29.5" font-weight="bold" font-style="normal" fill="#000" text-anchor="middle" >Δ(15-18) (‰)</text>
</g>
<g id="panelH">
<line x1="1068.40" y1="1526.20" x2="1068.40" y2="2067.40" stroke="#b2b2b2" stroke-width="1" stroke-dasharray="14.5 5.1" shape-rendering="crispEdges"/>
<line x1="1068.40" y1="1554.70" x2="1068.40" y2="2067.40" stroke="#222" stroke-width="1" stroke-dasharray="1 38" shape-rendering="crispEdges"/>
<line x1="1154.96" y1="1526.20" x2="1154.96" y2="2067.40" stroke="#b2b2b2" stroke-width="1" stroke-dasharray="14.5 5.1" shape-rendering="crispEdges"/>
<line x1="1154.96" y1="1554.70" x2="1154.96" y2="2067.40" stroke="#222" stroke-width="1" stroke-dasharray="1 38" shape-rendering="crispEdges"/>
<line x1="1241.52" y1="1526.20" x2="1241.52" y2="2067.40" stroke="#b2b2b2" stroke-width="1" stroke-dasharray="14.5 5.1" shape-rendering="crispEdges"/>
<line x1="1241.52" y1="1554.70" x2="1241.52" y2="2067.40" stroke="#222" stroke-width="1" stroke-dasharray="1 38" shape-rendering="crispEdges"/>
<line x1="1328.08" y1="1526.20" x2="1328.08" y2="2067.40" stroke="#b2b2b2" stroke-width="1" stroke-dasharray="14.5 5.1" shape-rendering="crispEdges"/>
<line x1="1328.08" y1="1554.70" x2="1328.08" y2="2067.40" stroke="#222" stroke-width="1" stroke-dasharray="1 38" shape-rendering="crispEdges"/>
<line x1="1414.64" y1="1526.20" x2="1414.64" y2="2067.40" stroke="#b2b2b2" stroke-width="1" stroke-dasharray="14.5 5.1" shape-rendering="crispEdges"/>
<line x1="1414.64" y1="1554.70" x2="1414.64" y2="2067.40" stroke="#222" stroke-width="1" stroke-dasharray="1 38" shape-rendering="crispEdges"/>
<line x1="1501.20" y1="1526.20" x2="1501.20" y2="2067.40" stroke="#b2b2b2" stroke-width="1" stroke-dasharray="14.5 5.1" shape-rendering="crispEdges"/>
<line x1="1501.20" y1="1554.70" x2="1501.20" y2="2067.40" stroke="#222" stroke-width="1" stroke-dasharray="1 38" shape-rendering="crispEdges"/>
<line x1="1068.40" y1="1658.00" x2="1501.20" y2="1658.00" stroke="#b2b2b2" stroke-width="1" stroke-dasharray="14.5 5.1" shape-rendering="crispEdges"/>
<line x1="1092.40" y1="1658.00" x2="1501.20" y2="1658.00" stroke="#222" stroke-width="1" stroke-dasharray="1 38" shape-rendering="crispEdges"/>
<line x1="1068.40" y1="1792.80" x2="1501.20" y2="1792.80" stroke="#b2b2b2" stroke-width="1" stroke-dasharray="14.5 5.1" shape-rendering="crispEdges"/>
<line x1="1092.40" y1="1792.80" x2="1501.20" y2="1792.80" stroke="#222" stroke-width="1" stroke-dasharray="1 38" shape-rendering="crispEdges"/>
<line x1="1068.40" y1="1927.60" x2="1501.20" y2="1927.60" stroke="#b2b2b2" stroke-width="1" stroke-dasharray="14.5 5.1" shape-rendering="crispEdges"/>
<line x1="1092.40" y1="1927.60" x2="1501.20" y2="1927.60" stroke="#222" stroke-width="1" stroke-dasharray="1 38" shape-rendering="crispEdges"/>
<line x1="1068.40" y1="2062.40" x2="1501.20" y2="2062.40" stroke="#b2b2b2" stroke-width="1" stroke-dasharray="14.5 5.1" shape-rendering="crispEdges"/>
<line x1="1092.40" y1="2062.40" x2="1501.20" y2="2062.40" stroke="#222" stroke-width="1" stroke-dasharray="1 38" shape-rendering="crispEdges"/>
<g fill="none" stroke="#66cdc8" stroke-width="2"><path d="M1375.7 1792.8 L1384.3 1819.8 L1388.7 1927.6 L1382.2 1995.0 L1377.9 2062.4" fill="none" stroke-width="1.8" stroke-linejoin="round"/><circle cx="1375.7" cy="1792.8" r="6.8"/><circle cx="1384.3" cy="1819.8" r="6.8"/><circle cx="1388.7" cy="1927.6" r="6.8"/><circle cx="1382.2" cy="1995.0" r="6.8"/><circle cx="1377.9" cy="2062.4" r="6.8"/></g>
<g fill="none" stroke="#6495ed" stroke-width="2"><path d="M1342.1 1685.5 L1469.6 1711.7 L1414.0 1738.6 L1399.1 1765.0 L1426.3 1792.8 L1453.4 1873.7 L1409.9 1954.6 L1414.4 2062.4" fill="none" stroke-width="1.8" stroke-linejoin="round"/><circle cx="1342.1" cy="1685.5" r="6.8"/><circle cx="1469.6" cy="1711.7" r="6.8"/><circle cx="1414.0" cy="1738.6" r="6.8"/><circle cx="1399.1" cy="1765.0" r="6.8"/><circle cx="1426.3" cy="1792.8" r="6.8"/><circle cx="1453.4" cy="1873.7" r="6.8"/><circle cx="1409.9" cy="1954.6" r="6.8"/><circle cx="1414.4" cy="2062.4" r="6.8"/></g>
<g fill="none" stroke="#0000e6" stroke-width="2"><path d="M1397.3 1711.9 L1427.6 1792.8 L1417.2 1860.2 L1416.2 1927.6 L1405.3 2062.4" fill="none" stroke-width="1.8" stroke-linejoin="round"/><circle cx="1397.3" cy="1711.9" r="6.8"/><circle cx="1427.6" cy="1792.8" r="6.8"/><circle cx="1417.2" cy="1860.2" r="6.8"/><circle cx="1416.2" cy="1927.6" r="6.8"/><circle cx="1405.3" cy="2062.4" r="6.8"/></g>
<g fill="none" stroke="#0a7ab4" stroke-width="2"><path d="M1421.1 1792.8 L1425.5 1860.2 L1436.1 1927.6 L1402.5 2062.4" fill="none" stroke-width="1.8" stroke-linejoin="round"/><circle cx="1421.1" cy="1792.8" r="6.8"/><circle cx="1425.5" cy="1860.2" r="6.8"/><circle cx="1436.1" cy="1927.6" r="6.8"/><circle cx="1402.5" cy="2062.4" r="6.8"/></g>
<g fill="none" stroke="#66cdc8" stroke-width="2"><path d="M1163.6 1712.5 L1342.1 1733.5 L1360.5 1760.4 L1393.0 1879.1 L1384.3 2013.9" fill="none" stroke-width="1.8" stroke-linejoin="round"/><path d="M1163.6 1703.5l7.3 13.2h-14.6z"/><path d="M1342.1 1724.5l7.3 13.2h-14.6z"/><path d="M1360.5 1751.4l7.3 13.2h-14.6z"/><path d="M1393.0 1870.1l7.3 13.2h-14.6z"/><path d="M1384.3 2004.9l7.3 13.2h-14.6z"/></g>
<g fill="none" stroke="#6495ed" stroke-width="2"><path d="M1164.9 1577.4 L1342.1 1587.4 L1375.0 1600.0 L1423.1 1629.4 L1390.0 1655.6 L1394.5 1682.5 L1369.2 1704.9 L1405.1 1736.5 L1403.8 1844.0 L1409.9 2011.2 L1399.5 2061.3" fill="none" stroke-width="1.8" stroke-linejoin="round"/><path d="M1164.9 1568.4l7.3 13.2h-14.6z"/><path d="M1342.1 1578.4l7.3 13.2h-14.6z"/><path d="M1375.0 1591.0l7.3 13.2h-14.6z"/><path d="M1423.1 1620.4l7.3 13.2h-14.6z"/><path d="M1390.0 1646.6l7.3 13.2h-14.6z"/><path d="M1394.5 1673.5l7.3 13.2h-14.6z"/><path d="M1369.2 1695.9l7.3 13.2h-14.6z"/><path d="M1405.1 1727.5l7.3 13.2h-14.6z"/><path d="M1403.8 1835.0l7.3 13.2h-14.6z"/><path d="M1409.9 2002.2l7.3 13.2h-14.6z"/><path d="M1399.5 2052.3l7.3 13.2h-14.6z"/></g>
<g fill="none" stroke="#0000e6" stroke-width="2"><path d="M1291.1 1725.4 L1348.0 1792.8 L1356.2 1927.6 L1356.9 2062.4" fill="none" stroke-width="1.8" stroke-linejoin="round"/><rect x="1286.6" y="1720.9" width="9" height="9"/><rect x="1343.5" y="1788.3" width="9" height="9"/><rect x="1351.7" y="1923.1" width="9" height="9"/><rect x="1352.4" y="2057.9" width="9" height="9"/></g>
<g fill="none" stroke="#0a7ab4" stroke-width="2"><path d="M1118.0 1699.0 L1079.0 1712.5 L1124.4 1725.4 L1130.5 1738.6 L1228.1 1753.2 L1316.6 1792.8 L1359.7 1927.6 L1380.0 2062.4" fill="none" stroke-width="1.8" stroke-linejoin="round"/><rect x="1111.5" y="1692.5" width="13" height="13"/><rect x="1072.5" y="1706.0" width="13" height="13"/><rect x="1117.9" y="1718.9" width="13" height="13"/><rect x="1124.0" y="1732.1" width="13" height="13"/><rect x="1221.6" y="1746.7" width="13" height="13"/><rect x="1310.1" y="1786.3" width="13" height="13"/><rect x="1353.2" y="1921.1" width="13" height="13"/><rect x="1373.5" y="2055.9" width="13" height="13"/></g>
<g fill="none" stroke="#ff8080" stroke-width="2"><path d="M1204.1 1766.6 L1328.1 1779.3 L1360.5 1792.8 L1367.9 1817.1 L1369.6 1842.9 L1373.5 1873.7 L1377.0 1901.4 L1375.7 1926.8 L1377.9 1954.6 L1373.5 2006.6 L1369.2 2059.2" fill="none" stroke-width="1.8" stroke-linejoin="round"/><path d="M1204.1 1757.6l7.3 13.2h-14.6z"/><path d="M1328.1 1770.3l7.3 13.2h-14.6z"/><path d="M1360.5 1783.8l7.3 13.2h-14.6z"/><path d="M1367.9 1808.1l7.3 13.2h-14.6z"/><path d="M1369.6 1833.9l7.3 13.2h-14.6z"/><path d="M1373.5 1864.7l7.3 13.2h-14.6z"/><path d="M1377.0 1892.4l7.3 13.2h-14.6z"/><path d="M1375.7 1917.8l7.3 13.2h-14.6z"/><path d="M1377.9 1945.6l7.3 13.2h-14.6z"/><path d="M1373.5 1997.6l7.3 13.2h-14.6z"/><path d="M1369.2 2050.2l7.3 13.2h-14.6z"/></g>
<g fill="none" stroke="#ff80ff" stroke-width="2"><path d="M1119.9 1670.4 L1273.1 1687.1 L1331.5 1696.0 L1355.6 1711.1 L1384.3 1738.9 L1396.0 1765.0 L1401.7 1814.4 L1413.6 1844.8 L1399.5 1876.4 L1393.0 1900.6 L1384.3 1981.5 L1382.2 2062.4" fill="none" stroke-width="1.8" stroke-linejoin="round"/><path d="M1119.9 1661.4l7.3 13.2h-14.6z"/><path d="M1273.1 1678.1l7.3 13.2h-14.6z"/><path d="M1331.5 1687.0l7.3 13.2h-14.6z"/><path d="M1355.6 1702.1l7.3 13.2h-14.6z"/><path d="M1384.3 1729.9l7.3 13.2h-14.6z"/><path d="M1396.0 1756.0l7.3 13.2h-14.6z"/><path d="M1401.7 1805.4l7.3 13.2h-14.6z"/><path d="M1413.6 1835.8l7.3 13.2h-14.6z"/><path d="M1399.5 1867.4l7.3 13.2h-14.6z"/><path d="M1393.0 1891.6l7.3 13.2h-14.6z"/><path d="M1384.3 1972.5l7.3 13.2h-14.6z"/><path d="M1382.2 2053.4l7.3 13.2h-14.6z"/></g>
<g fill="#ff80c0" stroke="#ff0000" stroke-width="2"><path d="M1132.7 1629.4 L1174.0 1642.1 L1295.0 1658.0 L1383.5 1668.5 L1346.5 1682.5 L1370.5 1708.1 L1370.5 1736.5 L1377.9 1763.1 L1382.2 1791.7 L1386.5 1817.1 L1388.7 1843.2 L1393.4 1868.3 L1388.7 1897.9 L1384.3 1919.5 L1384.3 1954.6 L1382.2 1976.1 L1397.1 2008.5" fill="none" stroke-width="2.2" stroke-linejoin="round"/><path d="M1132.7 1620.4l7.3 13.2h-14.6z"/><path d="M1174.0 1633.1l7.3 13.2h-14.6z"/><path d="M1295.0 1649.0l7.3 13.2h-14.6z"/><path d="M1383.5 1659.5l7.3 13.2h-14.6z"/><path d="M1346.5 1673.5l7.3 13.2h-14.6z"/><path d="M1370.5 1699.1l7.3 13.2h-14.6z"/><path d="M1370.5 1727.5l7.3 13.2h-14.6z"/><path d="M1377.9 1754.1l7.3 13.2h-14.6z"/><path d="M1382.2 1782.7l7.3 13.2h-14.6z"/><path d="M1386.5 1808.1l7.3 13.2h-14.6z"/><path d="M1388.7 1834.2l7.3 13.2h-14.6z"/><path d="M1393.4 1859.3l7.3 13.2h-14.6z"/><path d="M1388.7 1888.9l7.3 13.2h-14.6z"/><path d="M1384.3 1910.5l7.3 13.2h-14.6z"/><path d="M1384.3 1945.6l7.3 13.2h-14.6z"/><path d="M1382.2 1967.1l7.3 13.2h-14.6z"/><path d="M1397.1 1999.5l7.3 13.2h-14.6z"/></g>
<g fill="#ff8080" stroke="#ff0000" stroke-width="2"><path d="M1202.6 1738.9 L1291.1 1753.2 L1362.7 1765.8 L1377.9 1792.8 L1388.0 1927.6 L1371.4 2062.4" fill="none" stroke-width="2.2" stroke-linejoin="round"/><rect x="1196.1" y="1732.4" width="13" height="13"/><rect x="1284.6" y="1746.7" width="13" height="13"/><rect x="1356.2" y="1759.3" width="13" height="13"/><rect x="1371.4" y="1786.3" width="13" height="13"/><rect x="1381.5" y="1921.1" width="13" height="13"/><rect x="1364.9" y="2055.9" width="13" height="13"/></g>
<g fill="#ff8080" stroke="#ff0000" stroke-width="2"><path d="M1195.6 1738.6 L1375.0 1753.2 L1381.1 1765.6 L1382.6 1778.5 L1384.3 1792.8 L1391.5 1819.2 L1389.8 1845.6 L1369.6 1873.7 L1391.5 1900.6 L1388.0 1927.6 L1370.5 1995.0 L1386.1 2062.4" fill="none" stroke-width="2.2" stroke-linejoin="round"/><path d="M1195.6 1729.8l8.8 8.8l-8.8 8.8l-8.8 -8.8z"/><path d="M1375.0 1744.4l8.8 8.8l-8.8 8.8l-8.8 -8.8z"/><path d="M1381.1 1756.8l8.8 8.8l-8.8 8.8l-8.8 -8.8z"/><path d="M1382.6 1769.7l8.8 8.8l-8.8 8.8l-8.8 -8.8z"/><path d="M1384.3 1784.0l8.8 8.8l-8.8 8.8l-8.8 -8.8z"/><path d="M1391.5 1810.4l8.8 8.8l-8.8 8.8l-8.8 -8.8z"/><path d="M1389.8 1836.8l8.8 8.8l-8.8 8.8l-8.8 -8.8z"/><path d="M1369.6 1864.9l8.8 8.8l-8.8 8.8l-8.8 -8.8z"/><path d="M1391.5 1891.8l8.8 8.8l-8.8 8.8l-8.8 -8.8z"/><path d="M1388.0 1918.8l8.8 8.8l-8.8 8.8l-8.8 -8.8z"/><path d="M1370.5 1986.2l8.8 8.8l-8.8 8.8l-8.8 -8.8z"/><path d="M1386.1 2053.6l8.8 8.8l-8.8 8.8l-8.8 -8.8z"/></g>
<g fill="none" stroke="#ff00ff" stroke-width="2"><path d="M1232.4 1658.5 L1323.5 1725.9 L1408.1 1792.8 L1390.8 1927.6 L1386.1 2062.4" fill="none" stroke-width="1.8" stroke-linejoin="round"/><rect x="1225.9" y="1652.0" width="13" height="13"/><rect x="1317.0" y="1719.4" width="13" height="13"/><rect x="1401.6" y="1786.3" width="13" height="13"/><rect x="1384.3" y="1921.1" width="13" height="13"/><rect x="1379.6" y="2055.9" width="13" height="13"/></g>
<g fill="none" stroke="#ff8040" stroke-width="2"><path d="M1247.6 1658.5 L1364.7 1725.9 L1371.4 1792.8 L1349.5 1927.6 L1375.7 2062.4" fill="none" stroke-width="1.8" stroke-linejoin="round"/><rect x="1241.1" y="1652.0" width="13" height="13"/><rect x="1358.2" y="1719.4" width="13" height="13"/><rect x="1364.9" y="1786.3" width="13" height="13"/><rect x="1343.0" y="1921.1" width="13" height="13"/><rect x="1369.2" y="2055.9" width="13" height="13"/></g>
<g fill="none" stroke="#ffb040" stroke-width="2"><path d="M1369.2 1725.9 L1380.0 1792.8 L1380.0 1927.6 L1380.0 2062.4" fill="none" stroke-width="1.8" stroke-linejoin="round"/><rect x="1362.7" y="1719.4" width="13" height="13"/><rect x="1373.5" y="1786.3" width="13" height="13"/><rect x="1373.5" y="1921.1" width="13" height="13"/><rect x="1373.5" y="2055.9" width="13" height="13"/></g>
<g fill="none" stroke="#ff80c0" stroke-width="2"><path d="M1141.5 1658.5 L1375.0 1725.9 L1388.7 1792.8 L1362.7 1927.6 L1375.7 2062.4" fill="none" stroke-width="1.8" stroke-linejoin="round"/><rect x="1135.0" y="1652.0" width="13" height="13"/><rect x="1368.5" y="1719.4" width="13" height="13"/><rect x="1382.2" y="1786.3" width="13" height="13"/><rect x="1356.2" y="1921.1" width="13" height="13"/><rect x="1369.2" y="2055.9" width="13" height="13"/></g>
<g fill="none" stroke="#a02080" stroke-width="2"><path d="M1224.2 1712.5 L1349.5 1792.8 L1371.4 2062.4" fill="none" stroke-width="1.8" stroke-linejoin="round"/><rect x="1217.7" y="1706.0" width="13" height="13"/><rect x="1343.0" y="1786.3" width="13" height="13"/><rect x="1364.9" y="2055.9" width="13" height="13"/></g>
<g fill="none" stroke="#9acd32" stroke-width="2"><path d="M1303.8 1792.8 L1327.6 1807.4 L1404.5 1833.8 L1398.8 1846.7 L1410.7 1860.2 L1414.4 1873.7 L1412.5 1900.6 L1400.8 1927.6 L1409.9 1954.6 L1400.8 1981.0 L1398.8 2008.5 L1397.1 2035.4 L1395.2 2062.4" fill="none" stroke-width="1.8" stroke-linejoin="round"/><path d="M1303.8 1784.0l8.8 8.8l-8.8 8.8l-8.8 -8.8z"/><path d="M1327.6 1798.6l8.8 8.8l-8.8 8.8l-8.8 -8.8z"/><path d="M1404.5 1825.0l8.8 8.8l-8.8 8.8l-8.8 -8.8z"/><path d="M1398.8 1837.9l8.8 8.8l-8.8 8.8l-8.8 -8.8z"/><path d="M1410.7 1851.4l8.8 8.8l-8.8 8.8l-8.8 -8.8z"/><path d="M1414.4 1864.9l8.8 8.8l-8.8 8.8l-8.8 -8.8z"/><path d="M1412.5 1891.8l8.8 8.8l-8.8 8.8l-8.8 -8.8z"/><path d="M1400.8 1918.8l8.8 8.8l-8.8 8.8l-8.8 -8.8z"/><path d="M1409.9 1945.8l8.8 8.8l-8.8 8.8l-8.8 -8.8z"/><path d="M1400.8 1972.2l8.8 8.8l-8.8 8.8l-8.8 -8.8z"/><path d="M1398.8 1999.7l8.8 8.8l-8.8 8.8l-8.8 -8.8z"/><path d="M1397.1 2026.6l8.8 8.8l-8.8 8.8l-8.8 -8.8z"/><path d="M1395.2 2053.6l8.8 8.8l-8.8 8.8l-8.8 -8.8z"/></g>
<g fill="none" stroke="#228b22" stroke-width="2"><path d="M1233.9 1751.6 L1225.1 1760.4 L1360.1 1792.8 L1369.2 1814.4 L1381.5 1860.2 L1381.5 1927.6 L1380.7 2062.4" fill="none" stroke-width="1.8" stroke-linejoin="round"/><path d="M1233.9 1742.8l8.8 8.8l-8.8 8.8l-8.8 -8.8z"/><path d="M1225.1 1751.6l8.8 8.8l-8.8 8.8l-8.8 -8.8z"/><path d="M1360.1 1784.0l8.8 8.8l-8.8 8.8l-8.8 -8.8z"/><path d="M1369.2 1805.6l8.8 8.8l-8.8 8.8l-8.8 -8.8z"/><path d="M1381.5 1851.4l8.8 8.8l-8.8 8.8l-8.8 -8.8z"/><path d="M1381.5 1918.8l8.8 8.8l-8.8 8.8l-8.8 -8.8z"/><path d="M1380.7 2053.6l8.8 8.8l-8.8 8.8l-8.8 -8.8z"/></g>
<g fill="none" stroke="#00e600" stroke-width="2"><path d="M1360.1 1792.8 L1400.8 1814.4 L1407.1 1860.2 L1401.7 1927.6 L1391.5 2062.4" fill="none" stroke-width="1.8" stroke-linejoin="round"/><path d="M1360.1 1784.0l8.8 8.8l-8.8 8.8l-8.8 -8.8z"/><path d="M1400.8 1805.6l8.8 8.8l-8.8 8.8l-8.8 -8.8z"/><path d="M1407.1 1851.4l8.8 8.8l-8.8 8.8l-8.8 -8.8z"/><path d="M1401.7 1918.8l8.8 8.8l-8.8 8.8l-8.8 -8.8z"/><path d="M1391.5 2053.6l8.8 8.8l-8.8 8.8l-8.8 -8.8z"/></g>
<g fill="none" stroke="#b4c882" stroke-width="2"><path d="M1113.4 1725.9 L1325.5 1765.6 L1381.1 1792.8 L1389.8 1860.2 L1389.8 1927.6 L1386.1 2062.4" fill="none" stroke-width="1.8" stroke-linejoin="round"/><path d="M1113.4 1717.1l8.8 8.8l-8.8 8.8l-8.8 -8.8z"/><path d="M1325.5 1756.8l8.8 8.8l-8.8 8.8l-8.8 -8.8z"/><path d="M1381.1 1784.0l8.8 8.8l-8.8 8.8l-8.8 -8.8z"/><path d="M1389.8 1851.4l8.8 8.8l-8.8 8.8l-8.8 -8.8z"/><path d="M1389.8 1918.8l8.8 8.8l-8.8 8.8l-8.8 -8.8z"/><path d="M1386.1 2053.6l8.8 8.8l-8.8 8.8l-8.8 -8.8z"/></g>
<g fill="none" stroke="#00ffff" stroke-width="2"><path d="M1208.6 1725.9 L1316.6 1744.0 L1380.7 1792.8 L1373.3 1860.2 L1375.3 1927.6 L1368.8 1995.0 L1364.2 2062.4" fill="none" stroke-width="1.8" stroke-linejoin="round"/><path d="M1208.6 1717.1l8.8 8.8l-8.8 8.8l-8.8 -8.8z"/><path d="M1316.6 1735.2l8.8 8.8l-8.8 8.8l-8.8 -8.8z"/><path d="M1380.7 1784.0l8.8 8.8l-8.8 8.8l-8.8 -8.8z"/><path d="M1373.3 1851.4l8.8 8.8l-8.8 8.8l-8.8 -8.8z"/><path d="M1375.3 1918.8l8.8 8.8l-8.8 8.8l-8.8 -8.8z"/><path d="M1368.8 1986.2l8.8 8.8l-8.8 8.8l-8.8 -8.8z"/><path d="M1364.2 2053.6l8.8 8.8l-8.8 8.8l-8.8 -8.8z"/></g>
<line x1="1066.90" y1="1523.20" x2="1502.70" y2="1523.20" stroke="#000" stroke-width="3.4" />
<line x1="1068.40" y1="1510.20" x2="1068.40" y2="1523.20" stroke="#000" stroke-width="2.6" />
<line x1="1085.71" y1="1514.70" x2="1085.71" y2="1523.20" stroke="#000" stroke-width="2.4" />
<line x1="1103.02" y1="1514.70" x2="1103.02" y2="1523.20" stroke="#000" stroke-width="2.4" />
<line x1="1120.34" y1="1514.70" x2="1120.34" y2="1523.20" stroke="#000" stroke-width="2.4" />
<line x1="1137.65" y1="1514.70" x2="1137.65" y2="1523.20" stroke="#000" stroke-width="2.4" />
<line x1="1154.96" y1="1510.20" x2="1154.96" y2="1523.20" stroke="#000" stroke-width="2.6" />
<line x1="1172.27" y1="1514.70" x2="1172.27" y2="1523.20" stroke="#000" stroke-width="2.4" />
<line x1="1189.58" y1="1514.70" x2="1189.58" y2="1523.20" stroke="#000" stroke-width="2.4" />
<line x1="1206.90" y1="1514.70" x2="1206.90" y2="1523.20" stroke="#000" stroke-width="2.4" />
<line x1="1224.21" y1="1514.70" x2="1224.21" y2="1523.20" stroke="#000" stroke-width="2.4" />
<line x1="1241.52" y1="1510.20" x2="1241.52" y2="1523.20" stroke="#000" stroke-width="2.6" />
<line x1="1258.83" y1="1514.70" x2="1258.83" y2="1523.20" stroke="#000" stroke-width="2.4" />
<line x1="1276.14" y1="1514.70" x2="1276.14" y2="1523.20" stroke="#000" stroke-width="2.4" />
<line x1="1293.46" y1="1514.70" x2="1293.46" y2="1523.20" stroke="#000" stroke-width="2.4" />
<line x1="1310.77" y1="1514.70" x2="1310.77" y2="1523.20" stroke="#000" stroke-width="2.4" />
<line x1="1328.08" y1="1510.20" x2="1328.08" y2="1523.20" stroke="#000" stroke-width="2.6" />
<line x1="1345.39" y1="1514.70" x2="1345.39" y2="1523.20" stroke="#000" stroke-width="2.4" />
<line x1="1362.70" y1="1514.70" x2="1362.70" y2="1523.20" stroke="#000" stroke-width="2.4" />
<line x1="1380.02" y1="1514.70" x2="1380.02" y2="1523.20" stroke="#000" stroke-width="2.4" />
<line x1="1397.33" y1="1514.70" x2="1397.33" y2="1523.20" stroke="#000" stroke-width="2.4" />
<line x1="1414.64" y1="1510.20" x2="1414.64" y2="1523.20" stroke="#000" stroke-width="2.6" />
<line x1="1431.95" y1="1514.70" x2="1431.95" y2="1523.20" stroke="#000" stroke-width="2.4" />
<line x1="1449.26" y1="1514.70" x2="1449.26" y2="1523.20" stroke="#000" stroke-width="2.4" />
<line x1="1466.58" y1="1514.70" x2="1466.58" y2="1523.20" stroke="#000" stroke-width="2.4" />
<line x1="1483.89" y1="1514.70" x2="1483.89" y2="1523.20" stroke="#000" stroke-width="2.4" />
<line x1="1501.20" y1="1510.20" x2="1501.20" y2="1523.20" stroke="#000" stroke-width="2.6" />
<text x="1068.40" y="1495.50" font-family='"Liberation Serif","DejaVu Serif",serif' font-size="29" font-weight="bold" font-style="normal" fill="#000" text-anchor="middle" >0</text>
<text x="1154.96" y="1495.50" font-family='"Liberation Serif","DejaVu Serif",serif' font-size="29" font-weight="bold" font-style="normal" fill="#000" text-anchor="middle" >4</text>
<text x="1241.52" y="1495.50" font-family='"Liberation Serif","DejaVu Serif",serif' font-size="29" font-weight="bold" font-style="normal" fill="#000" text-anchor="middle" >8</text>
<text x="1328.08" y="1495.50" font-family='"Liberation Serif","DejaVu Serif",serif' font-size="29" font-weight="bold" font-style="normal" fill="#000" text-anchor="middle" >12</text>
<text x="1414.64" y="1495.50" font-family='"Liberation Serif","DejaVu Serif",serif' font-size="29" font-weight="bold" font-style="normal" fill="#000" text-anchor="middle" >16</text>
<text x="1501.20" y="1495.50" font-family='"Liberation Serif","DejaVu Serif",serif' font-size="29" font-weight="bold" font-style="normal" fill="#000" text-anchor="middle" >20</text>
<text x="1476.50" y="1554.00" font-family='"Liberation Serif","DejaVu Serif",serif' font-size="28" font-weight="bold" font-style="normal" fill="#000" text-anchor="middle" >H</text>
<text x="1283.70" y="1436.40" font-family='"Liberation Serif","DejaVu Serif",serif' font-size="29.5" font-weight="bold" font-style="normal" fill="#000" text-anchor="middle" >N/P ratio</text>
</g>
</svg>
</body></html>
